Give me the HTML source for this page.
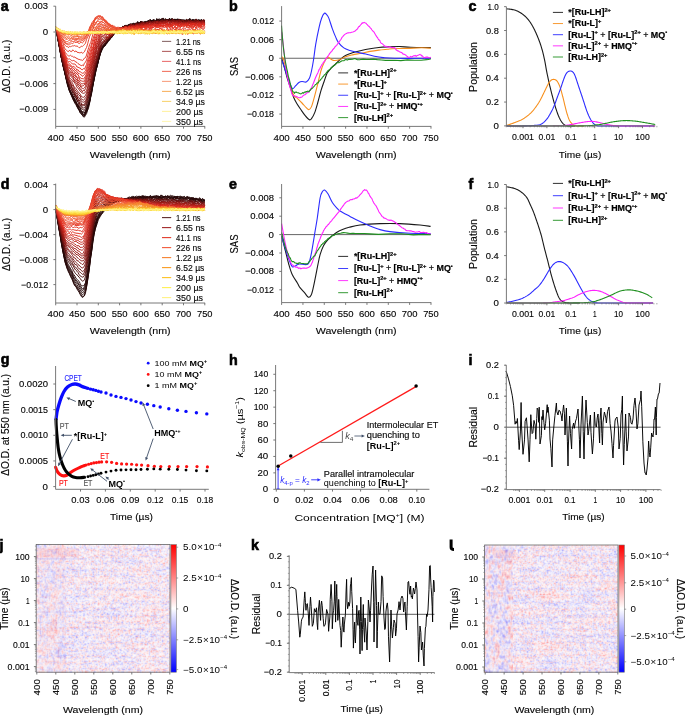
<!DOCTYPE html><html><head><meta charset="utf-8"><style>html,body{margin:0;padding:0;background:#fff;}svg{display:block;will-change:transform;}text{font-family:"Liberation Sans",sans-serif;}</style></head><body><svg width="685" height="715" viewBox="0 0 685 715" font-family="Liberation Sans, sans-serif">
<rect width="685" height="715" fill="#fff"/>
<text x="0.8" y="11" font-size="14.3" font-weight="bold" fill="#000" stroke="#000" stroke-width="0.6">a</text>
<path d="M55.7 27.54 L56.76 32.44 L57.83 39.16 L58.89 44.05 L59.96 50.84 L61.02 56.7 L62.09 60.73 L63.15 66.23 L64.21 70.78 L65.28 75.05 L66.34 79.68 L67.41 84.66 L68.47 87.86 L69.54 91.55 L70.6 93.78 L71.66 96.21 L72.73 98.9 L73.79 101.12 L74.86 103.29 L75.92 104.69 L76.98 106.77 L78.05 108.89 L79.11 110.58 L80.18 113.04 L81.24 114.05 L82.31 115.35 L83.37 116.12 L84.43 117.11 L85.5 115.15 L86.56 113.66 L87.63 109.99 L88.69 107.31 L89.76 102.48 L90.82 96.14 L91.88 92.6 L92.95 85.46 L94.01 79.93 L95.08 75.01 L96.14 70.06 L97.21 65.83 L98.27 61.45 L99.33 57.74 L100.4 53.93 L101.46 50.94 L102.53 49.06 L103.59 46.96 L104.66 45.91 L105.72 43.54 L106.78 43.78 L107.85 42.07 L108.91 40.69 L109.98 39.91 L111.04 36.42 L112.11 37.23 L113.17 34.81 L114.23 33.73 L115.3 31.48 L116.36 32.96 L117.43 29.36 L118.49 30.09 L119.56 28.93 L120.62 28.85 L121.68 27.3 L122.75 28.47 L123.81 27.26 L124.88 26.53 L125.94 24.9 L127 28.22 L128.07 24.52 L129.13 24.72 L130.2 25.67 L131.26 24.73 L132.33 25.13 L133.39 23.06 L134.45 24.04 L135.52 24.16 L136.58 23.93 L137.65 23.66 L138.71 23.41 L139.78 23.8 L140.84 21.05 L141.9 24.26 L142.97 25.51 L144.03 22.32 L145.1 22.15 L146.16 21.52 L147.23 21.83 L148.29 21.61 L149.35 21.03 L150.42 20.33 L151.48 21.4 L152.55 21.2 L153.61 19.09 L154.68 20.2 L155.74 21.41 L156.8 18.49 L157.87 19.75 L158.93 20.86 L160 21.3 L161.06 19.97 L162.12 20.88 L163.19 21.01 L164.25 21.15 L165.32 20.41 L166.38 18.97 L167.45 20.25 L168.51 21.08 L169.57 19.22 L170.64 19.72 L171.7 19.03 L172.77 18.72 L173.83 19.92 L174.9 19.94 L175.96 19.92 L177.02 20.95 L178.09 19.5 L179.15 19 L180.22 20.13 L181.28 20.57 L182.35 20.65 L183.41 21.15 L184.47 21.21 L185.54 20.89 L186.6 21.29 L187.67 20.96 L188.73 21.96 L189.8 20.31 L190.86 20.58 L191.92 21.63 L192.99 22.63 L194.05 20.67 L195.12 19.72 L196.18 21.31 L197.25 21.11 L198.31 21.2 L199.37 20.16 L200.44 21.52 L201.5 19.9 L202.57 21.03 L203.63 19.99 L204.69 20.77" fill="none" stroke="#260808" stroke-width="0.95" stroke-linejoin="round"/>
<path d="M55.7 27.71 L56.76 33.78 L57.83 38.93 L58.89 44.58 L59.96 50.23 L61.02 56.28 L62.09 61.9 L63.15 65.92 L64.21 70.05 L65.28 75.29 L66.34 80.26 L67.41 84.59 L68.47 87.46 L69.54 90.46 L70.6 93.73 L71.66 95.43 L72.73 98.08 L73.79 100.34 L74.86 101.4 L75.92 103.72 L76.98 106.61 L78.05 108.23 L79.11 109.89 L80.18 112.21 L81.24 113.58 L82.31 114.63 L83.37 116.93 L84.43 115.98 L85.5 114.04 L86.56 111.83 L87.63 109.89 L88.69 105.47 L89.76 101.66 L90.82 95.9 L91.88 90.65 L92.95 85.27 L94.01 80.03 L95.08 74.71 L96.14 69.44 L97.21 66.17 L98.27 61.36 L99.33 57.02 L100.4 53.46 L101.46 49.11 L102.53 48.26 L103.59 45.61 L104.66 46.36 L105.72 45.09 L106.78 42.18 L107.85 41.06 L108.91 40.27 L109.98 38.79 L111.04 38.33 L112.11 36.28 L113.17 35.17 L114.23 33.57 L115.3 31.87 L116.36 31.21 L117.43 29.98 L118.49 30.08 L119.56 29.2 L120.62 28.2 L121.68 28.12 L122.75 26.43 L123.81 27.98 L124.88 25.24 L125.94 27.36 L127 25.27 L128.07 26.53 L129.13 24.16 L130.2 25.18 L131.26 24.69 L132.33 24.13 L133.39 25.06 L134.45 25.16 L135.52 25.76 L136.58 22.73 L137.65 24.14 L138.71 23.82 L139.78 23.11 L140.84 21.16 L141.9 24.15 L142.97 22.24 L144.03 22.6 L145.1 21.61 L146.16 23.43 L147.23 22.04 L148.29 20.81 L149.35 20.02 L150.42 19.83 L151.48 21.8 L152.55 20.88 L153.61 20.91 L154.68 21.89 L155.74 21.86 L156.8 19.88 L157.87 20.25 L158.93 20.52 L160 19.29 L161.06 21.14 L162.12 19.76 L163.19 20.14 L164.25 20.13 L165.32 19.6 L166.38 19.82 L167.45 19.69 L168.51 19.65 L169.57 18.18 L170.64 20.09 L171.7 18.93 L172.77 19.28 L173.83 20.12 L174.9 19.17 L175.96 20.66 L177.02 19.02 L178.09 20.81 L179.15 20.64 L180.22 20.04 L181.28 19.68 L182.35 19.68 L183.41 19.75 L184.47 20.73 L185.54 21.4 L186.6 20.13 L187.67 20.36 L188.73 21.45 L189.8 19.81 L190.86 20.48 L191.92 21.49 L192.99 20.29 L194.05 21.82 L195.12 21.45 L196.18 20.36 L197.25 22.06 L198.31 20.7 L199.37 21.91 L200.44 20.13 L201.5 21.4 L202.57 20.64 L203.63 22.1 L204.69 21.12" fill="none" stroke="#260808" stroke-width="0.95" stroke-linejoin="round"/>
<path d="M55.7 27.1 L56.76 32.72 L57.83 39.42 L58.89 43.83 L59.96 49.95 L61.02 56.43 L62.09 60.62 L63.15 66.47 L64.21 70.38 L65.28 74.4 L66.34 79.09 L67.41 83.43 L68.47 88.12 L69.54 91.3 L70.6 92.67 L71.66 95.95 L72.73 97.47 L73.79 100.17 L74.86 101.03 L75.92 103.25 L76.98 105.46 L78.05 107.76 L79.11 109.61 L80.18 111.51 L81.24 112.79 L82.31 114.3 L83.37 115.2 L84.43 115.79 L85.5 112.87 L86.56 111.36 L87.63 107.88 L88.69 104.36 L89.76 101.09 L90.82 96.5 L91.88 89.77 L92.95 85.07 L94.01 79.09 L95.08 74.07 L96.14 69.36 L97.21 65.9 L98.27 61.28 L99.33 57.17 L100.4 53.01 L101.46 51.26 L102.53 47.62 L103.59 46.32 L104.66 46.02 L105.72 44.15 L106.78 42.53 L107.85 40.95 L108.91 40.02 L109.98 37.97 L111.04 37.28 L112.11 36.43 L113.17 34.97 L114.23 33.06 L115.3 32.65 L116.36 30.54 L117.43 29.43 L118.49 28.99 L119.56 27.97 L120.62 28.47 L121.68 27.91 L122.75 28.06 L123.81 27.78 L124.88 28.24 L125.94 27.03 L127 27.14 L128.07 27.14 L129.13 25.49 L130.2 24.95 L131.26 25.37 L132.33 23.64 L133.39 23.75 L134.45 23.42 L135.52 24.59 L136.58 25.11 L137.65 23.11 L138.71 23.09 L139.78 22.51 L140.84 22.56 L141.9 21.63 L142.97 22.76 L144.03 21.74 L145.1 22.89 L146.16 23.92 L147.23 22.14 L148.29 20.29 L149.35 22.86 L150.42 20.39 L151.48 21.7 L152.55 21.33 L153.61 20.83 L154.68 20.58 L155.74 21.51 L156.8 20.48 L157.87 20.14 L158.93 19.74 L160 21.04 L161.06 19 L162.12 18.63 L163.19 18.12 L164.25 21.29 L165.32 19.93 L166.38 21.62 L167.45 19.65 L168.51 19.46 L169.57 20.89 L170.64 21.24 L171.7 19.7 L172.77 19.32 L173.83 20.55 L174.9 20.14 L175.96 22.15 L177.02 20.67 L178.09 20.04 L179.15 20.14 L180.22 19 L181.28 21.42 L182.35 22.44 L183.41 20.17 L184.47 21.1 L185.54 20.37 L186.6 20.02 L187.67 20.14 L188.73 19.43 L189.8 19.51 L190.86 22.12 L191.92 20.75 L192.99 18.99 L194.05 21.07 L195.12 19.89 L196.18 20.78 L197.25 21.11 L198.31 19.4 L199.37 19.88 L200.44 21 L201.5 20.03 L202.57 21.96 L203.63 21.47 L204.69 20.09" fill="none" stroke="#260808" stroke-width="0.95" stroke-linejoin="round"/>
<path d="M55.7 27.56 L56.76 33.42 L57.83 38.1 L58.89 43.98 L59.96 49.56 L61.02 55.53 L62.09 61.26 L63.15 65.92 L64.21 70.13 L65.28 74.78 L66.34 78.67 L67.41 82.89 L68.47 86.44 L69.54 89.73 L70.6 92.51 L71.66 94.23 L72.73 97.05 L73.79 98.82 L74.86 101.86 L75.92 103.28 L76.98 104.39 L78.05 107.66 L79.11 109.75 L80.18 110.77 L81.24 111.45 L82.31 112.99 L83.37 114.91 L84.43 115.09 L85.5 113.17 L86.56 111.25 L87.63 107.84 L88.69 104.46 L89.76 100.67 L90.82 95.22 L91.88 89.87 L92.95 84.66 L94.01 79.1 L95.08 72.88 L96.14 67.9 L97.21 64.92 L98.27 60.97 L99.33 56.24 L100.4 52.73 L101.46 50.1 L102.53 47 L103.59 46.75 L104.66 45.27 L105.72 43.91 L106.78 42.84 L107.85 41.26 L108.91 39.6 L109.98 37.84 L111.04 36.88 L112.11 35.84 L113.17 35.23 L114.23 33.46 L115.3 32.81 L116.36 31.36 L117.43 29.49 L118.49 29.35 L119.56 29.06 L120.62 29.01 L121.68 27.96 L122.75 27.5 L123.81 28.1 L124.88 27.38 L125.94 25.84 L127 27.7 L128.07 26.34 L129.13 26.67 L130.2 24.06 L131.26 24.61 L132.33 24.43 L133.39 24.28 L134.45 24.13 L135.52 23.88 L136.58 25.25 L137.65 23.43 L138.71 22.91 L139.78 24.43 L140.84 22.28 L141.9 22.21 L142.97 23.89 L144.03 22.79 L145.1 22.46 L146.16 22.46 L147.23 21.49 L148.29 22.75 L149.35 21.68 L150.42 21.14 L151.48 20.57 L152.55 21.02 L153.61 21.15 L154.68 20.25 L155.74 22.46 L156.8 19.86 L157.87 20.86 L158.93 21.6 L160 20.84 L161.06 21.98 L162.12 22.1 L163.19 20.55 L164.25 20.87 L165.32 19.52 L166.38 20.86 L167.45 21.16 L168.51 20.83 L169.57 18.5 L170.64 19.92 L171.7 20.46 L172.77 20.78 L173.83 20.89 L174.9 20.12 L175.96 19.68 L177.02 19.14 L178.09 19.24 L179.15 20.1 L180.22 20.99 L181.28 21.24 L182.35 22.55 L183.41 21.49 L184.47 20.28 L185.54 20.96 L186.6 20.37 L187.67 21.86 L188.73 19.94 L189.8 20.47 L190.86 20.7 L191.92 20.4 L192.99 22.68 L194.05 21.24 L195.12 21.54 L196.18 19.22 L197.25 20.95 L198.31 21.24 L199.37 20.09 L200.44 21.74 L201.5 19.63 L202.57 21.48 L203.63 20.94 L204.69 21.7" fill="none" stroke="#260808" stroke-width="0.95" stroke-linejoin="round"/>
<path d="M55.7 27.16 L56.76 33.91 L57.83 37.85 L58.89 44.41 L59.96 50.01 L61.02 56.4 L62.09 60.76 L63.15 65.31 L64.21 69.47 L65.28 74.19 L66.34 78.76 L67.41 82.82 L68.47 86.93 L69.54 90.09 L70.6 92.56 L71.66 93.84 L72.73 96.53 L73.79 97.85 L74.86 100.4 L75.92 102.99 L76.98 104.05 L78.05 105.49 L79.11 108.43 L80.18 110.51 L81.24 112.07 L82.31 112.59 L83.37 114.32 L84.43 114.33 L85.5 112.04 L86.56 110.03 L87.63 107.07 L88.69 103.85 L89.76 99.52 L90.82 94.15 L91.88 88.99 L92.95 83.27 L94.01 78.17 L95.08 72.6 L96.14 68.1 L97.21 64.22 L98.27 59.98 L99.33 55.55 L100.4 52.13 L101.46 49.31 L102.53 47.91 L103.59 45.77 L104.66 44.7 L105.72 43.53 L106.78 42.64 L107.85 40.7 L108.91 38.46 L109.98 38.27 L111.04 37.1 L112.11 35.59 L113.17 34.86 L114.23 33.36 L115.3 32.67 L116.36 31.83 L117.43 30.14 L118.49 29.35 L119.56 29 L120.62 29.07 L121.68 27.75 L122.75 28.56 L123.81 26.67 L124.88 27.28 L125.94 26.64 L127 25.64 L128.07 25.53 L129.13 26.83 L130.2 25.66 L131.26 24.87 L132.33 25.87 L133.39 26.75 L134.45 24.5 L135.52 24.23 L136.58 23.58 L137.65 23.65 L138.71 23.38 L139.78 23.06 L140.84 21.87 L141.9 22.43 L142.97 22.18 L144.03 22.79 L145.1 21.3 L146.16 22.24 L147.23 21.26 L148.29 23.54 L149.35 21.35 L150.42 21.49 L151.48 21.66 L152.55 20.03 L153.61 20.67 L154.68 21.04 L155.74 21.27 L156.8 19.13 L157.87 20.03 L158.93 20.04 L160 21.19 L161.06 19.36 L162.12 19.94 L163.19 20.57 L164.25 20.36 L165.32 21.61 L166.38 19.6 L167.45 21.05 L168.51 19.35 L169.57 20.42 L170.64 20.55 L171.7 19.69 L172.77 19.82 L173.83 20.98 L174.9 20.11 L175.96 19.59 L177.02 20.41 L178.09 21.45 L179.15 20.6 L180.22 21.31 L181.28 21.05 L182.35 20.58 L183.41 20.71 L184.47 20.88 L185.54 22.14 L186.6 20.44 L187.67 20.92 L188.73 21.11 L189.8 20.64 L190.86 19.13 L191.92 21.9 L192.99 22.18 L194.05 20.15 L195.12 21.49 L196.18 19.71 L197.25 21.68 L198.31 21.27 L199.37 20.15 L200.44 20.1 L201.5 20.52 L202.57 20.53 L203.63 21.05 L204.69 21.34" fill="none" stroke="#260808" stroke-width="0.95" stroke-linejoin="round"/>
<path d="M55.7 27.68 L56.76 32.04 L57.83 37.68 L58.89 43.78 L59.96 49.64 L61.02 55.12 L62.09 59.98 L63.15 65.16 L64.21 69.47 L65.28 73.8 L66.34 77.32 L67.41 82.75 L68.47 85.56 L69.54 89.71 L70.6 90.87 L71.66 94.28 L72.73 96.23 L73.79 98.03 L74.86 99.78 L75.92 101.64 L76.98 103.57 L78.05 105.6 L79.11 107.76 L80.18 107.88 L81.24 110.6 L82.31 111.86 L83.37 112.11 L84.43 112.73 L85.5 111.21 L86.56 108.98 L87.63 105.27 L88.69 103.23 L89.76 98.8 L90.82 93.3 L91.88 89.3 L92.95 83.2 L94.01 76.6 L95.08 72.32 L96.14 67.6 L97.21 63.29 L98.27 60.3 L99.33 55.41 L100.4 52.09 L101.46 49.49 L102.53 47.17 L103.59 45.64 L104.66 44.57 L105.72 43.46 L106.78 41.52 L107.85 40.23 L108.91 39.35 L109.98 38.43 L111.04 37.6 L112.11 36.17 L113.17 35.08 L114.23 33.28 L115.3 31.85 L116.36 30.52 L117.43 30.38 L118.49 29.9 L119.56 28.79 L120.62 28.33 L121.68 27.51 L122.75 26.42 L123.81 27.97 L124.88 25.25 L125.94 28.49 L127 27.89 L128.07 27.36 L129.13 26.66 L130.2 25.71 L131.26 23.5 L132.33 25.6 L133.39 23.82 L134.45 24.82 L135.52 24.14 L136.58 24.9 L137.65 21.86 L138.71 23.6 L139.78 23.87 L140.84 21.2 L141.9 22.78 L142.97 22.38 L144.03 22.66 L145.1 23.06 L146.16 23.38 L147.23 22.14 L148.29 20.44 L149.35 21.29 L150.42 21.65 L151.48 20.46 L152.55 22.02 L153.61 19.94 L154.68 21.02 L155.74 21.62 L156.8 20.26 L157.87 20.32 L158.93 20.99 L160 20.45 L161.06 19.74 L162.12 19.31 L163.19 21.15 L164.25 22.6 L165.32 18.56 L166.38 20.48 L167.45 20.56 L168.51 19.8 L169.57 20.5 L170.64 19.22 L171.7 21.15 L172.77 20.26 L173.83 21.17 L174.9 18.84 L175.96 20.41 L177.02 19.35 L178.09 19.19 L179.15 21.49 L180.22 20.75 L181.28 20.02 L182.35 20.65 L183.41 20.85 L184.47 20.05 L185.54 20.01 L186.6 21.31 L187.67 20.93 L188.73 20.28 L189.8 20.66 L190.86 20.72 L191.92 21.81 L192.99 19.36 L194.05 21.06 L195.12 20.65 L196.18 20.91 L197.25 20.84 L198.31 20.78 L199.37 21.64 L200.44 20.62 L201.5 19.94 L202.57 20.64 L203.63 20.39 L204.69 20.61" fill="none" stroke="#260808" stroke-width="0.95" stroke-linejoin="round"/>
<path d="M55.7 27.55 L56.76 31.65 L57.83 38.21 L58.89 43.36 L59.96 49.01 L61.02 55.09 L62.09 60.78 L63.15 65.27 L64.21 68.22 L65.28 74.01 L66.34 78.17 L67.41 82.05 L68.47 85.57 L69.54 89.19 L70.6 91.59 L71.66 92.88 L72.73 95.3 L73.79 97.04 L74.86 98.83 L75.92 100.79 L76.98 103.56 L78.05 105.67 L79.11 106.12 L80.18 108.59 L81.24 110.44 L82.31 112.24 L83.37 111.86 L84.43 112.83 L85.5 111 L86.56 107.78 L87.63 105.02 L88.69 101.34 L89.76 97.93 L90.82 93.86 L91.88 87.81 L92.95 82.04 L94.01 76.66 L95.08 70.81 L96.14 66.73 L97.21 63.46 L98.27 58.74 L99.33 55.02 L100.4 51.48 L101.46 47.86 L102.53 47.44 L103.59 44.69 L104.66 43.48 L105.72 43.9 L106.78 41.86 L107.85 40.7 L108.91 40.05 L109.98 38.54 L111.04 37.37 L112.11 35.64 L113.17 34.76 L114.23 34.47 L115.3 31.7 L116.36 30.53 L117.43 31.1 L118.49 28.86 L119.56 27.24 L120.62 29.81 L121.68 28.42 L122.75 28.17 L123.81 26.96 L124.88 27.36 L125.94 27.96 L127 25.36 L128.07 26.42 L129.13 25.24 L130.2 23.63 L131.26 25.97 L132.33 25.44 L133.39 24.06 L134.45 24.69 L135.52 23.91 L136.58 24.13 L137.65 21.48 L138.71 23.12 L139.78 23.15 L140.84 23.12 L141.9 22.69 L142.97 24.23 L144.03 22.87 L145.1 21.81 L146.16 23.3 L147.23 22.05 L148.29 22 L149.35 22.2 L150.42 19.46 L151.48 20.85 L152.55 21.05 L153.61 21.89 L154.68 21.04 L155.74 21.28 L156.8 21.02 L157.87 20.68 L158.93 18.65 L160 19.59 L161.06 19.21 L162.12 19.43 L163.19 18.11 L164.25 21.03 L165.32 21.51 L166.38 20.18 L167.45 20.09 L168.51 20.24 L169.57 20.77 L170.64 19.62 L171.7 18.71 L172.77 20 L173.83 20.4 L174.9 19.21 L175.96 20.56 L177.02 20.68 L178.09 20.2 L179.15 22.52 L180.22 19.02 L181.28 20.81 L182.35 20.33 L183.41 20.55 L184.47 20.49 L185.54 22.01 L186.6 19.35 L187.67 20.4 L188.73 20.64 L189.8 18.2 L190.86 22 L191.92 20.28 L192.99 21.01 L194.05 22.22 L195.12 19.27 L196.18 22.29 L197.25 20.84 L198.31 21.05 L199.37 20.83 L200.44 21.82 L201.5 19.85 L202.57 20.83 L203.63 22.17 L204.69 22.14" fill="none" stroke="#2a0808" stroke-width="0.95" stroke-linejoin="round"/>
<path d="M55.7 27.42 L56.76 32.93 L57.83 37.23 L58.89 42.87 L59.96 49.23 L61.02 55.54 L62.09 60.14 L63.15 63.68 L64.21 68.36 L65.28 71.55 L66.34 77.28 L67.41 80.9 L68.47 83.92 L69.54 86.77 L70.6 88.88 L71.66 90.64 L72.73 93.24 L73.79 94.92 L74.86 97.19 L75.92 97.89 L76.98 100.77 L78.05 102.31 L79.11 106.03 L80.18 106.36 L81.24 108.22 L82.31 108.95 L83.37 110.05 L84.43 110.37 L85.5 108.26 L86.56 105.31 L87.63 102.24 L88.69 99.52 L89.76 94.41 L90.82 90.46 L91.88 84.83 L92.95 80.27 L94.01 73.83 L95.08 68.23 L96.14 65.33 L97.21 60.66 L98.27 58.27 L99.33 53.91 L100.4 48.64 L101.46 47.36 L102.53 45.32 L103.59 45.18 L104.66 43.29 L105.72 42.6 L106.78 40.6 L107.85 40.44 L108.91 37.77 L109.98 38.5 L111.04 36.55 L112.11 36.54 L113.17 34.57 L114.23 32.68 L115.3 32.36 L116.36 32.44 L117.43 30.01 L118.49 28.86 L119.56 28.68 L120.62 27.72 L121.68 29.4 L122.75 26.28 L123.81 26.95 L124.88 29.04 L125.94 25.29 L127 27 L128.07 25.86 L129.13 27.73 L130.2 26.31 L131.26 27.09 L132.33 24.55 L133.39 25.23 L134.45 25.59 L135.52 24.88 L136.58 23.36 L137.65 24.77 L138.71 23.39 L139.78 24.68 L140.84 24.88 L141.9 23.66 L142.97 23.29 L144.03 22.7 L145.1 21.86 L146.16 22.85 L147.23 22.63 L148.29 21.5 L149.35 21.63 L150.42 21.89 L151.48 21.5 L152.55 23.46 L153.61 21.93 L154.68 22.74 L155.74 21.57 L156.8 20.41 L157.87 22.56 L158.93 20.25 L160 21.47 L161.06 21.1 L162.12 21.25 L163.19 20.16 L164.25 21.28 L165.32 22.43 L166.38 20.31 L167.45 20.67 L168.51 19.97 L169.57 19.96 L170.64 21.49 L171.7 20.26 L172.77 20.33 L173.83 20.51 L174.9 20.39 L175.96 20.26 L177.02 21.08 L178.09 20.82 L179.15 19.93 L180.22 21.77 L181.28 20.99 L182.35 21.84 L183.41 21.92 L184.47 21.39 L185.54 20.9 L186.6 19.75 L187.67 21.24 L188.73 20.27 L189.8 20.61 L190.86 21.02 L191.92 23.75 L192.99 20.98 L194.05 21.05 L195.12 21.99 L196.18 21 L197.25 19.85 L198.31 22.13 L199.37 21.59 L200.44 20.39 L201.5 22.74 L202.57 22.11 L203.63 20.99 L204.69 20.44" fill="none" stroke="#420b0b" stroke-width="0.95" stroke-linejoin="round"/>
<path d="M55.7 26.92 L56.76 31.75 L57.83 35.95 L58.89 42.45 L59.96 49.13 L61.02 54.11 L62.09 58.55 L63.15 63.03 L64.21 68.39 L65.28 71.54 L66.34 76.61 L67.41 80.26 L68.47 82.48 L69.54 85.78 L70.6 88.19 L71.66 89.95 L72.73 92.17 L73.79 92.66 L74.86 95.14 L75.92 96.98 L76.98 99.69 L78.05 101.5 L79.11 102.75 L80.18 105.59 L81.24 105.44 L82.31 107.92 L83.37 108.01 L84.43 107.86 L85.5 106.73 L86.56 103.75 L87.63 100.62 L88.69 96.46 L89.76 92.99 L90.82 87.5 L91.88 83.27 L92.95 78.37 L94.01 72.45 L95.08 68.3 L96.14 63.79 L97.21 59.74 L98.27 55.79 L99.33 52.41 L100.4 49.85 L101.46 45.81 L102.53 44.74 L103.59 43.84 L104.66 43.13 L105.72 41.42 L106.78 40.64 L107.85 39.47 L108.91 38.87 L109.98 36.91 L111.04 36.68 L112.11 35.18 L113.17 34.18 L114.23 32.73 L115.3 32.65 L116.36 31.6 L117.43 30.66 L118.49 30.3 L119.56 29.7 L120.62 29.69 L121.68 27.62 L122.75 26.66 L123.81 28.51 L124.88 26.68 L125.94 28.01 L127 27.41 L128.07 26.7 L129.13 26.06 L130.2 25.51 L131.26 27.32 L132.33 26.55 L133.39 25.11 L134.45 25.16 L135.52 22.89 L136.58 24.73 L137.65 24.82 L138.71 23.01 L139.78 26.12 L140.84 25.22 L141.9 21.08 L142.97 23.76 L144.03 22.97 L145.1 23.01 L146.16 23.44 L147.23 22.63 L148.29 23.47 L149.35 21.36 L150.42 21.37 L151.48 21.31 L152.55 22.56 L153.61 23.32 L154.68 21.97 L155.74 22.4 L156.8 21.05 L157.87 22.69 L158.93 22.03 L160 21.06 L161.06 20.74 L162.12 20.96 L163.19 22.05 L164.25 21.47 L165.32 19.11 L166.38 19.97 L167.45 21.44 L168.51 19.06 L169.57 20.78 L170.64 20.65 L171.7 21.34 L172.77 19.32 L173.83 20.54 L174.9 20.73 L175.96 21.5 L177.02 21.88 L178.09 20.71 L179.15 20.94 L180.22 19.68 L181.28 21.86 L182.35 21.44 L183.41 20.31 L184.47 20.48 L185.54 21.77 L186.6 19.95 L187.67 20.8 L188.73 20.44 L189.8 20.92 L190.86 20.38 L191.92 21.57 L192.99 21.4 L194.05 20.29 L195.12 20.89 L196.18 20.92 L197.25 20.27 L198.31 21.06 L199.37 20.93 L200.44 23.19 L201.5 21.77 L202.57 20.64 L203.63 22.13 L204.69 21.65" fill="none" stroke="#520d0c" stroke-width="0.95" stroke-linejoin="round"/>
<path d="M55.7 27.43 L56.76 32.04 L57.83 36.4 L58.89 42.04 L59.96 48.12 L61.02 52.96 L62.09 58.52 L63.15 62.99 L64.21 66.58 L65.28 70.7 L66.34 75.5 L67.41 79.84 L68.47 82.54 L69.54 84.54 L70.6 86.37 L71.66 87.78 L72.73 90.66 L73.79 92.52 L74.86 95.32 L75.92 95.39 L76.98 97.41 L78.05 99.68 L79.11 101.73 L80.18 104.25 L81.24 104 L82.31 106.05 L83.37 105.62 L84.43 105.93 L85.5 103.94 L86.56 102.27 L87.63 98.61 L88.69 96.41 L89.76 90.71 L90.82 86.77 L91.88 82.49 L92.95 76.92 L94.01 71.9 L95.08 66.49 L96.14 62.91 L97.21 59.46 L98.27 55.38 L99.33 51.6 L100.4 48.03 L101.46 45.25 L102.53 43.39 L103.59 42.78 L104.66 41.27 L105.72 42.48 L106.78 40.41 L107.85 38.97 L108.91 39.17 L109.98 37.56 L111.04 36.24 L112.11 36.04 L113.17 34.49 L114.23 32.91 L115.3 32.44 L116.36 30.03 L117.43 28.47 L118.49 29.84 L119.56 30.18 L120.62 28.76 L121.68 28.83 L122.75 29.25 L123.81 28.1 L124.88 27.83 L125.94 27.43 L127 26.03 L128.07 25.63 L129.13 25.93 L130.2 26.34 L131.26 25.43 L132.33 25.53 L133.39 25.13 L134.45 25.93 L135.52 27.51 L136.58 23.88 L137.65 24.93 L138.71 24.62 L139.78 23.99 L140.84 23.82 L141.9 23.83 L142.97 22.07 L144.03 23.09 L145.1 22.82 L146.16 23.6 L147.23 22.76 L148.29 22.12 L149.35 22.42 L150.42 21.93 L151.48 22.88 L152.55 21.63 L153.61 22.71 L154.68 22.11 L155.74 22.3 L156.8 21.41 L157.87 20.55 L158.93 21.17 L160 22.1 L161.06 21.17 L162.12 20.33 L163.19 20.51 L164.25 20.63 L165.32 21.96 L166.38 21.42 L167.45 21.49 L168.51 21.28 L169.57 20.64 L170.64 20.78 L171.7 21.1 L172.77 20.31 L173.83 21.41 L174.9 21.11 L175.96 20.79 L177.02 22.11 L178.09 21.75 L179.15 22.29 L180.22 22.06 L181.28 21.34 L182.35 21.37 L183.41 21 L184.47 21.03 L185.54 22.29 L186.6 19.73 L187.67 20.18 L188.73 22.38 L189.8 21.92 L190.86 21.74 L191.92 21.16 L192.99 20.81 L194.05 21.33 L195.12 23.53 L196.18 18.89 L197.25 20.63 L198.31 20.67 L199.37 22.03 L200.44 21.33 L201.5 20.65 L202.57 21.87 L203.63 20.52 L204.69 21.44" fill="none" stroke="#600f0e" stroke-width="0.95" stroke-linejoin="round"/>
<path d="M55.7 26.74 L56.76 31.76 L57.83 35.78 L58.89 42.72 L59.96 46.85 L61.02 52.79 L62.09 57.97 L63.15 61.47 L64.21 66.22 L65.28 69.88 L66.34 74.13 L67.41 77.86 L68.47 80.15 L69.54 82.86 L70.6 84.27 L71.66 87.08 L72.73 89.18 L73.79 90.83 L74.86 92.81 L75.92 95.2 L76.98 96.28 L78.05 98.71 L79.11 99.89 L80.18 101.42 L81.24 102.98 L82.31 104.47 L83.37 104.56 L84.43 104.5 L85.5 102.06 L86.56 100.01 L87.63 96.84 L88.69 94.01 L89.76 89.73 L90.82 85.55 L91.88 80.54 L92.95 74.62 L94.01 69.85 L95.08 65.12 L96.14 61.32 L97.21 56.59 L98.27 53.89 L99.33 49.68 L100.4 47.06 L101.46 44.11 L102.53 43.62 L103.59 42.87 L104.66 40.84 L105.72 40.76 L106.78 39.72 L107.85 38.57 L108.91 37.76 L109.98 37.01 L111.04 36.72 L112.11 35.42 L113.17 34.04 L114.23 32.81 L115.3 31.96 L116.36 31.02 L117.43 31.17 L118.49 29.81 L119.56 28.41 L120.62 29.52 L121.68 28.9 L122.75 27.32 L123.81 26.47 L124.88 27.17 L125.94 27.21 L127 27.74 L128.07 26.76 L129.13 27.07 L130.2 26.03 L131.26 25.31 L132.33 25.3 L133.39 24.35 L134.45 26.1 L135.52 26.09 L136.58 23.62 L137.65 23.67 L138.71 25.18 L139.78 24.02 L140.84 24.85 L141.9 23.75 L142.97 23.28 L144.03 22.54 L145.1 24.01 L146.16 24.1 L147.23 22.36 L148.29 22.98 L149.35 21.34 L150.42 23.37 L151.48 22.81 L152.55 24.47 L153.61 21.06 L154.68 20.79 L155.74 21.48 L156.8 22.01 L157.87 23.41 L158.93 22.78 L160 22 L161.06 19.85 L162.12 20.64 L163.19 21.83 L164.25 20.88 L165.32 20.71 L166.38 20.7 L167.45 21.88 L168.51 21.43 L169.57 20.18 L170.64 20.41 L171.7 21.28 L172.77 18.9 L173.83 20.75 L174.9 21.37 L175.96 20.29 L177.02 20.43 L178.09 21.3 L179.15 19.72 L180.22 20.4 L181.28 21.36 L182.35 20.81 L183.41 20.87 L184.47 21.7 L185.54 20.84 L186.6 21.92 L187.67 21.67 L188.73 20.9 L189.8 22.53 L190.86 21.75 L191.92 22.28 L192.99 20.85 L194.05 21.95 L195.12 19.9 L196.18 20.16 L197.25 22.06 L198.31 21.36 L199.37 21.82 L200.44 21.54 L201.5 20.99 L202.57 20.32 L203.63 19.76 L204.69 20.07" fill="none" stroke="#6d110f" stroke-width="0.95" stroke-linejoin="round"/>
<path d="M55.7 28.19 L56.76 31.83 L57.83 36.31 L58.89 41.65 L59.96 47.02 L61.02 52.13 L62.09 57.38 L63.15 61.63 L64.21 64.13 L65.28 69.13 L66.34 72.6 L67.41 77.67 L68.47 79.45 L69.54 81.47 L70.6 83.54 L71.66 86.41 L72.73 87.49 L73.79 89.87 L74.86 91.74 L75.92 92.89 L76.98 94.36 L78.05 96.43 L79.11 97.98 L80.18 99.07 L81.24 101.13 L82.31 101.75 L83.37 102.2 L84.43 102.08 L85.5 100.39 L86.56 98.74 L87.63 95.32 L88.69 91.83 L89.76 87.07 L90.82 83.72 L91.88 78 L92.95 73.85 L94.01 67.55 L95.08 63.53 L96.14 59.31 L97.21 55.3 L98.27 51.48 L99.33 49.4 L100.4 45.74 L101.46 44.45 L102.53 42.18 L103.59 41.61 L104.66 40.26 L105.72 39.96 L106.78 39.2 L107.85 39.07 L108.91 37.85 L109.98 37.35 L111.04 35.81 L112.11 35.65 L113.17 33.76 L114.23 32.45 L115.3 30.81 L116.36 30 L117.43 29.36 L118.49 29.12 L119.56 27.9 L120.62 28.85 L121.68 28.13 L122.75 29.76 L123.81 28.32 L124.88 26.61 L125.94 28.77 L127 26.75 L128.07 26.8 L129.13 26.82 L130.2 26 L131.26 26.02 L132.33 26.77 L133.39 25.67 L134.45 26.92 L135.52 23.88 L136.58 24.96 L137.65 23.97 L138.71 25.29 L139.78 22.74 L140.84 23.24 L141.9 23.62 L142.97 23.54 L144.03 23.22 L145.1 24 L146.16 23.33 L147.23 23.23 L148.29 22.57 L149.35 21.43 L150.42 21.62 L151.48 22.24 L152.55 21.81 L153.61 22.48 L154.68 22.55 L155.74 23.43 L156.8 23.05 L157.87 22.91 L158.93 21.89 L160 21.91 L161.06 21.33 L162.12 20.64 L163.19 20.96 L164.25 21.58 L165.32 21.8 L166.38 21.6 L167.45 20.79 L168.51 22.06 L169.57 22.53 L170.64 21.41 L171.7 20.32 L172.77 20.17 L173.83 20.7 L174.9 22.87 L175.96 21.41 L177.02 20.73 L178.09 20.47 L179.15 19.89 L180.22 22.32 L181.28 21.25 L182.35 22.93 L183.41 21.81 L184.47 21.97 L185.54 20.94 L186.6 21.5 L187.67 23.13 L188.73 21.74 L189.8 21.32 L190.86 20.38 L191.92 22.24 L192.99 22.35 L194.05 22.12 L195.12 20.75 L196.18 21.87 L197.25 21.57 L198.31 21.28 L199.37 22.38 L200.44 20.77 L201.5 23.11 L202.57 20.2 L203.63 22.36 L204.69 22.59" fill="none" stroke="#781211" stroke-width="0.95" stroke-linejoin="round"/>
<path d="M55.7 27.93 L56.76 31.98 L57.83 36.31 L58.89 41.43 L59.96 47.12 L61.02 51.87 L62.09 56.22 L63.15 60.79 L64.21 64.32 L65.28 68.88 L66.34 72.46 L67.41 76.28 L68.47 79.32 L69.54 80.76 L70.6 82.67 L71.66 84.63 L72.73 85.98 L73.79 87.31 L74.86 89.83 L75.92 91.1 L76.98 92.19 L78.05 94.16 L79.11 95.3 L80.18 95.89 L81.24 99.1 L82.31 99.4 L83.37 100.34 L84.43 99.18 L85.5 97.88 L86.56 96.41 L87.63 92.07 L88.69 89.05 L89.76 85.07 L90.82 80.36 L91.88 75.6 L92.95 71.21 L94.01 65.93 L95.08 60.53 L96.14 57.93 L97.21 54.26 L98.27 50.26 L99.33 47.82 L100.4 44.51 L101.46 42.01 L102.53 41.39 L103.59 40.39 L104.66 40.16 L105.72 39.22 L106.78 38.43 L107.85 37.91 L108.91 37.06 L109.98 36.17 L111.04 35.08 L112.11 35.13 L113.17 33.65 L114.23 32.08 L115.3 32.19 L116.36 31.48 L117.43 30.49 L118.49 30.46 L119.56 28.84 L120.62 28.9 L121.68 28.69 L122.75 27.62 L123.81 26.97 L124.88 28.93 L125.94 27.87 L127 27.4 L128.07 28.12 L129.13 26.09 L130.2 24.63 L131.26 25.54 L132.33 24.93 L133.39 27.47 L134.45 25.96 L135.52 26.5 L136.58 24.49 L137.65 25.06 L138.71 24.9 L139.78 24.13 L140.84 23.7 L141.9 22.76 L142.97 22.8 L144.03 23.01 L145.1 25.04 L146.16 22.41 L147.23 23.24 L148.29 24.48 L149.35 22.89 L150.42 23.1 L151.48 22.85 L152.55 21.83 L153.61 23.7 L154.68 21.89 L155.74 21.33 L156.8 23.25 L157.87 21.01 L158.93 22.71 L160 22.71 L161.06 21.2 L162.12 21.95 L163.19 23.43 L164.25 22.32 L165.32 21.12 L166.38 22.13 L167.45 22.03 L168.51 21.58 L169.57 21.57 L170.64 22.13 L171.7 22.32 L172.77 21.14 L173.83 20.47 L174.9 23.72 L175.96 21.23 L177.02 20.78 L178.09 22.45 L179.15 20.52 L180.22 23.09 L181.28 21.02 L182.35 20.48 L183.41 20.57 L184.47 24.18 L185.54 21.85 L186.6 22.75 L187.67 21.55 L188.73 20.68 L189.8 21.53 L190.86 20.47 L191.92 23.3 L192.99 22.58 L194.05 22.31 L195.12 21.29 L196.18 20.82 L197.25 22.59 L198.31 22.69 L199.37 21.15 L200.44 23.07 L201.5 21.48 L202.57 22.7 L203.63 22.11 L204.69 20.28" fill="none" stroke="#831412" stroke-width="0.95" stroke-linejoin="round"/>
<path d="M55.7 27.71 L56.76 31.14 L57.83 35.87 L58.89 40.17 L59.96 45.03 L61.02 50.61 L62.09 56.08 L63.15 59.22 L64.21 62.41 L65.28 67.63 L66.34 71.19 L67.41 74.96 L68.47 77.28 L69.54 79.4 L70.6 81.23 L71.66 81.87 L72.73 83.71 L73.79 86.33 L74.86 87.28 L75.92 88.68 L76.98 90.46 L78.05 91.38 L79.11 93.04 L80.18 94.1 L81.24 96.26 L82.31 97.01 L83.37 97.34 L84.43 97.01 L85.5 95.26 L86.56 92.99 L87.63 89.59 L88.69 85.11 L89.76 82.28 L90.82 78.31 L91.88 72.76 L92.95 68.58 L94.01 62.81 L95.08 58.33 L96.14 54.32 L97.21 51.79 L98.27 49.58 L99.33 44.76 L100.4 42.36 L101.46 40.07 L102.53 39.57 L103.59 39.25 L104.66 38.66 L105.72 39.17 L106.78 37.28 L107.85 37.56 L108.91 36.92 L109.98 35.69 L111.04 35.54 L112.11 33.86 L113.17 33.8 L114.23 31.51 L115.3 31.32 L116.36 30.61 L117.43 30.2 L118.49 29.81 L119.56 29.79 L120.62 30.61 L121.68 29.11 L122.75 29.04 L123.81 28.55 L124.88 27.78 L125.94 29.2 L127 28.4 L128.07 27.67 L129.13 27.25 L130.2 25.86 L131.26 24.15 L132.33 26.35 L133.39 25.47 L134.45 25.83 L135.52 25.39 L136.58 23.92 L137.65 25.06 L138.71 24.53 L139.78 24.78 L140.84 25.16 L141.9 23.52 L142.97 24.42 L144.03 22.84 L145.1 24.91 L146.16 23.41 L147.23 22.2 L148.29 24.04 L149.35 23.07 L150.42 21.97 L151.48 22.75 L152.55 23.69 L153.61 23.19 L154.68 22.54 L155.74 23.23 L156.8 23 L157.87 22.46 L158.93 23.58 L160 21.01 L161.06 22.89 L162.12 22.32 L163.19 22.13 L164.25 20.92 L165.32 22.4 L166.38 20.28 L167.45 20.4 L168.51 21.33 L169.57 23.1 L170.64 23.04 L171.7 22.12 L172.77 21.65 L173.83 21.35 L174.9 20.87 L175.96 21.56 L177.02 21.94 L178.09 21.71 L179.15 23.84 L180.22 21.15 L181.28 23.48 L182.35 23.87 L183.41 22.83 L184.47 22.59 L185.54 23.28 L186.6 22.4 L187.67 22.14 L188.73 21.66 L189.8 21.86 L190.86 22.62 L191.92 22.08 L192.99 21.07 L194.05 22.38 L195.12 22.29 L196.18 23.99 L197.25 21.93 L198.31 20.44 L199.37 21.58 L200.44 22.43 L201.5 21.2 L202.57 21.23 L203.63 21.17 L204.69 23.36" fill="none" stroke="#8e1613" stroke-width="0.95" stroke-linejoin="round"/>
<path d="M55.7 28.18 L56.76 30.54 L57.83 34.72 L58.89 39.59 L59.96 45.77 L61.02 49.56 L62.09 53.3 L63.15 57.55 L64.21 60.52 L65.28 65.38 L66.34 69.36 L67.41 71.68 L68.47 74.42 L69.54 77.87 L70.6 78.99 L71.66 79.51 L72.73 81.36 L73.79 81.6 L74.86 83.14 L75.92 84.76 L76.98 87.08 L78.05 88.52 L79.11 89.4 L80.18 91.27 L81.24 91.94 L82.31 93.12 L83.37 93.28 L84.43 93.26 L85.5 91.99 L86.56 90.61 L87.63 86.74 L88.69 83.25 L89.76 78.16 L90.82 74.95 L91.88 70.1 L92.95 64.91 L94.01 60.1 L95.08 55.73 L96.14 52.5 L97.21 48.77 L98.27 46.88 L99.33 43.06 L100.4 41.82 L101.46 39.39 L102.53 37.98 L103.59 37.47 L104.66 37.69 L105.72 37.57 L106.78 37.57 L107.85 37.67 L108.91 36.97 L109.98 34.5 L111.04 35.6 L112.11 34.76 L113.17 34.08 L114.23 32.69 L115.3 32 L116.36 31.66 L117.43 31.61 L118.49 30.03 L119.56 30.67 L120.62 28.78 L121.68 27.47 L122.75 29.32 L123.81 28.09 L124.88 28.46 L125.94 28.12 L127 28.68 L128.07 27.24 L129.13 27.11 L130.2 25.79 L131.26 24.62 L132.33 27.43 L133.39 25.34 L134.45 26.84 L135.52 26.39 L136.58 26.75 L137.65 25.12 L138.71 24.28 L139.78 25.25 L140.84 24.79 L141.9 25.51 L142.97 24.92 L144.03 25.62 L145.1 24.4 L146.16 25.95 L147.23 22.07 L148.29 22.83 L149.35 24.29 L150.42 24.08 L151.48 23.92 L152.55 23.35 L153.61 23.14 L154.68 21.62 L155.74 23.58 L156.8 24.77 L157.87 22.81 L158.93 22.61 L160 23.63 L161.06 22.14 L162.12 22.94 L163.19 23.37 L164.25 22.68 L165.32 23.67 L166.38 22.86 L167.45 20.99 L168.51 21.4 L169.57 21.89 L170.64 22.29 L171.7 22.13 L172.77 23.39 L173.83 22.22 L174.9 23.01 L175.96 22.95 L177.02 21.09 L178.09 23.14 L179.15 22.49 L180.22 22.5 L181.28 21.74 L182.35 22.84 L183.41 22.21 L184.47 22.3 L185.54 22.79 L186.6 23.13 L187.67 23.51 L188.73 21.67 L189.8 23.34 L190.86 21.57 L191.92 21.12 L192.99 23.04 L194.05 23.38 L195.12 23.42 L196.18 23 L197.25 21.42 L198.31 23.26 L199.37 23.52 L200.44 24.06 L201.5 22.58 L202.57 22.31 L203.63 21.42 L204.69 22.52" fill="none" stroke="#971914" stroke-width="0.95" stroke-linejoin="round"/>
<path d="M55.7 27.63 L56.76 30.75 L57.83 33.15 L58.89 38.53 L59.96 43.95 L61.02 49.44 L62.09 53.59 L63.15 57.32 L64.21 60.9 L65.28 64.27 L66.34 68.57 L67.41 70.28 L68.47 73.94 L69.54 74.71 L70.6 76.04 L71.66 77.27 L72.73 78.42 L73.79 80.31 L74.86 81.71 L75.92 82.45 L76.98 83.95 L78.05 86.04 L79.11 86.94 L80.18 89.24 L81.24 89.55 L82.31 91.76 L83.37 90.36 L84.43 90.9 L85.5 88.36 L86.56 86.09 L87.63 83.54 L88.69 79.24 L89.76 74.87 L90.82 71.95 L91.88 66.2 L92.95 62.45 L94.01 58.52 L95.08 54.12 L96.14 50.38 L97.21 47.16 L98.27 45.09 L99.33 42.11 L100.4 39.29 L101.46 37.59 L102.53 35.86 L103.59 36.18 L104.66 36.04 L105.72 36.77 L106.78 36.58 L107.85 36.32 L108.91 35.38 L109.98 34.5 L111.04 33.36 L112.11 33.09 L113.17 33.39 L114.23 32.38 L115.3 30.59 L116.36 30.91 L117.43 29.94 L118.49 31.04 L119.56 30.61 L120.62 29.48 L121.68 29 L122.75 28.07 L123.81 28.42 L124.88 29.54 L125.94 25.75 L127 27.28 L128.07 28.84 L129.13 25.75 L130.2 26.28 L131.26 26.97 L132.33 26.61 L133.39 26.02 L134.45 28.24 L135.52 25.23 L136.58 25.67 L137.65 25.13 L138.71 26.03 L139.78 25.89 L140.84 23.82 L141.9 27.9 L142.97 23.81 L144.03 23.7 L145.1 25.95 L146.16 24.63 L147.23 24.89 L148.29 24.65 L149.35 25.13 L150.42 25.08 L151.48 23.74 L152.55 23.95 L153.61 23.13 L154.68 22.88 L155.74 23.93 L156.8 21.58 L157.87 21.91 L158.93 24.59 L160 23.33 L161.06 23.44 L162.12 22.69 L163.19 23.82 L164.25 21.52 L165.32 23.16 L166.38 20.96 L167.45 23.42 L168.51 21.05 L169.57 22.35 L170.64 21.89 L171.7 22.39 L172.77 22.36 L173.83 23.53 L174.9 22.84 L175.96 23.33 L177.02 22.92 L178.09 23.1 L179.15 22.16 L180.22 22.61 L181.28 23.13 L182.35 24.39 L183.41 22.09 L184.47 23.53 L185.54 23.22 L186.6 22.51 L187.67 22.91 L188.73 22.79 L189.8 22.75 L190.86 24.44 L191.92 22.21 L192.99 22.98 L194.05 22.14 L195.12 22.73 L196.18 23.16 L197.25 21.58 L198.31 22.72 L199.37 21.99 L200.44 22.36 L201.5 22.23 L202.57 22.06 L203.63 22.45 L204.69 23.8" fill="none" stroke="#a11b16" stroke-width="0.95" stroke-linejoin="round"/>
<path d="M55.7 27.73 L56.76 29.85 L57.83 34.4 L58.89 39.1 L59.96 43.86 L61.02 48.13 L62.09 53.18 L63.15 56.48 L64.21 60.18 L65.28 63.87 L66.34 66.72 L67.41 70.29 L68.47 72.02 L69.54 73.34 L70.6 74.56 L71.66 75.79 L72.73 76.92 L73.79 78.94 L74.86 81.08 L75.92 80.71 L76.98 81.66 L78.05 84.05 L79.11 85.13 L80.18 85.87 L81.24 87.82 L82.31 88.29 L83.37 88.73 L84.43 87.75 L85.5 86.24 L86.56 82.89 L87.63 81.06 L88.69 77.38 L89.76 73.81 L90.82 68.82 L91.88 64.76 L92.95 60.37 L94.01 55.47 L95.08 52.3 L96.14 49.23 L97.21 44.49 L98.27 42.82 L99.33 40.72 L100.4 37.48 L101.46 36.25 L102.53 36.07 L103.59 35.28 L104.66 34.93 L105.72 35.03 L106.78 35.37 L107.85 34.24 L108.91 35.19 L109.98 34.41 L111.04 33.58 L112.11 33.79 L113.17 32.36 L114.23 31.96 L115.3 31.07 L116.36 30.67 L117.43 28.67 L118.49 30.98 L119.56 29.75 L120.62 29.54 L121.68 28.82 L122.75 28.05 L123.81 29.28 L124.88 27.32 L125.94 27 L127 27.63 L128.07 28.7 L129.13 26.81 L130.2 26.8 L131.26 27.79 L132.33 27.4 L133.39 27.09 L134.45 27.67 L135.52 25.98 L136.58 25.17 L137.65 25.64 L138.71 26.34 L139.78 25.63 L140.84 25.45 L141.9 23.7 L142.97 25.48 L144.03 24.55 L145.1 25.1 L146.16 23.72 L147.23 25.26 L148.29 24.02 L149.35 24.64 L150.42 23.73 L151.48 25.33 L152.55 24.1 L153.61 23 L154.68 23.28 L155.74 24.66 L156.8 21.52 L157.87 23.26 L158.93 23.8 L160 23.83 L161.06 24.25 L162.12 22.09 L163.19 22.21 L164.25 21.99 L165.32 24.03 L166.38 24.72 L167.45 24.93 L168.51 24.32 L169.57 23.53 L170.64 24.05 L171.7 24.45 L172.77 22.6 L173.83 23.63 L174.9 22.78 L175.96 22.04 L177.02 23.79 L178.09 23.57 L179.15 22.1 L180.22 24.48 L181.28 23.63 L182.35 24.21 L183.41 23.42 L184.47 23.76 L185.54 23.06 L186.6 23.62 L187.67 22.2 L188.73 23.86 L189.8 23.25 L190.86 22.59 L191.92 23.9 L192.99 23.68 L194.05 23.23 L195.12 23.47 L196.18 22.46 L197.25 23.76 L198.31 24.44 L199.37 22.63 L200.44 23.92 L201.5 23.79 L202.57 23.51 L203.63 22.36 L204.69 22.67" fill="none" stroke="#aa1d17" stroke-width="0.95" stroke-linejoin="round"/>
<path d="M55.7 27.58 L56.76 30.3 L57.83 34.3 L58.89 37.68 L59.96 42.88 L61.02 48.48 L62.09 51.62 L63.15 56.39 L64.21 59.54 L65.28 62.96 L66.34 65.26 L67.41 67.83 L68.47 70.73 L69.54 72.37 L70.6 72.59 L71.66 74.68 L72.73 74.76 L73.79 77.26 L74.86 77.47 L75.92 79.62 L76.98 79.61 L78.05 81.72 L79.11 83.36 L80.18 84.09 L81.24 86.4 L82.31 85.93 L83.37 85.81 L84.43 84.39 L85.5 84.38 L86.56 80.65 L87.63 77.45 L88.69 74.13 L89.76 70.76 L90.82 66.4 L91.88 62.75 L92.95 57.83 L94.01 54.19 L95.08 49.99 L96.14 46.48 L97.21 44.15 L98.27 41.71 L99.33 38.64 L100.4 36.4 L101.46 34.63 L102.53 34.14 L103.59 33.49 L104.66 34.5 L105.72 33.85 L106.78 35.08 L107.85 34.09 L108.91 33.8 L109.98 32.87 L111.04 33.73 L112.11 32 L113.17 32.51 L114.23 32.17 L115.3 32.28 L116.36 30.08 L117.43 30.78 L118.49 29.11 L119.56 29.3 L120.62 28.46 L121.68 28.83 L122.75 29.26 L123.81 28.85 L124.88 28.27 L125.94 27.69 L127 28.52 L128.07 26.87 L129.13 29.23 L130.2 28.44 L131.26 26.57 L132.33 26.72 L133.39 25.08 L134.45 25.75 L135.52 27.36 L136.58 27.27 L137.65 26.15 L138.71 26.06 L139.78 25.21 L140.84 26.12 L141.9 26.14 L142.97 26.02 L144.03 25.28 L145.1 25.86 L146.16 25.12 L147.23 24.25 L148.29 24.92 L149.35 25.6 L150.42 24.11 L151.48 23.8 L152.55 25.13 L153.61 24.63 L154.68 25.59 L155.74 25.04 L156.8 25.05 L157.87 25.2 L158.93 24.52 L160 22.25 L161.06 22.85 L162.12 24.15 L163.19 23.31 L164.25 23.53 L165.32 23.46 L166.38 25.23 L167.45 23.63 L168.51 24.45 L169.57 23.84 L170.64 23.51 L171.7 26.55 L172.77 25.63 L173.83 23.06 L174.9 22.26 L175.96 22.67 L177.02 24.44 L178.09 23.84 L179.15 22.98 L180.22 23.73 L181.28 25.49 L182.35 22.91 L183.41 24.14 L184.47 23.58 L185.54 25.08 L186.6 24.52 L187.67 22.46 L188.73 23.89 L189.8 23.06 L190.86 22.04 L191.92 23.41 L192.99 23.39 L194.05 23.64 L195.12 22.68 L196.18 23.1 L197.25 23.03 L198.31 22.06 L199.37 23.02 L200.44 22.4 L201.5 24.25 L202.57 23.78 L203.63 23.01 L204.69 24.33" fill="none" stroke="#b31f18" stroke-width="0.95" stroke-linejoin="round"/>
<path d="M55.7 28.45 L56.76 30.35 L57.83 34.09 L58.89 37.98 L59.96 42.08 L61.02 47.68 L62.09 51.95 L63.15 55.08 L64.21 58.56 L65.28 61.91 L66.34 64.39 L67.41 67.32 L68.47 69.19 L69.54 70.76 L70.6 71.18 L71.66 72.77 L72.73 72.92 L73.79 74.92 L74.86 76.09 L75.92 76.86 L76.98 77.33 L78.05 80.59 L79.11 80.61 L80.18 82.55 L81.24 83.74 L82.31 83.85 L83.37 83.29 L84.43 83.99 L85.5 81.56 L86.56 77.81 L87.63 74.91 L88.69 72.13 L89.76 67.72 L90.82 64 L91.88 60.26 L92.95 56.12 L94.01 50.77 L95.08 48.02 L96.14 44.64 L97.21 42.1 L98.27 40.11 L99.33 37.12 L100.4 34.14 L101.46 34.19 L102.53 33.19 L103.59 32.62 L104.66 33.27 L105.72 33.68 L106.78 33.48 L107.85 33.6 L108.91 33.63 L109.98 33.77 L111.04 33.25 L112.11 33.54 L113.17 32.12 L114.23 31.88 L115.3 31.61 L116.36 32.17 L117.43 30.74 L118.49 31.44 L119.56 28.95 L120.62 30.23 L121.68 28.2 L122.75 29.52 L123.81 27.99 L124.88 27.9 L125.94 27.44 L127 28.29 L128.07 29.51 L129.13 27.31 L130.2 28.07 L131.26 28.71 L132.33 28.17 L133.39 26.82 L134.45 26.34 L135.52 26.43 L136.58 25.95 L137.65 25.48 L138.71 26.54 L139.78 26.12 L140.84 26.18 L141.9 26.07 L142.97 25.79 L144.03 25.38 L145.1 25.87 L146.16 25.21 L147.23 24.41 L148.29 25.36 L149.35 24.52 L150.42 25.68 L151.48 25.54 L152.55 23.23 L153.61 24.77 L154.68 23.51 L155.74 26.23 L156.8 26.51 L157.87 24.42 L158.93 24.55 L160 26.27 L161.06 23.59 L162.12 23.6 L163.19 24.67 L164.25 23.46 L165.32 23.39 L166.38 23.83 L167.45 24.36 L168.51 23.27 L169.57 24.2 L170.64 24.25 L171.7 24.98 L172.77 23.69 L173.83 22.7 L174.9 24.22 L175.96 24.25 L177.02 24.96 L178.09 24.05 L179.15 23.15 L180.22 24.03 L181.28 23.38 L182.35 22.95 L183.41 24.67 L184.47 24.41 L185.54 23.34 L186.6 24.11 L187.67 24.76 L188.73 23.83 L189.8 23.45 L190.86 22.84 L191.92 24.52 L192.99 23.46 L194.05 23.33 L195.12 26.18 L196.18 23.1 L197.25 23.82 L198.31 25.18 L199.37 22.23 L200.44 23.45 L201.5 23.62 L202.57 21.84 L203.63 23.01 L204.69 24.82" fill="none" stroke="#bd2219" stroke-width="0.95" stroke-linejoin="round"/>
<path d="M55.7 27.74 L56.76 29.31 L57.83 32.95 L58.89 37.02 L59.96 42.45 L61.02 46.25 L62.09 51.01 L63.15 54.23 L64.21 57.05 L65.28 60.72 L66.34 63.59 L67.41 66.46 L68.47 67.87 L69.54 68.05 L70.6 69.78 L71.66 70.45 L72.73 72.77 L73.79 73.36 L74.86 73.62 L75.92 76.05 L76.98 76.56 L78.05 77.7 L79.11 78.03 L80.18 80.57 L81.24 80.83 L82.31 81.22 L83.37 81.21 L84.43 81.46 L85.5 78.17 L86.56 75.85 L87.63 72.32 L88.69 69.06 L89.76 65.17 L90.82 61.68 L91.88 57.68 L92.95 54.01 L94.01 49 L95.08 46.21 L96.14 41.99 L97.21 39.69 L98.27 37.87 L99.33 35.31 L100.4 34.48 L101.46 32.85 L102.53 32.27 L103.59 32.87 L104.66 32.82 L105.72 32.89 L106.78 33.35 L107.85 33.5 L108.91 33.61 L109.98 33.84 L111.04 32.29 L112.11 32.5 L113.17 31.28 L114.23 32.14 L115.3 31.37 L116.36 30.09 L117.43 28.98 L118.49 28.95 L119.56 28.71 L120.62 30.42 L121.68 28.53 L122.75 27.19 L123.81 30.52 L124.88 28.17 L125.94 26.36 L127 29.06 L128.07 27.72 L129.13 26.1 L130.2 27.17 L131.26 27.36 L132.33 26.63 L133.39 27.39 L134.45 26.44 L135.52 27.05 L136.58 26.04 L137.65 27.38 L138.71 26.6 L139.78 26.21 L140.84 28.14 L141.9 25.26 L142.97 26.24 L144.03 26.35 L145.1 26.94 L146.16 25.7 L147.23 26.32 L148.29 24.85 L149.35 23.92 L150.42 25.63 L151.48 25.76 L152.55 25.18 L153.61 25.22 L154.68 24.49 L155.74 26.61 L156.8 24.33 L157.87 24.77 L158.93 25.18 L160 25.99 L161.06 23.79 L162.12 23.55 L163.19 24.15 L164.25 23.74 L165.32 23.56 L166.38 24.1 L167.45 23.52 L168.51 25.1 L169.57 23.49 L170.64 26.32 L171.7 23.16 L172.77 22.76 L173.83 23.13 L174.9 24.88 L175.96 24.4 L177.02 23.68 L178.09 24.94 L179.15 23.87 L180.22 24.28 L181.28 22.92 L182.35 24.64 L183.41 24.7 L184.47 23.71 L185.54 23.28 L186.6 24.46 L187.67 25.37 L188.73 25.27 L189.8 25.51 L190.86 24.02 L191.92 24.98 L192.99 24.07 L194.05 25.3 L195.12 24.3 L196.18 23.58 L197.25 25.01 L198.31 23.09 L199.37 24.07 L200.44 24.83 L201.5 24.46 L202.57 24.26 L203.63 24.97 L204.69 24.78" fill="none" stroke="#c6241a" stroke-width="0.95" stroke-linejoin="round"/>
<path d="M55.7 27.65 L56.76 31.1 L57.83 32.07 L58.89 37 L59.96 41.27 L61.02 45 L62.09 49.53 L63.15 53.26 L64.21 56.44 L65.28 59.25 L66.34 61.91 L67.41 65.44 L68.47 65.55 L69.54 67.66 L70.6 68.87 L71.66 68.44 L72.73 70.32 L73.79 70.61 L74.86 72.66 L75.92 72.6 L76.98 74.3 L78.05 74.54 L79.11 77.04 L80.18 77.52 L81.24 78.51 L82.31 78.48 L83.37 79.1 L84.43 78.03 L85.5 76.05 L86.56 73.65 L87.63 70.13 L88.69 66.41 L89.76 63.58 L90.82 58.31 L91.88 55.53 L92.95 51.32 L94.01 45.97 L95.08 43.71 L96.14 40.54 L97.21 37.59 L98.27 36.03 L99.33 33.75 L100.4 32.25 L101.46 30.99 L102.53 31.22 L103.59 30.39 L104.66 31.41 L105.72 31.49 L106.78 32.11 L107.85 32.6 L108.91 31.7 L109.98 32.61 L111.04 31.58 L112.11 32.25 L113.17 31.95 L114.23 31.21 L115.3 29.68 L116.36 29.7 L117.43 29.98 L118.49 29.33 L119.56 28.41 L120.62 29.59 L121.68 30.63 L122.75 29.72 L123.81 28.71 L124.88 29.14 L125.94 28.58 L127 26.93 L128.07 28.28 L129.13 28.43 L130.2 27.74 L131.26 26.59 L132.33 26.04 L133.39 26.79 L134.45 27.49 L135.52 27.5 L136.58 27.96 L137.65 27.36 L138.71 25.9 L139.78 26.05 L140.84 26.16 L141.9 27.2 L142.97 26.26 L144.03 26.69 L145.1 24.69 L146.16 25.89 L147.23 25.91 L148.29 25.74 L149.35 25.65 L150.42 25.49 L151.48 25.95 L152.55 25.18 L153.61 25.29 L154.68 24.51 L155.74 24.76 L156.8 24.58 L157.87 25.54 L158.93 25.05 L160 26.94 L161.06 25.71 L162.12 25.26 L163.19 26.89 L164.25 23.73 L165.32 23.86 L166.38 24.52 L167.45 22.6 L168.51 25.96 L169.57 24.53 L170.64 24.48 L171.7 25 L172.77 23.27 L173.83 23.61 L174.9 24.15 L175.96 25.38 L177.02 24.37 L178.09 24.54 L179.15 24.17 L180.22 25.85 L181.28 25.51 L182.35 23.67 L183.41 24.55 L184.47 24.67 L185.54 24.62 L186.6 26.91 L187.67 23.3 L188.73 25.8 L189.8 25.56 L190.86 24.02 L191.92 23.28 L192.99 23.41 L194.05 24.87 L195.12 25.14 L196.18 23.88 L197.25 24.24 L198.31 26 L199.37 23.33 L200.44 26.17 L201.5 24.2 L202.57 24.29 L203.63 23.98 L204.69 24.55" fill="none" stroke="#cf261c" stroke-width="0.95" stroke-linejoin="round"/>
<path d="M55.7 27.39 L56.76 29.86 L57.83 33.59 L58.89 37.38 L59.96 40.65 L61.02 46.47 L62.09 48.7 L63.15 52.6 L64.21 56.21 L65.28 58.79 L66.34 61.06 L67.41 64.92 L68.47 64.34 L69.54 65.03 L70.6 66.6 L71.66 67.28 L72.73 67.88 L73.79 68.29 L74.86 70.17 L75.92 70.82 L76.98 71.38 L78.05 73.37 L79.11 73.42 L80.18 74.49 L81.24 74.8 L82.31 76.33 L83.37 75.67 L84.43 74.66 L85.5 73.01 L86.56 70.97 L87.63 66.6 L88.69 63.59 L89.76 59.69 L90.82 55.94 L91.88 51.82 L92.95 48.21 L94.01 44.72 L95.08 40.54 L96.14 38.26 L97.21 35.78 L98.27 33.59 L99.33 32.47 L100.4 30.41 L101.46 29.22 L102.53 29.96 L103.59 29.81 L104.66 30.29 L105.72 30.4 L106.78 31.35 L107.85 31.41 L108.91 31.23 L109.98 32.21 L111.04 31.93 L112.11 31.56 L113.17 30.82 L114.23 30.25 L115.3 30.59 L116.36 30.39 L117.43 30.35 L118.49 29.52 L119.56 27.91 L120.62 29.25 L121.68 29.41 L122.75 27.45 L123.81 28.79 L124.88 28.71 L125.94 29.15 L127 27.36 L128.07 28.33 L129.13 29.61 L130.2 29.75 L131.26 27.51 L132.33 28.13 L133.39 27.15 L134.45 27 L135.52 26 L136.58 25.96 L137.65 28 L138.71 27.19 L139.78 27.49 L140.84 25.95 L141.9 27.86 L142.97 25.95 L144.03 27.89 L145.1 25.44 L146.16 25.25 L147.23 27.58 L148.29 26.07 L149.35 26.53 L150.42 27.38 L151.48 25.08 L152.55 26.49 L153.61 24.85 L154.68 25.29 L155.74 24.06 L156.8 25.98 L157.87 24.82 L158.93 25.33 L160 25.77 L161.06 24.48 L162.12 25.29 L163.19 25.64 L164.25 25.03 L165.32 26.28 L166.38 24.18 L167.45 23.63 L168.51 26.36 L169.57 24.95 L170.64 25.36 L171.7 25.65 L172.77 24.31 L173.83 23.54 L174.9 24.75 L175.96 25.28 L177.02 23.55 L178.09 25.34 L179.15 25.65 L180.22 25.57 L181.28 24.27 L182.35 25 L183.41 24.91 L184.47 25.57 L185.54 24.71 L186.6 25.03 L187.67 23.45 L188.73 24.98 L189.8 25.8 L190.86 23.45 L191.92 24.65 L192.99 24.89 L194.05 24.45 L195.12 24.81 L196.18 26.71 L197.25 24.89 L198.31 23.79 L199.37 24.09 L200.44 25.59 L201.5 25.24 L202.57 24.58 L203.63 23.23 L204.69 24.74" fill="none" stroke="#d9281d" stroke-width="0.95" stroke-linejoin="round"/>
<path d="M55.7 27.75 L56.76 30.25 L57.83 33.13 L58.89 36.98 L59.96 40.88 L61.02 45.33 L62.09 48.5 L63.15 52 L64.21 53.72 L65.28 56.9 L66.34 60.14 L67.41 62.18 L68.47 62.82 L69.54 63.85 L70.6 64.78 L71.66 66.52 L72.73 66.78 L73.79 66.23 L74.86 67.46 L75.92 68.61 L76.98 70.06 L78.05 69.75 L79.11 71.61 L80.18 71.74 L81.24 72.54 L82.31 73.21 L83.37 73.35 L84.43 71.74 L85.5 70.76 L86.56 67.72 L87.63 64.22 L88.69 59.87 L89.76 56.92 L90.82 52.9 L91.88 48.96 L92.95 46.72 L94.01 42.17 L95.08 38.61 L96.14 36.16 L97.21 33.1 L98.27 31.79 L99.33 29.54 L100.4 28.15 L101.46 27.84 L102.53 27.47 L103.59 27.47 L104.66 28.46 L105.72 29.55 L106.78 31 L107.85 30.84 L108.91 30.77 L109.98 30.68 L111.04 30.84 L112.11 30.89 L113.17 31.28 L114.23 30.27 L115.3 29.86 L116.36 30.11 L117.43 29.71 L118.49 28.77 L119.56 29.6 L120.62 28.74 L121.68 28.1 L122.75 29.41 L123.81 28.76 L124.88 29.27 L125.94 29.41 L127 29.98 L128.07 27.97 L129.13 25.99 L130.2 28.32 L131.26 26.59 L132.33 26.93 L133.39 28.06 L134.45 26.83 L135.52 27.87 L136.58 29.2 L137.65 26.53 L138.71 27.4 L139.78 27.24 L140.84 26.34 L141.9 26.01 L142.97 26.95 L144.03 26.46 L145.1 26.34 L146.16 27.27 L147.23 25.83 L148.29 26.91 L149.35 26.01 L150.42 25.49 L151.48 25.4 L152.55 27.86 L153.61 26.76 L154.68 26.35 L155.74 26.72 L156.8 26.13 L157.87 26.04 L158.93 25.85 L160 23.91 L161.06 25.62 L162.12 25.73 L163.19 26.36 L164.25 25.83 L165.32 25.77 L166.38 25.02 L167.45 26.6 L168.51 25.71 L169.57 26.43 L170.64 26.97 L171.7 24.88 L172.77 25.65 L173.83 25.19 L174.9 24.06 L175.96 24.23 L177.02 25.56 L178.09 25.21 L179.15 25.94 L180.22 25.71 L181.28 26.85 L182.35 24.85 L183.41 25.41 L184.47 24.59 L185.54 23.89 L186.6 26.16 L187.67 25.26 L188.73 25.57 L189.8 24.29 L190.86 25.54 L191.92 23.86 L192.99 23.29 L194.05 23.52 L195.12 23.56 L196.18 24.95 L197.25 25.24 L198.31 26.48 L199.37 25.14 L200.44 26.73 L201.5 26.21 L202.57 24.36 L203.63 24.6 L204.69 26.42" fill="none" stroke="#de2b1e" stroke-width="0.95" stroke-linejoin="round"/>
<path d="M55.7 26.79 L56.76 30.46 L57.83 33.3 L58.89 35.59 L59.96 39.47 L61.02 44.19 L62.09 47.06 L63.15 51.17 L64.21 52.72 L65.28 56.19 L66.34 58.07 L67.41 60.69 L68.47 61.61 L69.54 61.56 L70.6 62.04 L71.66 63.05 L72.73 64.19 L73.79 63.89 L74.86 64.03 L75.92 65.1 L76.98 67.03 L78.05 67.15 L79.11 67.91 L80.18 67.96 L81.24 69.43 L82.31 69.83 L83.37 68.6 L84.43 69.16 L85.5 66.99 L86.56 64.46 L87.63 60.11 L88.69 57.37 L89.76 52.92 L90.82 50.01 L91.88 45.28 L92.95 42.09 L94.01 39.08 L95.08 35.28 L96.14 32.95 L97.21 30.99 L98.27 29.63 L99.33 26.67 L100.4 26.58 L101.46 26.05 L102.53 25.88 L103.59 26.66 L104.66 28.13 L105.72 27.71 L106.78 29.74 L107.85 28.96 L108.91 30.73 L109.98 30.72 L111.04 29.6 L112.11 31.03 L113.17 30.22 L114.23 30.01 L115.3 29.29 L116.36 28.25 L117.43 28.78 L118.49 28.84 L119.56 28.15 L120.62 28.13 L121.68 30.24 L122.75 28.23 L123.81 29.42 L124.88 26.36 L125.94 27.45 L127 29.01 L128.07 26.72 L129.13 29.03 L130.2 27.67 L131.26 29.13 L132.33 28.29 L133.39 27.71 L134.45 28.96 L135.52 27.21 L136.58 26.72 L137.65 26.15 L138.71 26.51 L139.78 27 L140.84 26.55 L141.9 27.87 L142.97 27.56 L144.03 25.88 L145.1 27.97 L146.16 27.43 L147.23 26.14 L148.29 26.95 L149.35 27.85 L150.42 27.29 L151.48 27.32 L152.55 27.73 L153.61 27.13 L154.68 25.96 L155.74 27.04 L156.8 26.35 L157.87 27.07 L158.93 26.62 L160 25.83 L161.06 26.05 L162.12 26.52 L163.19 26.5 L164.25 25.27 L165.32 26.49 L166.38 27.38 L167.45 25.52 L168.51 25.53 L169.57 26.2 L170.64 26.57 L171.7 24.94 L172.77 24.98 L173.83 25.73 L174.9 26.08 L175.96 25.46 L177.02 24.57 L178.09 26.62 L179.15 25.35 L180.22 27.84 L181.28 26.54 L182.35 25.53 L183.41 25.92 L184.47 27.05 L185.54 25.31 L186.6 25.38 L187.67 25.29 L188.73 26.24 L189.8 26.06 L190.86 26.06 L191.92 25.62 L192.99 25.76 L194.05 25.93 L195.12 25.21 L196.18 24.85 L197.25 25.72 L198.31 24.76 L199.37 27.32 L200.44 23.71 L201.5 26.68 L202.57 26.32 L203.63 25.6 L204.69 25.15" fill="none" stroke="#df2e20" stroke-width="0.95" stroke-linejoin="round"/>
<path d="M55.7 27.92 L56.76 30.7 L57.83 32.72 L58.89 36.53 L59.96 39.15 L61.02 43.36 L62.09 47.47 L63.15 49.38 L64.21 51.46 L65.28 54.75 L66.34 56.38 L67.41 59.03 L68.47 59.1 L69.54 58.86 L70.6 59.65 L71.66 60.49 L72.73 60.8 L73.79 60.41 L74.86 61.15 L75.92 61.96 L76.98 62.46 L78.05 63.65 L79.11 64.34 L80.18 65.03 L81.24 65.67 L82.31 65.11 L83.37 65.81 L84.43 63.22 L85.5 62.05 L86.56 59.95 L87.63 55.85 L88.69 52.04 L89.76 49.1 L90.82 46.4 L91.88 42.31 L92.95 38.88 L94.01 35.8 L95.08 33.33 L96.14 30.74 L97.21 28.24 L98.27 26.74 L99.33 24.91 L100.4 25.22 L101.46 23.67 L102.53 24.64 L103.59 24.81 L104.66 25.91 L105.72 26.17 L106.78 27.4 L107.85 28.43 L108.91 28.67 L109.98 29.88 L111.04 29.44 L112.11 29.36 L113.17 29.55 L114.23 29.95 L115.3 29.46 L116.36 29.24 L117.43 29 L118.49 29.95 L119.56 28.36 L120.62 28.96 L121.68 29.85 L122.75 28.92 L123.81 27.74 L124.88 27.35 L125.94 28.85 L127 29.2 L128.07 28.77 L129.13 27.83 L130.2 27.2 L131.26 28.15 L132.33 28.44 L133.39 26.93 L134.45 27.72 L135.52 28.69 L136.58 28.16 L137.65 27.1 L138.71 28.09 L139.78 27.72 L140.84 28.27 L141.9 27.16 L142.97 26.35 L144.03 26.51 L145.1 27.85 L146.16 28.43 L147.23 26.22 L148.29 26.81 L149.35 28.69 L150.42 26.15 L151.48 27.72 L152.55 27.81 L153.61 27.26 L154.68 28.4 L155.74 28.16 L156.8 25.98 L157.87 27.4 L158.93 26.73 L160 25.98 L161.06 26.77 L162.12 27.13 L163.19 26.49 L164.25 25.51 L165.32 26.46 L166.38 27.19 L167.45 25.19 L168.51 25.61 L169.57 27.83 L170.64 26.51 L171.7 24.8 L172.77 28.02 L173.83 27.99 L174.9 26.19 L175.96 27.23 L177.02 28.12 L178.09 25.53 L179.15 26.92 L180.22 26.43 L181.28 25.74 L182.35 26.54 L183.41 27.51 L184.47 24.81 L185.54 25.88 L186.6 26.66 L187.67 26.98 L188.73 27.82 L189.8 26.03 L190.86 27.71 L191.92 25.05 L192.99 28.22 L194.05 25.83 L195.12 27.47 L196.18 27.43 L197.25 25.96 L198.31 26.48 L199.37 25.97 L200.44 27.56 L201.5 26.78 L202.57 26.98 L203.63 26.5 L204.69 25.99" fill="none" stroke="#e03121" stroke-width="0.95" stroke-linejoin="round"/>
<path d="M55.7 28.22 L56.76 30.41 L57.83 32.32 L58.89 36.29 L59.96 39.09 L61.02 41.31 L62.09 45.01 L63.15 46.8 L64.21 49.78 L65.28 52.38 L66.34 53.99 L67.41 55.05 L68.47 55.89 L69.54 55.88 L70.6 55.29 L71.66 56.29 L72.73 56.37 L73.79 57.3 L74.86 56.91 L75.92 58.19 L76.98 58.29 L78.05 59.27 L79.11 59.29 L80.18 59.85 L81.24 59.91 L82.31 60.5 L83.37 59.76 L84.43 58.08 L85.5 57.64 L86.56 55.06 L87.63 51.01 L88.69 47.73 L89.76 44.24 L90.82 42.27 L91.88 37.95 L92.95 34.15 L94.01 31.28 L95.08 28.89 L96.14 26.91 L97.21 25.46 L98.27 23.88 L99.33 22.66 L100.4 23.13 L101.46 21.15 L102.53 22.79 L103.59 22.47 L104.66 23.82 L105.72 25.65 L106.78 26.3 L107.85 26.71 L108.91 26.94 L109.98 28.48 L111.04 28.25 L112.11 28.44 L113.17 29.08 L114.23 28.9 L115.3 29.35 L116.36 29.43 L117.43 29.9 L118.49 29.74 L119.56 28.31 L120.62 28.46 L121.68 28.39 L122.75 29.28 L123.81 28.49 L124.88 28.02 L125.94 29.83 L127 29.62 L128.07 29.63 L129.13 28.58 L130.2 28.51 L131.26 27.02 L132.33 27.7 L133.39 30.83 L134.45 28.29 L135.52 28.81 L136.58 27.63 L137.65 29.33 L138.71 29.64 L139.78 29.15 L140.84 27.79 L141.9 28.59 L142.97 27.69 L144.03 26.63 L145.1 29.21 L146.16 28.61 L147.23 27.98 L148.29 27.5 L149.35 28.85 L150.42 28.16 L151.48 29.02 L152.55 26.88 L153.61 27.42 L154.68 26.51 L155.74 26.84 L156.8 27.69 L157.87 27.37 L158.93 27.44 L160 28.03 L161.06 28.24 L162.12 28.3 L163.19 27.71 L164.25 27.7 L165.32 26.84 L166.38 27.77 L167.45 27.63 L168.51 26.42 L169.57 28.28 L170.64 28.75 L171.7 25.78 L172.77 28.82 L173.83 28.35 L174.9 26.43 L175.96 28.01 L177.02 28.33 L178.09 27.76 L179.15 28.04 L180.22 28.67 L181.28 29.45 L182.35 28.56 L183.41 28.85 L184.47 28.23 L185.54 28.48 L186.6 27.07 L187.67 27.16 L188.73 28.27 L189.8 26.2 L190.86 25.99 L191.92 29.18 L192.99 28.51 L194.05 26.01 L195.12 27.44 L196.18 27.69 L197.25 27.96 L198.31 27.72 L199.37 26.8 L200.44 27.19 L201.5 27.81 L202.57 28.21 L203.63 28.15 L204.69 26.85" fill="none" stroke="#e23524" stroke-width="0.95" stroke-linejoin="round"/>
<path d="M55.7 28.62 L56.76 30.18 L57.83 32.24 L58.89 34.79 L59.96 38.28 L61.02 38.85 L62.09 42.2 L63.15 43.83 L64.21 47.17 L65.28 49.3 L66.34 50.13 L67.41 51.14 L68.47 51.57 L69.54 50.15 L70.6 51.52 L71.66 51.62 L72.73 49.85 L73.79 50.73 L74.86 51.85 L75.92 50.85 L76.98 52.19 L78.05 52.44 L79.11 52.73 L80.18 52.91 L81.24 52.03 L82.31 53.28 L83.37 52.74 L84.43 51.79 L85.5 49.38 L86.56 47.43 L87.63 43.86 L88.69 39.64 L89.76 36.05 L90.82 34.27 L91.88 31.27 L92.95 28.89 L94.01 26.12 L95.08 23.35 L96.14 23.05 L97.21 21.08 L98.27 20.05 L99.33 19.42 L100.4 19.11 L101.46 18.66 L102.53 19.5 L103.59 18.96 L104.66 21.02 L105.72 23.24 L106.78 24.03 L107.85 25.14 L108.91 25.48 L109.98 26.3 L111.04 26.67 L112.11 27.47 L113.17 27.16 L114.23 28.18 L115.3 28.25 L116.36 28.05 L117.43 28.38 L118.49 28.57 L119.56 28.12 L120.62 28.1 L121.68 28.37 L122.75 28.24 L123.81 29.11 L124.88 29.15 L125.94 27.89 L127 27.77 L128.07 29.14 L129.13 27.74 L130.2 29.23 L131.26 27.66 L132.33 28.29 L133.39 28.93 L134.45 28.51 L135.52 29.52 L136.58 29.36 L137.65 29.42 L138.71 28.27 L139.78 28.43 L140.84 29.23 L141.9 28.98 L142.97 29.96 L144.03 29.27 L145.1 30.07 L146.16 28.08 L147.23 28.56 L148.29 29.84 L149.35 29.79 L150.42 27.94 L151.48 29.3 L152.55 30.4 L153.61 29.99 L154.68 29.93 L155.74 29.61 L156.8 30.55 L157.87 28.99 L158.93 30.02 L160 27.89 L161.06 28.77 L162.12 30.79 L163.19 30.23 L164.25 29.45 L165.32 30.88 L166.38 30.5 L167.45 28.08 L168.51 30.05 L169.57 29.99 L170.64 29.21 L171.7 29.07 L172.77 29.31 L173.83 28.65 L174.9 29.98 L175.96 28.35 L177.02 28.32 L178.09 29.67 L179.15 29.45 L180.22 29.49 L181.28 29.73 L182.35 30.37 L183.41 29.22 L184.47 30.13 L185.54 29.97 L186.6 30.13 L187.67 29.12 L188.73 30.19 L189.8 28.49 L190.86 30.8 L191.92 30.24 L192.99 29.42 L194.05 29.51 L195.12 30.22 L196.18 27.25 L197.25 29.6 L198.31 30.55 L199.37 29.22 L200.44 27.79 L201.5 28.12 L202.57 29.44 L203.63 29.44 L204.69 27.66" fill="none" stroke="#e43a27" stroke-width="0.95" stroke-linejoin="round"/>
<path d="M55.7 28.43 L56.76 30.15 L57.83 32.95 L58.89 34.71 L59.96 36.41 L61.02 39.85 L62.09 40.48 L63.15 42.4 L64.21 43.99 L65.28 45.37 L66.34 46.54 L67.41 46.48 L68.47 47.74 L69.54 46.2 L70.6 46.68 L71.66 46.24 L72.73 45.81 L73.79 45.93 L74.86 45.47 L75.92 46.4 L76.98 45.93 L78.05 46.64 L79.11 47.75 L80.18 47.55 L81.24 46.12 L82.31 46.58 L83.37 45.45 L84.43 44.65 L85.5 43.14 L86.56 39.22 L87.63 37.17 L88.69 35.12 L89.76 31.47 L90.82 28.84 L91.88 27.64 L92.95 24.86 L94.01 21.34 L95.08 19.44 L96.14 18.02 L97.21 18.15 L98.27 16.64 L99.33 16.4 L100.4 16.74 L101.46 17.18 L102.53 17.48 L103.59 19.66 L104.66 21.47 L105.72 21.45 L106.78 21.51 L107.85 23.97 L108.91 24.63 L109.98 25.01 L111.04 26.53 L112.11 26.41 L113.17 27.26 L114.23 27.62 L115.3 28.24 L116.36 27.71 L117.43 27.54 L118.49 27.13 L119.56 28.82 L120.62 29.55 L121.68 28.61 L122.75 28.01 L123.81 29.8 L124.88 28.54 L125.94 26.97 L127 28.16 L128.07 30.32 L129.13 29.48 L130.2 30.45 L131.26 30.31 L132.33 27.18 L133.39 29.46 L134.45 29.88 L135.52 29.08 L136.58 30.29 L137.65 27.83 L138.71 28.86 L139.78 29.45 L140.84 28.76 L141.9 28.85 L142.97 29.21 L144.03 31.43 L145.1 30.34 L146.16 28.32 L147.23 30.63 L148.29 30.61 L149.35 31.01 L150.42 29.73 L151.48 30.6 L152.55 30.87 L153.61 29.45 L154.68 31.26 L155.74 29.73 L156.8 30.1 L157.87 30.18 L158.93 29.74 L160 30.55 L161.06 30.6 L162.12 29.13 L163.19 30.72 L164.25 30.14 L165.32 30.82 L166.38 31.26 L167.45 30.15 L168.51 31.61 L169.57 29.9 L170.64 29.68 L171.7 30 L172.77 30.75 L173.83 31.76 L174.9 31.11 L175.96 28.32 L177.02 31.53 L178.09 29.96 L179.15 30.43 L180.22 30.43 L181.28 31.58 L182.35 31.85 L183.41 30.8 L184.47 30.49 L185.54 30.7 L186.6 30.02 L187.67 31.22 L188.73 31.73 L189.8 30.31 L190.86 30.66 L191.92 32.48 L192.99 29.61 L194.05 30.05 L195.12 29.58 L196.18 30.63 L197.25 30.27 L198.31 31.56 L199.37 31.82 L200.44 29.43 L201.5 31.36 L202.57 32.48 L203.63 31.42 L204.69 30.9" fill="none" stroke="#e6402a" stroke-width="0.95" stroke-linejoin="round"/>
<path d="M55.7 28.71 L56.76 30.89 L57.83 31.88 L58.89 34.02 L59.96 35.18 L61.02 37.85 L62.09 38.39 L63.15 40.49 L64.21 41.99 L65.28 43.46 L66.34 44.04 L67.41 44.55 L68.47 45.05 L69.54 43.88 L70.6 43.99 L71.66 43.13 L72.73 43.61 L73.79 42.63 L74.86 41.64 L75.92 42.98 L76.98 41.82 L78.05 42.98 L79.11 43.53 L80.18 43 L81.24 41.9 L82.31 43.12 L83.37 42.14 L84.43 39.9 L85.5 39.18 L86.56 36.85 L87.63 35.57 L88.69 31.22 L89.76 29.56 L90.82 26.55 L91.88 23.71 L92.95 22.96 L94.01 20.64 L95.08 17.67 L96.14 17.07 L97.21 16.39 L98.27 15.64 L99.33 15.68 L100.4 15.53 L101.46 17.21 L102.53 16.61 L103.59 18.35 L104.66 19.85 L105.72 20.79 L106.78 22.97 L107.85 22.74 L108.91 24.33 L109.98 23.81 L111.04 25.84 L112.11 25.3 L113.17 26.17 L114.23 25.82 L115.3 27.25 L116.36 27.48 L117.43 29.31 L118.49 28.86 L119.56 28.58 L120.62 29.37 L121.68 28.77 L122.75 29.32 L123.81 29.2 L124.88 28.35 L125.94 29.04 L127 28.91 L128.07 29 L129.13 28.27 L130.2 29.99 L131.26 29.94 L132.33 30.1 L133.39 30.06 L134.45 29.56 L135.52 29.79 L136.58 29.46 L137.65 31.6 L138.71 30.92 L139.78 30.51 L140.84 29.53 L141.9 30.16 L142.97 29.36 L144.03 29.74 L145.1 30.6 L146.16 31.57 L147.23 31.53 L148.29 30.62 L149.35 32.5 L150.42 30.44 L151.48 29.81 L152.55 30.5 L153.61 29.71 L154.68 30.24 L155.74 31.32 L156.8 29.71 L157.87 31.81 L158.93 30.23 L160 33.52 L161.06 31.53 L162.12 32.45 L163.19 31.27 L164.25 32.11 L165.32 31.47 L166.38 30.74 L167.45 31.77 L168.51 31.15 L169.57 31.03 L170.64 31.88 L171.7 33.35 L172.77 33.33 L173.83 32.72 L174.9 31.25 L175.96 29.78 L177.02 31.49 L178.09 32.15 L179.15 30.81 L180.22 31.07 L181.28 32.44 L182.35 31.09 L183.41 31.69 L184.47 32.18 L185.54 31.59 L186.6 30.79 L187.67 31.06 L188.73 30.76 L189.8 32.1 L190.86 31.94 L191.92 30.62 L192.99 30.48 L194.05 30.07 L195.12 30.65 L196.18 32 L197.25 31.95 L198.31 29.88 L199.37 31.45 L200.44 30.12 L201.5 31.35 L202.57 32.84 L203.63 31.83 L204.69 31.13" fill="none" stroke="#e9462d" stroke-width="0.95" stroke-linejoin="round"/>
<path d="M55.7 27.62 L56.76 30.27 L57.83 31.31 L58.89 33.05 L59.96 35.59 L61.02 36.83 L62.09 38.13 L63.15 40.56 L64.21 40.41 L65.28 41.96 L66.34 43.53 L67.41 43.54 L68.47 43.04 L69.54 42.82 L70.6 42 L71.66 41.2 L72.73 41.53 L73.79 41.46 L74.86 40.41 L75.92 40.98 L76.98 40.83 L78.05 42.09 L79.11 40.95 L80.18 41.53 L81.24 40.71 L82.31 40.79 L83.37 39.3 L84.43 39.02 L85.5 36.73 L86.56 35.57 L87.63 33.1 L88.69 30.63 L89.76 26.77 L90.82 25.32 L91.88 22.76 L92.95 21.23 L94.01 19.79 L95.08 19.34 L96.14 17.3 L97.21 16.6 L98.27 16.32 L99.33 17.2 L100.4 15.94 L101.46 18.01 L102.53 17.65 L103.59 20.11 L104.66 20.09 L105.72 20.02 L106.78 21.5 L107.85 22.96 L108.91 23.49 L109.98 25.24 L111.04 25.65 L112.11 24.99 L113.17 26.7 L114.23 27.12 L115.3 27.8 L116.36 27.63 L117.43 27.08 L118.49 28.49 L119.56 27.87 L120.62 28.38 L121.68 28.05 L122.75 28.94 L123.81 28.54 L124.88 29.82 L125.94 27.18 L127 28.62 L128.07 30.34 L129.13 27.44 L130.2 30.02 L131.26 29.32 L132.33 29.45 L133.39 30.18 L134.45 28.78 L135.52 29.55 L136.58 29.81 L137.65 30.34 L138.71 31.4 L139.78 30.15 L140.84 28.67 L141.9 29.98 L142.97 30.63 L144.03 31 L145.1 31.39 L146.16 30.63 L147.23 31.28 L148.29 30.97 L149.35 31.1 L150.42 30.19 L151.48 30.98 L152.55 31.78 L153.61 30.58 L154.68 30.7 L155.74 28.73 L156.8 32.38 L157.87 31.04 L158.93 32.72 L160 30.27 L161.06 30.68 L162.12 30 L163.19 31.11 L164.25 30.11 L165.32 32.81 L166.38 31.26 L167.45 31.64 L168.51 30.22 L169.57 31.54 L170.64 30.35 L171.7 32.84 L172.77 33.39 L173.83 30.31 L174.9 31.97 L175.96 31.14 L177.02 30.48 L178.09 30.63 L179.15 30.96 L180.22 31.5 L181.28 32.14 L182.35 30.4 L183.41 31.53 L184.47 32.68 L185.54 30.87 L186.6 31.05 L187.67 33.77 L188.73 33.54 L189.8 32.09 L190.86 30.64 L191.92 32.67 L192.99 33.19 L194.05 30.49 L195.12 33.52 L196.18 31.02 L197.25 32.64 L198.31 31.24 L199.37 31.51 L200.44 31.82 L201.5 31.05 L202.57 32.32 L203.63 32.03 L204.69 32.88" fill="none" stroke="#eb4c30" stroke-width="0.95" stroke-linejoin="round"/>
<path d="M55.7 28.33 L56.76 30.6 L57.83 31.34 L58.89 32.87 L59.96 34.97 L61.02 36.42 L62.09 37.3 L63.15 38.69 L64.21 40.63 L65.28 41.11 L66.34 41.56 L67.41 41.88 L68.47 40.65 L69.54 40.43 L70.6 40.82 L71.66 40.18 L72.73 39.5 L73.79 39.33 L74.86 39.35 L75.92 39.66 L76.98 39.38 L78.05 39.98 L79.11 39.83 L80.18 39.96 L81.24 39.6 L82.31 39.13 L83.37 38.8 L84.43 38.48 L85.5 36.33 L86.56 35.7 L87.63 32.77 L88.69 30.48 L89.76 28.13 L90.82 26.15 L91.88 24.37 L92.95 23.42 L94.01 22.55 L95.08 20.05 L96.14 18.71 L97.21 18.78 L98.27 19.08 L99.33 17.54 L100.4 18.33 L101.46 19.17 L102.53 20.64 L103.59 19.93 L104.66 20.15 L105.72 22.39 L106.78 23.48 L107.85 23.98 L108.91 24.53 L109.98 25.76 L111.04 26.69 L112.11 27.13 L113.17 26.94 L114.23 27.97 L115.3 28.59 L116.36 26.98 L117.43 28.84 L118.49 31.62 L119.56 28.4 L120.62 28.56 L121.68 29.43 L122.75 29.99 L123.81 28.44 L124.88 29.89 L125.94 28.45 L127 29.18 L128.07 29.52 L129.13 28.06 L130.2 29.04 L131.26 31.32 L132.33 28.9 L133.39 29.1 L134.45 29.08 L135.52 27.62 L136.58 29.18 L137.65 28.97 L138.71 30.16 L139.78 30.69 L140.84 30.6 L141.9 30.54 L142.97 29.77 L144.03 30.31 L145.1 29.83 L146.16 30.32 L147.23 31.71 L148.29 32.72 L149.35 31.12 L150.42 30.16 L151.48 31.5 L152.55 32 L153.61 31.69 L154.68 30.68 L155.74 31.1 L156.8 32.27 L157.87 31.56 L158.93 32.14 L160 31.96 L161.06 31.07 L162.12 31.7 L163.19 31.29 L164.25 33.05 L165.32 30.85 L166.38 33.26 L167.45 34.1 L168.51 32.14 L169.57 31.2 L170.64 31.84 L171.7 30.9 L172.77 30.81 L173.83 30.83 L174.9 32.16 L175.96 31.83 L177.02 32.87 L178.09 32 L179.15 31.72 L180.22 31.31 L181.28 33.49 L182.35 34.71 L183.41 32.54 L184.47 32.41 L185.54 31.26 L186.6 31.84 L187.67 31.94 L188.73 31.09 L189.8 32.65 L190.86 31.76 L191.92 30.95 L192.99 30.27 L194.05 30.66 L195.12 32.42 L196.18 30.99 L197.25 32.49 L198.31 32.05 L199.37 32.93 L200.44 32.87 L201.5 33.43 L202.57 32.42 L203.63 33.48 L204.69 32.6" fill="none" stroke="#ed5233" stroke-width="0.95" stroke-linejoin="round"/>
<path d="M55.7 28.32 L56.76 29.26 L57.83 32.18 L58.89 32.57 L59.96 33.68 L61.02 34.86 L62.09 36.34 L63.15 37.21 L64.21 37.94 L65.28 38.91 L66.34 39.45 L67.41 39.28 L68.47 38.55 L69.54 39.34 L70.6 39.15 L71.66 38.5 L72.73 38.97 L73.79 38.61 L74.86 38.97 L75.92 38.34 L76.98 38.49 L78.05 38.42 L79.11 38.69 L80.18 38.96 L81.24 38.27 L82.31 38.41 L83.37 38.04 L84.43 36.78 L85.5 36.12 L86.56 35.82 L87.63 33.12 L88.69 32 L89.76 29.19 L90.82 26.45 L91.88 25.78 L92.95 26.18 L94.01 22.53 L95.08 22.79 L96.14 22.32 L97.21 21.36 L98.27 21.33 L99.33 21.79 L100.4 21.34 L101.46 21.37 L102.53 21.74 L103.59 22.39 L104.66 23.64 L105.72 24.11 L106.78 25.44 L107.85 25.16 L108.91 25.17 L109.98 27 L111.04 27.01 L112.11 26.49 L113.17 28.96 L114.23 28.99 L115.3 27.31 L116.36 27.56 L117.43 27.95 L118.49 29.62 L119.56 29.52 L120.62 29.9 L121.68 28.93 L122.75 29.88 L123.81 30.35 L124.88 30.78 L125.94 29.14 L127 29.97 L128.07 29.52 L129.13 31.59 L130.2 29.83 L131.26 29.89 L132.33 29.28 L133.39 29.55 L134.45 30.27 L135.52 29.32 L136.58 30.24 L137.65 29.75 L138.71 28.83 L139.78 29.49 L140.84 30.93 L141.9 30.46 L142.97 30.05 L144.03 29.25 L145.1 30.63 L146.16 30.83 L147.23 31.63 L148.29 32.41 L149.35 30.81 L150.42 31.56 L151.48 32.45 L152.55 30.74 L153.61 31.69 L154.68 30.25 L155.74 31.7 L156.8 32.09 L157.87 30.41 L158.93 31.93 L160 30.84 L161.06 31.01 L162.12 33.12 L163.19 33.02 L164.25 32.65 L165.32 31.2 L166.38 32.41 L167.45 29.97 L168.51 30.87 L169.57 30.96 L170.64 31.51 L171.7 31.01 L172.77 31.24 L173.83 31.84 L174.9 32.13 L175.96 32.79 L177.02 31.91 L178.09 32.84 L179.15 33.57 L180.22 32.12 L181.28 32.26 L182.35 32.58 L183.41 31.23 L184.47 31.11 L185.54 30.54 L186.6 32.5 L187.67 31.35 L188.73 31.73 L189.8 30.93 L190.86 31.81 L191.92 32.34 L192.99 32.67 L194.05 31.95 L195.12 31.16 L196.18 31.65 L197.25 32.77 L198.31 32.89 L199.37 30.66 L200.44 32.03 L201.5 30.74 L202.57 32.59 L203.63 32.73 L204.69 33.68" fill="none" stroke="#ef5736" stroke-width="0.95" stroke-linejoin="round"/>
<path d="M55.7 27.24 L56.76 29.93 L57.83 30.87 L58.89 31.62 L59.96 33.13 L61.02 34.39 L62.09 36.01 L63.15 35.48 L64.21 37.02 L65.28 37.01 L66.34 38.6 L67.41 37.67 L68.47 38.03 L69.54 38.07 L70.6 38.61 L71.66 37.04 L72.73 38.65 L73.79 36.6 L74.86 37.36 L75.92 36.65 L76.98 36.78 L78.05 36.38 L79.11 38.29 L80.18 37.18 L81.24 37.32 L82.31 37.3 L83.37 36.46 L84.43 36.16 L85.5 34.33 L86.56 34.49 L87.63 32.78 L88.69 30.57 L89.76 30.18 L90.82 28.23 L91.88 27.12 L92.95 26.84 L94.01 25.88 L95.08 25.07 L96.14 23.88 L97.21 23.79 L98.27 24.75 L99.33 23.06 L100.4 24.77 L101.46 24.45 L102.53 25.37 L103.59 25.34 L104.66 25.44 L105.72 25.87 L106.78 26.49 L107.85 27.74 L108.91 27.33 L109.98 27.55 L111.04 29.4 L112.11 28.43 L113.17 29.12 L114.23 29.52 L115.3 29.63 L116.36 29.69 L117.43 29.89 L118.49 29.23 L119.56 29.72 L120.62 29.91 L121.68 30.16 L122.75 29.91 L123.81 29.01 L124.88 28.84 L125.94 29.36 L127 30.85 L128.07 28.79 L129.13 30.46 L130.2 31.3 L131.26 30.46 L132.33 29.8 L133.39 30.17 L134.45 30.2 L135.52 31.04 L136.58 29.57 L137.65 30.39 L138.71 30.41 L139.78 29.77 L140.84 29.45 L141.9 30.96 L142.97 30.59 L144.03 30.35 L145.1 30.88 L146.16 30.91 L147.23 30.59 L148.29 31.38 L149.35 30.95 L150.42 32.86 L151.48 31.51 L152.55 30.2 L153.61 31.74 L154.68 32.31 L155.74 33.01 L156.8 30.6 L157.87 31.62 L158.93 30.5 L160 30.53 L161.06 31.62 L162.12 30.84 L163.19 31.87 L164.25 31.79 L165.32 32.49 L166.38 32.35 L167.45 31.14 L168.51 31.2 L169.57 32.31 L170.64 30.78 L171.7 31.53 L172.77 32.86 L173.83 32.44 L174.9 32.58 L175.96 31.75 L177.02 32.05 L178.09 32.56 L179.15 31.98 L180.22 31.42 L181.28 31.43 L182.35 31.78 L183.41 32.38 L184.47 32.76 L185.54 32.58 L186.6 31.81 L187.67 32.03 L188.73 30.65 L189.8 31.51 L190.86 32.12 L191.92 32.74 L192.99 33.96 L194.05 33.68 L195.12 32.46 L196.18 31.34 L197.25 30.62 L198.31 31.52 L199.37 31.61 L200.44 31.93 L201.5 31.95 L202.57 31.95 L203.63 32.79 L204.69 32.9" fill="none" stroke="#f05f36" stroke-width="0.95" stroke-linejoin="round"/>
<path d="M55.7 26.96 L56.76 28.95 L57.83 29.18 L58.89 30.8 L59.96 31.12 L61.02 32.9 L62.09 34.55 L63.15 33.89 L64.21 35.8 L65.28 35.58 L66.34 36.58 L67.41 36.93 L68.47 36.25 L69.54 36.98 L70.6 36.05 L71.66 35.88 L72.73 36.45 L73.79 36.42 L74.86 36.14 L75.92 36.13 L76.98 35.92 L78.05 36.68 L79.11 36.2 L80.18 36.85 L81.24 36.45 L82.31 36.13 L83.37 35.52 L84.43 34.57 L85.5 34.62 L86.56 33.51 L87.63 32.26 L88.69 31.88 L89.76 31.17 L90.82 29.97 L91.88 29.04 L92.95 29.03 L94.01 28.1 L95.08 27.31 L96.14 27.29 L97.21 26.91 L98.27 26.65 L99.33 26.32 L100.4 26.26 L101.46 27.12 L102.53 27.46 L103.59 28 L104.66 27.11 L105.72 27.54 L106.78 29.19 L107.85 28.87 L108.91 29.26 L109.98 29.89 L111.04 28.91 L112.11 29.67 L113.17 29.33 L114.23 28.6 L115.3 29.91 L116.36 30.89 L117.43 31.38 L118.49 28.7 L119.56 29.66 L120.62 30.79 L121.68 30.63 L122.75 30.5 L123.81 29.03 L124.88 29.12 L125.94 31.11 L127 29.3 L128.07 30.11 L129.13 30.75 L130.2 29.91 L131.26 29.37 L132.33 30.04 L133.39 30.51 L134.45 29.63 L135.52 32.23 L136.58 30.4 L137.65 30.59 L138.71 29.33 L139.78 31.36 L140.84 31.7 L141.9 30.26 L142.97 31.18 L144.03 30.53 L145.1 31.08 L146.16 32.25 L147.23 30.61 L148.29 30.4 L149.35 31.58 L150.42 31.76 L151.48 32.45 L152.55 29.95 L153.61 30.96 L154.68 31.19 L155.74 31.89 L156.8 31.92 L157.87 30.74 L158.93 29.6 L160 32.45 L161.06 31.29 L162.12 30.87 L163.19 31.47 L164.25 31.48 L165.32 31.24 L166.38 29.73 L167.45 31.23 L168.51 32.05 L169.57 32.63 L170.64 32.64 L171.7 33.38 L172.77 31.28 L173.83 31.25 L174.9 31.48 L175.96 30.45 L177.02 30.64 L178.09 31.62 L179.15 32.82 L180.22 30.52 L181.28 31.07 L182.35 31.65 L183.41 33.69 L184.47 30.79 L185.54 32.42 L186.6 33.51 L187.67 31.86 L188.73 30.88 L189.8 30.69 L190.86 32.25 L191.92 31.06 L192.99 31.85 L194.05 31.99 L195.12 32.76 L196.18 30.62 L197.25 33.49 L198.31 30.91 L199.37 32.11 L200.44 32.59 L201.5 32.79 L202.57 31.95 L203.63 32.7 L204.69 33.14" fill="none" stroke="#f16635" stroke-width="0.95" stroke-linejoin="round"/>
<path d="M55.7 27.61 L56.76 28.63 L57.83 29.56 L58.89 31.05 L59.96 32.34 L61.02 33.17 L62.09 33.27 L63.15 33.62 L64.21 34.36 L65.28 34.65 L66.34 34.77 L67.41 34.74 L68.47 34.72 L69.54 34.4 L70.6 34.97 L71.66 35.49 L72.73 34.71 L73.79 34.94 L74.86 35.09 L75.92 34.45 L76.98 35.59 L78.05 35.03 L79.11 34.93 L80.18 34.29 L81.24 35.1 L82.31 34.33 L83.37 33.69 L84.43 33.95 L85.5 33.34 L86.56 33.32 L87.63 32.79 L88.69 31.68 L89.76 31.88 L90.82 32.02 L91.88 30.19 L92.95 30.78 L94.01 29.87 L95.08 29.46 L96.14 28.64 L97.21 28.2 L98.27 29.28 L99.33 28.51 L100.4 29.17 L101.46 28.55 L102.53 28.87 L103.59 28.78 L104.66 29.92 L105.72 29.45 L106.78 29.49 L107.85 29.79 L108.91 29.46 L109.98 30.08 L111.04 30.95 L112.11 31.24 L113.17 31.02 L114.23 30.07 L115.3 30.37 L116.36 31.57 L117.43 31.02 L118.49 30.69 L119.56 31.16 L120.62 31.87 L121.68 31.03 L122.75 29.44 L123.81 30.55 L124.88 30.27 L125.94 31.21 L127 29.75 L128.07 31.2 L129.13 30.28 L130.2 29.39 L131.26 30.97 L132.33 30.71 L133.39 30.3 L134.45 31.02 L135.52 32.47 L136.58 30.81 L137.65 31.84 L138.71 29.29 L139.78 30.89 L140.84 29.98 L141.9 30.04 L142.97 31.67 L144.03 30.14 L145.1 30.23 L146.16 29.94 L147.23 31.21 L148.29 31.74 L149.35 31.7 L150.42 31.76 L151.48 31.72 L152.55 32.19 L153.61 30.46 L154.68 31.68 L155.74 31.18 L156.8 31.44 L157.87 31.7 L158.93 31.94 L160 31.52 L161.06 32.63 L162.12 32.14 L163.19 30.92 L164.25 31.06 L165.32 32.55 L166.38 32.51 L167.45 31.19 L168.51 32.53 L169.57 32.18 L170.64 31.98 L171.7 32.63 L172.77 31.89 L173.83 31.39 L174.9 32.35 L175.96 31.7 L177.02 31.69 L178.09 31.39 L179.15 33.08 L180.22 30.46 L181.28 32.65 L182.35 32.02 L183.41 32.92 L184.47 31.82 L185.54 30.48 L186.6 31.45 L187.67 34.57 L188.73 32.06 L189.8 32.36 L190.86 32.39 L191.92 31.49 L192.99 31.95 L194.05 31.66 L195.12 31.51 L196.18 31.69 L197.25 31.59 L198.31 31.59 L199.37 32.26 L200.44 32.46 L201.5 31.94 L202.57 32.12 L203.63 31.63 L204.69 32.46" fill="none" stroke="#f26d34" stroke-width="0.95" stroke-linejoin="round"/>
<path d="M55.7 26.96 L56.76 28.64 L57.83 31.02 L58.89 30.19 L59.96 30.65 L61.02 32.96 L62.09 33.41 L63.15 32.15 L64.21 32.92 L65.28 34.06 L66.34 33.5 L67.41 34.21 L68.47 34.76 L69.54 34.73 L70.6 33.41 L71.66 34.37 L72.73 34.24 L73.79 33.94 L74.86 33.73 L75.92 33.65 L76.98 34.98 L78.05 33.66 L79.11 33.42 L80.18 33.82 L81.24 33.86 L82.31 34.16 L83.37 34.39 L84.43 34.15 L85.5 33.21 L86.56 33.68 L87.63 32.75 L88.69 32.8 L89.76 31.04 L90.82 31.33 L91.88 31.41 L92.95 31.24 L94.01 30.8 L95.08 30.78 L96.14 30.83 L97.21 30.88 L98.27 30.76 L99.33 31.23 L100.4 30.24 L101.46 30.8 L102.53 30.7 L103.59 31.05 L104.66 30.49 L105.72 30.43 L106.78 31.8 L107.85 31.62 L108.91 31.41 L109.98 32.17 L111.04 30.25 L112.11 31.23 L113.17 32.06 L114.23 30.58 L115.3 30.28 L116.36 31.59 L117.43 32.09 L118.49 30.43 L119.56 31.3 L120.62 30.11 L121.68 30.17 L122.75 30.52 L123.81 28.69 L124.88 30.09 L125.94 31.44 L127 30.51 L128.07 32.03 L129.13 29.98 L130.2 31.45 L131.26 30.11 L132.33 28.26 L133.39 30.83 L134.45 30.34 L135.52 30.5 L136.58 31.93 L137.65 30.29 L138.71 31.17 L139.78 29.31 L140.84 31.53 L141.9 30.92 L142.97 30.99 L144.03 30.84 L145.1 31.79 L146.16 30.52 L147.23 30.49 L148.29 30.42 L149.35 31.43 L150.42 33.05 L151.48 30.88 L152.55 31.56 L153.61 32.22 L154.68 32 L155.74 30.56 L156.8 32.88 L157.87 31.89 L158.93 31.93 L160 32.04 L161.06 30.54 L162.12 32.73 L163.19 32.12 L164.25 31.65 L165.32 33.29 L166.38 31.15 L167.45 31.76 L168.51 30.93 L169.57 32.22 L170.64 33.07 L171.7 31.35 L172.77 32.54 L173.83 31.87 L174.9 32.44 L175.96 30.59 L177.02 31.46 L178.09 31.73 L179.15 30.15 L180.22 32.29 L181.28 31.25 L182.35 31.85 L183.41 32.14 L184.47 31.22 L185.54 32.1 L186.6 31.2 L187.67 31.74 L188.73 31.47 L189.8 31.46 L190.86 33.02 L191.92 31.92 L192.99 30.77 L194.05 29.09 L195.12 31.67 L196.18 31.63 L197.25 31.97 L198.31 31.96 L199.37 31.62 L200.44 32.33 L201.5 30.79 L202.57 31.86 L203.63 32.21 L204.69 31.62" fill="none" stroke="#f37533" stroke-width="0.95" stroke-linejoin="round"/>
<path d="M55.7 27.52 L56.76 28.23 L57.83 28.76 L58.89 29.87 L59.96 30.84 L61.02 30.98 L62.09 33.56 L63.15 32.26 L64.21 33.16 L65.28 33.34 L66.34 33.34 L67.41 32.74 L68.47 33.44 L69.54 32.39 L70.6 32.54 L71.66 33.89 L72.73 34.2 L73.79 33.09 L74.86 33.79 L75.92 32.64 L76.98 33.2 L78.05 33.59 L79.11 32.07 L80.18 32.63 L81.24 34.24 L82.31 33.79 L83.37 32.81 L84.43 34.04 L85.5 32.86 L86.56 32.81 L87.63 33.61 L88.69 31.96 L89.76 32.61 L90.82 32.8 L91.88 31.72 L92.95 31.48 L94.01 32 L95.08 32.06 L96.14 32.01 L97.21 31.59 L98.27 31.83 L99.33 31.65 L100.4 31.88 L101.46 31.4 L102.53 30.29 L103.59 31.08 L104.66 30.85 L105.72 30.56 L106.78 31.58 L107.85 31.96 L108.91 31.83 L109.98 31.1 L111.04 31.54 L112.11 30.74 L113.17 30.91 L114.23 30.82 L115.3 31.62 L116.36 31.22 L117.43 30.53 L118.49 31.38 L119.56 32.13 L120.62 32.15 L121.68 31.24 L122.75 32.28 L123.81 32.02 L124.88 30.91 L125.94 31.16 L127 31.44 L128.07 32.63 L129.13 31.74 L130.2 32.02 L131.26 30.76 L132.33 31.55 L133.39 32.37 L134.45 31.47 L135.52 29.86 L136.58 30.4 L137.65 31.96 L138.71 30.16 L139.78 28.13 L140.84 31.62 L141.9 29.93 L142.97 29.77 L144.03 30.61 L145.1 32.85 L146.16 31.75 L147.23 31.15 L148.29 31.04 L149.35 31.71 L150.42 30.52 L151.48 31.67 L152.55 32.1 L153.61 31.25 L154.68 33.18 L155.74 29.09 L156.8 31.07 L157.87 31 L158.93 31.36 L160 30.3 L161.06 30.89 L162.12 31.01 L163.19 31.87 L164.25 33.69 L165.32 32.6 L166.38 31.59 L167.45 32.34 L168.51 33.56 L169.57 31.28 L170.64 31.08 L171.7 32.5 L172.77 32.09 L173.83 31.98 L174.9 33.07 L175.96 30.9 L177.02 31.32 L178.09 31.75 L179.15 32.07 L180.22 32 L181.28 31.34 L182.35 30.67 L183.41 31.58 L184.47 31.05 L185.54 30.99 L186.6 32.36 L187.67 32.06 L188.73 32.23 L189.8 32.97 L190.86 32.1 L191.92 32.89 L192.99 31.8 L194.05 30.82 L195.12 31.44 L196.18 32.74 L197.25 30.88 L198.31 32.04 L199.37 30.09 L200.44 33.56 L201.5 31.6 L202.57 32.68 L203.63 32.08 L204.69 32.63" fill="none" stroke="#f47c32" stroke-width="0.95" stroke-linejoin="round"/>
<path d="M55.7 27.05 L56.76 28.77 L57.83 29.34 L58.89 30.26 L59.96 28.89 L61.02 30.65 L62.09 31.81 L63.15 32.93 L64.21 32.71 L65.28 32.94 L66.34 33.19 L67.41 33.85 L68.47 33.01 L69.54 32.56 L70.6 32.89 L71.66 32.58 L72.73 32.86 L73.79 32.67 L74.86 33.14 L75.92 32.91 L76.98 32.86 L78.05 32.82 L79.11 33.24 L80.18 33.81 L81.24 32.48 L82.31 33.02 L83.37 32.74 L84.43 33.68 L85.5 32.66 L86.56 32.82 L87.63 32.47 L88.69 32.39 L89.76 32.54 L90.82 33.16 L91.88 32.11 L92.95 32.66 L94.01 31.82 L95.08 32.28 L96.14 32.72 L97.21 32.43 L98.27 33.06 L99.33 31.4 L100.4 32.49 L101.46 32.53 L102.53 32.57 L103.59 32.77 L104.66 31.18 L105.72 31.69 L106.78 31.38 L107.85 31.36 L108.91 31.32 L109.98 31.11 L111.04 32.1 L112.11 30.58 L113.17 31.48 L114.23 31.23 L115.3 31.38 L116.36 31.64 L117.43 31.39 L118.49 31.04 L119.56 32.63 L120.62 30.15 L121.68 31.62 L122.75 31.9 L123.81 31.06 L124.88 31.82 L125.94 30.21 L127 31.03 L128.07 31.77 L129.13 32.51 L130.2 31.46 L131.26 31.07 L132.33 29.85 L133.39 31.31 L134.45 30.35 L135.52 30.51 L136.58 29.04 L137.65 30.34 L138.71 30.88 L139.78 31.86 L140.84 31.78 L141.9 30.97 L142.97 30.16 L144.03 32.26 L145.1 31.04 L146.16 31.75 L147.23 31.13 L148.29 31.59 L149.35 32.12 L150.42 31.16 L151.48 32.2 L152.55 31.08 L153.61 32.04 L154.68 32.97 L155.74 33.45 L156.8 32.13 L157.87 30.19 L158.93 31.76 L160 31.72 L161.06 32.41 L162.12 32.16 L163.19 30.31 L164.25 31.06 L165.32 32.39 L166.38 33.64 L167.45 31.18 L168.51 31.15 L169.57 32.48 L170.64 32.16 L171.7 31.24 L172.77 31.25 L173.83 32.76 L174.9 31.45 L175.96 32.72 L177.02 31.57 L178.09 33.22 L179.15 31.93 L180.22 31.94 L181.28 30.98 L182.35 31.15 L183.41 33.23 L184.47 31.55 L185.54 33.89 L186.6 33.6 L187.67 31.83 L188.73 31.75 L189.8 32.72 L190.86 31.84 L191.92 32.91 L192.99 32.39 L194.05 32.13 L195.12 32.01 L196.18 32.74 L197.25 32.93 L198.31 31.54 L199.37 31.83 L200.44 34.34 L201.5 31.13 L202.57 32.93 L203.63 32.27 L204.69 30.95" fill="none" stroke="#f58331" stroke-width="0.95" stroke-linejoin="round"/>
<path d="M55.7 27.59 L56.76 28.67 L57.83 28.9 L58.89 30.3 L59.96 32.06 L61.02 31.43 L62.09 31.51 L63.15 31.45 L64.21 31.2 L65.28 33.08 L66.34 33.46 L67.41 32.56 L68.47 33.1 L69.54 33.05 L70.6 32.11 L71.66 33.6 L72.73 32.79 L73.79 33.31 L74.86 34.05 L75.92 33.41 L76.98 32.48 L78.05 33.9 L79.11 32.36 L80.18 32.83 L81.24 33.23 L82.31 32.81 L83.37 33.23 L84.43 33 L85.5 33.12 L86.56 32.36 L87.63 33.18 L88.69 32.47 L89.76 33.28 L90.82 32.55 L91.88 32.33 L92.95 32.19 L94.01 32.49 L95.08 32.29 L96.14 33.43 L97.21 32.44 L98.27 32.21 L99.33 31.12 L100.4 32.53 L101.46 31.69 L102.53 31.95 L103.59 32.56 L104.66 33.13 L105.72 31.92 L106.78 31.39 L107.85 31.62 L108.91 32.02 L109.98 31.22 L111.04 32.51 L112.11 31.96 L113.17 32.01 L114.23 30.5 L115.3 30.75 L116.36 32.01 L117.43 32.73 L118.49 32.46 L119.56 30.36 L120.62 31.08 L121.68 32.19 L122.75 31.22 L123.81 31.8 L124.88 32.21 L125.94 31.12 L127 31.68 L128.07 31.51 L129.13 30.44 L130.2 31.12 L131.26 31.04 L132.33 31.64 L133.39 31.91 L134.45 30.39 L135.52 30.27 L136.58 30.5 L137.65 32.16 L138.71 31.74 L139.78 31.75 L140.84 30 L141.9 32.1 L142.97 30.95 L144.03 32.35 L145.1 31.25 L146.16 30.44 L147.23 32.34 L148.29 30.68 L149.35 31.14 L150.42 31.09 L151.48 32.02 L152.55 31.76 L153.61 31.08 L154.68 30.76 L155.74 33.2 L156.8 31.19 L157.87 30.65 L158.93 31.87 L160 32.32 L161.06 32.48 L162.12 32.43 L163.19 32.29 L164.25 31.07 L165.32 32.53 L166.38 31.74 L167.45 30.89 L168.51 31.68 L169.57 32.01 L170.64 30.42 L171.7 31.92 L172.77 32.57 L173.83 31.9 L174.9 31.9 L175.96 31.12 L177.02 32.1 L178.09 33.14 L179.15 32.79 L180.22 31.96 L181.28 32.4 L182.35 31.76 L183.41 32.93 L184.47 31.07 L185.54 29.93 L186.6 31.75 L187.67 31.04 L188.73 31.86 L189.8 32.25 L190.86 30.93 L191.92 32.04 L192.99 30.78 L194.05 30.17 L195.12 31.48 L196.18 30.45 L197.25 32.82 L198.31 32.15 L199.37 32.44 L200.44 32.8 L201.5 32.8 L202.57 31.71 L203.63 32.91 L204.69 31.83" fill="none" stroke="#f5882f" stroke-width="0.95" stroke-linejoin="round"/>
<path d="M55.7 27.69 L56.76 28.06 L57.83 29.23 L58.89 29.59 L59.96 30.69 L61.02 30.97 L62.09 31.35 L63.15 31.03 L64.21 32.47 L65.28 32.6 L66.34 32.57 L67.41 32.75 L68.47 32.88 L69.54 32.9 L70.6 33.49 L71.66 33.05 L72.73 32.96 L73.79 33.61 L74.86 33.96 L75.92 34.07 L76.98 32.74 L78.05 32.87 L79.11 32.63 L80.18 33.33 L81.24 32.88 L82.31 32.38 L83.37 33.02 L84.43 32.22 L85.5 32.91 L86.56 32.57 L87.63 32.41 L88.69 32.54 L89.76 33.11 L90.82 32.73 L91.88 31.55 L92.95 32.63 L94.01 31.22 L95.08 32.24 L96.14 32.34 L97.21 31.62 L98.27 32.31 L99.33 33.11 L100.4 32.51 L101.46 32.46 L102.53 31.12 L103.59 32.28 L104.66 31.03 L105.72 33.11 L106.78 31.95 L107.85 31.04 L108.91 32.13 L109.98 31.52 L111.04 31.4 L112.11 31.34 L113.17 32.08 L114.23 31.61 L115.3 31.16 L116.36 31.46 L117.43 31.41 L118.49 31.74 L119.56 31.69 L120.62 32.24 L121.68 31.19 L122.75 31.36 L123.81 32.37 L124.88 32.73 L125.94 31.14 L127 31.1 L128.07 30.72 L129.13 31.27 L130.2 30.73 L131.26 30.8 L132.33 33.43 L133.39 30.02 L134.45 31.93 L135.52 30.57 L136.58 31.2 L137.65 31.99 L138.71 30.81 L139.78 32.71 L140.84 31.17 L141.9 30.33 L142.97 31.46 L144.03 30.18 L145.1 31.05 L146.16 30.39 L147.23 32.1 L148.29 31.24 L149.35 34.02 L150.42 31.05 L151.48 32.05 L152.55 32.47 L153.61 32.38 L154.68 32.66 L155.74 31.89 L156.8 31.03 L157.87 31.73 L158.93 30.06 L160 31.51 L161.06 31.77 L162.12 32.13 L163.19 32.97 L164.25 33.22 L165.32 32.71 L166.38 32.77 L167.45 32.7 L168.51 31.78 L169.57 32.07 L170.64 31.58 L171.7 32.11 L172.77 31.36 L173.83 32.67 L174.9 31.57 L175.96 32.9 L177.02 29.45 L178.09 31.85 L179.15 31.13 L180.22 31.63 L181.28 32.73 L182.35 30.95 L183.41 31.67 L184.47 32.85 L185.54 30.72 L186.6 32.37 L187.67 31.32 L188.73 33.19 L189.8 32.07 L190.86 31.76 L191.92 31.75 L192.99 31.91 L194.05 32.62 L195.12 30.54 L196.18 32.61 L197.25 32.34 L198.31 32.08 L199.37 32.02 L200.44 31.84 L201.5 32.96 L202.57 32.56 L203.63 32.13 L204.69 32.81" fill="none" stroke="#f68d2d" stroke-width="0.95" stroke-linejoin="round"/>
<path d="M55.7 26.39 L56.76 28.97 L57.83 29.53 L58.89 30.61 L59.96 30.1 L61.02 31.4 L62.09 30.46 L63.15 31.86 L64.21 31.74 L65.28 32.13 L66.34 33.27 L67.41 31.96 L68.47 33.32 L69.54 33.23 L70.6 31.82 L71.66 33.01 L72.73 33.31 L73.79 33.43 L74.86 32.88 L75.92 31.96 L76.98 33.34 L78.05 34.1 L79.11 34.08 L80.18 32.3 L81.24 32.6 L82.31 32.77 L83.37 32.11 L84.43 33.23 L85.5 32.68 L86.56 32.41 L87.63 32.66 L88.69 32.03 L89.76 32.95 L90.82 33.31 L91.88 32.76 L92.95 32.46 L94.01 33.1 L95.08 31.45 L96.14 32.5 L97.21 33.09 L98.27 32.8 L99.33 32.58 L100.4 31.93 L101.46 32.19 L102.53 32.23 L103.59 32.08 L104.66 32.4 L105.72 31.74 L106.78 32.52 L107.85 31.75 L108.91 31.89 L109.98 32.6 L111.04 31.42 L112.11 32.33 L113.17 32.15 L114.23 31.37 L115.3 31.97 L116.36 32.27 L117.43 32.38 L118.49 33.93 L119.56 31.95 L120.62 33.07 L121.68 31.69 L122.75 31.87 L123.81 32.54 L124.88 32.05 L125.94 31.38 L127 30.96 L128.07 30.46 L129.13 31.36 L130.2 31.04 L131.26 31.22 L132.33 29.39 L133.39 30.14 L134.45 31.56 L135.52 30.58 L136.58 30.94 L137.65 31.55 L138.71 31.79 L139.78 31.57 L140.84 30.75 L141.9 32.52 L142.97 30.77 L144.03 31.5 L145.1 31.07 L146.16 31.1 L147.23 31.67 L148.29 32.34 L149.35 31.3 L150.42 32.66 L151.48 33.5 L152.55 33.5 L153.61 31.21 L154.68 30.63 L155.74 31 L156.8 32.4 L157.87 31.71 L158.93 30.43 L160 32.13 L161.06 31.85 L162.12 31.52 L163.19 32.19 L164.25 31.94 L165.32 32.45 L166.38 32.92 L167.45 31.63 L168.51 32.09 L169.57 30.84 L170.64 31.2 L171.7 32.01 L172.77 33.52 L173.83 33.29 L174.9 30.91 L175.96 30.57 L177.02 30.93 L178.09 32.57 L179.15 31.35 L180.22 31.82 L181.28 31.87 L182.35 31 L183.41 31.45 L184.47 30.1 L185.54 31.68 L186.6 32.08 L187.67 31.63 L188.73 32.83 L189.8 32.94 L190.86 32.11 L191.92 32.65 L192.99 31.21 L194.05 32.64 L195.12 32.39 L196.18 31.9 L197.25 31.2 L198.31 31.55 L199.37 30.9 L200.44 33.35 L201.5 32.46 L202.57 32.78 L203.63 32.95 L204.69 31.9" fill="none" stroke="#f6932b" stroke-width="0.95" stroke-linejoin="round"/>
<path d="M55.7 26.7 L56.76 27.65 L57.83 28.75 L58.89 29.38 L59.96 31.01 L61.02 31.57 L62.09 31.54 L63.15 32.71 L64.21 32.37 L65.28 33.06 L66.34 32.56 L67.41 32.38 L68.47 32.61 L69.54 33.83 L70.6 33.22 L71.66 33.04 L72.73 32.36 L73.79 33.11 L74.86 32.78 L75.92 33.21 L76.98 32.26 L78.05 33.4 L79.11 32.59 L80.18 33.68 L81.24 33.09 L82.31 33.56 L83.37 33.48 L84.43 32.36 L85.5 33.37 L86.56 33.89 L87.63 33.27 L88.69 33.37 L89.76 32.52 L90.82 32.06 L91.88 32.3 L92.95 33.65 L94.01 33.19 L95.08 32.2 L96.14 32.34 L97.21 32.41 L98.27 33.32 L99.33 32.56 L100.4 32.68 L101.46 31.72 L102.53 32.58 L103.59 31.7 L104.66 33.01 L105.72 32.49 L106.78 32.67 L107.85 32.26 L108.91 32.31 L109.98 32.06 L111.04 33.23 L112.11 32.59 L113.17 32.47 L114.23 32 L115.3 32.71 L116.36 30.88 L117.43 30.66 L118.49 31.74 L119.56 32.51 L120.62 32.27 L121.68 32.02 L122.75 31.86 L123.81 31.04 L124.88 33.37 L125.94 31.8 L127 30.51 L128.07 32.37 L129.13 32.17 L130.2 31.16 L131.26 30.95 L132.33 31.23 L133.39 32.64 L134.45 31.07 L135.52 32.92 L136.58 31.2 L137.65 31.76 L138.71 32.71 L139.78 33.11 L140.84 31.78 L141.9 31.44 L142.97 30.69 L144.03 31.28 L145.1 31.39 L146.16 32.81 L147.23 31.52 L148.29 33.21 L149.35 30.77 L150.42 32.12 L151.48 30.37 L152.55 32.01 L153.61 32.52 L154.68 32.22 L155.74 30.61 L156.8 33.02 L157.87 32.46 L158.93 31.65 L160 32.36 L161.06 30.87 L162.12 29.61 L163.19 32.41 L164.25 30.88 L165.32 32.07 L166.38 31.55 L167.45 31.42 L168.51 33.31 L169.57 32.09 L170.64 31.63 L171.7 31.92 L172.77 32.69 L173.83 31.96 L174.9 32.66 L175.96 31.55 L177.02 32.05 L178.09 32.33 L179.15 31.5 L180.22 33.1 L181.28 33.09 L182.35 31.28 L183.41 31.27 L184.47 31.25 L185.54 32.4 L186.6 32.27 L187.67 33.37 L188.73 32.54 L189.8 30.29 L190.86 31.72 L191.92 32.93 L192.99 31.91 L194.05 31.61 L195.12 31.31 L196.18 32.89 L197.25 32.92 L198.31 32.14 L199.37 31.49 L200.44 32 L201.5 30.37 L202.57 31.32 L203.63 31.21 L204.69 32.38" fill="none" stroke="#f79829" stroke-width="0.95" stroke-linejoin="round"/>
<path d="M55.7 27.68 L56.76 28.85 L57.83 27.89 L58.89 30.28 L59.96 29.82 L61.02 30.22 L62.09 31.88 L63.15 32.18 L64.21 32.11 L65.28 32.53 L66.34 32.19 L67.41 33.69 L68.47 32.45 L69.54 32.65 L70.6 31.67 L71.66 33.07 L72.73 33.93 L73.79 33.88 L74.86 32.56 L75.92 32.77 L76.98 32.94 L78.05 33.16 L79.11 33.17 L80.18 32.76 L81.24 34.3 L82.31 33.81 L83.37 33.95 L84.43 32.91 L85.5 32.44 L86.56 32.68 L87.63 31.56 L88.69 33.1 L89.76 32.78 L90.82 32.44 L91.88 32.85 L92.95 31.48 L94.01 32.35 L95.08 32.33 L96.14 32.78 L97.21 32 L98.27 32.35 L99.33 33.05 L100.4 32.24 L101.46 32.93 L102.53 32.11 L103.59 32.72 L104.66 32.66 L105.72 32.53 L106.78 32.48 L107.85 32.01 L108.91 31.85 L109.98 32.49 L111.04 31.4 L112.11 32.35 L113.17 31.2 L114.23 31.36 L115.3 31.63 L116.36 32.96 L117.43 32.18 L118.49 30.32 L119.56 32.41 L120.62 30.14 L121.68 31.72 L122.75 32.2 L123.81 33.28 L124.88 29.9 L125.94 31.75 L127 32.54 L128.07 33.56 L129.13 31.06 L130.2 31.45 L131.26 31.89 L132.33 32.15 L133.39 32.75 L134.45 32.47 L135.52 32.64 L136.58 33.19 L137.65 31.92 L138.71 31.97 L139.78 32.35 L140.84 33.96 L141.9 33.14 L142.97 31.59 L144.03 32.04 L145.1 32.52 L146.16 32.04 L147.23 31.29 L148.29 32.01 L149.35 31.25 L150.42 32.47 L151.48 31.67 L152.55 32.16 L153.61 33.14 L154.68 32.2 L155.74 32.62 L156.8 31.64 L157.87 31.84 L158.93 32.35 L160 31.09 L161.06 33.55 L162.12 31.47 L163.19 33.12 L164.25 32.84 L165.32 31.5 L166.38 32 L167.45 31.35 L168.51 32.31 L169.57 32.07 L170.64 30.75 L171.7 32.03 L172.77 30.72 L173.83 32.34 L174.9 31.67 L175.96 31.83 L177.02 30.97 L178.09 31.61 L179.15 32.04 L180.22 33 L181.28 30.1 L182.35 31.41 L183.41 31.95 L184.47 32.57 L185.54 30.79 L186.6 33.54 L187.67 32.38 L188.73 30.99 L189.8 31.24 L190.86 32.01 L191.92 31.43 L192.99 30.1 L194.05 32.11 L195.12 32.69 L196.18 32.06 L197.25 32.48 L198.31 31.22 L199.37 31.69 L200.44 31.15 L201.5 33.79 L202.57 32.26 L203.63 31.37 L204.69 32.84" fill="none" stroke="#f79d26" stroke-width="0.95" stroke-linejoin="round"/>
<path d="M55.7 26.94 L56.76 28.55 L57.83 29.84 L58.89 30.02 L59.96 30.22 L61.02 31.31 L62.09 31.6 L63.15 31.73 L64.21 31.87 L65.28 32.37 L66.34 32.48 L67.41 33.47 L68.47 32.96 L69.54 33.22 L70.6 31.76 L71.66 33.18 L72.73 32.44 L73.79 33.5 L74.86 33.64 L75.92 32.93 L76.98 33.14 L78.05 32.91 L79.11 32.97 L80.18 32.67 L81.24 32.75 L82.31 33.89 L83.37 33.28 L84.43 32.57 L85.5 33.51 L86.56 33.49 L87.63 33.02 L88.69 32.79 L89.76 32.48 L90.82 32.96 L91.88 32.56 L92.95 33 L94.01 32.97 L95.08 32.2 L96.14 32.71 L97.21 32.55 L98.27 32.93 L99.33 32.41 L100.4 31.9 L101.46 33.73 L102.53 32.68 L103.59 32.28 L104.66 32.2 L105.72 31.39 L106.78 31.73 L107.85 31.11 L108.91 31.68 L109.98 31.7 L111.04 31.11 L112.11 32.76 L113.17 31.18 L114.23 32.56 L115.3 31.93 L116.36 31.19 L117.43 31.99 L118.49 33.95 L119.56 31.46 L120.62 33.67 L121.68 32.19 L122.75 33.15 L123.81 31.62 L124.88 32.35 L125.94 32.27 L127 33.15 L128.07 32.71 L129.13 32.47 L130.2 31.72 L131.26 31.54 L132.33 31.22 L133.39 31.07 L134.45 32.26 L135.52 31.93 L136.58 31.01 L137.65 32.06 L138.71 33.67 L139.78 31.31 L140.84 31.33 L141.9 31.3 L142.97 31.77 L144.03 32.54 L145.1 31.87 L146.16 30.96 L147.23 30.9 L148.29 31.69 L149.35 30.61 L150.42 31.69 L151.48 31.63 L152.55 31.48 L153.61 30.56 L154.68 31.53 L155.74 31.72 L156.8 32.75 L157.87 32.64 L158.93 31.52 L160 32.53 L161.06 30.76 L162.12 31.66 L163.19 32.92 L164.25 31.47 L165.32 31.31 L166.38 30.18 L167.45 31.93 L168.51 32.69 L169.57 32.34 L170.64 31.72 L171.7 31.6 L172.77 32.13 L173.83 32.54 L174.9 31.72 L175.96 33.22 L177.02 31.92 L178.09 32.1 L179.15 30.92 L180.22 32.36 L181.28 32.6 L182.35 31.22 L183.41 32.16 L184.47 34.02 L185.54 32.93 L186.6 32.07 L187.67 32 L188.73 32.04 L189.8 31.66 L190.86 30.45 L191.92 31.07 L192.99 32.38 L194.05 32.46 L195.12 32.67 L196.18 31.5 L197.25 31.55 L198.31 31.6 L199.37 30.1 L200.44 31.82 L201.5 33.05 L202.57 31.74 L203.63 31.5 L204.69 33.01" fill="none" stroke="#f8a326" stroke-width="0.95" stroke-linejoin="round"/>
<path d="M55.7 27.88 L56.76 28.17 L57.83 29.74 L58.89 30.12 L59.96 30.63 L61.02 31.37 L62.09 31.83 L63.15 32.06 L64.21 32.54 L65.28 32.49 L66.34 33.15 L67.41 32.89 L68.47 33.08 L69.54 33.38 L70.6 32.44 L71.66 32.61 L72.73 33.78 L73.79 32.66 L74.86 33.19 L75.92 33.21 L76.98 33.23 L78.05 33.19 L79.11 32.57 L80.18 33.49 L81.24 33.55 L82.31 33.34 L83.37 32.67 L84.43 32.93 L85.5 33.13 L86.56 32.69 L87.63 32.57 L88.69 32.99 L89.76 33.27 L90.82 32.88 L91.88 32.69 L92.95 32.99 L94.01 32.44 L95.08 32.76 L96.14 32.69 L97.21 32.06 L98.27 32.65 L99.33 32.33 L100.4 32.44 L101.46 32.61 L102.53 32.43 L103.59 32.29 L104.66 31.86 L105.72 32.15 L106.78 32.31 L107.85 32.26 L108.91 32.67 L109.98 32.03 L111.04 30.79 L112.11 32.35 L113.17 32.8 L114.23 32.56 L115.3 31.47 L116.36 31.81 L117.43 30.68 L118.49 33.09 L119.56 32.39 L120.62 33.47 L121.68 30.96 L122.75 32.45 L123.81 31.43 L124.88 30.87 L125.94 31.93 L127 30.22 L128.07 31.58 L129.13 30.37 L130.2 32.73 L131.26 33.05 L132.33 31.8 L133.39 31.08 L134.45 34.58 L135.52 32.39 L136.58 32.48 L137.65 33.38 L138.71 31.12 L139.78 32.08 L140.84 32.79 L141.9 32.82 L142.97 32.72 L144.03 31.72 L145.1 32.26 L146.16 31.75 L147.23 31.43 L148.29 32.27 L149.35 31.59 L150.42 32.7 L151.48 32.16 L152.55 31.83 L153.61 32.64 L154.68 32.03 L155.74 33.06 L156.8 30.98 L157.87 31.78 L158.93 32.17 L160 32.46 L161.06 33.83 L162.12 31.12 L163.19 33.33 L164.25 31.9 L165.32 33.06 L166.38 31.52 L167.45 31.89 L168.51 31.81 L169.57 32.88 L170.64 33.38 L171.7 31.86 L172.77 32.62 L173.83 31.69 L174.9 32.51 L175.96 30.17 L177.02 33.44 L178.09 31.68 L179.15 32.39 L180.22 32.79 L181.28 32.9 L182.35 31.48 L183.41 33.21 L184.47 32.19 L185.54 31.83 L186.6 31.16 L187.67 32.08 L188.73 32.75 L189.8 33.4 L190.86 31.45 L191.92 32.7 L192.99 32.99 L194.05 31 L195.12 31.32 L196.18 32.07 L197.25 32.48 L198.31 31.26 L199.37 30.41 L200.44 33.54 L201.5 31.67 L202.57 30.37 L203.63 31.34 L204.69 32.56" fill="none" stroke="#f9aa27" stroke-width="0.95" stroke-linejoin="round"/>
<path d="M55.7 27.2 L56.76 28.5 L57.83 29.85 L58.89 29.86 L59.96 29.07 L61.02 30.72 L62.09 31.51 L63.15 31.36 L64.21 33.16 L65.28 31.98 L66.34 31.58 L67.41 32.5 L68.47 32.7 L69.54 32.95 L70.6 33.35 L71.66 33.42 L72.73 32.73 L73.79 33.69 L74.86 33.23 L75.92 33.23 L76.98 32.65 L78.05 33.92 L79.11 32.98 L80.18 33.09 L81.24 33.09 L82.31 33.07 L83.37 33.88 L84.43 33.33 L85.5 33.82 L86.56 32.8 L87.63 32.92 L88.69 32.44 L89.76 33.25 L90.82 33.43 L91.88 32.19 L92.95 32.61 L94.01 31.46 L95.08 32.87 L96.14 33.06 L97.21 32.64 L98.27 33.22 L99.33 32.61 L100.4 32.24 L101.46 32.15 L102.53 31.9 L103.59 33.43 L104.66 31.87 L105.72 32.68 L106.78 31.72 L107.85 31.72 L108.91 32.93 L109.98 32.8 L111.04 33.06 L112.11 32.72 L113.17 32.93 L114.23 32.28 L115.3 32.41 L116.36 33.19 L117.43 32.96 L118.49 32.4 L119.56 32.9 L120.62 30.92 L121.68 31.86 L122.75 31.34 L123.81 33.68 L124.88 32.82 L125.94 32.62 L127 31.92 L128.07 31.47 L129.13 31.94 L130.2 32.21 L131.26 32.68 L132.33 31.75 L133.39 34.32 L134.45 30.4 L135.52 30.75 L136.58 31.46 L137.65 32.07 L138.71 32.32 L139.78 31.81 L140.84 31.37 L141.9 31.64 L142.97 31.28 L144.03 31.19 L145.1 34.33 L146.16 32.9 L147.23 32.41 L148.29 32.66 L149.35 32.46 L150.42 32.74 L151.48 32.3 L152.55 32.97 L153.61 32.03 L154.68 33.1 L155.74 32.44 L156.8 32.75 L157.87 32.61 L158.93 32.59 L160 31.38 L161.06 32.34 L162.12 32.11 L163.19 32.86 L164.25 33.03 L165.32 31.65 L166.38 30.26 L167.45 32.88 L168.51 33.51 L169.57 34 L170.64 31.14 L171.7 32.1 L172.77 31.01 L173.83 32.78 L174.9 32.23 L175.96 34.15 L177.02 31.76 L178.09 30.67 L179.15 31.9 L180.22 31.47 L181.28 31.18 L182.35 32.38 L183.41 33.05 L184.47 31.33 L185.54 33.42 L186.6 31.44 L187.67 31.97 L188.73 32.2 L189.8 33.4 L190.86 32.33 L191.92 32.08 L192.99 31.74 L194.05 31.38 L195.12 33.44 L196.18 32.2 L197.25 32.06 L198.31 30.82 L199.37 32.57 L200.44 32.7 L201.5 31.68 L202.57 32.54 L203.63 31.96 L204.69 32.68" fill="none" stroke="#f9b029" stroke-width="0.95" stroke-linejoin="round"/>
<path d="M55.7 26.92 L56.76 28.82 L57.83 29.71 L58.89 29.17 L59.96 31.3 L61.02 30.54 L62.09 31.8 L63.15 31.98 L64.21 32.42 L65.28 32.22 L66.34 32.72 L67.41 32.86 L68.47 33.54 L69.54 33.38 L70.6 33.3 L71.66 33.61 L72.73 32.19 L73.79 33.04 L74.86 33.26 L75.92 34.24 L76.98 33.62 L78.05 33.09 L79.11 33.05 L80.18 33.32 L81.24 33.47 L82.31 33.29 L83.37 33.58 L84.43 32.03 L85.5 32.69 L86.56 33.51 L87.63 32.52 L88.69 32.72 L89.76 32.13 L90.82 33.51 L91.88 32.53 L92.95 32.71 L94.01 32.99 L95.08 32.76 L96.14 33.2 L97.21 32.21 L98.27 32.7 L99.33 31.71 L100.4 32.15 L101.46 32.61 L102.53 33.26 L103.59 32.48 L104.66 32.05 L105.72 31.8 L106.78 33.19 L107.85 32.69 L108.91 33.17 L109.98 32.73 L111.04 32.24 L112.11 32.43 L113.17 32.11 L114.23 32.72 L115.3 32.66 L116.36 32.44 L117.43 32.86 L118.49 32.5 L119.56 33.58 L120.62 31.26 L121.68 31.8 L122.75 31.25 L123.81 32.08 L124.88 31.98 L125.94 31.22 L127 31.5 L128.07 30.92 L129.13 32.09 L130.2 32.02 L131.26 31.78 L132.33 32.45 L133.39 29.97 L134.45 32.57 L135.52 30.46 L136.58 32.33 L137.65 32.27 L138.71 31.25 L139.78 32.53 L140.84 30.28 L141.9 31.64 L142.97 32.32 L144.03 32.29 L145.1 32.79 L146.16 31.53 L147.23 31.8 L148.29 30.87 L149.35 31.28 L150.42 33.05 L151.48 31.24 L152.55 29.83 L153.61 32.43 L154.68 32.4 L155.74 30.88 L156.8 33.72 L157.87 30.88 L158.93 34.22 L160 32.36 L161.06 32.13 L162.12 30.98 L163.19 32.76 L164.25 29.43 L165.32 32.17 L166.38 32.27 L167.45 32.42 L168.51 31.79 L169.57 32.3 L170.64 32.85 L171.7 31.61 L172.77 31.68 L173.83 31.42 L174.9 32.16 L175.96 32.56 L177.02 32.33 L178.09 32.58 L179.15 30.84 L180.22 30.53 L181.28 32.07 L182.35 31.98 L183.41 32.83 L184.47 32.77 L185.54 34.1 L186.6 32.92 L187.67 32.34 L188.73 31 L189.8 31.84 L190.86 32.61 L191.92 32.62 L192.99 32.54 L194.05 31.82 L195.12 32.14 L196.18 31.57 L197.25 30.74 L198.31 30.99 L199.37 31.39 L200.44 32.75 L201.5 31.02 L202.57 32.9 L203.63 33.09 L204.69 31.58" fill="none" stroke="#fab72a" stroke-width="0.95" stroke-linejoin="round"/>
<path d="M55.7 27.09 L56.76 27.84 L57.83 29.1 L58.89 29.56 L59.96 30.51 L61.02 30.82 L62.09 31.66 L63.15 32.08 L64.21 32.2 L65.28 32.67 L66.34 33.3 L67.41 34.11 L68.47 33.22 L69.54 33.18 L70.6 32.39 L71.66 33.11 L72.73 31.99 L73.79 32.73 L74.86 33.28 L75.92 32.96 L76.98 33.38 L78.05 32.75 L79.11 33.11 L80.18 33.37 L81.24 32.9 L82.31 33.35 L83.37 32.86 L84.43 33.61 L85.5 32.46 L86.56 33 L87.63 32.38 L88.69 32.66 L89.76 33.48 L90.82 32.62 L91.88 32.68 L92.95 32.56 L94.01 32.52 L95.08 32.91 L96.14 33.51 L97.21 32.83 L98.27 32.58 L99.33 33.7 L100.4 33.09 L101.46 33.11 L102.53 32.24 L103.59 32.95 L104.66 32.55 L105.72 32.15 L106.78 32.36 L107.85 33.34 L108.91 31.68 L109.98 31.26 L111.04 31.49 L112.11 32.69 L113.17 32.34 L114.23 30.94 L115.3 32.78 L116.36 31.7 L117.43 31.59 L118.49 31.34 L119.56 31.76 L120.62 32.81 L121.68 32.25 L122.75 32.15 L123.81 32.19 L124.88 31.11 L125.94 31.84 L127 32.36 L128.07 31.2 L129.13 32.74 L130.2 32.87 L131.26 31.69 L132.33 31.93 L133.39 30.6 L134.45 31.83 L135.52 30.5 L136.58 32.62 L137.65 33.43 L138.71 31.57 L139.78 32.33 L140.84 32.2 L141.9 30.76 L142.97 31.35 L144.03 33.27 L145.1 32.18 L146.16 32.56 L147.23 31.58 L148.29 31.84 L149.35 31.05 L150.42 33.1 L151.48 31.82 L152.55 33.44 L153.61 31.82 L154.68 30.48 L155.74 31.13 L156.8 31.76 L157.87 31.23 L158.93 32.08 L160 31.94 L161.06 32.03 L162.12 32.05 L163.19 32.53 L164.25 32.07 L165.32 32.77 L166.38 32.94 L167.45 31.61 L168.51 32.51 L169.57 32.38 L170.64 30.77 L171.7 31.66 L172.77 33.64 L173.83 30.62 L174.9 32.91 L175.96 31.06 L177.02 32.01 L178.09 33.01 L179.15 33.73 L180.22 32.77 L181.28 31.92 L182.35 31.56 L183.41 31.8 L184.47 31.32 L185.54 31.49 L186.6 31.02 L187.67 30.8 L188.73 31.35 L189.8 31.13 L190.86 32.29 L191.92 31.38 L192.99 31.73 L194.05 31.22 L195.12 31.83 L196.18 33.1 L197.25 32.66 L198.31 32.01 L199.37 32.73 L200.44 30.55 L201.5 30.95 L202.57 31.49 L203.63 31.76 L204.69 33.08" fill="none" stroke="#fbbe2b" stroke-width="0.95" stroke-linejoin="round"/>
<path d="M55.7 27.19 L56.76 27.96 L57.83 29.55 L58.89 30.73 L59.96 30.42 L61.02 30.77 L62.09 31.53 L63.15 32.11 L64.21 31.72 L65.28 32.98 L66.34 32.4 L67.41 31.74 L68.47 33.37 L69.54 32.4 L70.6 33.34 L71.66 33.06 L72.73 33.32 L73.79 32.94 L74.86 33.47 L75.92 34.41 L76.98 32.89 L78.05 33.08 L79.11 33.83 L80.18 32.95 L81.24 33.86 L82.31 32.8 L83.37 32.89 L84.43 33.15 L85.5 32.79 L86.56 32.56 L87.63 33.55 L88.69 33.66 L89.76 34.01 L90.82 32.9 L91.88 31.78 L92.95 32.91 L94.01 33.85 L95.08 31.68 L96.14 33.51 L97.21 33.07 L98.27 32.56 L99.33 32.65 L100.4 31.59 L101.46 32.48 L102.53 32.87 L103.59 33.06 L104.66 32.79 L105.72 31.83 L106.78 32.58 L107.85 31.94 L108.91 32.68 L109.98 31.94 L111.04 31.97 L112.11 32.67 L113.17 31.59 L114.23 31.43 L115.3 32.39 L116.36 33.92 L117.43 32.1 L118.49 32.11 L119.56 30.58 L120.62 30.61 L121.68 32.5 L122.75 32.82 L123.81 31.76 L124.88 32.26 L125.94 31.76 L127 32.55 L128.07 30.4 L129.13 31.75 L130.2 31.96 L131.26 32.11 L132.33 32.92 L133.39 33.95 L134.45 31.24 L135.52 32.81 L136.58 31.2 L137.65 33.35 L138.71 33.88 L139.78 32.29 L140.84 31.78 L141.9 31.52 L142.97 33.33 L144.03 30.88 L145.1 31.45 L146.16 31.59 L147.23 34.42 L148.29 31.95 L149.35 34.44 L150.42 32.28 L151.48 31.37 L152.55 31.58 L153.61 31.7 L154.68 31.66 L155.74 31.5 L156.8 32.61 L157.87 33 L158.93 31.75 L160 29.7 L161.06 31.67 L162.12 33.57 L163.19 33.39 L164.25 31.27 L165.32 31.19 L166.38 31.77 L167.45 33.44 L168.51 33.38 L169.57 31.21 L170.64 30.98 L171.7 32.8 L172.77 32.06 L173.83 32.63 L174.9 33.11 L175.96 32.81 L177.02 31.68 L178.09 30.77 L179.15 31.02 L180.22 31.08 L181.28 32.18 L182.35 31.97 L183.41 32.7 L184.47 30.73 L185.54 32.85 L186.6 31.39 L187.67 32.36 L188.73 31.98 L189.8 32.99 L190.86 31.91 L191.92 32.1 L192.99 32.7 L194.05 30.48 L195.12 31.81 L196.18 32.09 L197.25 32.23 L198.31 31.48 L199.37 30.61 L200.44 32.38 L201.5 31.39 L202.57 33.53 L203.63 33.09 L204.69 32.15" fill="none" stroke="#fbc42c" stroke-width="0.95" stroke-linejoin="round"/>
<path d="M55.7 27.17 L56.76 29.51 L57.83 28.45 L58.89 30.48 L59.96 31.18 L61.02 31.52 L62.09 32.31 L63.15 30.93 L64.21 31.99 L65.28 32.25 L66.34 32.16 L67.41 32.81 L68.47 32.8 L69.54 32.65 L70.6 32.51 L71.66 33.14 L72.73 33.6 L73.79 33.99 L74.86 32.67 L75.92 33.72 L76.98 33.65 L78.05 33.48 L79.11 33.38 L80.18 32.72 L81.24 33.26 L82.31 32.83 L83.37 32.01 L84.43 33.88 L85.5 32.77 L86.56 33.37 L87.63 32.96 L88.69 33.29 L89.76 32.57 L90.82 33.34 L91.88 32.62 L92.95 32.45 L94.01 32.73 L95.08 32.91 L96.14 33.23 L97.21 32.59 L98.27 31.69 L99.33 32.41 L100.4 31.42 L101.46 31.79 L102.53 32.48 L103.59 33.33 L104.66 31.82 L105.72 32.42 L106.78 32.42 L107.85 33.21 L108.91 32.51 L109.98 32.17 L111.04 33.08 L112.11 32.29 L113.17 31.04 L114.23 32.08 L115.3 32.58 L116.36 31.83 L117.43 32.93 L118.49 31.82 L119.56 30.9 L120.62 31.52 L121.68 33.41 L122.75 31.33 L123.81 34.18 L124.88 31.69 L125.94 34.09 L127 32.68 L128.07 31.71 L129.13 32.44 L130.2 31.33 L131.26 32.73 L132.33 31.35 L133.39 31.07 L134.45 31.48 L135.52 32.69 L136.58 32.45 L137.65 32.16 L138.71 29.54 L139.78 31.62 L140.84 33.53 L141.9 32.13 L142.97 32.36 L144.03 32.42 L145.1 30.71 L146.16 31.93 L147.23 32.56 L148.29 33.21 L149.35 32.87 L150.42 31.84 L151.48 32.41 L152.55 31.9 L153.61 33.16 L154.68 31.79 L155.74 32.12 L156.8 32.32 L157.87 34.12 L158.93 31.79 L160 32.63 L161.06 34.06 L162.12 31.12 L163.19 32.92 L164.25 32.49 L165.32 32.84 L166.38 31.44 L167.45 31.34 L168.51 31.67 L169.57 30.74 L170.64 33.15 L171.7 31.53 L172.77 30.89 L173.83 31.6 L174.9 32.39 L175.96 32.59 L177.02 31.1 L178.09 32.29 L179.15 30.8 L180.22 31.94 L181.28 32.89 L182.35 30.46 L183.41 34.27 L184.47 31.69 L185.54 30.82 L186.6 31.05 L187.67 31.18 L188.73 31.27 L189.8 31.8 L190.86 32.06 L191.92 33.31 L192.99 32.47 L194.05 31.76 L195.12 31.66 L196.18 33.1 L197.25 31.67 L198.31 30.41 L199.37 32.21 L200.44 33.33 L201.5 33.32 L202.57 31.43 L203.63 31.62 L204.69 31.6" fill="none" stroke="#fccb33" stroke-width="0.95" stroke-linejoin="round"/>
<path d="M55.7 27.4 L56.76 28.84 L57.83 29.32 L58.89 29.97 L59.96 30.36 L61.02 30.28 L62.09 30.84 L63.15 31.65 L64.21 32.56 L65.28 32.08 L66.34 33.37 L67.41 31.78 L68.47 32.25 L69.54 33.01 L70.6 32.7 L71.66 33.54 L72.73 32.4 L73.79 34.21 L74.86 33.36 L75.92 32.44 L76.98 33.27 L78.05 32.26 L79.11 33.04 L80.18 32.05 L81.24 32.76 L82.31 33.14 L83.37 33.09 L84.43 33.13 L85.5 32.75 L86.56 32.9 L87.63 33.89 L88.69 32.76 L89.76 31.87 L90.82 32.24 L91.88 33.09 L92.95 32.6 L94.01 33.2 L95.08 33.43 L96.14 33.17 L97.21 32.45 L98.27 31.85 L99.33 33.38 L100.4 31.98 L101.46 31.88 L102.53 31.33 L103.59 32.64 L104.66 31.41 L105.72 31.3 L106.78 32.85 L107.85 33.19 L108.91 33.46 L109.98 31.04 L111.04 32.13 L112.11 32.5 L113.17 32.26 L114.23 32.13 L115.3 32.22 L116.36 33.19 L117.43 32.31 L118.49 30.97 L119.56 31.54 L120.62 32.41 L121.68 32.73 L122.75 31.78 L123.81 31.77 L124.88 32.52 L125.94 30.78 L127 32.21 L128.07 31.35 L129.13 32.03 L130.2 32.43 L131.26 31.52 L132.33 32.03 L133.39 32.38 L134.45 30.63 L135.52 31.12 L136.58 31.42 L137.65 33.66 L138.71 32.47 L139.78 32.5 L140.84 32.1 L141.9 30.46 L142.97 31.8 L144.03 31.48 L145.1 31.42 L146.16 33.61 L147.23 32.01 L148.29 31.45 L149.35 31.43 L150.42 32.16 L151.48 33.06 L152.55 33.79 L153.61 31.6 L154.68 31.79 L155.74 32.6 L156.8 32.24 L157.87 31.05 L158.93 32.11 L160 30.87 L161.06 32.66 L162.12 32.14 L163.19 31.43 L164.25 32.99 L165.32 32.22 L166.38 31.44 L167.45 32.32 L168.51 32.34 L169.57 31.35 L170.64 32.01 L171.7 33.39 L172.77 32.52 L173.83 32.36 L174.9 32.84 L175.96 32.84 L177.02 31.79 L178.09 32.81 L179.15 32.68 L180.22 30.55 L181.28 30.12 L182.35 31.95 L183.41 31.86 L184.47 33.54 L185.54 32.71 L186.6 31.82 L187.67 32.49 L188.73 30.97 L189.8 30.86 L190.86 30.46 L191.92 31.46 L192.99 32.63 L194.05 31.42 L195.12 33.63 L196.18 30.5 L197.25 33.52 L198.31 30.42 L199.37 32.01 L200.44 30.88 L201.5 33.74 L202.57 32.24 L203.63 32.56 L204.69 32.84" fill="none" stroke="#fcd13b" stroke-width="0.95" stroke-linejoin="round"/>
<path d="M55.7 27.73 L56.76 28.38 L57.83 29.01 L58.89 29.75 L59.96 31.32 L61.02 30.79 L62.09 31.02 L63.15 32.6 L64.21 30.74 L65.28 32.54 L66.34 32.84 L67.41 32.81 L68.47 31.63 L69.54 33.38 L70.6 33.08 L71.66 33.18 L72.73 32.97 L73.79 32.3 L74.86 32.84 L75.92 32.74 L76.98 31.89 L78.05 33.43 L79.11 32.88 L80.18 32.27 L81.24 33.28 L82.31 32.64 L83.37 33.74 L84.43 33.2 L85.5 33.75 L86.56 33.25 L87.63 32.32 L88.69 32.99 L89.76 31.78 L90.82 33.15 L91.88 32.41 L92.95 32.73 L94.01 32.77 L95.08 31.54 L96.14 32.4 L97.21 32.17 L98.27 31.87 L99.33 32.9 L100.4 32.07 L101.46 32.32 L102.53 31.61 L103.59 31.94 L104.66 32.19 L105.72 31.96 L106.78 33 L107.85 32.58 L108.91 32.33 L109.98 31.89 L111.04 32.13 L112.11 30.83 L113.17 32.55 L114.23 32.59 L115.3 31.49 L116.36 33.55 L117.43 31.41 L118.49 33.59 L119.56 31.26 L120.62 30.56 L121.68 31.74 L122.75 33.79 L123.81 30.45 L124.88 31.9 L125.94 31.58 L127 32.81 L128.07 32.59 L129.13 31.81 L130.2 31.57 L131.26 33.21 L132.33 31.12 L133.39 33.21 L134.45 32.54 L135.52 31.58 L136.58 30.94 L137.65 31.95 L138.71 32.02 L139.78 31.62 L140.84 31.9 L141.9 30.62 L142.97 33.45 L144.03 32.75 L145.1 32.22 L146.16 33.15 L147.23 31.06 L148.29 32.78 L149.35 32.65 L150.42 32.68 L151.48 32.87 L152.55 31.53 L153.61 32.22 L154.68 32.03 L155.74 32.35 L156.8 30.66 L157.87 32.84 L158.93 31.57 L160 32.29 L161.06 32.23 L162.12 32.77 L163.19 33.31 L164.25 31.66 L165.32 33.89 L166.38 30.71 L167.45 31.35 L168.51 31.62 L169.57 30.86 L170.64 30.54 L171.7 33.03 L172.77 32.8 L173.83 32.8 L174.9 31.93 L175.96 31.18 L177.02 32 L178.09 32.69 L179.15 31.38 L180.22 32.39 L181.28 32.59 L182.35 31.93 L183.41 31.63 L184.47 31.45 L185.54 34.63 L186.6 31.77 L187.67 31.46 L188.73 31.69 L189.8 31.27 L190.86 33.87 L191.92 32.51 L192.99 31.78 L194.05 31.4 L195.12 31.68 L196.18 32.3 L197.25 30.17 L198.31 33.11 L199.37 31.89 L200.44 32.58 L201.5 33.49 L202.57 32.45 L203.63 32.7 L204.69 32.06" fill="none" stroke="#fdd843" stroke-width="0.95" stroke-linejoin="round"/>
<path d="M55.7 27.94 L56.76 29.09 L57.83 29.52 L58.89 30.32 L59.96 30.19 L61.02 30.85 L62.09 31.56 L63.15 32.31 L64.21 31.58 L65.28 32.25 L66.34 32.31 L67.41 32.66 L68.47 32.57 L69.54 32.47 L70.6 33.03 L71.66 33.95 L72.73 33.02 L73.79 32.46 L74.86 32.54 L75.92 32.59 L76.98 32.99 L78.05 32.6 L79.11 33.29 L80.18 33.07 L81.24 32.08 L82.31 32.47 L83.37 33.26 L84.43 32.55 L85.5 32.46 L86.56 33.05 L87.63 32.6 L88.69 32.94 L89.76 32.43 L90.82 32.7 L91.88 31.52 L92.95 33.72 L94.01 32.93 L95.08 31.97 L96.14 33.11 L97.21 33.23 L98.27 32.58 L99.33 31.6 L100.4 32.45 L101.46 32.28 L102.53 32.78 L103.59 33.3 L104.66 32.75 L105.72 32.06 L106.78 33.53 L107.85 32.57 L108.91 32.78 L109.98 32.85 L111.04 32.11 L112.11 32.21 L113.17 32.96 L114.23 33.24 L115.3 32.3 L116.36 32.52 L117.43 34.16 L118.49 33.04 L119.56 32.62 L120.62 31.66 L121.68 30.7 L122.75 32.44 L123.81 32.56 L124.88 31.33 L125.94 31.64 L127 31.87 L128.07 31.28 L129.13 33.3 L130.2 33.01 L131.26 34.22 L132.33 33.17 L133.39 30.23 L134.45 32.05 L135.52 32.17 L136.58 33.45 L137.65 31.86 L138.71 32.73 L139.78 32.15 L140.84 31.1 L141.9 32.23 L142.97 32.68 L144.03 31.16 L145.1 32.31 L146.16 31.29 L147.23 32.1 L148.29 32.18 L149.35 31.69 L150.42 31.61 L151.48 32.4 L152.55 31.15 L153.61 30.61 L154.68 30.92 L155.74 31.72 L156.8 31.85 L157.87 32.17 L158.93 32.84 L160 32.05 L161.06 30.92 L162.12 31.42 L163.19 32 L164.25 34.35 L165.32 31.87 L166.38 33.26 L167.45 31.33 L168.51 32.26 L169.57 32.29 L170.64 33.28 L171.7 32.99 L172.77 31.06 L173.83 32.6 L174.9 33.25 L175.96 32.26 L177.02 31.01 L178.09 33.29 L179.15 30.29 L180.22 33.62 L181.28 33.57 L182.35 30.83 L183.41 33.39 L184.47 33.53 L185.54 32.55 L186.6 33.2 L187.67 32.08 L188.73 33.02 L189.8 32.54 L190.86 34.01 L191.92 31.51 L192.99 30.99 L194.05 33.01 L195.12 32.84 L196.18 31.77 L197.25 32.82 L198.31 31.36 L199.37 31.76 L200.44 30.72 L201.5 32.65 L202.57 30.94 L203.63 32.35 L204.69 31.28" fill="none" stroke="#fdde4b" stroke-width="0.95" stroke-linejoin="round"/>
<path d="M55.7 27.68 L56.76 29.33 L57.83 29.72 L58.89 30.24 L59.96 30.33 L61.02 30.61 L62.09 30.83 L63.15 31.76 L64.21 31.4 L65.28 31.43 L66.34 32.9 L67.41 31.78 L68.47 32.22 L69.54 32.92 L70.6 32.58 L71.66 32.53 L72.73 32.36 L73.79 32.5 L74.86 33.81 L75.92 33.62 L76.98 32.25 L78.05 32.79 L79.11 32.53 L80.18 32.41 L81.24 33.12 L82.31 33.01 L83.37 32.26 L84.43 32.35 L85.5 32.69 L86.56 32.09 L87.63 32.24 L88.69 32.56 L89.76 32.65 L90.82 33.83 L91.88 32.52 L92.95 32.81 L94.01 32.44 L95.08 32.86 L96.14 31.61 L97.21 32.91 L98.27 32.01 L99.33 32.41 L100.4 31.21 L101.46 33.08 L102.53 32.53 L103.59 32.34 L104.66 31.55 L105.72 31.52 L106.78 32.11 L107.85 32.56 L108.91 32.11 L109.98 31.76 L111.04 31.44 L112.11 32.5 L113.17 33.05 L114.23 32.36 L115.3 33.35 L116.36 32.12 L117.43 31.98 L118.49 32.81 L119.56 32.13 L120.62 32.87 L121.68 32.64 L122.75 29.25 L123.81 32.51 L124.88 32.08 L125.94 32.8 L127 32.31 L128.07 31.46 L129.13 31.52 L130.2 31.14 L131.26 32.4 L132.33 32.88 L133.39 32.8 L134.45 31.98 L135.52 33.2 L136.58 30.5 L137.65 32.14 L138.71 31.9 L139.78 32.89 L140.84 32.71 L141.9 31.08 L142.97 31.58 L144.03 31.83 L145.1 32.67 L146.16 32.68 L147.23 30.97 L148.29 33.48 L149.35 33.16 L150.42 32.14 L151.48 31.13 L152.55 30.7 L153.61 29.49 L154.68 33.11 L155.74 30.93 L156.8 32.4 L157.87 32.15 L158.93 31.53 L160 32.4 L161.06 30.03 L162.12 31.74 L163.19 32.08 L164.25 31.77 L165.32 31.15 L166.38 31.11 L167.45 32.3 L168.51 32.98 L169.57 32.71 L170.64 31.89 L171.7 31.74 L172.77 32.25 L173.83 30.65 L174.9 31.15 L175.96 31.07 L177.02 33.05 L178.09 30.16 L179.15 32.09 L180.22 32.29 L181.28 31.65 L182.35 32.27 L183.41 32.21 L184.47 32.36 L185.54 31.95 L186.6 31.97 L187.67 32.25 L188.73 31.32 L189.8 33.84 L190.86 31.33 L191.92 31.34 L192.99 31.46 L194.05 31.74 L195.12 31.25 L196.18 31.58 L197.25 31.45 L198.31 31.21 L199.37 31.76 L200.44 33.09 L201.5 30.47 L202.57 32.2 L203.63 31.4 L204.69 32.42" fill="none" stroke="#fee453" stroke-width="0.95" stroke-linejoin="round"/>
<path d="M55.7 27.69 L56.76 29.59 L57.83 28.35 L58.89 30.05 L59.96 31.55 L61.02 30 L62.09 32.3 L63.15 31.64 L64.21 31.16 L65.28 31.75 L66.34 32.5 L67.41 33.43 L68.47 32.43 L69.54 32.86 L70.6 33.14 L71.66 32.3 L72.73 32.19 L73.79 32.19 L74.86 32.17 L75.92 32.56 L76.98 32.59 L78.05 32.74 L79.11 32.55 L80.18 32.35 L81.24 32.84 L82.31 32.38 L83.37 31.32 L84.43 32.51 L85.5 32.76 L86.56 32.24 L87.63 32.31 L88.69 32.25 L89.76 32.73 L90.82 31.93 L91.88 31.81 L92.95 32.02 L94.01 31.85 L95.08 31.77 L96.14 32.24 L97.21 31.63 L98.27 32.41 L99.33 32.59 L100.4 31.72 L101.46 32.74 L102.53 32.43 L103.59 31.72 L104.66 33.65 L105.72 31.52 L106.78 32.11 L107.85 32.27 L108.91 31.77 L109.98 32.64 L111.04 31.97 L112.11 32.35 L113.17 32.64 L114.23 30.88 L115.3 31.57 L116.36 32.92 L117.43 32.68 L118.49 32.06 L119.56 32.73 L120.62 31.28 L121.68 32.95 L122.75 31.65 L123.81 32.87 L124.88 33.74 L125.94 32.56 L127 33.46 L128.07 31.28 L129.13 31.22 L130.2 32.3 L131.26 31.67 L132.33 32.44 L133.39 30.33 L134.45 31.08 L135.52 32.02 L136.58 31.1 L137.65 31.44 L138.71 31.5 L139.78 31.27 L140.84 31.11 L141.9 31.29 L142.97 32.19 L144.03 31.31 L145.1 31.87 L146.16 31.38 L147.23 31.94 L148.29 33.72 L149.35 31.94 L150.42 31.61 L151.48 32.7 L152.55 32.31 L153.61 31.03 L154.68 31.01 L155.74 32.63 L156.8 32.6 L157.87 31.13 L158.93 32.56 L160 32.86 L161.06 32.72 L162.12 31.52 L163.19 34.1 L164.25 31.54 L165.32 31.09 L166.38 32.6 L167.45 33.56 L168.51 31.93 L169.57 32.29 L170.64 31.09 L171.7 30.79 L172.77 32.73 L173.83 30.3 L174.9 33.08 L175.96 32.17 L177.02 32.17 L178.09 31.85 L179.15 33.1 L180.22 31.47 L181.28 31.76 L182.35 31.44 L183.41 33.08 L184.47 32.48 L185.54 32.38 L186.6 32.35 L187.67 31.79 L188.73 32.93 L189.8 31.54 L190.86 32.09 L191.92 30.5 L192.99 31.53 L194.05 31.43 L195.12 32.32 L196.18 33.12 L197.25 31.51 L198.31 32.98 L199.37 32.85 L200.44 29.45 L201.5 32.21 L202.57 31.65 L203.63 32 L204.69 32.79" fill="none" stroke="#feeb5b" stroke-width="0.95" stroke-linejoin="round"/>
<path d="M55.7 27.8 L56.76 28.39 L57.83 28.87 L58.89 30.92 L59.96 29.39 L61.02 29.76 L62.09 31.32 L63.15 32.28 L64.21 31.08 L65.28 32.01 L66.34 32.02 L67.41 32.33 L68.47 33.09 L69.54 31.98 L70.6 31.6 L71.66 32.28 L72.73 32.73 L73.79 33.02 L74.86 31.65 L75.92 32.12 L76.98 32.55 L78.05 32.89 L79.11 32.42 L80.18 31.86 L81.24 33.26 L82.31 32.51 L83.37 31.8 L84.43 32.78 L85.5 32.1 L86.56 32.34 L87.63 32.62 L88.69 32.2 L89.76 31.56 L90.82 32.91 L91.88 32.34 L92.95 32.26 L94.01 31.82 L95.08 33.37 L96.14 32.3 L97.21 31.64 L98.27 32.83 L99.33 32.95 L100.4 32.4 L101.46 33.19 L102.53 32.84 L103.59 31.91 L104.66 33.08 L105.72 32.05 L106.78 32.77 L107.85 32.61 L108.91 31.86 L109.98 31.22 L111.04 32.61 L112.11 31.48 L113.17 31.03 L114.23 31.66 L115.3 31.67 L116.36 31.85 L117.43 31.97 L118.49 33.54 L119.56 31.53 L120.62 31.88 L121.68 31.53 L122.75 31.6 L123.81 33.47 L124.88 30.48 L125.94 32.53 L127 32.08 L128.07 31.37 L129.13 32.52 L130.2 30.66 L131.26 31.33 L132.33 32.53 L133.39 30.46 L134.45 32.09 L135.52 32.66 L136.58 30.75 L137.65 33.25 L138.71 30.71 L139.78 32.72 L140.84 33.05 L141.9 32.76 L142.97 32.4 L144.03 33.32 L145.1 33.27 L146.16 31.6 L147.23 30.71 L148.29 32.42 L149.35 33 L150.42 32.62 L151.48 31.42 L152.55 32.52 L153.61 30.11 L154.68 31.7 L155.74 31.67 L156.8 32.66 L157.87 33.47 L158.93 31.33 L160 31.76 L161.06 30.48 L162.12 33.41 L163.19 32.49 L164.25 32.89 L165.32 33.61 L166.38 31.75 L167.45 30.98 L168.51 32.2 L169.57 32.66 L170.64 33.47 L171.7 31.6 L172.77 32.86 L173.83 29.9 L174.9 31.36 L175.96 33.21 L177.02 31.47 L178.09 32.31 L179.15 32.32 L180.22 31.07 L181.28 31.78 L182.35 31.03 L183.41 32.53 L184.47 31.65 L185.54 32.7 L186.6 33.47 L187.67 32.56 L188.73 32.27 L189.8 31.2 L190.86 31.47 L191.92 32.32 L192.99 31.5 L194.05 31.27 L195.12 32.58 L196.18 30.83 L197.25 33.05 L198.31 31.31 L199.37 31.58 L200.44 30.63 L201.5 31.42 L202.57 32.38 L203.63 34.09 L204.69 32.05" fill="none" stroke="#ffef72" stroke-width="0.95" stroke-linejoin="round"/>
<path d="M55.7 27.57 L56.76 28.64 L57.83 29.62 L58.89 29.52 L59.96 30.57 L61.02 30.83 L62.09 31.2 L63.15 31.3 L64.21 31.95 L65.28 31.48 L66.34 32.51 L67.41 31.65 L68.47 31.24 L69.54 32.1 L70.6 32.32 L71.66 32.33 L72.73 33.51 L73.79 32.16 L74.86 31.21 L75.92 32.63 L76.98 31.95 L78.05 31.41 L79.11 33.1 L80.18 32.53 L81.24 32.78 L82.31 33.07 L83.37 32.61 L84.43 32.23 L85.5 32.21 L86.56 32.46 L87.63 32.56 L88.69 31.33 L89.76 32.5 L90.82 31.72 L91.88 31.3 L92.95 32.53 L94.01 32.82 L95.08 32.77 L96.14 32.48 L97.21 31.51 L98.27 31.98 L99.33 32.4 L100.4 32.6 L101.46 31.71 L102.53 31.72 L103.59 30.99 L104.66 32.01 L105.72 32.21 L106.78 32.66 L107.85 31.88 L108.91 31.11 L109.98 31.95 L111.04 32.36 L112.11 31.84 L113.17 32.14 L114.23 31.76 L115.3 33.2 L116.36 33.52 L117.43 32.3 L118.49 31.93 L119.56 31.11 L120.62 33.27 L121.68 33.24 L122.75 31.56 L123.81 31.64 L124.88 30.5 L125.94 31.47 L127 32.04 L128.07 32.64 L129.13 31.57 L130.2 31.72 L131.26 31.73 L132.33 32.08 L133.39 31.91 L134.45 32.52 L135.52 32.26 L136.58 33.98 L137.65 32.21 L138.71 31.87 L139.78 32.57 L140.84 30.88 L141.9 31.54 L142.97 31.05 L144.03 31.95 L145.1 31.11 L146.16 31.29 L147.23 33.02 L148.29 31.8 L149.35 32.17 L150.42 32.8 L151.48 32.49 L152.55 31.4 L153.61 31.57 L154.68 31.68 L155.74 31.97 L156.8 31.12 L157.87 30.32 L158.93 31.77 L160 31.2 L161.06 34.18 L162.12 31.91 L163.19 32.15 L164.25 32.46 L165.32 33.65 L166.38 30.85 L167.45 32.94 L168.51 31 L169.57 32.6 L170.64 32.5 L171.7 31.27 L172.77 32.65 L173.83 33.01 L174.9 32.1 L175.96 32.33 L177.02 32.88 L178.09 30.78 L179.15 32.47 L180.22 32.79 L181.28 32.58 L182.35 32.03 L183.41 32.48 L184.47 33.43 L185.54 32.05 L186.6 31.28 L187.67 33.26 L188.73 31.25 L189.8 30.01 L190.86 31.71 L191.92 30.46 L192.99 32.19 L194.05 32.6 L195.12 32.65 L196.18 31.93 L197.25 32.14 L198.31 31.08 L199.37 31.23 L200.44 32.02 L201.5 31.38 L202.57 30.74 L203.63 31.26 L204.69 31.35" fill="none" stroke="#fff48c" stroke-width="0.95" stroke-linejoin="round"/>
<line x1="55.7" y1="6.2" x2="55.7" y2="126.4" stroke="#6a6a6a" stroke-width="0.9"/>
<line x1="53.4" y1="6.2" x2="55.7" y2="6.2" stroke="#6a6a6a" stroke-width="0.9"/>
<text x="48.1" y="9.2" font-size="9" text-anchor="end" textLength="23.67" lengthAdjust="spacingAndGlyphs" stroke="#222" stroke-width="0.14">0.003</text>
<line x1="53.4" y1="32" x2="55.7" y2="32" stroke="#6a6a6a" stroke-width="0.9"/>
<text x="48.1" y="35" font-size="9" text-anchor="end" textLength="5.4" lengthAdjust="spacingAndGlyphs" stroke="#222" stroke-width="0.14">0</text>
<line x1="53.4" y1="57.8" x2="55.7" y2="57.8" stroke="#6a6a6a" stroke-width="0.9"/>
<text x="48.1" y="60.8" font-size="9" text-anchor="end" textLength="28.89" lengthAdjust="spacingAndGlyphs" stroke="#222" stroke-width="0.14">−0.003</text>
<line x1="53.4" y1="83.6" x2="55.7" y2="83.6" stroke="#6a6a6a" stroke-width="0.9"/>
<text x="48.1" y="86.6" font-size="9" text-anchor="end" textLength="28.89" lengthAdjust="spacingAndGlyphs" stroke="#222" stroke-width="0.14">−0.006</text>
<line x1="53.4" y1="109.4" x2="55.7" y2="109.4" stroke="#6a6a6a" stroke-width="0.9"/>
<text x="48.1" y="112.4" font-size="9" text-anchor="end" textLength="28.89" lengthAdjust="spacingAndGlyphs" stroke="#222" stroke-width="0.14">−0.009</text>
<line x1="55.7" y1="126.4" x2="205.1" y2="126.4" stroke="#6a6a6a" stroke-width="0.9"/>
<line x1="55.7" y1="126.4" x2="55.7" y2="128.7" stroke="#6a6a6a" stroke-width="0.9"/>
<text x="55.7" y="140.8" font-size="9" text-anchor="middle" textLength="16.2" lengthAdjust="spacingAndGlyphs" stroke="#222" stroke-width="0.14">400</text>
<line x1="77" y1="126.4" x2="77" y2="128.7" stroke="#6a6a6a" stroke-width="0.9"/>
<text x="77" y="140.8" font-size="9" text-anchor="middle" textLength="16.02" lengthAdjust="spacingAndGlyphs" stroke="#222" stroke-width="0.14">450</text>
<line x1="98.3" y1="126.4" x2="98.3" y2="128.7" stroke="#6a6a6a" stroke-width="0.9"/>
<text x="98.3" y="140.8" font-size="9" text-anchor="middle" textLength="16.02" lengthAdjust="spacingAndGlyphs" stroke="#222" stroke-width="0.14">500</text>
<line x1="119.6" y1="126.4" x2="119.6" y2="128.7" stroke="#6a6a6a" stroke-width="0.9"/>
<text x="119.6" y="140.8" font-size="9" text-anchor="middle" textLength="15.84" lengthAdjust="spacingAndGlyphs" stroke="#222" stroke-width="0.14">550</text>
<line x1="140.9" y1="126.4" x2="140.9" y2="128.7" stroke="#6a6a6a" stroke-width="0.9"/>
<text x="140.9" y="140.8" font-size="9" text-anchor="middle" textLength="16.02" lengthAdjust="spacingAndGlyphs" stroke="#222" stroke-width="0.14">600</text>
<line x1="162.2" y1="126.4" x2="162.2" y2="128.7" stroke="#6a6a6a" stroke-width="0.9"/>
<text x="162.2" y="140.8" font-size="9" text-anchor="middle" textLength="15.84" lengthAdjust="spacingAndGlyphs" stroke="#222" stroke-width="0.14">650</text>
<line x1="183.5" y1="126.4" x2="183.5" y2="128.7" stroke="#6a6a6a" stroke-width="0.9"/>
<text x="183.5" y="140.8" font-size="9" text-anchor="middle" textLength="15.75" lengthAdjust="spacingAndGlyphs" stroke="#222" stroke-width="0.14">700</text>
<line x1="204.8" y1="126.4" x2="204.8" y2="128.7" stroke="#6a6a6a" stroke-width="0.9"/>
<text x="204.8" y="140.8" font-size="9" text-anchor="middle" textLength="15.57" lengthAdjust="spacingAndGlyphs" stroke="#222" stroke-width="0.14">750</text>
<text x="130.2" y="157.7" font-size="9.9" text-anchor="middle" textLength="81" lengthAdjust="spacingAndGlyphs" stroke="#222" stroke-width="0.14">Wavelength (nm)</text>
<text x="0" y="0" font-size="10.69" transform="translate(9.6 66.3) rotate(-90)" text-anchor="middle" textLength="53" lengthAdjust="spacingAndGlyphs" stroke="#222" stroke-width="0.14">ΔO.D. (a.u.)</text>
<line x1="162" y1="41.4" x2="171.2" y2="41.4" stroke="#8c6c6c" stroke-width="1.1"/>
<text x="176" y="44.5" font-size="8.8" textLength="24.6" lengthAdjust="spacingAndGlyphs" stroke="#222" stroke-width="0.14">1.21 ns</text>
<line x1="162" y1="51.4" x2="171.2" y2="51.4" stroke="#b46262" stroke-width="1.1"/>
<text x="176" y="54.5" font-size="8.8" textLength="28.6" lengthAdjust="spacingAndGlyphs" stroke="#222" stroke-width="0.14">6.55 ns</text>
<line x1="162" y1="61.4" x2="171.2" y2="61.4" stroke="#ea7272" stroke-width="1.1"/>
<text x="176" y="64.5" font-size="8.8" textLength="25" lengthAdjust="spacingAndGlyphs" stroke="#222" stroke-width="0.14">41.1 ns</text>
<line x1="162" y1="71.4" x2="171.2" y2="71.4" stroke="#f27562" stroke-width="1.1"/>
<text x="176" y="74.5" font-size="8.8" textLength="25.4" lengthAdjust="spacingAndGlyphs" stroke="#222" stroke-width="0.14">226 ns</text>
<line x1="162" y1="81.4" x2="171.2" y2="81.4" stroke="#f8a282" stroke-width="1.1"/>
<text x="176" y="84.5" font-size="8.8" textLength="26.4" lengthAdjust="spacingAndGlyphs" stroke="#222" stroke-width="0.14">1.22 µs</text>
<line x1="162" y1="91.4" x2="171.2" y2="91.4" stroke="#f8b464" stroke-width="1.1"/>
<text x="176" y="94.5" font-size="8.8" textLength="28.4" lengthAdjust="spacingAndGlyphs" stroke="#222" stroke-width="0.14">6.52 µs</text>
<line x1="162" y1="101.4" x2="171.2" y2="101.4" stroke="#f8d474" stroke-width="1.1"/>
<text x="176" y="104.5" font-size="8.8" textLength="29" lengthAdjust="spacingAndGlyphs" stroke="#222" stroke-width="0.14">34.9 µs</text>
<line x1="162" y1="111.4" x2="171.2" y2="111.4" stroke="#fff2a4" stroke-width="1.1"/>
<text x="176" y="114.5" font-size="8.8" textLength="27" lengthAdjust="spacingAndGlyphs" stroke="#222" stroke-width="0.14">200 µs</text>
<line x1="162" y1="121.4" x2="171.2" y2="121.4" stroke="#fff6b6" stroke-width="1.1"/>
<text x="176" y="124.5" font-size="8.8" textLength="27" lengthAdjust="spacingAndGlyphs" stroke="#222" stroke-width="0.14">350 µs</text>
<text x="0.8" y="189" font-size="14.3" font-weight="bold" fill="#000" stroke="#000" stroke-width="0.6">d</text>
<path d="M55.7 209.56 L56.76 215.97 L57.83 221.62 L58.89 229.01 L59.96 234.54 L61.02 241.84 L62.09 246.85 L63.15 252.83 L64.21 257.69 L65.28 262.97 L66.34 266.31 L67.41 269.43 L68.47 272.01 L69.54 273.92 L70.6 276.63 L71.66 278.6 L72.73 280.98 L73.79 283.86 L74.86 285.93 L75.92 286.61 L76.98 288.97 L78.05 290.79 L79.11 292.22 L80.18 294.45 L81.24 296.29 L82.31 297.51 L83.37 296.6 L84.43 295.86 L85.5 292.8 L86.56 287.26 L87.63 280.05 L88.69 273.43 L89.76 265.75 L90.82 256.65 L91.88 250.23 L92.95 241.94 L94.01 234.93 L95.08 229.33 L96.14 226.41 L97.21 223.53 L98.27 219.69 L99.33 218.03 L100.4 216.2 L101.46 214.27 L102.53 212.86 L103.59 211.58 L104.66 210.77 L105.72 209.09 L106.78 207.94 L107.85 207.39 L108.91 206.53 L109.98 205.15 L111.04 204.44 L112.11 204.31 L113.17 203.46 L114.23 202.31 L115.3 202.21 L116.36 201.91 L117.43 201.14 L118.49 200.91 L119.56 200.55 L120.62 201.46 L121.68 198.9 L122.75 199.65 L123.81 200.12 L124.88 198.66 L125.94 198.78 L127 198.68 L128.07 197.77 L129.13 196.78 L130.2 197.63 L131.26 196.81 L132.33 196.29 L133.39 198.14 L134.45 197.71 L135.52 196.8 L136.58 198.26 L137.65 197.27 L138.71 196.22 L139.78 196.3 L140.84 196.52 L141.9 198 L142.97 195.29 L144.03 196.35 L145.1 196.17 L146.16 196.29 L147.23 197.62 L148.29 197.41 L149.35 197.23 L150.42 195.24 L151.48 196.92 L152.55 196.53 L153.61 196.51 L154.68 195.97 L155.74 196 L156.8 196.13 L157.87 197.07 L158.93 198.24 L160 196.17 L161.06 196.1 L162.12 195.5 L163.19 196.34 L164.25 196.66 L165.32 196.04 L166.38 197.28 L167.45 196.98 L168.51 196.98 L169.57 196.2 L170.64 195.11 L171.7 195.98 L172.77 195.79 L173.83 196.4 L174.9 196.43 L175.96 196.94 L177.02 196.9 L178.09 198.32 L179.15 197.63 L180.22 197.76 L181.28 196.52 L182.35 196.72 L183.41 196.51 L184.47 196.35 L185.54 197.61 L186.6 196.86 L187.67 196.4 L188.73 197.73 L189.8 197.15 L190.86 198.05 L191.92 199.06 L192.99 198.09 L194.05 198.8 L195.12 198.34 L196.18 198.84 L197.25 198.49 L198.31 200.19 L199.37 197.72 L200.44 198.35 L201.5 199.61 L202.57 200.16 L203.63 199.78 L204.69 199.48" fill="none" stroke="#260808" stroke-width="0.95" stroke-linejoin="round"/>
<path d="M55.7 208.94 L56.76 215.32 L57.83 222.48 L58.89 228.38 L59.96 233.73 L61.02 240.59 L62.09 247.45 L63.15 252.78 L64.21 258.24 L65.28 262.62 L66.34 265.43 L67.41 268.77 L68.47 270.64 L69.54 273.18 L70.6 275.97 L71.66 277.9 L72.73 279.52 L73.79 283.27 L74.86 285.25 L75.92 286 L76.98 287.98 L78.05 289.56 L79.11 290.69 L80.18 293.86 L81.24 294.88 L82.31 296.66 L83.37 296.75 L84.43 295.01 L85.5 291.25 L86.56 286.41 L87.63 280.4 L88.69 272.71 L89.76 263.94 L90.82 256.25 L91.88 249.21 L92.95 240.03 L94.01 234.5 L95.08 229.86 L96.14 225.37 L97.21 221.56 L98.27 218.66 L99.33 216.83 L100.4 215.64 L101.46 214.12 L102.53 213.01 L103.59 211.27 L104.66 210.43 L105.72 209.12 L106.78 208.67 L107.85 207.31 L108.91 206.44 L109.98 205.66 L111.04 204.87 L112.11 204.13 L113.17 203.59 L114.23 202.34 L115.3 202.01 L116.36 202.43 L117.43 200.85 L118.49 200.61 L119.56 199.54 L120.62 200.31 L121.68 200.08 L122.75 200.17 L123.81 199.46 L124.88 198.94 L125.94 198.85 L127 198.85 L128.07 198.08 L129.13 198.15 L130.2 197.85 L131.26 198.43 L132.33 197.55 L133.39 198.19 L134.45 197.99 L135.52 197.25 L136.58 195.92 L137.65 196.55 L138.71 197.11 L139.78 197.16 L140.84 196.35 L141.9 196.04 L142.97 196.09 L144.03 196.94 L145.1 196.65 L146.16 196.94 L147.23 196.87 L148.29 197.2 L149.35 196.78 L150.42 197.96 L151.48 197.33 L152.55 196.26 L153.61 197.11 L154.68 196.15 L155.74 197.31 L156.8 196.71 L157.87 196.21 L158.93 197.12 L160 196.91 L161.06 194.87 L162.12 196.89 L163.19 196.91 L164.25 196.83 L165.32 196.46 L166.38 196.51 L167.45 195.89 L168.51 196.04 L169.57 196.83 L170.64 196.84 L171.7 197.55 L172.77 197.65 L173.83 197.21 L174.9 196.33 L175.96 196.78 L177.02 196.41 L178.09 196.39 L179.15 197.17 L180.22 195.81 L181.28 197.57 L182.35 197.72 L183.41 197.69 L184.47 196.78 L185.54 197.69 L186.6 198.18 L187.67 197.53 L188.73 197.18 L189.8 198.09 L190.86 198.28 L191.92 197.54 L192.99 197.72 L194.05 197.85 L195.12 199.07 L196.18 198.53 L197.25 198.63 L198.31 200.17 L199.37 198.42 L200.44 199.3 L201.5 199.77 L202.57 198.3 L203.63 199.84 L204.69 200.51" fill="none" stroke="#260808" stroke-width="0.95" stroke-linejoin="round"/>
<path d="M55.7 209.1 L56.76 215.14 L57.83 221.23 L58.89 227.69 L59.96 234.19 L61.02 240.47 L62.09 246.62 L63.15 252.2 L64.21 256.97 L65.28 261.62 L66.34 264.99 L67.41 268.09 L68.47 270.42 L69.54 272.29 L70.6 274.45 L71.66 276.08 L72.73 279.53 L73.79 281.64 L74.86 283.56 L75.92 285.64 L76.98 286.37 L78.05 288.1 L79.11 290.62 L80.18 291.49 L81.24 293.17 L82.31 295.01 L83.37 294 L84.43 293.05 L85.5 290.55 L86.56 284.61 L87.63 278.37 L88.69 271.42 L89.76 264.06 L90.82 255.36 L91.88 247.98 L92.95 239.7 L94.01 233.25 L95.08 228.7 L96.14 224.68 L97.21 220.46 L98.27 217.9 L99.33 216.25 L100.4 214.98 L101.46 213.7 L102.53 212.08 L103.59 210.13 L104.66 209.6 L105.72 208.95 L106.78 208.31 L107.85 206.75 L108.91 206.18 L109.98 204.96 L111.04 203.94 L112.11 203.16 L113.17 202.94 L114.23 202.57 L115.3 201.86 L116.36 200.36 L117.43 200.87 L118.49 201.64 L119.56 199.44 L120.62 200 L121.68 197.71 L122.75 200.03 L123.81 199.61 L124.88 199.46 L125.94 198.76 L127 199.1 L128.07 199.43 L129.13 199.5 L130.2 198.17 L131.26 198.25 L132.33 198.15 L133.39 196.32 L134.45 197.06 L135.52 196.78 L136.58 197.71 L137.65 197.13 L138.71 197.39 L139.78 197.33 L140.84 196.67 L141.9 196.71 L142.97 196.85 L144.03 196.9 L145.1 197.87 L146.16 197.39 L147.23 196.64 L148.29 197.09 L149.35 197.32 L150.42 196.57 L151.48 197.36 L152.55 197.18 L153.61 196.18 L154.68 196.95 L155.74 195.81 L156.8 196.37 L157.87 196.19 L158.93 195.98 L160 198.07 L161.06 196.75 L162.12 197.52 L163.19 197 L164.25 196.78 L165.32 195.94 L166.38 196.78 L167.45 195.73 L168.51 197.13 L169.57 196.87 L170.64 196.81 L171.7 196.31 L172.77 196.98 L173.83 197.39 L174.9 197.26 L175.96 198 L177.02 196.38 L178.09 196.77 L179.15 197.05 L180.22 197.23 L181.28 197.87 L182.35 197.83 L183.41 197.15 L184.47 198.25 L185.54 198.35 L186.6 196.95 L187.67 197.06 L188.73 197.96 L189.8 197.92 L190.86 198.24 L191.92 197.56 L192.99 198.86 L194.05 198.64 L195.12 198.5 L196.18 198.03 L197.25 199.24 L198.31 199.09 L199.37 199.71 L200.44 199.99 L201.5 200.17 L202.57 199.89 L203.63 199.57 L204.69 200.69" fill="none" stroke="#260808" stroke-width="0.95" stroke-linejoin="round"/>
<path d="M55.7 209.26 L56.76 215.33 L57.83 221.1 L58.89 226.96 L59.96 233.74 L61.02 239.33 L62.09 245.8 L63.15 250.52 L64.21 256.19 L65.28 260.6 L66.34 263.95 L67.41 266.38 L68.47 268.97 L69.54 270.57 L70.6 272.61 L71.66 274.76 L72.73 277.26 L73.79 279.48 L74.86 281.86 L75.92 283.12 L76.98 284.6 L78.05 286.83 L79.11 287.51 L80.18 289.79 L81.24 291.52 L82.31 292.54 L83.37 292.26 L84.43 290.62 L85.5 287.59 L86.56 282.83 L87.63 275.83 L88.69 268.75 L89.76 261.54 L90.82 253.78 L91.88 245.86 L92.95 238.37 L94.01 231.84 L95.08 227.25 L96.14 222.93 L97.21 219.28 L98.27 217.43 L99.33 216.27 L100.4 213.39 L101.46 212.81 L102.53 211.78 L103.59 211.06 L104.66 209.09 L105.72 207.96 L106.78 207.06 L107.85 206.61 L108.91 205 L109.98 204.74 L111.04 204.23 L112.11 203.37 L113.17 202.77 L114.23 202.31 L115.3 201.71 L116.36 202.81 L117.43 200.08 L118.49 201.08 L119.56 200.02 L120.62 200.67 L121.68 199.85 L122.75 199.88 L123.81 200.59 L124.88 199.1 L125.94 198.69 L127 199.54 L128.07 199.93 L129.13 198.82 L130.2 198.77 L131.26 198.02 L132.33 197.97 L133.39 196.85 L134.45 197.36 L135.52 197.85 L136.58 197.52 L137.65 199.36 L138.71 198.07 L139.78 198.02 L140.84 197.47 L141.9 197.16 L142.97 197.18 L144.03 196.7 L145.1 197.68 L146.16 197.03 L147.23 197.27 L148.29 197.16 L149.35 196.94 L150.42 197.3 L151.48 196.98 L152.55 197.12 L153.61 196.44 L154.68 197.14 L155.74 196.88 L156.8 195.44 L157.87 196.67 L158.93 196.74 L160 196.39 L161.06 197.69 L162.12 196.63 L163.19 196.61 L164.25 196.82 L165.32 196.5 L166.38 196.64 L167.45 196.41 L168.51 197.58 L169.57 196.94 L170.64 197.59 L171.7 196.51 L172.77 197.24 L173.83 198.18 L174.9 197.36 L175.96 198.11 L177.02 196.94 L178.09 197.83 L179.15 199.06 L180.22 198.01 L181.28 197.22 L182.35 197.73 L183.41 198.42 L184.47 197.71 L185.54 197.85 L186.6 197.39 L187.67 197.84 L188.73 198.27 L189.8 199.09 L190.86 198.53 L191.92 198.62 L192.99 198.91 L194.05 198.76 L195.12 199.88 L196.18 198.91 L197.25 199.4 L198.31 199.34 L199.37 199.78 L200.44 200.07 L201.5 199.9 L202.57 199.76 L203.63 200.62 L204.69 200.34" fill="none" stroke="#260808" stroke-width="0.95" stroke-linejoin="round"/>
<path d="M55.7 209.28 L56.76 214.87 L57.83 220.96 L58.89 227.33 L59.96 232.34 L61.02 239.17 L62.09 244.64 L63.15 250.41 L64.21 255.51 L65.28 258.89 L66.34 263.07 L67.41 265.92 L68.47 267.39 L69.54 269.88 L70.6 271.33 L71.66 272.62 L72.73 275.94 L73.79 278.03 L74.86 279.68 L75.92 281.29 L76.98 282.85 L78.05 283.67 L79.11 285.82 L80.18 287.44 L81.24 289.23 L82.31 290.83 L83.37 290.13 L84.43 288.66 L85.5 285.49 L86.56 280.33 L87.63 273.63 L88.69 267.85 L89.76 259.96 L90.82 252.44 L91.88 245.09 L92.95 237.09 L94.01 230.93 L95.08 226.11 L96.14 222.93 L97.21 219.5 L98.27 216.73 L99.33 215 L100.4 213.5 L101.46 211.93 L102.53 210.73 L103.59 209.99 L104.66 208.11 L105.72 208.16 L106.78 206.79 L107.85 205.89 L108.91 204.88 L109.98 204.66 L111.04 204.15 L112.11 203.04 L113.17 202.6 L114.23 203.07 L115.3 202.72 L116.36 201.69 L117.43 201.23 L118.49 200.84 L119.56 200.13 L120.62 200.75 L121.68 198.32 L122.75 199.22 L123.81 198.83 L124.88 199.22 L125.94 200.43 L127 198.77 L128.07 199.05 L129.13 198.25 L130.2 198.43 L131.26 197.81 L132.33 198.65 L133.39 198.23 L134.45 197.93 L135.52 198.32 L136.58 198.08 L137.65 197.37 L138.71 196.51 L139.78 197.79 L140.84 197.11 L141.9 198.28 L142.97 197.83 L144.03 197.32 L145.1 197.14 L146.16 198.1 L147.23 197.08 L148.29 197.34 L149.35 196.61 L150.42 196.83 L151.48 197.06 L152.55 197.63 L153.61 197.22 L154.68 197.9 L155.74 197.88 L156.8 198.51 L157.87 198.18 L158.93 198.16 L160 197.44 L161.06 197.32 L162.12 198.22 L163.19 197.47 L164.25 197.17 L165.32 196.87 L166.38 197.52 L167.45 197.35 L168.51 197.74 L169.57 196.97 L170.64 198.54 L171.7 197.47 L172.77 199.09 L173.83 196.65 L174.9 197.19 L175.96 199.12 L177.02 198.21 L178.09 198.82 L179.15 199.11 L180.22 198.36 L181.28 198.73 L182.35 197.63 L183.41 198.68 L184.47 199.12 L185.54 198.58 L186.6 198.38 L187.67 198.22 L188.73 198.51 L189.8 199.83 L190.86 199.52 L191.92 199.23 L192.99 199.74 L194.05 198.87 L195.12 199.65 L196.18 199.61 L197.25 199.93 L198.31 199.82 L199.37 200.92 L200.44 198.87 L201.5 200.69 L202.57 200.96 L203.63 201.78 L204.69 200.85" fill="none" stroke="#260808" stroke-width="0.95" stroke-linejoin="round"/>
<path d="M55.7 209.47 L56.76 214.78 L57.83 220.29 L58.89 226.28 L59.96 232.48 L61.02 237.8 L62.09 244.05 L63.15 249.15 L64.21 253.95 L65.28 258.34 L66.34 261.34 L67.41 264.48 L68.47 266.77 L69.54 267.59 L70.6 270.19 L71.66 272.02 L72.73 274.18 L73.79 276.78 L74.86 278.71 L75.92 279.8 L76.98 281.46 L78.05 282.29 L79.11 284.17 L80.18 285.83 L81.24 287.1 L82.31 288.99 L83.37 288.84 L84.43 286.42 L85.5 283.27 L86.56 278.61 L87.63 272.62 L88.69 264.93 L89.76 257.92 L90.82 250.36 L91.88 244.01 L92.95 235.96 L94.01 230 L95.08 225.36 L96.14 220.98 L97.21 217.82 L98.27 215.88 L99.33 214 L100.4 211.9 L101.46 210.85 L102.53 209.94 L103.59 208.75 L104.66 208.1 L105.72 207.85 L106.78 206.76 L107.85 205.59 L108.91 204.64 L109.98 204.57 L111.04 203.79 L112.11 203.18 L113.17 203.04 L114.23 201.61 L115.3 201.42 L116.36 200.42 L117.43 202.23 L118.49 201.08 L119.56 199.2 L120.62 200.96 L121.68 201.03 L122.75 199.62 L123.81 198.65 L124.88 199 L125.94 199.76 L127 198.62 L128.07 198.51 L129.13 198.43 L130.2 198.21 L131.26 197.81 L132.33 197.51 L133.39 197.3 L134.45 197.41 L135.52 198.1 L136.58 199.1 L137.65 197.58 L138.71 198.8 L139.78 196.44 L140.84 198.53 L141.9 198.92 L142.97 198.9 L144.03 197.5 L145.1 197.54 L146.16 197.31 L147.23 197.52 L148.29 198.17 L149.35 197.18 L150.42 198.1 L151.48 198.6 L152.55 197.11 L153.61 197.34 L154.68 198.24 L155.74 197.83 L156.8 197.05 L157.87 197.11 L158.93 198.35 L160 197.02 L161.06 199.3 L162.12 197.66 L163.19 197.49 L164.25 197.82 L165.32 197.69 L166.38 198.78 L167.45 197.89 L168.51 197.53 L169.57 198.44 L170.64 197.82 L171.7 198.05 L172.77 199.38 L173.83 198.41 L174.9 197.73 L175.96 199.11 L177.02 198.2 L178.09 198.08 L179.15 199.14 L180.22 198.58 L181.28 197.96 L182.35 198.15 L183.41 199.28 L184.47 198.13 L185.54 198.64 L186.6 198.86 L187.67 198.1 L188.73 198.67 L189.8 198.99 L190.86 198.73 L191.92 199.01 L192.99 198.74 L194.05 199.69 L195.12 200.83 L196.18 198.89 L197.25 199.49 L198.31 199.8 L199.37 200.24 L200.44 200.48 L201.5 200.53 L202.57 201.35 L203.63 200.46 L204.69 200.99" fill="none" stroke="#260808" stroke-width="0.95" stroke-linejoin="round"/>
<path d="M55.7 209.28 L56.76 214.64 L57.83 220.57 L58.89 226.11 L59.96 231.58 L61.02 236.6 L62.09 243.57 L63.15 248.05 L64.21 252.67 L65.28 256.87 L66.34 259.72 L67.41 262.89 L68.47 264.85 L69.54 266.57 L70.6 268.88 L71.66 269.85 L72.73 273.04 L73.79 274.59 L74.86 275.97 L75.92 278.12 L76.98 279.22 L78.05 280.57 L79.11 281.31 L80.18 283.52 L81.24 285.85 L82.31 285.8 L83.37 285.65 L84.43 285.14 L85.5 282.47 L86.56 275.46 L87.63 270.2 L88.69 264.17 L89.76 255.85 L90.82 248.48 L91.88 242.61 L92.95 233.92 L94.01 227.93 L95.08 223.61 L96.14 220.19 L97.21 216.76 L98.27 214.9 L99.33 212.81 L100.4 211.55 L101.46 210.38 L102.53 208.89 L103.59 207.85 L104.66 207.16 L105.72 206.63 L106.78 205.42 L107.85 205.7 L108.91 204.44 L109.98 203.7 L111.04 202.73 L112.11 203.54 L113.17 202.42 L114.23 201.93 L115.3 201.35 L116.36 199.67 L117.43 200.61 L118.49 200.53 L119.56 199.97 L120.62 199.42 L121.68 199.97 L122.75 198.68 L123.81 200.36 L124.88 198.62 L125.94 198.76 L127 198.38 L128.07 197.86 L129.13 198.82 L130.2 198.28 L131.26 198.27 L132.33 198.72 L133.39 198.75 L134.45 198.7 L135.52 197.65 L136.58 199.55 L137.65 198.9 L138.71 198.03 L139.78 197.24 L140.84 198.09 L141.9 197.23 L142.97 198.04 L144.03 198.32 L145.1 198.95 L146.16 197.86 L147.23 196.9 L148.29 197.91 L149.35 198.62 L150.42 197.61 L151.48 198.83 L152.55 198.69 L153.61 197.29 L154.68 197.74 L155.74 197.4 L156.8 197.86 L157.87 198.09 L158.93 197.92 L160 198.25 L161.06 197.4 L162.12 198.87 L163.19 199.26 L164.25 198.63 L165.32 197.56 L166.38 198.48 L167.45 199.6 L168.51 196.43 L169.57 198.81 L170.64 198.39 L171.7 197.95 L172.77 198.13 L173.83 198.51 L174.9 199.42 L175.96 198.19 L177.02 199.19 L178.09 198.75 L179.15 198.24 L180.22 199.03 L181.28 199.98 L182.35 199.32 L183.41 198.65 L184.47 198.67 L185.54 200.01 L186.6 199.26 L187.67 199.19 L188.73 198.8 L189.8 199.31 L190.86 199.56 L191.92 199.94 L192.99 199.56 L194.05 199.47 L195.12 200.15 L196.18 200.35 L197.25 199.22 L198.31 200.46 L199.37 201.07 L200.44 200.31 L201.5 201.66 L202.57 201.73 L203.63 200.66 L204.69 201.31" fill="none" stroke="#2a0808" stroke-width="0.95" stroke-linejoin="round"/>
<path d="M55.7 208.53 L56.76 214.07 L57.83 220.08 L58.89 224.97 L59.96 230.68 L61.02 235.95 L62.09 241.21 L63.15 246.08 L64.21 251 L65.28 254.28 L66.34 257.44 L67.41 259.52 L68.47 261.94 L69.54 263.14 L70.6 264.93 L71.66 266.73 L72.73 268.79 L73.79 270.82 L74.86 272.72 L75.92 273.71 L76.98 274.92 L78.05 275.82 L79.11 277.39 L80.18 278.35 L81.24 280.1 L82.31 281.09 L83.37 280.92 L84.43 279.85 L85.5 276.3 L86.56 271.09 L87.63 266 L88.69 258.57 L89.76 252.01 L90.82 245.23 L91.88 238.53 L92.95 231.3 L94.01 225.61 L95.08 220.92 L96.14 217.45 L97.21 214.59 L98.27 212.93 L99.33 210.57 L100.4 209.89 L101.46 208.41 L102.53 207.38 L103.59 206.94 L104.66 205.38 L105.72 205.69 L106.78 204.96 L107.85 204.51 L108.91 203.64 L109.98 203.64 L111.04 202.44 L112.11 202.41 L113.17 202.1 L114.23 201.25 L115.3 200.85 L116.36 201.15 L117.43 201.25 L118.49 201.62 L119.56 200.8 L120.62 199.72 L121.68 199.5 L122.75 200.56 L123.81 199.66 L124.88 198.88 L125.94 199.83 L127 199.54 L128.07 199.62 L129.13 198.69 L130.2 200.01 L131.26 198.85 L132.33 198.42 L133.39 198.7 L134.45 198.04 L135.52 198.23 L136.58 198.9 L137.65 199.19 L138.71 199.22 L139.78 198.27 L140.84 198.65 L141.9 198.5 L142.97 199.14 L144.03 197.88 L145.1 198.06 L146.16 198.14 L147.23 199.3 L148.29 197.04 L149.35 198.13 L150.42 199.33 L151.48 198.09 L152.55 198.77 L153.61 199.19 L154.68 199.2 L155.74 198.45 L156.8 198.58 L157.87 198.66 L158.93 198.94 L160 199.46 L161.06 198.69 L162.12 199.03 L163.19 199.01 L164.25 198.53 L165.32 197.89 L166.38 199.34 L167.45 198.39 L168.51 199.46 L169.57 198.53 L170.64 198.69 L171.7 199.1 L172.77 199.03 L173.83 199.69 L174.9 199.47 L175.96 198.74 L177.02 198.92 L178.09 198.07 L179.15 200.13 L180.22 199.87 L181.28 199.6 L182.35 199.7 L183.41 200.12 L184.47 200.15 L185.54 200.04 L186.6 199.28 L187.67 200.21 L188.73 200.69 L189.8 200.12 L190.86 202 L191.92 201.02 L192.99 200.97 L194.05 200.49 L195.12 202.17 L196.18 201.01 L197.25 201.65 L198.31 200.52 L199.37 200.77 L200.44 201.67 L201.5 201.26 L202.57 202.41 L203.63 201.72 L204.69 201.79" fill="none" stroke="#400b0a" stroke-width="0.95" stroke-linejoin="round"/>
<path d="M55.7 208.37 L56.76 214.23 L57.83 220.08 L58.89 224.14 L59.96 229.99 L61.02 235.04 L62.09 240.01 L63.15 243.81 L64.21 248.71 L65.28 251.98 L66.34 255.29 L67.41 257.98 L68.47 259.01 L69.54 260.54 L70.6 262.47 L71.66 264.43 L72.73 264.81 L73.79 266.98 L74.86 269.01 L75.92 270.22 L76.98 271.21 L78.05 272.51 L79.11 274.53 L80.18 275.95 L81.24 276.5 L82.31 277.13 L83.37 276.99 L84.43 275.41 L85.5 272.89 L86.56 267.81 L87.63 261.87 L88.69 255.92 L89.76 249.1 L90.82 242.48 L91.88 236.46 L92.95 228.95 L94.01 223.86 L95.08 219.67 L96.14 215.46 L97.21 213.93 L98.27 211.37 L99.33 209.51 L100.4 208.54 L101.46 207.83 L102.53 207.16 L103.59 206 L104.66 205.5 L105.72 205.25 L106.78 205.03 L107.85 204.58 L108.91 203.46 L109.98 202.95 L111.04 202.19 L112.11 202.25 L113.17 201.49 L114.23 201.92 L115.3 201.8 L116.36 200.33 L117.43 200.92 L118.49 200.96 L119.56 200.36 L120.62 200.87 L121.68 200.23 L122.75 200.78 L123.81 199.76 L124.88 200.07 L125.94 199.61 L127 199.44 L128.07 199.05 L129.13 200.26 L130.2 199.05 L131.26 199.24 L132.33 199.73 L133.39 199.16 L134.45 198.68 L135.52 198.69 L136.58 197.77 L137.65 199.17 L138.71 198.89 L139.78 197.82 L140.84 199.36 L141.9 199.51 L142.97 199.3 L144.03 199.39 L145.1 199.07 L146.16 198.99 L147.23 199.55 L148.29 199.81 L149.35 199.18 L150.42 199.91 L151.48 199.69 L152.55 199.01 L153.61 199.3 L154.68 199.87 L155.74 200.15 L156.8 199.92 L157.87 200.24 L158.93 199.04 L160 198.94 L161.06 199.22 L162.12 199.24 L163.19 199.74 L164.25 199.37 L165.32 199.46 L166.38 199.49 L167.45 199.85 L168.51 200.23 L169.57 199.44 L170.64 199.42 L171.7 200.37 L172.77 199.88 L173.83 199.8 L174.9 199.54 L175.96 200.92 L177.02 200.8 L178.09 200.84 L179.15 200.82 L180.22 200.8 L181.28 199.7 L182.35 200.99 L183.41 199.08 L184.47 200.28 L185.54 200.1 L186.6 200.62 L187.67 200.15 L188.73 200.53 L189.8 200.35 L190.86 200.57 L191.92 200.63 L192.99 200.86 L194.05 200.52 L195.12 201.26 L196.18 201.69 L197.25 200.52 L198.31 201.89 L199.37 201.49 L200.44 200.59 L201.5 202.38 L202.57 202.31 L203.63 202.69 L204.69 202.94" fill="none" stroke="#4e0d0c" stroke-width="0.95" stroke-linejoin="round"/>
<path d="M55.7 208.46 L56.76 213.92 L57.83 218.84 L58.89 224.47 L59.96 228.64 L61.02 234.13 L62.09 239.42 L63.15 243.34 L64.21 247.78 L65.28 250.19 L66.34 254.16 L67.41 255.49 L68.47 257.56 L69.54 258.92 L70.6 260.52 L71.66 261.09 L72.73 263.78 L73.79 265.41 L74.86 266.42 L75.92 267.79 L76.98 268.51 L78.05 270.14 L79.11 271.65 L80.18 272.26 L81.24 273.27 L82.31 274.26 L83.37 274.48 L84.43 272.04 L85.5 269.37 L86.56 265.16 L87.63 259.29 L88.69 253.31 L89.76 246.9 L90.82 240.28 L91.88 233.65 L92.95 227.27 L94.01 221.6 L95.08 218.4 L96.14 214.63 L97.21 211.57 L98.27 210.11 L99.33 208.33 L100.4 207.47 L101.46 206.49 L102.53 205.71 L103.59 204.75 L104.66 204.65 L105.72 204.44 L106.78 204.42 L107.85 203.32 L108.91 203.33 L109.98 202.03 L111.04 202.35 L112.11 202.03 L113.17 201.59 L114.23 201.6 L115.3 200.79 L116.36 200.53 L117.43 200.93 L118.49 200.67 L119.56 199.09 L120.62 199.38 L121.68 199.66 L122.75 199.76 L123.81 198.97 L124.88 199.99 L125.94 199.8 L127 199.61 L128.07 200.08 L129.13 199.89 L130.2 198.2 L131.26 199.17 L132.33 199.77 L133.39 199.37 L134.45 199.51 L135.52 199.49 L136.58 199.27 L137.65 200.14 L138.71 200.35 L139.78 199.42 L140.84 199.46 L141.9 200.05 L142.97 199.43 L144.03 199.74 L145.1 199.31 L146.16 199.58 L147.23 198.83 L148.29 198.69 L149.35 199.16 L150.42 199.58 L151.48 199.12 L152.55 199.22 L153.61 199.42 L154.68 199.26 L155.74 199.99 L156.8 199.33 L157.87 199.51 L158.93 199.61 L160 199.98 L161.06 200.14 L162.12 199.58 L163.19 200.25 L164.25 200.62 L165.32 199 L166.38 199.32 L167.45 200.52 L168.51 199.27 L169.57 201.35 L170.64 199.81 L171.7 199.8 L172.77 200.1 L173.83 200.42 L174.9 199.88 L175.96 200.09 L177.02 201.14 L178.09 200.96 L179.15 199.99 L180.22 200.2 L181.28 201.4 L182.35 201.67 L183.41 200.6 L184.47 201.42 L185.54 201.44 L186.6 201.39 L187.67 201.02 L188.73 202.44 L189.8 200.85 L190.86 201.61 L191.92 200.93 L192.99 202.23 L194.05 202.15 L195.12 201.43 L196.18 201.23 L197.25 201.95 L198.31 202.23 L199.37 201.35 L200.44 201.63 L201.5 202.23 L202.57 202.69 L203.63 201.93 L204.69 202.35" fill="none" stroke="#5b0e0d" stroke-width="0.95" stroke-linejoin="round"/>
<path d="M55.7 208.76 L56.76 213.09 L57.83 218.1 L58.89 223.22 L59.96 227.92 L61.02 232.67 L62.09 237.78 L63.15 242.24 L64.21 245.35 L65.28 249.79 L66.34 252.43 L67.41 254.31 L68.47 255.11 L69.54 256.25 L70.6 258.17 L71.66 258.84 L72.73 260.44 L73.79 262.22 L74.86 264.41 L75.92 264.58 L76.98 265.26 L78.05 267.45 L79.11 268.83 L80.18 269.07 L81.24 270.53 L82.31 271.42 L83.37 271.11 L84.43 269.95 L85.5 266.84 L86.56 261.92 L87.63 256.37 L88.69 250.22 L89.76 244.04 L90.82 238.3 L91.88 231.78 L92.95 224.71 L94.01 220.14 L95.08 215.45 L96.14 212.91 L97.21 210.03 L98.27 207.63 L99.33 206.9 L100.4 206.24 L101.46 205.54 L102.53 205.14 L103.59 204.22 L104.66 204.74 L105.72 203.67 L106.78 203.22 L107.85 203.14 L108.91 202.65 L109.98 201.55 L111.04 201.22 L112.11 200.69 L113.17 200.8 L114.23 200.84 L115.3 200.8 L116.36 199.77 L117.43 199.93 L118.49 200.08 L119.56 198.99 L120.62 200.07 L121.68 199.81 L122.75 199.21 L123.81 199.55 L124.88 199.71 L125.94 199.04 L127 197.91 L128.07 199.71 L129.13 199.04 L130.2 199.16 L131.26 199.3 L132.33 198.39 L133.39 199.45 L134.45 198.39 L135.52 200.03 L136.58 199.39 L137.65 199.98 L138.71 199.31 L139.78 199.15 L140.84 199.26 L141.9 199.5 L142.97 199.84 L144.03 200.46 L145.1 199.25 L146.16 199.79 L147.23 199.16 L148.29 200.91 L149.35 200.1 L150.42 201.02 L151.48 199.38 L152.55 200.52 L153.61 200.75 L154.68 199.64 L155.74 200.26 L156.8 200.1 L157.87 200.35 L158.93 199.65 L160 200.18 L161.06 200.22 L162.12 200.41 L163.19 199.85 L164.25 199.78 L165.32 200.7 L166.38 200 L167.45 201.46 L168.51 201.07 L169.57 200.95 L170.64 201.11 L171.7 200.39 L172.77 201.59 L173.83 201.73 L174.9 200.73 L175.96 201.43 L177.02 200.93 L178.09 200.97 L179.15 201.49 L180.22 201.39 L181.28 200.7 L182.35 201.28 L183.41 201.31 L184.47 201.02 L185.54 201.93 L186.6 202.29 L187.67 201.85 L188.73 200.73 L189.8 201.42 L190.86 200.52 L191.92 201.34 L192.99 201.46 L194.05 202.39 L195.12 203.16 L196.18 203.54 L197.25 202.27 L198.31 203.14 L199.37 203.29 L200.44 202.36 L201.5 202.64 L202.57 203.73 L203.63 202.92 L204.69 202.32" fill="none" stroke="#67100f" stroke-width="0.95" stroke-linejoin="round"/>
<path d="M55.7 208.24 L56.76 213.64 L57.83 217.75 L58.89 223.43 L59.96 227.42 L61.02 232.15 L62.09 236 L63.15 240.91 L64.21 244.62 L65.28 247.69 L66.34 249.85 L67.41 252.44 L68.47 253.21 L69.54 254.65 L70.6 255.89 L71.66 257.43 L72.73 258.41 L73.79 260.07 L74.86 261.13 L75.92 262.24 L76.98 263.32 L78.05 264.58 L79.11 265.31 L80.18 266.21 L81.24 267.55 L82.31 268.02 L83.37 267.54 L84.43 265.95 L85.5 263.38 L86.56 259.18 L87.63 253.07 L88.69 247.77 L89.76 241.78 L90.82 235.65 L91.88 229.18 L92.95 222.79 L94.01 217.91 L95.08 213.78 L96.14 210.43 L97.21 208.69 L98.27 206.75 L99.33 205.92 L100.4 205.29 L101.46 204.55 L102.53 203.47 L103.59 203.1 L104.66 203.97 L105.72 202.94 L106.78 202.64 L107.85 202.75 L108.91 201.85 L109.98 201.79 L111.04 200.76 L112.11 201.43 L113.17 200.54 L114.23 201.12 L115.3 200.87 L116.36 199.47 L117.43 200.64 L118.49 200.33 L119.56 200.93 L120.62 199.82 L121.68 199.03 L122.75 200.03 L123.81 200.01 L124.88 199.79 L125.94 200.18 L127 200.44 L128.07 199.6 L129.13 199.79 L130.2 200.64 L131.26 201.04 L132.33 199.31 L133.39 200.39 L134.45 199.38 L135.52 199.15 L136.58 199.77 L137.65 200.14 L138.71 201.36 L139.78 198.96 L140.84 199.39 L141.9 200.44 L142.97 200.68 L144.03 199.8 L145.1 201.36 L146.16 199.78 L147.23 199.7 L148.29 201.06 L149.35 201.03 L150.42 199.36 L151.48 200.79 L152.55 200.45 L153.61 200.81 L154.68 201.89 L155.74 200.09 L156.8 199.76 L157.87 201.15 L158.93 201.37 L160 199.94 L161.06 201.81 L162.12 201.12 L163.19 201.78 L164.25 201.95 L165.32 201.4 L166.38 202.68 L167.45 201.83 L168.51 201.1 L169.57 201.61 L170.64 201.88 L171.7 199.75 L172.77 200.82 L173.83 201.65 L174.9 200.73 L175.96 201.06 L177.02 201.4 L178.09 201.11 L179.15 201.84 L180.22 202.03 L181.28 200.66 L182.35 201.76 L183.41 200.96 L184.47 203.16 L185.54 202.57 L186.6 202.64 L187.67 202.07 L188.73 202.26 L189.8 201.7 L190.86 202.05 L191.92 202.43 L192.99 202.18 L194.05 202.14 L195.12 202.49 L196.18 204.22 L197.25 203.12 L198.31 202.56 L199.37 203.27 L200.44 202.3 L201.5 203.57 L202.57 203.34 L203.63 203.99 L204.69 203.65" fill="none" stroke="#721110" stroke-width="0.95" stroke-linejoin="round"/>
<path d="M55.7 208.11 L56.76 212.6 L57.83 217.3 L58.89 221.78 L59.96 226.36 L61.02 231.31 L62.09 234.85 L63.15 239.13 L64.21 242.4 L65.28 245.67 L66.34 247.74 L67.41 249.97 L68.47 250.67 L69.54 252.04 L70.6 252.54 L71.66 254.29 L72.73 255.74 L73.79 257.8 L74.86 257.86 L75.92 259.12 L76.98 260.83 L78.05 260.75 L79.11 261.72 L80.18 263.1 L81.24 263.51 L82.31 264.57 L83.37 264.18 L84.43 262.16 L85.5 259.96 L86.56 255.01 L87.63 250.41 L88.69 244.4 L89.76 238.34 L90.82 233.08 L91.88 227.19 L92.95 220.18 L94.01 215.47 L95.08 211.33 L96.14 208.76 L97.21 206.56 L98.27 204.63 L99.33 204.14 L100.4 203.94 L101.46 202.9 L102.53 202.6 L103.59 202.59 L104.66 202.25 L105.72 201.88 L106.78 201.66 L107.85 201.53 L108.91 201.33 L109.98 201.01 L111.04 201.01 L112.11 201.04 L113.17 200.61 L114.23 200.14 L115.3 200.57 L116.36 200.17 L117.43 199.65 L118.49 200.57 L119.56 199.69 L120.62 199.79 L121.68 199.25 L122.75 200.42 L123.81 200.16 L124.88 198.92 L125.94 198.58 L127 199.44 L128.07 198.94 L129.13 200.15 L130.2 199.18 L131.26 199.62 L132.33 199.43 L133.39 200.62 L134.45 199.84 L135.52 199.57 L136.58 199.37 L137.65 199.84 L138.71 199.92 L139.78 199.65 L140.84 199.27 L141.9 201.22 L142.97 201.56 L144.03 200.48 L145.1 199.59 L146.16 199.54 L147.23 200.27 L148.29 201.35 L149.35 200.49 L150.42 201.3 L151.48 200.47 L152.55 201.15 L153.61 200.09 L154.68 201.75 L155.74 200.34 L156.8 201.72 L157.87 200.91 L158.93 201.19 L160 202.22 L161.06 202.62 L162.12 201.6 L163.19 201.72 L164.25 201.92 L165.32 201.16 L166.38 201.45 L167.45 201.31 L168.51 202.34 L169.57 201.84 L170.64 201.89 L171.7 201.22 L172.77 201.11 L173.83 202.22 L174.9 201.98 L175.96 203.5 L177.02 200.84 L178.09 201.91 L179.15 201.88 L180.22 202.05 L181.28 202.41 L182.35 203.45 L183.41 203 L184.47 203 L185.54 202.71 L186.6 203.31 L187.67 202.58 L188.73 202.38 L189.8 202.73 L190.86 202.81 L191.92 201.53 L192.99 203.51 L194.05 203.5 L195.12 202.67 L196.18 203.47 L197.25 202.28 L198.31 203.83 L199.37 203.53 L200.44 202.57 L201.5 204.71 L202.57 203.2 L203.63 203.77 L204.69 203.88" fill="none" stroke="#7c1311" stroke-width="0.95" stroke-linejoin="round"/>
<path d="M55.7 207.93 L56.76 213.09 L57.83 216.97 L58.89 221.62 L59.96 225.17 L61.02 230.32 L62.09 233.94 L63.15 237.75 L64.21 241.41 L65.28 243.64 L66.34 246.45 L67.41 247.65 L68.47 249.82 L69.54 250.32 L70.6 251.29 L71.66 251.78 L72.73 253.82 L73.79 254.42 L74.86 255.17 L75.92 256.37 L76.98 257.19 L78.05 258.21 L79.11 259.29 L80.18 259.98 L81.24 260.81 L82.31 260.81 L83.37 260.85 L84.43 259.31 L85.5 256.01 L86.56 252.44 L87.63 247.83 L88.69 241.74 L89.76 236.35 L90.82 230.26 L91.88 224.7 L92.95 219.13 L94.01 213.74 L95.08 210.01 L96.14 206.45 L97.21 205.53 L98.27 203.98 L99.33 202.23 L100.4 201.51 L101.46 201.71 L102.53 200.75 L103.59 201.2 L104.66 201.53 L105.72 201.25 L106.78 200.79 L107.85 200.38 L108.91 200.8 L109.98 201.02 L111.04 200.34 L112.11 200.54 L113.17 200.57 L114.23 200.03 L115.3 200 L116.36 200.72 L117.43 200.33 L118.49 199 L119.56 199.95 L120.62 198.71 L121.68 201.3 L122.75 200.51 L123.81 199.89 L124.88 200.48 L125.94 199.77 L127 199.83 L128.07 200.71 L129.13 198.79 L130.2 198.86 L131.26 201.01 L132.33 200.22 L133.39 200.9 L134.45 200.42 L135.52 200.52 L136.58 200.47 L137.65 199.71 L138.71 199.74 L139.78 200.75 L140.84 200.38 L141.9 200.31 L142.97 201.76 L144.03 200.83 L145.1 201.59 L146.16 200.34 L147.23 200.36 L148.29 201.02 L149.35 200.4 L150.42 201.55 L151.48 201.93 L152.55 200.7 L153.61 201.59 L154.68 201.46 L155.74 202.54 L156.8 201.35 L157.87 201.9 L158.93 201.99 L160 202.62 L161.06 202.46 L162.12 202.29 L163.19 201.97 L164.25 201.33 L165.32 203.21 L166.38 203.04 L167.45 202.8 L168.51 202.71 L169.57 202.81 L170.64 203.06 L171.7 202.8 L172.77 202.16 L173.83 202.73 L174.9 203.09 L175.96 202.21 L177.02 202.54 L178.09 203.29 L179.15 202 L180.22 203.2 L181.28 203.46 L182.35 202.7 L183.41 203.49 L184.47 203.66 L185.54 202.26 L186.6 203.45 L187.67 203.82 L188.73 203.17 L189.8 203.44 L190.86 204.61 L191.92 203.75 L192.99 203.24 L194.05 203.88 L195.12 203.39 L196.18 204.46 L197.25 203.3 L198.31 204.12 L199.37 204.44 L200.44 204.85 L201.5 203.61 L202.57 204.31 L203.63 204.63 L204.69 204.24" fill="none" stroke="#861512" stroke-width="0.95" stroke-linejoin="round"/>
<path d="M55.7 208.47 L56.76 212.82 L57.83 216.75 L58.89 221.12 L59.96 224.66 L61.02 228.2 L62.09 233.55 L63.15 236.41 L64.21 239.89 L65.28 242.37 L66.34 245.52 L67.41 245.46 L68.47 246.96 L69.54 247.36 L70.6 248.57 L71.66 250.25 L72.73 251.13 L73.79 251.66 L74.86 252.76 L75.92 254.27 L76.98 254.67 L78.05 255.03 L79.11 255.88 L80.18 257.42 L81.24 257.97 L82.31 258.32 L83.37 258.12 L84.43 256.22 L85.5 253.03 L86.56 249.2 L87.63 244.37 L88.69 238.61 L89.76 233.22 L90.82 228 L91.88 222.69 L92.95 216.93 L94.01 211.94 L95.08 208.21 L96.14 205.37 L97.21 203.93 L98.27 202.39 L99.33 201.63 L100.4 200.65 L101.46 200.51 L102.53 199.57 L103.59 199.65 L104.66 200.25 L105.72 200.43 L106.78 199.98 L107.85 200.58 L108.91 199.77 L109.98 200.49 L111.04 200.1 L112.11 199.84 L113.17 199.92 L114.23 200.47 L115.3 200.1 L116.36 199.66 L117.43 200.67 L118.49 198.58 L119.56 200.1 L120.62 199.6 L121.68 198.01 L122.75 199.93 L123.81 199.66 L124.88 199.49 L125.94 199.96 L127 200.52 L128.07 200.87 L129.13 199.83 L130.2 200.16 L131.26 199.27 L132.33 200.05 L133.39 199.84 L134.45 200.98 L135.52 200.62 L136.58 200.25 L137.65 200.83 L138.71 200.29 L139.78 201.05 L140.84 201.07 L141.9 200.75 L142.97 201.8 L144.03 199.58 L145.1 202.05 L146.16 200.48 L147.23 200.52 L148.29 201.72 L149.35 201.4 L150.42 201.15 L151.48 201.61 L152.55 201.52 L153.61 202.2 L154.68 201.76 L155.74 202.48 L156.8 202.92 L157.87 202.42 L158.93 201.89 L160 202.21 L161.06 202.21 L162.12 202.72 L163.19 202.44 L164.25 203.05 L165.32 202.68 L166.38 202.58 L167.45 203.18 L168.51 201.8 L169.57 203.96 L170.64 202.41 L171.7 203.05 L172.77 202.27 L173.83 203.26 L174.9 202.48 L175.96 203.52 L177.02 203.58 L178.09 203.29 L179.15 203.19 L180.22 203.87 L181.28 202.6 L182.35 204.04 L183.41 203.59 L184.47 203.44 L185.54 203.64 L186.6 202.98 L187.67 204.25 L188.73 203.14 L189.8 203.09 L190.86 203.83 L191.92 202.7 L192.99 204.93 L194.05 204.39 L195.12 204.97 L196.18 206.05 L197.25 205.66 L198.31 204.13 L199.37 205.06 L200.44 205.96 L201.5 204.53 L202.57 205.46 L203.63 205.02 L204.69 205.14" fill="none" stroke="#901713" stroke-width="0.95" stroke-linejoin="round"/>
<path d="M55.7 207.84 L56.76 213.41 L57.83 216.49 L58.89 219.25 L59.96 224.39 L61.02 228.19 L62.09 232.05 L63.15 235.06 L64.21 238.41 L65.28 241.1 L66.34 243.83 L67.41 244.77 L68.47 245.49 L69.54 246.43 L70.6 247.01 L71.66 247.59 L72.73 248.57 L73.79 250.07 L74.86 250.78 L75.92 251.88 L76.98 252.6 L78.05 252.91 L79.11 254.41 L80.18 254.36 L81.24 255.96 L82.31 255.92 L83.37 255.65 L84.43 253.72 L85.5 250.48 L86.56 247.16 L87.63 241.24 L88.69 237.2 L89.76 231.05 L90.82 226.13 L91.88 220.59 L92.95 214.55 L94.01 209.17 L95.08 206.1 L96.14 204.05 L97.21 201.83 L98.27 200.18 L99.33 200.21 L100.4 199.29 L101.46 198.66 L102.53 199.23 L103.59 199.17 L104.66 199 L105.72 199.77 L106.78 199.64 L107.85 199.7 L108.91 199.44 L109.98 199.91 L111.04 200.11 L112.11 199.14 L113.17 199.91 L114.23 199.91 L115.3 199.19 L116.36 199.85 L117.43 199.6 L118.49 200.18 L119.56 199.68 L120.62 199.32 L121.68 198.96 L122.75 199.21 L123.81 200.53 L124.88 200.02 L125.94 199.44 L127 200.44 L128.07 200.53 L129.13 200.23 L130.2 199.43 L131.26 200.92 L132.33 199.79 L133.39 199.94 L134.45 200.9 L135.52 201.37 L136.58 200.88 L137.65 201.03 L138.71 201.31 L139.78 200.99 L140.84 199.72 L141.9 200.66 L142.97 200.6 L144.03 201.5 L145.1 200.84 L146.16 202.12 L147.23 201.65 L148.29 201.19 L149.35 200.6 L150.42 201.77 L151.48 202.12 L152.55 202.34 L153.61 202.98 L154.68 202.1 L155.74 201.53 L156.8 202.21 L157.87 202.75 L158.93 202.93 L160 203.43 L161.06 202.03 L162.12 202.93 L163.19 202.24 L164.25 203.57 L165.32 202.59 L166.38 202.59 L167.45 203.23 L168.51 203.52 L169.57 201.59 L170.64 202.26 L171.7 202.51 L172.77 203.77 L173.83 202.51 L174.9 203.08 L175.96 202.41 L177.02 203.63 L178.09 203.76 L179.15 204.32 L180.22 204.68 L181.28 204.83 L182.35 204.08 L183.41 203.89 L184.47 203 L185.54 202.78 L186.6 204.42 L187.67 205.53 L188.73 203.99 L189.8 203.98 L190.86 204.54 L191.92 204.93 L192.99 204.82 L194.05 204.33 L195.12 204.4 L196.18 205.64 L197.25 204.72 L198.31 205.35 L199.37 205.4 L200.44 204.81 L201.5 205.48 L202.57 204.9 L203.63 206.68 L204.69 204.85" fill="none" stroke="#991915" stroke-width="0.95" stroke-linejoin="round"/>
<path d="M55.7 208.25 L56.76 212.52 L57.83 216.57 L58.89 220.66 L59.96 224.23 L61.02 226.89 L62.09 230.97 L63.15 234.37 L64.21 237.64 L65.28 240.29 L66.34 242.49 L67.41 243.18 L68.47 243.74 L69.54 245.16 L70.6 245.21 L71.66 246.28 L72.73 246.95 L73.79 248.41 L74.86 248.54 L75.92 248.9 L76.98 250.41 L78.05 250.96 L79.11 251.2 L80.18 252.58 L81.24 253.49 L82.31 254.24 L83.37 252.92 L84.43 250.27 L85.5 248.24 L86.56 243.94 L87.63 240.15 L88.69 234.35 L89.76 229.12 L90.82 224.16 L91.88 218.67 L92.95 213.23 L94.01 208.19 L95.08 204 L96.14 202.59 L97.21 199.81 L98.27 199.6 L99.33 197.99 L100.4 198.16 L101.46 197.7 L102.53 197.99 L103.59 197.94 L104.66 197.57 L105.72 199.61 L106.78 199.14 L107.85 198.8 L108.91 198.41 L109.98 199.46 L111.04 199.02 L112.11 198.82 L113.17 199.45 L114.23 199.23 L115.3 199.13 L116.36 198.62 L117.43 198.99 L118.49 199.04 L119.56 199.75 L120.62 199.72 L121.68 198.1 L122.75 200.38 L123.81 199.92 L124.88 200.19 L125.94 199.78 L127 200.46 L128.07 199.52 L129.13 200.54 L130.2 200.54 L131.26 201.24 L132.33 200.69 L133.39 201.5 L134.45 200.81 L135.52 200.44 L136.58 201.93 L137.65 199.82 L138.71 200.61 L139.78 201.11 L140.84 201.6 L141.9 200.85 L142.97 201.34 L144.03 202 L145.1 201.75 L146.16 201.9 L147.23 202.63 L148.29 201.36 L149.35 203.19 L150.42 202.18 L151.48 203.14 L152.55 202.7 L153.61 202.91 L154.68 202.75 L155.74 201.97 L156.8 203.33 L157.87 202.76 L158.93 202.93 L160 203.08 L161.06 204.02 L162.12 203.35 L163.19 204.43 L164.25 202.73 L165.32 202.56 L166.38 203.42 L167.45 203.24 L168.51 203.63 L169.57 204.81 L170.64 203.91 L171.7 203.17 L172.77 203.85 L173.83 204.37 L174.9 205.73 L175.96 203.28 L177.02 202.97 L178.09 202.96 L179.15 202.5 L180.22 205.54 L181.28 204.2 L182.35 203.85 L183.41 204.68 L184.47 204.23 L185.54 203.71 L186.6 204.85 L187.67 204.14 L188.73 205.19 L189.8 206.2 L190.86 204.67 L191.92 204.42 L192.99 204.47 L194.05 204.32 L195.12 205.55 L196.18 204.54 L197.25 207.01 L198.31 204.96 L199.37 206 L200.44 205.21 L201.5 206.07 L202.57 205.27 L203.63 204.91 L204.69 204.83" fill="none" stroke="#a21b16" stroke-width="0.95" stroke-linejoin="round"/>
<path d="M55.7 208.47 L56.76 211.59 L57.83 215.77 L58.89 219 L59.96 223.13 L61.02 227.09 L62.09 230.04 L63.15 233.48 L64.21 236.42 L65.28 239.38 L66.34 240.39 L67.41 241.1 L68.47 242.71 L69.54 242.94 L70.6 244.02 L71.66 243.85 L72.73 244.42 L73.79 245.74 L74.86 246.15 L75.92 246.78 L76.98 247.73 L78.05 247.96 L79.11 249.53 L80.18 249.64 L81.24 250.12 L82.31 250.14 L83.37 249.29 L84.43 247.81 L85.5 245.33 L86.56 241.16 L87.63 236.58 L88.69 231.9 L89.76 227.14 L90.82 221.53 L91.88 216.83 L92.95 210.81 L94.01 205.95 L95.08 202.68 L96.14 200.1 L97.21 198.59 L98.27 197.56 L99.33 196.55 L100.4 196.99 L101.46 197.3 L102.53 197.06 L103.59 196.8 L104.66 197.97 L105.72 198.31 L106.78 198.05 L107.85 197.41 L108.91 198.58 L109.98 198.1 L111.04 198.05 L112.11 199 L113.17 199.21 L114.23 199.07 L115.3 199.27 L116.36 199.05 L117.43 199.87 L118.49 199.32 L119.56 199.32 L120.62 198.02 L121.68 200.3 L122.75 199.49 L123.81 200.17 L124.88 199.8 L125.94 200.14 L127 200.49 L128.07 200.21 L129.13 200.66 L130.2 200.18 L131.26 199.8 L132.33 200.24 L133.39 200.63 L134.45 200.41 L135.52 201.09 L136.58 200.79 L137.65 199.54 L138.71 201.11 L139.78 200.24 L140.84 201.17 L141.9 202.03 L142.97 201.74 L144.03 202.7 L145.1 201.84 L146.16 201.57 L147.23 202.17 L148.29 202.04 L149.35 202.67 L150.42 203.12 L151.48 204.11 L152.55 202.78 L153.61 202.59 L154.68 202.75 L155.74 203.54 L156.8 203.11 L157.87 203.23 L158.93 203.24 L160 204.12 L161.06 204.49 L162.12 205.07 L163.19 204.15 L164.25 204.19 L165.32 204.5 L166.38 203.93 L167.45 204.9 L168.51 203.98 L169.57 203.19 L170.64 204.33 L171.7 205.37 L172.77 204.34 L173.83 204.74 L174.9 204.39 L175.96 204.67 L177.02 204.91 L178.09 204.39 L179.15 203.98 L180.22 204.8 L181.28 204.67 L182.35 205.76 L183.41 203.57 L184.47 205.44 L185.54 204.93 L186.6 205.88 L187.67 204.73 L188.73 205.68 L189.8 205.1 L190.86 205.57 L191.92 205.42 L192.99 205.49 L194.05 205.87 L195.12 205.48 L196.18 205.93 L197.25 205.7 L198.31 205.8 L199.37 206.28 L200.44 205.55 L201.5 205.37 L202.57 205.73 L203.63 206.86 L204.69 205.62" fill="none" stroke="#aa1d17" stroke-width="0.95" stroke-linejoin="round"/>
<path d="M55.7 207.93 L56.76 212.57 L57.83 215.17 L58.89 219.91 L59.96 222.33 L61.02 225.59 L62.09 228.58 L63.15 231.4 L64.21 234.56 L65.28 236.78 L66.34 238.32 L67.41 239.26 L68.47 240.41 L69.54 240.67 L70.6 241.9 L71.66 242.19 L72.73 242.1 L73.79 243.24 L74.86 244.44 L75.92 244.63 L76.98 245.75 L78.05 245.69 L79.11 245.86 L80.18 247.47 L81.24 247.37 L82.31 247.37 L83.37 246.92 L84.43 244.72 L85.5 242.3 L86.56 238.41 L87.63 233.7 L88.69 229.65 L89.76 224.23 L90.82 219.96 L91.88 214.57 L92.95 208.32 L94.01 204.28 L95.08 201.11 L96.14 198.58 L97.21 197.53 L98.27 196.46 L99.33 195.83 L100.4 195.42 L101.46 196.02 L102.53 195.85 L103.59 196.95 L104.66 197.24 L105.72 197.29 L106.78 197.82 L107.85 197.68 L108.91 197.64 L109.98 198.85 L111.04 198.12 L112.11 198.42 L113.17 198.8 L114.23 198.68 L115.3 199.08 L116.36 198.62 L117.43 198.85 L118.49 197.92 L119.56 200.33 L120.62 199.91 L121.68 199.13 L122.75 198.91 L123.81 200.43 L124.88 200.47 L125.94 200.22 L127 199.81 L128.07 200.72 L129.13 199.72 L130.2 199.5 L131.26 200.72 L132.33 200.02 L133.39 201.81 L134.45 201.65 L135.52 200.81 L136.58 200.78 L137.65 202.3 L138.71 201.91 L139.78 201.49 L140.84 201.94 L141.9 202.55 L142.97 202.23 L144.03 201.86 L145.1 202.83 L146.16 203.46 L147.23 202.01 L148.29 203.25 L149.35 204.36 L150.42 203.07 L151.48 202.8 L152.55 202.82 L153.61 203.01 L154.68 203.73 L155.74 203.62 L156.8 203.65 L157.87 202.99 L158.93 203.9 L160 205.13 L161.06 203.6 L162.12 204.19 L163.19 204.44 L164.25 204.54 L165.32 203.96 L166.38 204.48 L167.45 204.36 L168.51 204.58 L169.57 204.04 L170.64 205.4 L171.7 204.48 L172.77 204.46 L173.83 204.83 L174.9 203.96 L175.96 203.9 L177.02 205.14 L178.09 204.26 L179.15 205.51 L180.22 203.86 L181.28 204.42 L182.35 205.54 L183.41 204.76 L184.47 204.98 L185.54 205.59 L186.6 206.18 L187.67 205.57 L188.73 204.88 L189.8 204.95 L190.86 205.34 L191.92 205.34 L192.99 206.22 L194.05 206.08 L195.12 205.67 L196.18 205.95 L197.25 206.48 L198.31 206.71 L199.37 205.25 L200.44 206.09 L201.5 205.84 L202.57 206.79 L203.63 207.01 L204.69 205.71" fill="none" stroke="#b31f18" stroke-width="0.95" stroke-linejoin="round"/>
<path d="M55.7 208.02 L56.76 211.35 L57.83 215.43 L58.89 218.65 L59.96 221.62 L61.02 225.06 L62.09 227.5 L63.15 230.26 L64.21 233.65 L65.28 235.27 L66.34 237.39 L67.41 237.94 L68.47 238.58 L69.54 239.17 L70.6 239.38 L71.66 239.1 L72.73 240.01 L73.79 240.93 L74.86 241.76 L75.92 241.22 L76.98 242.11 L78.05 242.95 L79.11 243.33 L80.18 244.11 L81.24 244.33 L82.31 244.26 L83.37 243.91 L84.43 241.84 L85.5 239.31 L86.56 235.51 L87.63 231.03 L88.69 226.26 L89.76 222.63 L90.82 216.91 L91.88 212.61 L92.95 206.62 L94.01 201.9 L95.08 198.68 L96.14 197.07 L97.21 196.03 L98.27 194.12 L99.33 194.67 L100.4 193.87 L101.46 194.86 L102.53 194.84 L103.59 195.75 L104.66 195.94 L105.72 196.26 L106.78 196.53 L107.85 197.76 L108.91 197.52 L109.98 197.89 L111.04 197.4 L112.11 197.97 L113.17 197.94 L114.23 198.42 L115.3 197.9 L116.36 198.46 L117.43 198.27 L118.49 198.39 L119.56 198.77 L120.62 199.56 L121.68 199.39 L122.75 198.48 L123.81 198.69 L124.88 199.9 L125.94 199.48 L127 200.99 L128.07 199.47 L129.13 200.36 L130.2 201.84 L131.26 201.2 L132.33 200.98 L133.39 201.2 L134.45 201.15 L135.52 201.81 L136.58 202.56 L137.65 200.62 L138.71 202.39 L139.78 202.64 L140.84 203.03 L141.9 202.5 L142.97 201.68 L144.03 201.86 L145.1 201.53 L146.16 203.33 L147.23 203.13 L148.29 202.39 L149.35 203.5 L150.42 203.28 L151.48 202.53 L152.55 204.45 L153.61 204.59 L154.68 203.69 L155.74 204.58 L156.8 204.45 L157.87 203.61 L158.93 204.22 L160 203.65 L161.06 205.05 L162.12 204.64 L163.19 204.5 L164.25 204.55 L165.32 206.1 L166.38 205.55 L167.45 204.61 L168.51 206.18 L169.57 206.09 L170.64 205.57 L171.7 205.46 L172.77 204.69 L173.83 204.87 L174.9 205.59 L175.96 205.95 L177.02 205.99 L178.09 204.71 L179.15 205.26 L180.22 205.19 L181.28 206.87 L182.35 206.84 L183.41 205.06 L184.47 204.44 L185.54 205.49 L186.6 206.33 L187.67 206.93 L188.73 206.72 L189.8 205.7 L190.86 205.81 L191.92 206.44 L192.99 205.66 L194.05 205.17 L195.12 205.84 L196.18 206.52 L197.25 206.96 L198.31 206.52 L199.37 206.8 L200.44 205.29 L201.5 206.68 L202.57 205.45 L203.63 206.87 L204.69 206.43" fill="none" stroke="#bc2219" stroke-width="0.95" stroke-linejoin="round"/>
<path d="M55.7 207.86 L56.76 211.54 L57.83 214.72 L58.89 217.94 L59.96 221.14 L61.02 224.07 L62.09 226.53 L63.15 228.9 L64.21 232.15 L65.28 233.7 L66.34 235.85 L67.41 236.64 L68.47 236.89 L69.54 237.34 L70.6 237.24 L71.66 238 L72.73 238.38 L73.79 238.83 L74.86 239.63 L75.92 240.12 L76.98 240.13 L78.05 240.36 L79.11 241.25 L80.18 241.96 L81.24 242.22 L82.31 242.11 L83.37 241.41 L84.43 239.19 L85.5 235.7 L86.56 233.09 L87.63 228.92 L88.69 224.28 L89.76 220.14 L90.82 214.84 L91.88 210.92 L92.95 205.52 L94.01 201.06 L95.08 197.57 L96.14 195.94 L97.21 194.66 L98.27 193.76 L99.33 193.12 L100.4 193.17 L101.46 192.85 L102.53 194.16 L103.59 193.95 L104.66 194.4 L105.72 195.59 L106.78 196.93 L107.85 196.53 L108.91 196.53 L109.98 196.88 L111.04 197.36 L112.11 198.08 L113.17 197.78 L114.23 198.01 L115.3 198.26 L116.36 199.51 L117.43 198.08 L118.49 198.51 L119.56 198.42 L120.62 199.29 L121.68 198.12 L122.75 198.72 L123.81 199.27 L124.88 200.33 L125.94 200.22 L127 201.03 L128.07 200.01 L129.13 200.74 L130.2 200.75 L131.26 202.16 L132.33 200.75 L133.39 201.85 L134.45 202.66 L135.52 200.38 L136.58 200.5 L137.65 201.85 L138.71 203.3 L139.78 202.21 L140.84 201.81 L141.9 203.03 L142.97 202.11 L144.03 202.23 L145.1 202.67 L146.16 202.79 L147.23 204.06 L148.29 203.86 L149.35 204.44 L150.42 204.79 L151.48 203.53 L152.55 204.35 L153.61 203.79 L154.68 204.61 L155.74 205.18 L156.8 203.84 L157.87 204.06 L158.93 205 L160 204.64 L161.06 206.16 L162.12 205.45 L163.19 204.38 L164.25 205.11 L165.32 205.33 L166.38 204.43 L167.45 204.49 L168.51 206.04 L169.57 205.75 L170.64 205.36 L171.7 206.25 L172.77 205.27 L173.83 205.25 L174.9 205.69 L175.96 206.7 L177.02 205.95 L178.09 205.9 L179.15 205.7 L180.22 206.01 L181.28 206.25 L182.35 205.01 L183.41 205.26 L184.47 206.55 L185.54 206.99 L186.6 205.57 L187.67 206.71 L188.73 207.06 L189.8 206.21 L190.86 207.19 L191.92 206.92 L192.99 206.6 L194.05 206.47 L195.12 206.85 L196.18 205.87 L197.25 206.14 L198.31 205.46 L199.37 206.36 L200.44 206.52 L201.5 206.16 L202.57 206.91 L203.63 206.2 L204.69 207.26" fill="none" stroke="#c6241a" stroke-width="0.95" stroke-linejoin="round"/>
<path d="M55.7 208.16 L56.76 212.25 L57.83 214.73 L58.89 217.36 L59.96 220.26 L61.02 223.31 L62.09 225.93 L63.15 227.63 L64.21 230.87 L65.28 232.89 L66.34 234.49 L67.41 234.96 L68.47 235.92 L69.54 235.47 L70.6 235.12 L71.66 235.62 L72.73 236.05 L73.79 237.15 L74.86 237.8 L75.92 237.66 L76.98 237.85 L78.05 238.64 L79.11 239.04 L80.18 239.68 L81.24 239.87 L82.31 238.87 L83.37 238.6 L84.43 236.15 L85.5 233.9 L86.56 230.45 L87.63 226.27 L88.69 221.61 L89.76 217.7 L90.82 212.89 L91.88 208.31 L92.95 204 L94.01 198.94 L95.08 195.95 L96.14 193.66 L97.21 193.47 L98.27 192.46 L99.33 192.21 L100.4 192.41 L101.46 191.96 L102.53 193.36 L103.59 193.72 L104.66 194.06 L105.72 194.54 L106.78 195.56 L107.85 195.62 L108.91 196.54 L109.98 196.36 L111.04 197.16 L112.11 196.98 L113.17 198.34 L114.23 197.59 L115.3 198.29 L116.36 198.42 L117.43 198.41 L118.49 198.3 L119.56 198.81 L120.62 199.65 L121.68 199.5 L122.75 199.02 L123.81 198.97 L124.88 199.69 L125.94 199.77 L127 200.53 L128.07 199.87 L129.13 200.61 L130.2 201.56 L131.26 199.61 L132.33 201.41 L133.39 201.23 L134.45 200.52 L135.52 201.95 L136.58 202.78 L137.65 201.57 L138.71 201.68 L139.78 202.71 L140.84 202.85 L141.9 202.13 L142.97 203.21 L144.03 203.13 L145.1 203.49 L146.16 202.11 L147.23 204.64 L148.29 203.26 L149.35 204.12 L150.42 203.28 L151.48 205.89 L152.55 204.31 L153.61 204.5 L154.68 205.75 L155.74 206.53 L156.8 203.88 L157.87 204.94 L158.93 205.64 L160 205.95 L161.06 204.96 L162.12 204.92 L163.19 205.98 L164.25 205.62 L165.32 204.85 L166.38 206.33 L167.45 205.35 L168.51 205.09 L169.57 207.1 L170.64 206.8 L171.7 204.7 L172.77 206.21 L173.83 205.5 L174.9 205.95 L175.96 205.63 L177.02 205.42 L178.09 205.3 L179.15 205.79 L180.22 207.09 L181.28 207.07 L182.35 205.33 L183.41 206.99 L184.47 206.7 L185.54 207.51 L186.6 207.4 L187.67 206.93 L188.73 206.34 L189.8 206.71 L190.86 207.06 L191.92 207.44 L192.99 208.03 L194.05 206.54 L195.12 207.7 L196.18 206.31 L197.25 206.61 L198.31 208.16 L199.37 207 L200.44 206.27 L201.5 207.98 L202.57 207.04 L203.63 206.91 L204.69 207.07" fill="none" stroke="#cf261c" stroke-width="0.95" stroke-linejoin="round"/>
<path d="M55.7 207.89 L56.76 210.4 L57.83 214.02 L58.89 217.37 L59.96 220.12 L61.02 222.79 L62.09 225.39 L63.15 227.5 L64.21 230.19 L65.28 230.81 L66.34 232.82 L67.41 233.74 L68.47 233.25 L69.54 233.38 L70.6 234.51 L71.66 233.87 L72.73 234.74 L73.79 235.02 L74.86 234.87 L75.92 235.5 L76.98 235.52 L78.05 236.25 L79.11 236.06 L80.18 236.52 L81.24 237.55 L82.31 236.86 L83.37 236.89 L84.43 234.29 L85.5 231.03 L86.56 227.21 L87.63 224.11 L88.69 219.73 L89.76 215.54 L90.82 211.72 L91.88 206.27 L92.95 201.52 L94.01 197.56 L95.08 194.93 L96.14 193.18 L97.21 191.95 L98.27 191.47 L99.33 191.65 L100.4 191.4 L101.46 191.56 L102.53 192.25 L103.59 192.46 L104.66 194.5 L105.72 194.76 L106.78 194.97 L107.85 195.21 L108.91 196.1 L109.98 196.33 L111.04 196.74 L112.11 197.05 L113.17 197.53 L114.23 197.68 L115.3 197.59 L116.36 198.2 L117.43 198.25 L118.49 199.11 L119.56 199.12 L120.62 198.87 L121.68 198.64 L122.75 199.4 L123.81 198.42 L124.88 199.94 L125.94 199.69 L127 200.29 L128.07 199.38 L129.13 200.57 L130.2 201.42 L131.26 201.3 L132.33 202.58 L133.39 200.81 L134.45 199.99 L135.52 201.9 L136.58 201.42 L137.65 201.49 L138.71 202.41 L139.78 202.86 L140.84 201.88 L141.9 203.56 L142.97 202.72 L144.03 202.95 L145.1 204.06 L146.16 204.89 L147.23 203.41 L148.29 204.12 L149.35 203.88 L150.42 205.2 L151.48 204.97 L152.55 204.49 L153.61 204.87 L154.68 205.05 L155.74 205.58 L156.8 205.29 L157.87 205.39 L158.93 205.12 L160 205.47 L161.06 205.51 L162.12 205.96 L163.19 204.26 L164.25 206.79 L165.32 205.69 L166.38 207.67 L167.45 206.6 L168.51 205.6 L169.57 207.58 L170.64 205.66 L171.7 207.16 L172.77 206.08 L173.83 206.93 L174.9 207.03 L175.96 207 L177.02 206.26 L178.09 206.97 L179.15 206.34 L180.22 206.85 L181.28 207.45 L182.35 206.07 L183.41 207.37 L184.47 207.21 L185.54 206.17 L186.6 206.18 L187.67 206.93 L188.73 206.44 L189.8 206.81 L190.86 207.83 L191.92 207.61 L192.99 207.22 L194.05 206.52 L195.12 207.66 L196.18 207.66 L197.25 207.93 L198.31 207.56 L199.37 208.04 L200.44 207.23 L201.5 206.99 L202.57 207.47 L203.63 208.84 L204.69 208.53" fill="none" stroke="#d9291d" stroke-width="0.95" stroke-linejoin="round"/>
<path d="M55.7 207.88 L56.76 210.31 L57.83 213.9 L58.89 216.14 L59.96 219.09 L61.02 221.15 L62.09 224.42 L63.15 226.58 L64.21 228.43 L65.28 229.97 L66.34 231.2 L67.41 231.03 L68.47 231.75 L69.54 232.3 L70.6 231.62 L71.66 232.6 L72.73 231.78 L73.79 232.35 L74.86 232.95 L75.92 233.03 L76.98 233.33 L78.05 233.18 L79.11 233.72 L80.18 233.49 L81.24 234.28 L82.31 233.24 L83.37 232.23 L84.43 230.7 L85.5 227.75 L86.56 224.81 L87.63 220.87 L88.69 216.9 L89.76 213.97 L90.82 208.89 L91.88 205.38 L92.95 200.47 L94.01 196.34 L95.08 193.15 L96.14 192.03 L97.21 190.9 L98.27 190.35 L99.33 190.47 L100.4 190.12 L101.46 191.36 L102.53 191.5 L103.59 192.45 L104.66 193.26 L105.72 194.37 L106.78 195.1 L107.85 195.06 L108.91 195.55 L109.98 196.5 L111.04 197.16 L112.11 197.23 L113.17 197.38 L114.23 198.04 L115.3 198.24 L116.36 199.72 L117.43 198.09 L118.49 198.97 L119.56 198.1 L120.62 198.55 L121.68 199.03 L122.75 199.18 L123.81 199.17 L124.88 199.63 L125.94 199.72 L127 199.49 L128.07 200.84 L129.13 201.47 L130.2 200.84 L131.26 201.37 L132.33 200.1 L133.39 201.6 L134.45 202.4 L135.52 201.93 L136.58 202.14 L137.65 201.35 L138.71 202.32 L139.78 202.08 L140.84 202.83 L141.9 203.78 L142.97 203.47 L144.03 204.05 L145.1 202.41 L146.16 203.04 L147.23 204.55 L148.29 205.96 L149.35 205.02 L150.42 204.99 L151.48 205.48 L152.55 205 L153.61 205.12 L154.68 205.06 L155.74 205.33 L156.8 206.18 L157.87 206.24 L158.93 205.58 L160 205.9 L161.06 207.5 L162.12 206 L163.19 205.5 L164.25 207.2 L165.32 206.6 L166.38 205.42 L167.45 206.8 L168.51 205.89 L169.57 207.21 L170.64 206.92 L171.7 207.35 L172.77 207.06 L173.83 206.86 L174.9 207.48 L175.96 207.02 L177.02 207.55 L178.09 206.54 L179.15 207.22 L180.22 206.65 L181.28 207.95 L182.35 207.4 L183.41 206.69 L184.47 207.91 L185.54 206.69 L186.6 207.62 L187.67 207.19 L188.73 207.41 L189.8 207.62 L190.86 207.28 L191.92 207.25 L192.99 208.08 L194.05 207.02 L195.12 208.1 L196.18 207.75 L197.25 207.31 L198.31 208.67 L199.37 207.68 L200.44 207.52 L201.5 207.32 L202.57 207.44 L203.63 208.61 L204.69 208.73" fill="none" stroke="#de2b1e" stroke-width="0.95" stroke-linejoin="round"/>
<path d="M55.7 207.69 L56.76 209.79 L57.83 212.88 L58.89 216.03 L59.96 218.04 L61.02 220.39 L62.09 222.76 L63.15 224.85 L64.21 227.05 L65.28 228.69 L66.34 229.19 L67.41 229.82 L68.47 229.82 L69.54 229.34 L70.6 229.28 L71.66 230.08 L72.73 229.64 L73.79 229.72 L74.86 230.2 L75.92 230.23 L76.98 230.59 L78.05 229.73 L79.11 230.85 L80.18 230.56 L81.24 231.4 L82.31 231.56 L83.37 229.52 L84.43 227.59 L85.5 225.35 L86.56 222.06 L87.63 218.09 L88.69 214.42 L89.76 211.26 L90.82 206.82 L91.88 202.7 L92.95 198.87 L94.01 195.93 L95.08 191.7 L96.14 190.55 L97.21 190.01 L98.27 189.84 L99.33 189.39 L100.4 189.39 L101.46 189.99 L102.53 191.09 L103.59 192.3 L104.66 193.57 L105.72 194.19 L106.78 194.92 L107.85 195.47 L108.91 195.12 L109.98 196.44 L111.04 197.4 L112.11 196.73 L113.17 197.27 L114.23 197.71 L115.3 197.65 L116.36 198.09 L117.43 197.65 L118.49 199.13 L119.56 198.62 L120.62 199.53 L121.68 199.29 L122.75 199.06 L123.81 199.46 L124.88 199.7 L125.94 199.59 L127 199.38 L128.07 201.83 L129.13 201.16 L130.2 200.44 L131.26 201.4 L132.33 200.98 L133.39 200.6 L134.45 201.44 L135.52 201.72 L136.58 202.23 L137.65 202.88 L138.71 202.93 L139.78 202.14 L140.84 202.24 L141.9 202.77 L142.97 203.74 L144.03 204.75 L145.1 204.12 L146.16 204.74 L147.23 204.18 L148.29 205.48 L149.35 205.9 L150.42 204.49 L151.48 205.63 L152.55 205.59 L153.61 205.87 L154.68 206.15 L155.74 206.55 L156.8 206.46 L157.87 206.97 L158.93 206.19 L160 206.91 L161.06 207.56 L162.12 207.06 L163.19 206.5 L164.25 206.89 L165.32 207.22 L166.38 207.92 L167.45 207.62 L168.51 207.27 L169.57 207.34 L170.64 206.51 L171.7 206.91 L172.77 207.21 L173.83 208.33 L174.9 206.56 L175.96 207.67 L177.02 209.03 L178.09 206.98 L179.15 207.71 L180.22 207.47 L181.28 207.93 L182.35 207.76 L183.41 208.6 L184.47 208.25 L185.54 207.64 L186.6 207.19 L187.67 208.97 L188.73 207.85 L189.8 207.78 L190.86 209.17 L191.92 208.22 L192.99 208.38 L194.05 208.97 L195.12 208.58 L196.18 207.98 L197.25 207.63 L198.31 208.71 L199.37 208.31 L200.44 207.82 L201.5 208.03 L202.57 209.23 L203.63 207.78 L204.69 207.14" fill="none" stroke="#df2e20" stroke-width="0.95" stroke-linejoin="round"/>
<path d="M55.7 207.7 L56.76 209.4 L57.83 213.39 L58.89 215.6 L59.96 217.33 L61.02 218.82 L62.09 221.27 L63.15 222.99 L64.21 225.19 L65.28 226.51 L66.34 227.49 L67.41 227.35 L68.47 227.77 L69.54 227.68 L70.6 227.2 L71.66 226.39 L72.73 227.65 L73.79 227.43 L74.86 226.92 L75.92 227.44 L76.98 226.88 L78.05 228.12 L79.11 228.2 L80.18 227.35 L81.24 227.73 L82.31 227.44 L83.37 226.72 L84.43 224.79 L85.5 222.35 L86.56 218.67 L87.63 215.39 L88.69 211.85 L89.76 208.77 L90.82 206.08 L91.88 201.41 L92.95 197.25 L94.01 193.5 L95.08 191.6 L96.14 190.32 L97.21 188.36 L98.27 188.53 L99.33 188.81 L100.4 189.78 L101.46 189.82 L102.53 189.74 L103.59 191.28 L104.66 191.18 L105.72 194.32 L106.78 194.57 L107.85 195.42 L108.91 195.62 L109.98 195.61 L111.04 196.62 L112.11 197.37 L113.17 196.55 L114.23 197.53 L115.3 197.97 L116.36 197.53 L117.43 199.24 L118.49 198.54 L119.56 198.44 L120.62 198.01 L121.68 198.95 L122.75 198.58 L123.81 199.29 L124.88 199.6 L125.94 202.14 L127 199.76 L128.07 200.14 L129.13 200.87 L130.2 201.23 L131.26 201.43 L132.33 202.14 L133.39 202.24 L134.45 204.13 L135.52 203.16 L136.58 202.64 L137.65 202.21 L138.71 203.68 L139.78 202.4 L140.84 203.68 L141.9 204.01 L142.97 204.01 L144.03 203.49 L145.1 205.2 L146.16 204.16 L147.23 204.27 L148.29 205.32 L149.35 204.78 L150.42 205.52 L151.48 205.65 L152.55 207.04 L153.61 206.06 L154.68 206.73 L155.74 207.78 L156.8 205.87 L157.87 207.42 L158.93 207 L160 206.02 L161.06 207.22 L162.12 207.58 L163.19 205.97 L164.25 207.28 L165.32 206.88 L166.38 206.42 L167.45 206.98 L168.51 207.87 L169.57 207.96 L170.64 207.82 L171.7 206.76 L172.77 207.33 L173.83 208.3 L174.9 208.35 L175.96 207.98 L177.02 207.89 L178.09 208.12 L179.15 208.72 L180.22 207.17 L181.28 207.92 L182.35 208.49 L183.41 208.02 L184.47 208.95 L185.54 208.67 L186.6 209.14 L187.67 208.59 L188.73 208.98 L189.8 208.65 L190.86 210.1 L191.92 208.57 L192.99 208.41 L194.05 207.95 L195.12 209.26 L196.18 208.45 L197.25 209.11 L198.31 207.91 L199.37 208.33 L200.44 208.81 L201.5 210.34 L202.57 208.13 L203.63 207.76 L204.69 208.72" fill="none" stroke="#e13222" stroke-width="0.95" stroke-linejoin="round"/>
<path d="M55.7 207.81 L56.76 209.62 L57.83 212.32 L58.89 214.77 L59.96 216.05 L61.02 218.27 L62.09 219.88 L63.15 221.96 L64.21 223.09 L65.28 225.05 L66.34 226 L67.41 226.53 L68.47 225.82 L69.54 226.18 L70.6 225.67 L71.66 225.69 L72.73 225.04 L73.79 224.25 L74.86 225.44 L75.92 225.48 L76.98 225.53 L78.05 225.65 L79.11 225.42 L80.18 224.67 L81.24 225.36 L82.31 224.82 L83.37 224.72 L84.43 222.49 L85.5 219.67 L86.56 216.76 L87.63 213.81 L88.69 210.78 L89.76 207.6 L90.82 204.28 L91.88 199.82 L92.95 196.32 L94.01 193.64 L95.08 190.89 L96.14 189.77 L97.21 189.02 L98.27 189.68 L99.33 189.11 L100.4 189.12 L101.46 190.21 L102.53 191.09 L103.59 191.8 L104.66 192.71 L105.72 193.95 L106.78 194.64 L107.85 194.95 L108.91 195.78 L109.98 196.99 L111.04 197.05 L112.11 197.13 L113.17 197.57 L114.23 198.07 L115.3 198.2 L116.36 199 L117.43 198.27 L118.49 199.16 L119.56 198.29 L120.62 200.25 L121.68 199.78 L122.75 199.47 L123.81 200.28 L124.88 200.54 L125.94 201.09 L127 201.12 L128.07 201.27 L129.13 201.63 L130.2 201.8 L131.26 202.31 L132.33 202.98 L133.39 202.76 L134.45 202.24 L135.52 202.23 L136.58 203.12 L137.65 204.03 L138.71 203.19 L139.78 203.63 L140.84 204.21 L141.9 203.64 L142.97 203.71 L144.03 205 L145.1 204.92 L146.16 204.67 L147.23 205.76 L148.29 205.27 L149.35 204.81 L150.42 205.79 L151.48 205.64 L152.55 206.74 L153.61 207.75 L154.68 206.32 L155.74 205.35 L156.8 207.48 L157.87 207.18 L158.93 207.69 L160 207.76 L161.06 207.05 L162.12 207.21 L163.19 208.68 L164.25 207.55 L165.32 208.09 L166.38 207.54 L167.45 205.93 L168.51 208.4 L169.57 207.31 L170.64 208.97 L171.7 207.71 L172.77 207.07 L173.83 208.23 L174.9 207.51 L175.96 208.9 L177.02 209.01 L178.09 207.72 L179.15 208.28 L180.22 207.54 L181.28 208.37 L182.35 209.46 L183.41 208.68 L184.47 209.68 L185.54 208.58 L186.6 210.11 L187.67 208.7 L188.73 210.18 L189.8 208.88 L190.86 209.09 L191.92 208.43 L192.99 207.56 L194.05 207.81 L195.12 208.22 L196.18 208.96 L197.25 209.24 L198.31 208.17 L199.37 209.58 L200.44 208.82 L201.5 208.39 L202.57 209.33 L203.63 209.77 L204.69 210.05" fill="none" stroke="#e33825" stroke-width="0.95" stroke-linejoin="round"/>
<path d="M55.7 207.74 L56.76 210.05 L57.83 211.33 L58.89 213.41 L59.96 216.26 L61.02 218.23 L62.09 219.59 L63.15 221.63 L64.21 222.76 L65.28 224.14 L66.34 225.04 L67.41 225.19 L68.47 224.83 L69.54 224.51 L70.6 224.31 L71.66 224.89 L72.73 224.28 L73.79 224.64 L74.86 223.59 L75.92 225.17 L76.98 224.3 L78.05 224.56 L79.11 224.16 L80.18 224.11 L81.24 223.83 L82.31 224.87 L83.37 223.82 L84.43 221.95 L85.5 219.08 L86.56 215.8 L87.63 212.56 L88.69 210 L89.76 207.11 L90.82 204.12 L91.88 200.89 L92.95 195.98 L94.01 194.08 L95.08 191.31 L96.14 190.5 L97.21 189.58 L98.27 190.52 L99.33 190.55 L100.4 190.39 L101.46 191.31 L102.53 191.2 L103.59 191.9 L104.66 193.15 L105.72 194.15 L106.78 194.46 L107.85 195.66 L108.91 196.08 L109.98 196.91 L111.04 197.03 L112.11 197.65 L113.17 198.05 L114.23 198.53 L115.3 198.4 L116.36 199.26 L117.43 198.26 L118.49 199.17 L119.56 200.05 L120.62 200.02 L121.68 199.56 L122.75 200.82 L123.81 200.91 L124.88 200.47 L125.94 200.41 L127 201.12 L128.07 201.69 L129.13 201.43 L130.2 202.49 L131.26 201.44 L132.33 201.82 L133.39 201.26 L134.45 203.02 L135.52 203.91 L136.58 204.59 L137.65 201.95 L138.71 203.29 L139.78 202.95 L140.84 204.22 L141.9 203.54 L142.97 204.52 L144.03 202.81 L145.1 205.32 L146.16 204.29 L147.23 206.64 L148.29 205.83 L149.35 206.53 L150.42 205.14 L151.48 205.48 L152.55 205.2 L153.61 205.86 L154.68 206.31 L155.74 208.12 L156.8 207.11 L157.87 207.72 L158.93 207.92 L160 207.87 L161.06 206.93 L162.12 208.2 L163.19 208.53 L164.25 207.22 L165.32 207.66 L166.38 208.75 L167.45 208.58 L168.51 207.33 L169.57 208.34 L170.64 208.27 L171.7 208.26 L172.77 207.93 L173.83 208.65 L174.9 208.43 L175.96 208.4 L177.02 209.37 L178.09 207.96 L179.15 207.9 L180.22 208.65 L181.28 208.88 L182.35 208.83 L183.41 209.5 L184.47 207.7 L185.54 209.68 L186.6 209.69 L187.67 209.64 L188.73 208.51 L189.8 207.98 L190.86 209.26 L191.92 209.94 L192.99 209.4 L194.05 208.84 L195.12 209.26 L196.18 208.74 L197.25 209.51 L198.31 209.82 L199.37 209.83 L200.44 209.79 L201.5 209.25 L202.57 208.23 L203.63 208.81 L204.69 209.92" fill="none" stroke="#e53d28" stroke-width="0.95" stroke-linejoin="round"/>
<path d="M55.7 207.05 L56.76 209.21 L57.83 211.78 L58.89 213.41 L59.96 215.76 L61.02 217.73 L62.09 218.8 L63.15 219.64 L64.21 222.66 L65.28 223.56 L66.34 224.13 L67.41 224.11 L68.47 223.3 L69.54 223.47 L70.6 223.49 L71.66 223.34 L72.73 223.56 L73.79 223.44 L74.86 222.93 L75.92 223.25 L76.98 223.61 L78.05 223.6 L79.11 223.73 L80.18 223.33 L81.24 224.24 L82.31 223.21 L83.37 222.98 L84.43 220.92 L85.5 218.5 L86.56 215.94 L87.63 212.58 L88.69 209.86 L89.76 207.87 L90.82 204.7 L91.88 201.39 L92.95 198.32 L94.01 195.64 L95.08 192.93 L96.14 192.09 L97.21 191.42 L98.27 191.05 L99.33 190.43 L100.4 191.83 L101.46 192.32 L102.53 192.35 L103.59 193.83 L104.66 194.23 L105.72 195.48 L106.78 196.23 L107.85 196.72 L108.91 196.4 L109.98 197.38 L111.04 198.13 L112.11 198.27 L113.17 198.78 L114.23 198.48 L115.3 199.68 L116.36 200.4 L117.43 199.56 L118.49 201 L119.56 199.75 L120.62 199.76 L121.68 199.43 L122.75 199.32 L123.81 199.67 L124.88 200.11 L125.94 199.86 L127 201.24 L128.07 201.82 L129.13 201.58 L130.2 201.6 L131.26 202.36 L132.33 201.49 L133.39 202.35 L134.45 200.69 L135.52 203.65 L136.58 202.99 L137.65 202.98 L138.71 203.79 L139.78 203.2 L140.84 203.92 L141.9 204.32 L142.97 205.11 L144.03 203.67 L145.1 204.47 L146.16 205.31 L147.23 205.29 L148.29 205.41 L149.35 205.7 L150.42 205.84 L151.48 206.5 L152.55 206.76 L153.61 205.84 L154.68 207.03 L155.74 206.38 L156.8 206.16 L157.87 207.82 L158.93 206.82 L160 207.52 L161.06 208.14 L162.12 207.79 L163.19 207.71 L164.25 207.83 L165.32 207.57 L166.38 208.58 L167.45 207.91 L168.51 207.85 L169.57 207.49 L170.64 206.62 L171.7 208.12 L172.77 207.93 L173.83 208.76 L174.9 207.42 L175.96 208.56 L177.02 209.1 L178.09 208.66 L179.15 209.04 L180.22 209.85 L181.28 208.61 L182.35 209.47 L183.41 208.54 L184.47 209.18 L185.54 208.44 L186.6 210.61 L187.67 208.58 L188.73 208.86 L189.8 209.39 L190.86 209.83 L191.92 208.92 L192.99 208.91 L194.05 207.33 L195.12 209.85 L196.18 208.86 L197.25 209.18 L198.31 209.09 L199.37 209.76 L200.44 209.45 L201.5 208.71 L202.57 209.27 L203.63 209.74 L204.69 209.06" fill="none" stroke="#e8432b" stroke-width="0.95" stroke-linejoin="round"/>
<path d="M55.7 206.92 L56.76 208.79 L57.83 211.1 L58.89 213.22 L59.96 215.4 L61.02 215.81 L62.09 218.27 L63.15 219.09 L64.21 221.06 L65.28 222.45 L66.34 222.67 L67.41 222.99 L68.47 222.89 L69.54 222.93 L70.6 222.49 L71.66 222.58 L72.73 222.03 L73.79 222.54 L74.86 222.09 L75.92 222.22 L76.98 222 L78.05 221.64 L79.11 222.32 L80.18 222.44 L81.24 221.54 L82.31 221.91 L83.37 221.66 L84.43 219.74 L85.5 217.61 L86.56 215.22 L87.63 213.02 L88.69 209.64 L89.76 208.52 L90.82 206.2 L91.88 203.46 L92.95 199.18 L94.01 196.69 L95.08 194.8 L96.14 194.26 L97.21 192.63 L98.27 193.09 L99.33 194.02 L100.4 194.2 L101.46 193.47 L102.53 194.29 L103.59 196 L104.66 196.5 L105.72 196.86 L106.78 197.31 L107.85 198.07 L108.91 198.48 L109.98 198.47 L111.04 198.75 L112.11 198.87 L113.17 199.33 L114.23 199.75 L115.3 200.07 L116.36 199.61 L117.43 199.06 L118.49 200.24 L119.56 199.58 L120.62 200.13 L121.68 199.68 L122.75 201.15 L123.81 201.23 L124.88 201.76 L125.94 200.67 L127 201.62 L128.07 201.51 L129.13 202.13 L130.2 202.12 L131.26 202.07 L132.33 202.4 L133.39 203 L134.45 201.68 L135.52 202.38 L136.58 203.35 L137.65 203.15 L138.71 204.39 L139.78 202.97 L140.84 203.69 L141.9 204.27 L142.97 205.4 L144.03 204.4 L145.1 204.83 L146.16 204.36 L147.23 206.07 L148.29 205.54 L149.35 205.73 L150.42 205.8 L151.48 206.07 L152.55 207.13 L153.61 206.83 L154.68 205.81 L155.74 206.24 L156.8 207.39 L157.87 207.05 L158.93 207.77 L160 207.7 L161.06 207.44 L162.12 207.19 L163.19 207.62 L164.25 208.02 L165.32 207.78 L166.38 207.52 L167.45 208.4 L168.51 208.81 L169.57 208.4 L170.64 207.99 L171.7 206.81 L172.77 208.13 L173.83 208.56 L174.9 208.59 L175.96 209.3 L177.02 209.5 L178.09 208.24 L179.15 207.29 L180.22 208.45 L181.28 208.23 L182.35 210.34 L183.41 208.27 L184.47 209.93 L185.54 208.81 L186.6 209.05 L187.67 209.48 L188.73 209.67 L189.8 208.84 L190.86 209.23 L191.92 208.68 L192.99 208.09 L194.05 207.46 L195.12 208.74 L196.18 209.25 L197.25 208.53 L198.31 209.13 L199.37 209.08 L200.44 209.84 L201.5 209.8 L202.57 209.05 L203.63 208.43 L204.69 209.03" fill="none" stroke="#ea492f" stroke-width="0.95" stroke-linejoin="round"/>
<path d="M55.7 206.8 L56.76 207.97 L57.83 210.94 L58.89 212.74 L59.96 213.9 L61.02 216.11 L62.09 217.49 L63.15 218.79 L64.21 219.54 L65.28 220.77 L66.34 220.75 L67.41 221.83 L68.47 221.27 L69.54 221.78 L70.6 220.94 L71.66 219.81 L72.73 220.91 L73.79 221.6 L74.86 220.88 L75.92 220.56 L76.98 219.97 L78.05 221.89 L79.11 221.09 L80.18 221.22 L81.24 221.06 L82.31 220.28 L83.37 219.83 L84.43 218.75 L85.5 217.98 L86.56 215.51 L87.63 213.33 L88.69 211.54 L89.76 208.42 L90.82 205.74 L91.88 203.98 L92.95 201.1 L94.01 199.13 L95.08 197.68 L96.14 196.07 L97.21 195.95 L98.27 195.23 L99.33 195.58 L100.4 195.67 L101.46 196.09 L102.53 196.48 L103.59 197.6 L104.66 197.76 L105.72 197.79 L106.78 198.63 L107.85 199.56 L108.91 199.67 L109.98 200.21 L111.04 199.92 L112.11 200.43 L113.17 201.24 L114.23 201.18 L115.3 200.76 L116.36 200.68 L117.43 201.15 L118.49 200.62 L119.56 201.8 L120.62 200.46 L121.68 202.1 L122.75 200.78 L123.81 202.49 L124.88 202.98 L125.94 203.41 L127 203.03 L128.07 202.84 L129.13 201.88 L130.2 202.45 L131.26 202.3 L132.33 203.54 L133.39 201.92 L134.45 202.42 L135.52 203.44 L136.58 203.42 L137.65 202.7 L138.71 203.9 L139.78 203.71 L140.84 202.67 L141.9 203.9 L142.97 204.64 L144.03 203.77 L145.1 206.18 L146.16 204.54 L147.23 204.68 L148.29 204.35 L149.35 205.75 L150.42 205.25 L151.48 205.64 L152.55 206.22 L153.61 206.77 L154.68 206.33 L155.74 207.17 L156.8 207.35 L157.87 207.52 L158.93 206.62 L160 208.26 L161.06 207.7 L162.12 207.38 L163.19 207.24 L164.25 207.5 L165.32 209.68 L166.38 207.72 L167.45 207.68 L168.51 206.38 L169.57 209.55 L170.64 209.46 L171.7 207.3 L172.77 209.43 L173.83 209.14 L174.9 208.34 L175.96 208.52 L177.02 208.26 L178.09 209.29 L179.15 207.92 L180.22 208.14 L181.28 208.44 L182.35 208.89 L183.41 208.97 L184.47 209.98 L185.54 209.83 L186.6 209.07 L187.67 209.41 L188.73 209.31 L189.8 209.57 L190.86 208.36 L191.92 208.96 L192.99 207.99 L194.05 208.34 L195.12 209.55 L196.18 208.86 L197.25 208.7 L198.31 209.73 L199.37 209.52 L200.44 209.27 L201.5 209.11 L202.57 209.67 L203.63 208.83 L204.69 207.84" fill="none" stroke="#ec4e32" stroke-width="0.95" stroke-linejoin="round"/>
<path d="M55.7 205.74 L56.76 208.24 L57.83 211.15 L58.89 211.86 L59.96 212.83 L61.02 214.86 L62.09 216.36 L63.15 217.71 L64.21 218.61 L65.28 219.55 L66.34 220 L67.41 219.96 L68.47 219.64 L69.54 220.03 L70.6 219.36 L71.66 219.86 L72.73 219.47 L73.79 218.51 L74.86 219.23 L75.92 220.17 L76.98 219.13 L78.05 219.61 L79.11 219.95 L80.18 219.7 L81.24 219.49 L82.31 219.29 L83.37 219.08 L84.43 218.37 L85.5 217.03 L86.56 214.74 L87.63 212.76 L88.69 211.66 L89.76 209.92 L90.82 207.87 L91.88 206.16 L92.95 203.2 L94.01 201.28 L95.08 200.14 L96.14 199.77 L97.21 198.93 L98.27 199.07 L99.33 198.4 L100.4 199.2 L101.46 199.56 L102.53 198.77 L103.59 199.75 L104.66 200.36 L105.72 200.23 L106.78 201 L107.85 201.21 L108.91 200.7 L109.98 201.05 L111.04 201.48 L112.11 201.67 L113.17 201.6 L114.23 202.05 L115.3 202.16 L116.36 202.38 L117.43 201.71 L118.49 202.35 L119.56 201.22 L120.62 201.51 L121.68 201.38 L122.75 201.62 L123.81 201.56 L124.88 202.9 L125.94 202.35 L127 202.92 L128.07 201.55 L129.13 202.62 L130.2 202.02 L131.26 202.27 L132.33 203.04 L133.39 203.79 L134.45 202.52 L135.52 204.06 L136.58 202.93 L137.65 202.61 L138.71 203.33 L139.78 203.88 L140.84 203.37 L141.9 204.46 L142.97 203.64 L144.03 203.97 L145.1 203.93 L146.16 204.65 L147.23 204.26 L148.29 205.39 L149.35 204.95 L150.42 204.86 L151.48 206.23 L152.55 206.31 L153.61 206.18 L154.68 207.23 L155.74 207.49 L156.8 207.2 L157.87 207.24 L158.93 208.14 L160 208.04 L161.06 208.28 L162.12 207.88 L163.19 207.95 L164.25 207.15 L165.32 207.75 L166.38 206.68 L167.45 207.83 L168.51 208.66 L169.57 208.49 L170.64 208.1 L171.7 207.99 L172.77 208.29 L173.83 208.84 L174.9 208.65 L175.96 208 L177.02 210.16 L178.09 209.56 L179.15 209.27 L180.22 208.3 L181.28 207.05 L182.35 210.11 L183.41 208.56 L184.47 208.41 L185.54 208.89 L186.6 209.13 L187.67 209.4 L188.73 208.5 L189.8 209.03 L190.86 209.49 L191.92 210.27 L192.99 208.79 L194.05 208.35 L195.12 208.41 L196.18 209.92 L197.25 209.64 L198.31 209.73 L199.37 209.12 L200.44 208.71 L201.5 209.71 L202.57 209.45 L203.63 209.4 L204.69 209.72" fill="none" stroke="#ee5435" stroke-width="0.95" stroke-linejoin="round"/>
<path d="M55.7 206.37 L56.76 208.15 L57.83 209.94 L58.89 211.89 L59.96 212.26 L61.02 214.08 L62.09 214.79 L63.15 216.06 L64.21 217.13 L65.28 217.46 L66.34 218.25 L67.41 218.28 L68.47 218.7 L69.54 217.95 L70.6 218.31 L71.66 218.65 L72.73 217.74 L73.79 218.5 L74.86 218.31 L75.92 219.03 L76.98 218.75 L78.05 217.89 L79.11 218.72 L80.18 218.37 L81.24 218.63 L82.31 218.71 L83.37 217.26 L84.43 216.77 L85.5 215.86 L86.56 214.65 L87.63 212.82 L88.69 211.83 L89.76 209.88 L90.82 208.9 L91.88 207.65 L92.95 205.24 L94.01 203.92 L95.08 202.52 L96.14 202.35 L97.21 201.91 L98.27 201.03 L99.33 201.22 L100.4 200.82 L101.46 201.79 L102.53 201.29 L103.59 201.5 L104.66 202.29 L105.72 202.47 L106.78 202.06 L107.85 203.54 L108.91 203.07 L109.98 203.34 L111.04 203.08 L112.11 202.76 L113.17 203.31 L114.23 203.62 L115.3 202.9 L116.36 203.16 L117.43 201.36 L118.49 202.69 L119.56 202.81 L120.62 203.06 L121.68 202.55 L122.75 202.46 L123.81 202.62 L124.88 203.61 L125.94 202.52 L127 203 L128.07 203.36 L129.13 202.71 L130.2 202.52 L131.26 204.03 L132.33 203.29 L133.39 203.9 L134.45 203.23 L135.52 202.46 L136.58 202.26 L137.65 202.32 L138.71 203.62 L139.78 203.59 L140.84 203.06 L141.9 203.76 L142.97 204.01 L144.03 204.29 L145.1 204.36 L146.16 203.69 L147.23 206.12 L148.29 205.21 L149.35 205.28 L150.42 205.04 L151.48 206.27 L152.55 205.79 L153.61 206.67 L154.68 207.15 L155.74 207.73 L156.8 206.36 L157.87 206.33 L158.93 206.81 L160 207.96 L161.06 207.38 L162.12 207.83 L163.19 207.4 L164.25 206.91 L165.32 206.92 L166.38 207.9 L167.45 207.33 L168.51 207.57 L169.57 207.09 L170.64 208.3 L171.7 208.95 L172.77 207.57 L173.83 208.23 L174.9 208.77 L175.96 208.34 L177.02 208.66 L178.09 209.36 L179.15 208.39 L180.22 209.46 L181.28 208.83 L182.35 207.68 L183.41 208.43 L184.47 208.79 L185.54 209.22 L186.6 208.81 L187.67 209.41 L188.73 209.49 L189.8 207.82 L190.86 209.6 L191.92 208.73 L192.99 209.04 L194.05 209.64 L195.12 210.02 L196.18 209.11 L197.25 208.64 L198.31 207.76 L199.37 209.37 L200.44 209.89 L201.5 208.54 L202.57 208.39 L203.63 209.48 L204.69 210.6" fill="none" stroke="#f05b36" stroke-width="0.95" stroke-linejoin="round"/>
<path d="M55.7 205.52 L56.76 208.09 L57.83 209.42 L58.89 210.46 L59.96 211.9 L61.02 212.86 L62.09 213.9 L63.15 215.04 L64.21 214.69 L65.28 216.39 L66.34 217.1 L67.41 217.28 L68.47 217.25 L69.54 217.37 L70.6 217 L71.66 216.45 L72.73 217.31 L73.79 216.56 L74.86 216.89 L75.92 216.77 L76.98 217.29 L78.05 217.09 L79.11 217.1 L80.18 217.53 L81.24 217.21 L82.31 217.54 L83.37 216.89 L84.43 216.56 L85.5 215.14 L86.56 214.74 L87.63 213.5 L88.69 212.32 L89.76 210.93 L90.82 209.81 L91.88 207.93 L92.95 207.02 L94.01 206.07 L95.08 204.79 L96.14 204.5 L97.21 203.45 L98.27 204.15 L99.33 203.65 L100.4 203.19 L101.46 203.1 L102.53 203.46 L103.59 203.04 L104.66 203.6 L105.72 204.26 L106.78 203.86 L107.85 204.23 L108.91 203.97 L109.98 204.27 L111.04 203.88 L112.11 203.65 L113.17 203.94 L114.23 203.62 L115.3 204.37 L116.36 203.99 L117.43 203.63 L118.49 203.9 L119.56 203.24 L120.62 204.59 L121.68 203.02 L122.75 203.08 L123.81 202.62 L124.88 204.02 L125.94 203.25 L127 202.16 L128.07 202.85 L129.13 203.13 L130.2 203.75 L131.26 203.01 L132.33 203.95 L133.39 203.04 L134.45 203.72 L135.52 201.45 L136.58 202.42 L137.65 203.09 L138.71 202.83 L139.78 202.96 L140.84 202.67 L141.9 202.64 L142.97 205.16 L144.03 204.06 L145.1 203.96 L146.16 203.18 L147.23 203.56 L148.29 205.38 L149.35 205.26 L150.42 205.85 L151.48 205.15 L152.55 206.66 L153.61 206.94 L154.68 206.52 L155.74 207.5 L156.8 206.48 L157.87 207.92 L158.93 207.44 L160 207.47 L161.06 207.58 L162.12 206.98 L163.19 206.62 L164.25 208.46 L165.32 207.88 L166.38 208.55 L167.45 207.64 L168.51 207.71 L169.57 207.3 L170.64 207.68 L171.7 208.59 L172.77 206.36 L173.83 207.61 L174.9 207.94 L175.96 208.69 L177.02 208.28 L178.09 208.3 L179.15 209.89 L180.22 209.59 L181.28 208.83 L182.35 208.33 L183.41 208.43 L184.47 209.04 L185.54 210.35 L186.6 208.58 L187.67 210.11 L188.73 208.63 L189.8 207.81 L190.86 208.76 L191.92 208.92 L192.99 210.12 L194.05 209.46 L195.12 209.75 L196.18 209.88 L197.25 209.37 L198.31 209.87 L199.37 208.78 L200.44 209.15 L201.5 210.19 L202.57 209.8 L203.63 210 L204.69 208.92" fill="none" stroke="#f16235" stroke-width="0.95" stroke-linejoin="round"/>
<path d="M55.7 205.43 L56.76 207.71 L57.83 209.12 L58.89 210 L59.96 210.92 L61.02 212.03 L62.09 212.72 L63.15 214.02 L64.21 215.18 L65.28 215.07 L66.34 215.52 L67.41 215.37 L68.47 215.84 L69.54 215.45 L70.6 216.61 L71.66 216 L72.73 215.99 L73.79 216.39 L74.86 215.58 L75.92 216.12 L76.98 216.29 L78.05 216 L79.11 215.8 L80.18 216.1 L81.24 216.31 L82.31 216.18 L83.37 215.49 L84.43 215.05 L85.5 214.65 L86.56 213.91 L87.63 213.86 L88.69 212.38 L89.76 211.8 L90.82 210.11 L91.88 209.75 L92.95 208.54 L94.01 207.72 L95.08 207.75 L96.14 207.1 L97.21 206.85 L98.27 206.18 L99.33 205.87 L100.4 205.48 L101.46 205.3 L102.53 205.68 L103.59 205.68 L104.66 205.67 L105.72 206.38 L106.78 206.12 L107.85 205.89 L108.91 205.96 L109.98 205.21 L111.04 204.69 L112.11 204.98 L113.17 204.96 L114.23 205.47 L115.3 204.31 L116.36 204.76 L117.43 203.29 L118.49 203.81 L119.56 202.53 L120.62 204.08 L121.68 203.81 L122.75 203.97 L123.81 204.43 L124.88 205.12 L125.94 204.1 L127 203 L128.07 204.33 L129.13 204.15 L130.2 203.54 L131.26 203.87 L132.33 203.18 L133.39 202.66 L134.45 203.4 L135.52 204.02 L136.58 202.86 L137.65 203.31 L138.71 202.98 L139.78 202.87 L140.84 202.92 L141.9 203.87 L142.97 204.26 L144.03 204.44 L145.1 204.73 L146.16 204.64 L147.23 203.96 L148.29 204.25 L149.35 205.83 L150.42 205.36 L151.48 206.02 L152.55 206.16 L153.61 206.4 L154.68 207.19 L155.74 207.06 L156.8 206.56 L157.87 206.14 L158.93 206.94 L160 207.85 L161.06 208.33 L162.12 208.65 L163.19 207.27 L164.25 208.17 L165.32 207.14 L166.38 207.41 L167.45 208.18 L168.51 208.35 L169.57 207.77 L170.64 206.46 L171.7 207.55 L172.77 207.6 L173.83 209.23 L174.9 207.08 L175.96 208.45 L177.02 207.72 L178.09 207.78 L179.15 208.92 L180.22 208.82 L181.28 208.95 L182.35 209.13 L183.41 208.87 L184.47 209.35 L185.54 208.98 L186.6 209.26 L187.67 208.45 L188.73 208.47 L189.8 209.93 L190.86 209.81 L191.92 208.62 L192.99 208.63 L194.05 208.53 L195.12 210.15 L196.18 208.67 L197.25 210.04 L198.31 208.98 L199.37 209.98 L200.44 210.16 L201.5 209.21 L202.57 209.2 L203.63 209.75 L204.69 209.58" fill="none" stroke="#f26934" stroke-width="0.95" stroke-linejoin="round"/>
<path d="M55.7 204.9 L56.76 207.08 L57.83 208.29 L58.89 209.42 L59.96 211.83 L61.02 211.73 L62.09 212.58 L63.15 213.88 L64.21 214.05 L65.28 214.82 L66.34 215.28 L67.41 215.23 L68.47 215.15 L69.54 215.51 L70.6 214.97 L71.66 214.91 L72.73 215.45 L73.79 215.77 L74.86 215.91 L75.92 215.9 L76.98 215.9 L78.05 215.33 L79.11 215.37 L80.18 215.41 L81.24 215.1 L82.31 215.65 L83.37 214.49 L84.43 214.83 L85.5 214.49 L86.56 214.01 L87.63 213.48 L88.69 212.37 L89.76 211.84 L90.82 211.54 L91.88 210.19 L92.95 210.3 L94.01 209.46 L95.08 208.34 L96.14 208.31 L97.21 208.14 L98.27 207.38 L99.33 207.08 L100.4 206.67 L101.46 206.82 L102.53 207.07 L103.59 206.66 L104.66 206.5 L105.72 207.81 L106.78 205.48 L107.85 206.38 L108.91 206.26 L109.98 205.72 L111.04 205.88 L112.11 206.17 L113.17 205.38 L114.23 204.61 L115.3 205.3 L116.36 205.84 L117.43 203.42 L118.49 205.5 L119.56 205.04 L120.62 204.63 L121.68 203.42 L122.75 204.5 L123.81 206.11 L124.88 203.62 L125.94 204.77 L127 203.17 L128.07 203.54 L129.13 202.96 L130.2 202.92 L131.26 202.68 L132.33 204.16 L133.39 203 L134.45 203.01 L135.52 204.06 L136.58 203.96 L137.65 202.78 L138.71 203.19 L139.78 202.98 L140.84 203.09 L141.9 202.64 L142.97 203.73 L144.03 204.96 L145.1 204.91 L146.16 204.24 L147.23 204.2 L148.29 205.31 L149.35 205.71 L150.42 205.54 L151.48 206.43 L152.55 206.76 L153.61 206.75 L154.68 207.83 L155.74 205.65 L156.8 206.75 L157.87 207.55 L158.93 207.99 L160 207.54 L161.06 207.29 L162.12 207.03 L163.19 208.19 L164.25 207.11 L165.32 207.14 L166.38 208.27 L167.45 208.35 L168.51 207.73 L169.57 207.32 L170.64 207.83 L171.7 207.98 L172.77 209.1 L173.83 207.19 L174.9 207.78 L175.96 207.67 L177.02 209.51 L178.09 208.75 L179.15 209.41 L180.22 208.97 L181.28 208.37 L182.35 209.19 L183.41 208.94 L184.47 208.74 L185.54 208.19 L186.6 208.98 L187.67 209.32 L188.73 208.94 L189.8 208.76 L190.86 208.86 L191.92 209.83 L192.99 209.44 L194.05 208.4 L195.12 209.34 L196.18 210.07 L197.25 210.21 L198.31 209.92 L199.37 210.17 L200.44 209.62 L201.5 210.49 L202.57 208.82 L203.63 208.68 L204.69 209.76" fill="none" stroke="#f27034" stroke-width="0.95" stroke-linejoin="round"/>
<path d="M55.7 206.1 L56.76 207.5 L57.83 208.09 L58.89 209.35 L59.96 210.92 L61.02 211.18 L62.09 212.35 L63.15 213.63 L64.21 214.35 L65.28 214.46 L66.34 214.89 L67.41 214.3 L68.47 214.81 L69.54 215.37 L70.6 215.02 L71.66 215.16 L72.73 215.61 L73.79 215.59 L74.86 215.27 L75.92 215.41 L76.98 215.79 L78.05 215.34 L79.11 215.5 L80.18 216.16 L81.24 215.02 L82.31 214.97 L83.37 215.07 L84.43 214.88 L85.5 214.59 L86.56 213.97 L87.63 213.8 L88.69 213.24 L89.76 212.06 L90.82 211.45 L91.88 211.13 L92.95 210.11 L94.01 210.35 L95.08 209.36 L96.14 209.02 L97.21 208.54 L98.27 207.61 L99.33 207.79 L100.4 207.54 L101.46 206.87 L102.53 207.74 L103.59 207.27 L104.66 207.35 L105.72 207.12 L106.78 206.88 L107.85 206.22 L108.91 206.66 L109.98 206.27 L111.04 206.37 L112.11 206.27 L113.17 205.62 L114.23 205.72 L115.3 205.29 L116.36 204.76 L117.43 204.53 L118.49 205.96 L119.56 204.45 L120.62 204.92 L121.68 205.05 L122.75 203.9 L123.81 205.73 L124.88 204.49 L125.94 204.08 L127 204.9 L128.07 202.81 L129.13 202.45 L130.2 202.87 L131.26 204.01 L132.33 203.83 L133.39 204.75 L134.45 202.59 L135.52 203.74 L136.58 203.82 L137.65 203.35 L138.71 203.07 L139.78 203.1 L140.84 203.31 L141.9 203.51 L142.97 203.41 L144.03 204.11 L145.1 204.35 L146.16 203.4 L147.23 204.46 L148.29 204.61 L149.35 206.69 L150.42 205.4 L151.48 205.5 L152.55 206.1 L153.61 205.95 L154.68 206.55 L155.74 206.55 L156.8 207.83 L157.87 206.69 L158.93 207.81 L160 208.3 L161.06 206.8 L162.12 208.18 L163.19 206.6 L164.25 207.75 L165.32 207.67 L166.38 206.87 L167.45 207.51 L168.51 208.63 L169.57 206.28 L170.64 207.27 L171.7 207.86 L172.77 208.21 L173.83 208.86 L174.9 208.69 L175.96 209.11 L177.02 208.62 L178.09 208.53 L179.15 209.65 L180.22 209.41 L181.28 209.51 L182.35 209.21 L183.41 208.73 L184.47 208.84 L185.54 208.68 L186.6 209.56 L187.67 209.44 L188.73 209.4 L189.8 209.17 L190.86 208.96 L191.92 208.72 L192.99 209.25 L194.05 209.57 L195.12 209.09 L196.18 210.82 L197.25 208.66 L198.31 209.35 L199.37 209.29 L200.44 210.08 L201.5 208.92 L202.57 209.49 L203.63 209.27 L204.69 209.72" fill="none" stroke="#f37733" stroke-width="0.95" stroke-linejoin="round"/>
<path d="M55.7 205.84 L56.76 206.13 L57.83 208.89 L58.89 209.99 L59.96 210.97 L61.02 211.5 L62.09 212.44 L63.15 213.49 L64.21 213.94 L65.28 213.9 L66.34 214.81 L67.41 214.55 L68.47 215.33 L69.54 214.63 L70.6 215.08 L71.66 214.15 L72.73 215.07 L73.79 214.76 L74.86 214.87 L75.92 214.68 L76.98 214.86 L78.05 214.86 L79.11 214.79 L80.18 215.4 L81.24 214.66 L82.31 215.05 L83.37 214.69 L84.43 213.87 L85.5 214.42 L86.56 214.44 L87.63 213.18 L88.69 212.89 L89.76 212.41 L90.82 212.42 L91.88 211.48 L92.95 210.61 L94.01 210.56 L95.08 209.3 L96.14 210.33 L97.21 209.61 L98.27 208.61 L99.33 208.23 L100.4 208.2 L101.46 208.09 L102.53 208.78 L103.59 208.17 L104.66 207.92 L105.72 207.27 L106.78 207.02 L107.85 207.21 L108.91 207.01 L109.98 207.09 L111.04 205.9 L112.11 207.04 L113.17 206.67 L114.23 205.64 L115.3 205.45 L116.36 205.45 L117.43 204.36 L118.49 204.17 L119.56 205.05 L120.62 203.74 L121.68 204.95 L122.75 204.29 L123.81 203.4 L124.88 204.9 L125.94 205.25 L127 204.1 L128.07 204.51 L129.13 204.16 L130.2 205.45 L131.26 203.31 L132.33 204.01 L133.39 204.57 L134.45 203.76 L135.52 203.64 L136.58 203.05 L137.65 204.35 L138.71 203.28 L139.78 203.08 L140.84 203.35 L141.9 203.96 L142.97 204.02 L144.03 203.12 L145.1 204.98 L146.16 204.9 L147.23 204.47 L148.29 204.39 L149.35 205.18 L150.42 205.04 L151.48 204.9 L152.55 206.87 L153.61 206.45 L154.68 206.38 L155.74 206.68 L156.8 206.88 L157.87 206.79 L158.93 206.81 L160 206.92 L161.06 208.08 L162.12 207.63 L163.19 208.12 L164.25 207.15 L165.32 206.96 L166.38 207.39 L167.45 207.74 L168.51 207.87 L169.57 208.57 L170.64 209.18 L171.7 206.48 L172.77 208.48 L173.83 208.56 L174.9 207.97 L175.96 208.38 L177.02 208.58 L178.09 209.16 L179.15 209.5 L180.22 207.97 L181.28 208.73 L182.35 208.54 L183.41 209.8 L184.47 209.54 L185.54 208.78 L186.6 208.67 L187.67 209.01 L188.73 207.96 L189.8 209.28 L190.86 208.6 L191.92 208.14 L192.99 208.84 L194.05 209.19 L195.12 209.54 L196.18 209 L197.25 208.86 L198.31 210.33 L199.37 209.22 L200.44 210.22 L201.5 210.28 L202.57 210.51 L203.63 209.12 L204.69 210.32" fill="none" stroke="#f47f32" stroke-width="0.95" stroke-linejoin="round"/>
<path d="M55.7 205.46 L56.76 206.98 L57.83 208.76 L58.89 209.39 L59.96 210.64 L61.02 211.78 L62.09 212.83 L63.15 212.94 L64.21 214.14 L65.28 214.57 L66.34 215.37 L67.41 214.45 L68.47 214.47 L69.54 214.19 L70.6 215.52 L71.66 215.35 L72.73 214.52 L73.79 215.54 L74.86 214.91 L75.92 215.48 L76.98 215.09 L78.05 214.86 L79.11 215.71 L80.18 215.18 L81.24 215.51 L82.31 215.91 L83.37 214.78 L84.43 214.73 L85.5 214.52 L86.56 213.79 L87.63 213.7 L88.69 213.09 L89.76 212.5 L90.82 211.8 L91.88 211.8 L92.95 211.11 L94.01 210.55 L95.08 210.2 L96.14 209.87 L97.21 209.76 L98.27 209.03 L99.33 209.1 L100.4 208.4 L101.46 208.53 L102.53 207.77 L103.59 207.38 L104.66 208.1 L105.72 208.22 L106.78 208.22 L107.85 206.94 L108.91 206.48 L109.98 207.25 L111.04 206.38 L112.11 207.31 L113.17 205.89 L114.23 205.52 L115.3 205.57 L116.36 204.87 L117.43 205.48 L118.49 204.57 L119.56 205.08 L120.62 204.61 L121.68 206.09 L122.75 204.99 L123.81 204.95 L124.88 204.34 L125.94 204.43 L127 205.01 L128.07 204.36 L129.13 204.35 L130.2 204.9 L131.26 205.83 L132.33 204.52 L133.39 204.84 L134.45 204.2 L135.52 204.73 L136.58 202.62 L137.65 203.39 L138.71 201.75 L139.78 201.16 L140.84 203.7 L141.9 204.23 L142.97 202.88 L144.03 204.99 L145.1 204.95 L146.16 204.29 L147.23 204.1 L148.29 203.93 L149.35 205.7 L150.42 206.57 L151.48 205.75 L152.55 205.23 L153.61 205.32 L154.68 207.16 L155.74 207.21 L156.8 207.03 L157.87 207.34 L158.93 207.46 L160 207.95 L161.06 207.15 L162.12 206.55 L163.19 207.97 L164.25 207.03 L165.32 207.08 L166.38 207.95 L167.45 208.11 L168.51 207.99 L169.57 208.02 L170.64 208.12 L171.7 208.98 L172.77 207.07 L173.83 209.05 L174.9 208.55 L175.96 208.41 L177.02 209.22 L178.09 209.62 L179.15 208.93 L180.22 209.51 L181.28 209.95 L182.35 208.42 L183.41 209.48 L184.47 209.4 L185.54 208.38 L186.6 208.49 L187.67 209.6 L188.73 207.79 L189.8 208.84 L190.86 209.79 L191.92 209.2 L192.99 209.11 L194.05 210.22 L195.12 209.5 L196.18 208.74 L197.25 208.95 L198.31 209.82 L199.37 208.85 L200.44 209.94 L201.5 209.78 L202.57 209.57 L203.63 209.86 L204.69 209.52" fill="none" stroke="#f58530" stroke-width="0.95" stroke-linejoin="round"/>
<path d="M55.7 206.02 L56.76 207.5 L57.83 208.68 L58.89 208.81 L59.96 211.28 L61.02 211.03 L62.09 212.36 L63.15 213.62 L64.21 213.8 L65.28 214.1 L66.34 214.05 L67.41 214.99 L68.47 214.6 L69.54 214.62 L70.6 215.14 L71.66 215.16 L72.73 215.1 L73.79 215.3 L74.86 214.93 L75.92 215.38 L76.98 215.1 L78.05 215.34 L79.11 214.93 L80.18 215.65 L81.24 215.1 L82.31 215.46 L83.37 215.39 L84.43 215.18 L85.5 214.48 L86.56 214.71 L87.63 213.74 L88.69 213.87 L89.76 211.8 L90.82 211.86 L91.88 212.27 L92.95 210.96 L94.01 210.49 L95.08 210.85 L96.14 210.43 L97.21 210.22 L98.27 209.05 L99.33 209.03 L100.4 208.8 L101.46 207.77 L102.53 208.53 L103.59 208.69 L104.66 207.52 L105.72 207.65 L106.78 207.09 L107.85 207.66 L108.91 207.53 L109.98 206.94 L111.04 207.03 L112.11 206.49 L113.17 206.08 L114.23 206.34 L115.3 206.2 L116.36 206.09 L117.43 206.07 L118.49 206.21 L119.56 205.44 L120.62 205.29 L121.68 205.79 L122.75 204.99 L123.81 205.55 L124.88 204.42 L125.94 205.12 L127 204.62 L128.07 204.38 L129.13 203.92 L130.2 205.1 L131.26 204.81 L132.33 204.31 L133.39 204.83 L134.45 205.23 L135.52 203.73 L136.58 203.47 L137.65 203.42 L138.71 204.5 L139.78 202.91 L140.84 204.06 L141.9 203.71 L142.97 203.65 L144.03 205.02 L145.1 207.1 L146.16 205.16 L147.23 204.93 L148.29 205 L149.35 206.58 L150.42 205.47 L151.48 205.69 L152.55 205.82 L153.61 206.9 L154.68 207.21 L155.74 207.19 L156.8 206.67 L157.87 207.43 L158.93 207.96 L160 207.65 L161.06 206.96 L162.12 207.86 L163.19 208.35 L164.25 208.64 L165.32 207.47 L166.38 208.48 L167.45 207.35 L168.51 208.76 L169.57 208.43 L170.64 207.53 L171.7 209 L172.77 208.62 L173.83 208.75 L174.9 209.13 L175.96 208.07 L177.02 209.88 L178.09 208.35 L179.15 208.01 L180.22 208.7 L181.28 208.53 L182.35 209.07 L183.41 209.26 L184.47 208.7 L185.54 209.22 L186.6 208.68 L187.67 209.83 L188.73 210.63 L189.8 209.55 L190.86 210.15 L191.92 207.97 L192.99 209.31 L194.05 210 L195.12 210.41 L196.18 209.13 L197.25 208.9 L198.31 209.2 L199.37 209.95 L200.44 208.61 L201.5 208.57 L202.57 209.84 L203.63 208.74 L204.69 208.45" fill="none" stroke="#f58a2e" stroke-width="0.95" stroke-linejoin="round"/>
<path d="M55.7 205.07 L56.76 207.25 L57.83 208.68 L58.89 209.05 L59.96 210.35 L61.02 211.25 L62.09 212.46 L63.15 213.47 L64.21 213.81 L65.28 213.61 L66.34 214.66 L67.41 214.82 L68.47 214.74 L69.54 214.54 L70.6 214 L71.66 215.18 L72.73 214.84 L73.79 214.84 L74.86 215.71 L75.92 215.3 L76.98 216.05 L78.05 215.69 L79.11 215.33 L80.18 214.79 L81.24 214.75 L82.31 214.41 L83.37 214.82 L84.43 214.39 L85.5 214.22 L86.56 214.18 L87.63 213.98 L88.69 212.5 L89.76 212.67 L90.82 211.88 L91.88 211.02 L92.95 211.73 L94.01 211.14 L95.08 209.96 L96.14 210.54 L97.21 210.16 L98.27 209.54 L99.33 209.36 L100.4 209.06 L101.46 208.99 L102.53 208.53 L103.59 208.54 L104.66 208.06 L105.72 207.63 L106.78 207.71 L107.85 208 L108.91 207.68 L109.98 207.21 L111.04 207.29 L112.11 207.32 L113.17 206.88 L114.23 206.62 L115.3 206.51 L116.36 205.93 L117.43 205.78 L118.49 205.65 L119.56 205.42 L120.62 206.35 L121.68 204.95 L122.75 205.98 L123.81 206.34 L124.88 205.44 L125.94 205.58 L127 205.83 L128.07 205.43 L129.13 204.45 L130.2 205.71 L131.26 205.84 L132.33 206.23 L133.39 204.56 L134.45 204.72 L135.52 204.51 L136.58 205.14 L137.65 205.37 L138.71 205.15 L139.78 203.02 L140.84 204.66 L141.9 204.23 L142.97 205.38 L144.03 205.8 L145.1 205.08 L146.16 205.5 L147.23 205.31 L148.29 205.58 L149.35 205.13 L150.42 206.2 L151.48 207.1 L152.55 207.44 L153.61 207.07 L154.68 206.87 L155.74 206.77 L156.8 207.8 L157.87 207.81 L158.93 207.02 L160 209.02 L161.06 208.15 L162.12 208.33 L163.19 207.98 L164.25 206.83 L165.32 207.36 L166.38 207.64 L167.45 208.95 L168.51 207.84 L169.57 206.92 L170.64 209.26 L171.7 208.34 L172.77 207.76 L173.83 208.43 L174.9 208.41 L175.96 209.87 L177.02 208.67 L178.09 209.58 L179.15 209 L180.22 207.81 L181.28 207.9 L182.35 209.92 L183.41 210.52 L184.47 209.39 L185.54 207.87 L186.6 209.11 L187.67 209.08 L188.73 208.86 L189.8 210.08 L190.86 208.88 L191.92 209.32 L192.99 208.88 L194.05 208.87 L195.12 210.01 L196.18 210.33 L197.25 208.95 L198.31 210.16 L199.37 210.53 L200.44 209.69 L201.5 209.2 L202.57 208.61 L203.63 209.07 L204.69 209.56" fill="none" stroke="#f68f2c" stroke-width="0.95" stroke-linejoin="round"/>
<path d="M55.7 205.79 L56.76 207.79 L57.83 208.67 L58.89 209.45 L59.96 210.86 L61.02 212.03 L62.09 211.59 L63.15 212.99 L64.21 213.64 L65.28 214.05 L66.34 214.01 L67.41 214.51 L68.47 215.05 L69.54 214.71 L70.6 214.65 L71.66 215.03 L72.73 214.82 L73.79 215.09 L74.86 214.87 L75.92 214.18 L76.98 214.56 L78.05 215.43 L79.11 215.42 L80.18 214.99 L81.24 214.94 L82.31 214.51 L83.37 214.67 L84.43 214.16 L85.5 214.18 L86.56 213.58 L87.63 213.3 L88.69 213.23 L89.76 213.03 L90.82 213.21 L91.88 211.56 L92.95 212.18 L94.01 210.73 L95.08 210.69 L96.14 210.57 L97.21 209.75 L98.27 209.84 L99.33 209.16 L100.4 208.43 L101.46 209.29 L102.53 208.52 L103.59 209.11 L104.66 209.22 L105.72 209.21 L106.78 208.47 L107.85 208.14 L108.91 208.35 L109.98 207.9 L111.04 207.74 L112.11 207.21 L113.17 207.44 L114.23 206.59 L115.3 207.27 L116.36 206.99 L117.43 206.32 L118.49 206.25 L119.56 207.27 L120.62 206.07 L121.68 206.56 L122.75 205.98 L123.81 205.78 L124.88 207.14 L125.94 206.12 L127 206.23 L128.07 205.79 L129.13 206.65 L130.2 205.87 L131.26 205.06 L132.33 207.54 L133.39 206.22 L134.45 205.67 L135.52 205.45 L136.58 205.26 L137.65 204.83 L138.71 205.11 L139.78 205.18 L140.84 204.66 L141.9 204.84 L142.97 206.74 L144.03 205.29 L145.1 206.71 L146.16 204.64 L147.23 206.5 L148.29 206.6 L149.35 206.07 L150.42 204.97 L151.48 207.27 L152.55 207.5 L153.61 207.03 L154.68 207.51 L155.74 207.96 L156.8 207.41 L157.87 207.97 L158.93 207.77 L160 208.85 L161.06 209.3 L162.12 207.85 L163.19 208.11 L164.25 207.19 L165.32 208.08 L166.38 207.17 L167.45 208.94 L168.51 208.97 L169.57 208.21 L170.64 209.15 L171.7 209.21 L172.77 209.61 L173.83 207.99 L174.9 209.28 L175.96 208.22 L177.02 208.71 L178.09 208.26 L179.15 209.68 L180.22 208.6 L181.28 208.25 L182.35 209.2 L183.41 209.52 L184.47 208.73 L185.54 208.61 L186.6 209.24 L187.67 209.16 L188.73 208.45 L189.8 210.45 L190.86 208.86 L191.92 209.44 L192.99 209.1 L194.05 209.41 L195.12 209.3 L196.18 209.95 L197.25 211.12 L198.31 209.5 L199.37 209.49 L200.44 210.01 L201.5 209.48 L202.57 210.1 L203.63 209.69 L204.69 209.53" fill="none" stroke="#f6942a" stroke-width="0.95" stroke-linejoin="round"/>
<path d="M55.7 205.96 L56.76 207.43 L57.83 208.36 L58.89 209.73 L59.96 210.87 L61.02 212.06 L62.09 211.91 L63.15 212.54 L64.21 214.13 L65.28 213.75 L66.34 213.94 L67.41 213.94 L68.47 214.4 L69.54 214.17 L70.6 213.64 L71.66 214.79 L72.73 214.02 L73.79 214.48 L74.86 214.72 L75.92 214.49 L76.98 214.5 L78.05 214.95 L79.11 214.41 L80.18 214.66 L81.24 214.56 L82.31 214.76 L83.37 213.93 L84.43 214.25 L85.5 213.73 L86.56 214.33 L87.63 213.31 L88.69 213.52 L89.76 212.1 L90.82 211.52 L91.88 211.41 L92.95 211.17 L94.01 210.4 L95.08 210.91 L96.14 210.48 L97.21 209.11 L98.27 209.93 L99.33 209.76 L100.4 209.77 L101.46 209.38 L102.53 208.98 L103.59 209.03 L104.66 209.04 L105.72 208.67 L106.78 208.62 L107.85 208.5 L108.91 207.88 L109.98 207.44 L111.04 208.3 L112.11 208 L113.17 207.57 L114.23 207.54 L115.3 207.71 L116.36 207.64 L117.43 206.88 L118.49 207.42 L119.56 205.88 L120.62 207.86 L121.68 206.17 L122.75 206.74 L123.81 207.65 L124.88 206.47 L125.94 206.58 L127 206.77 L128.07 206.22 L129.13 207.14 L130.2 207.3 L131.26 205.91 L132.33 206.67 L133.39 206.21 L134.45 206.21 L135.52 206.25 L136.58 205.8 L137.65 206.12 L138.71 206.22 L139.78 206.73 L140.84 205.79 L141.9 206.49 L142.97 206.17 L144.03 206.22 L145.1 206.84 L146.16 206.8 L147.23 207.57 L148.29 206.76 L149.35 207.87 L150.42 208.27 L151.48 207.29 L152.55 208.07 L153.61 206.9 L154.68 209.43 L155.74 207.62 L156.8 208.37 L157.87 208.33 L158.93 208.69 L160 207.85 L161.06 208.98 L162.12 208.49 L163.19 208.06 L164.25 208.11 L165.32 208.53 L166.38 207.56 L167.45 207.59 L168.51 208.48 L169.57 208.73 L170.64 208.72 L171.7 210.12 L172.77 208.67 L173.83 209.16 L174.9 208.7 L175.96 209.21 L177.02 208.71 L178.09 208.61 L179.15 208.8 L180.22 209.8 L181.28 209.18 L182.35 209.33 L183.41 208.41 L184.47 209.79 L185.54 208.97 L186.6 209.47 L187.67 208.85 L188.73 208.81 L189.8 209.07 L190.86 208.49 L191.92 210.22 L192.99 210.69 L194.05 209.4 L195.12 208.61 L196.18 208.49 L197.25 209.57 L198.31 209.41 L199.37 208.18 L200.44 210.4 L201.5 209.18 L202.57 209.89 L203.63 208.59 L204.69 208.27" fill="none" stroke="#f79928" stroke-width="0.95" stroke-linejoin="round"/>
<path d="M55.7 206.31 L56.76 207.86 L57.83 208.89 L58.89 209.52 L59.96 210.25 L61.02 211.44 L62.09 211.29 L63.15 212.55 L64.21 212.76 L65.28 214.08 L66.34 213.28 L67.41 214.14 L68.47 214.14 L69.54 213.9 L70.6 214.2 L71.66 214.75 L72.73 214.56 L73.79 214.88 L74.86 214.52 L75.92 214.54 L76.98 214.03 L78.05 213.65 L79.11 214.65 L80.18 214.32 L81.24 214.67 L82.31 213.41 L83.37 214.33 L84.43 213.88 L85.5 213.8 L86.56 213.58 L87.63 212.46 L88.69 213.34 L89.76 212.43 L90.82 212.13 L91.88 211.56 L92.95 211.95 L94.01 211.62 L95.08 211.07 L96.14 211.13 L97.21 209.97 L98.27 210.04 L99.33 209.1 L100.4 209.94 L101.46 209.98 L102.53 209.47 L103.59 209.12 L104.66 209.29 L105.72 208.32 L106.78 208.85 L107.85 208.93 L108.91 208.91 L109.98 209.03 L111.04 209.01 L112.11 208.7 L113.17 208.04 L114.23 208.49 L115.3 207.36 L116.36 208.52 L117.43 207.59 L118.49 207.51 L119.56 206.05 L120.62 206.54 L121.68 207.71 L122.75 207.87 L123.81 207.29 L124.88 207.13 L125.94 207.34 L127 208.08 L128.07 208.06 L129.13 207.05 L130.2 207.65 L131.26 206.15 L132.33 208.04 L133.39 206.99 L134.45 208.1 L135.52 207.2 L136.58 206.36 L137.65 206.71 L138.71 207.58 L139.78 206.46 L140.84 208.14 L141.9 207.22 L142.97 207.66 L144.03 207.48 L145.1 207.58 L146.16 207.42 L147.23 207.44 L148.29 207.52 L149.35 207.29 L150.42 207.83 L151.48 207.5 L152.55 208.56 L153.61 208.15 L154.68 207.7 L155.74 206.82 L156.8 207.76 L157.87 207.03 L158.93 209.31 L160 208.23 L161.06 208.52 L162.12 208.95 L163.19 208.15 L164.25 209.12 L165.32 208.31 L166.38 208.49 L167.45 208.62 L168.51 209.4 L169.57 208.08 L170.64 209.89 L171.7 208.42 L172.77 209.7 L173.83 209.1 L174.9 210.19 L175.96 208.06 L177.02 210.29 L178.09 207.67 L179.15 208.84 L180.22 208.66 L181.28 209.36 L182.35 210.12 L183.41 210.3 L184.47 209.27 L185.54 209.66 L186.6 209.13 L187.67 209.8 L188.73 209.52 L189.8 209.93 L190.86 209.12 L191.92 209.85 L192.99 208.88 L194.05 209.04 L195.12 209.65 L196.18 209.18 L197.25 207.89 L198.31 209.73 L199.37 210.01 L200.44 210.49 L201.5 209.91 L202.57 209.95 L203.63 209.91 L204.69 209.46" fill="none" stroke="#f79e26" stroke-width="0.95" stroke-linejoin="round"/>
<path d="M55.7 205.75 L56.76 207.6 L57.83 209.28 L58.89 210.05 L59.96 211.29 L61.02 211.2 L62.09 211.88 L63.15 213.11 L64.21 213.03 L65.28 214.1 L66.34 213.31 L67.41 214.59 L68.47 214.29 L69.54 214.09 L70.6 214.1 L71.66 214.56 L72.73 214.1 L73.79 214.16 L74.86 214.18 L75.92 214.35 L76.98 213.95 L78.05 214.54 L79.11 214.03 L80.18 214.49 L81.24 214.7 L82.31 214.21 L83.37 214.09 L84.43 213.38 L85.5 213.96 L86.56 213.11 L87.63 212.67 L88.69 212.42 L89.76 211.93 L90.82 212.12 L91.88 211.85 L92.95 211.44 L94.01 212.03 L95.08 210.95 L96.14 210.88 L97.21 210.49 L98.27 210.73 L99.33 209.7 L100.4 209.79 L101.46 209.8 L102.53 209.79 L103.59 209.56 L104.66 210.05 L105.72 208.97 L106.78 209.47 L107.85 209.39 L108.91 209.37 L109.98 208.45 L111.04 209.09 L112.11 208.93 L113.17 208.15 L114.23 208.7 L115.3 208.57 L116.36 207.91 L117.43 209.38 L118.49 207.32 L119.56 208.33 L120.62 208.05 L121.68 207.18 L122.75 208.6 L123.81 207.48 L124.88 208.85 L125.94 207.77 L127 208.26 L128.07 207.95 L129.13 208.17 L130.2 207.59 L131.26 208.12 L132.33 207.53 L133.39 207.38 L134.45 208.64 L135.52 208.84 L136.58 209.15 L137.65 207.83 L138.71 207.76 L139.78 207.6 L140.84 207.94 L141.9 207.44 L142.97 209.21 L144.03 208.59 L145.1 207.71 L146.16 208.89 L147.23 207.48 L148.29 207.91 L149.35 208.65 L150.42 209.39 L151.48 208.09 L152.55 208.49 L153.61 209.43 L154.68 209.06 L155.74 207.47 L156.8 209.33 L157.87 208.92 L158.93 209.57 L160 208.95 L161.06 209.62 L162.12 208.54 L163.19 208.2 L164.25 209.38 L165.32 209.19 L166.38 208.59 L167.45 208.52 L168.51 209.56 L169.57 210.03 L170.64 209 L171.7 209.11 L172.77 208.82 L173.83 208.78 L174.9 209.66 L175.96 208.96 L177.02 209.02 L178.09 208.37 L179.15 209.76 L180.22 209.83 L181.28 210.1 L182.35 209.17 L183.41 210.06 L184.47 208.83 L185.54 209.5 L186.6 209.3 L187.67 209.3 L188.73 209.39 L189.8 209.11 L190.86 210.24 L191.92 209.9 L192.99 209.83 L194.05 210.27 L195.12 209.68 L196.18 209.52 L197.25 209.2 L198.31 208.95 L199.37 209.15 L200.44 209.76 L201.5 210.33 L202.57 209.11 L203.63 209.01 L204.69 208.85" fill="none" stroke="#f8a526" stroke-width="0.95" stroke-linejoin="round"/>
<path d="M55.7 206.33 L56.76 207.4 L57.83 208.96 L58.89 210.34 L59.96 210.92 L61.02 211.45 L62.09 211.58 L63.15 212.77 L64.21 212.9 L65.28 213.85 L66.34 213.46 L67.41 214.13 L68.47 213.44 L69.54 213.61 L70.6 214.32 L71.66 213.97 L72.73 215.01 L73.79 213.87 L74.86 214.66 L75.92 213.85 L76.98 214.39 L78.05 214.12 L79.11 214.18 L80.18 214 L81.24 214.24 L82.31 214.12 L83.37 213.79 L84.43 213.75 L85.5 213.45 L86.56 213.78 L87.63 213.31 L88.69 212.74 L89.76 213.29 L90.82 212.5 L91.88 211.7 L92.95 212.02 L94.01 211.11 L95.08 211.82 L96.14 210.46 L97.21 210.98 L98.27 210.63 L99.33 209.95 L100.4 210.47 L101.46 210.24 L102.53 209.87 L103.59 210.02 L104.66 209.27 L105.72 209.06 L106.78 209.88 L107.85 209.06 L108.91 209.15 L109.98 209.17 L111.04 208.68 L112.11 208.99 L113.17 208.15 L114.23 208.7 L115.3 208.96 L116.36 208.5 L117.43 208.3 L118.49 208.62 L119.56 208.34 L120.62 207.36 L121.68 208.13 L122.75 209.24 L123.81 207.99 L124.88 207.42 L125.94 209.57 L127 208.57 L128.07 209.26 L129.13 208.96 L130.2 208.52 L131.26 209.47 L132.33 207.12 L133.39 206.97 L134.45 208.01 L135.52 208.19 L136.58 207.42 L137.65 209.44 L138.71 207.32 L139.78 209.02 L140.84 207.9 L141.9 208.12 L142.97 207.88 L144.03 208.05 L145.1 207.81 L146.16 208.81 L147.23 208.81 L148.29 207.69 L149.35 207.99 L150.42 209.11 L151.48 209.06 L152.55 208.46 L153.61 208.81 L154.68 208.62 L155.74 209.22 L156.8 208.3 L157.87 209.99 L158.93 208.41 L160 208.89 L161.06 209.11 L162.12 209.06 L163.19 208.66 L164.25 209.73 L165.32 208.82 L166.38 209.13 L167.45 209.77 L168.51 208.29 L169.57 209.06 L170.64 209.83 L171.7 209.73 L172.77 208.86 L173.83 209.7 L174.9 208.97 L175.96 209.69 L177.02 209.48 L178.09 209.38 L179.15 209.67 L180.22 208.7 L181.28 209.46 L182.35 210.13 L183.41 209.5 L184.47 209.35 L185.54 209.12 L186.6 209.04 L187.67 209.28 L188.73 208.86 L189.8 209.07 L190.86 209.52 L191.92 209.65 L192.99 209.43 L194.05 210.05 L195.12 208.81 L196.18 209.58 L197.25 209.61 L198.31 209.41 L199.37 209.34 L200.44 210.02 L201.5 209.61 L202.57 209.56 L203.63 209.68 L204.69 209.83" fill="none" stroke="#f9ab28" stroke-width="0.95" stroke-linejoin="round"/>
<path d="M55.7 206.66 L56.76 207.86 L57.83 209.19 L58.89 209.39 L59.96 210.79 L61.02 211.29 L62.09 211.37 L63.15 212.45 L64.21 212.8 L65.28 213.83 L66.34 213.13 L67.41 212.89 L68.47 213.51 L69.54 214.34 L70.6 214.29 L71.66 213.76 L72.73 213.67 L73.79 214.09 L74.86 213.45 L75.92 214.15 L76.98 214.33 L78.05 214.03 L79.11 214.31 L80.18 214.79 L81.24 214.31 L82.31 214.01 L83.37 214.36 L84.43 213.47 L85.5 213.11 L86.56 213.58 L87.63 213.46 L88.69 213.01 L89.76 212.45 L90.82 212.65 L91.88 211.81 L92.95 211.63 L94.01 211.52 L95.08 210.61 L96.14 211.68 L97.21 211.35 L98.27 210.32 L99.33 210.55 L100.4 210 L101.46 210.62 L102.53 209.74 L103.59 210.45 L104.66 210.48 L105.72 209.76 L106.78 209.42 L107.85 209.63 L108.91 208.86 L109.98 209.52 L111.04 209.22 L112.11 209.18 L113.17 209.53 L114.23 208.6 L115.3 209.97 L116.36 207.96 L117.43 208.16 L118.49 208.85 L119.56 209.81 L120.62 209.04 L121.68 209.42 L122.75 209.19 L123.81 209.08 L124.88 208.6 L125.94 209.59 L127 208.55 L128.07 207.97 L129.13 208 L130.2 209.18 L131.26 209.16 L132.33 209.04 L133.39 208.69 L134.45 209.33 L135.52 209.46 L136.58 209.45 L137.65 208.66 L138.71 208.15 L139.78 208 L140.84 208.63 L141.9 208.73 L142.97 210.15 L144.03 209.88 L145.1 208.31 L146.16 208.83 L147.23 209.31 L148.29 210.05 L149.35 209.07 L150.42 210.01 L151.48 208.38 L152.55 209.58 L153.61 209.36 L154.68 208.26 L155.74 208.84 L156.8 208.8 L157.87 209.2 L158.93 209.16 L160 210.17 L161.06 210.19 L162.12 209.45 L163.19 208.96 L164.25 209.71 L165.32 210.16 L166.38 210.12 L167.45 209.82 L168.51 208.71 L169.57 209.22 L170.64 208.85 L171.7 209.57 L172.77 209.02 L173.83 209.64 L174.9 209.22 L175.96 209.08 L177.02 210.57 L178.09 209.37 L179.15 209.46 L180.22 210.61 L181.28 210.51 L182.35 210.39 L183.41 209.19 L184.47 209.9 L185.54 209.42 L186.6 209.42 L187.67 209.67 L188.73 209.18 L189.8 209.97 L190.86 209.63 L191.92 209.74 L192.99 209.66 L194.05 209.5 L195.12 208.99 L196.18 209.21 L197.25 210.35 L198.31 208.62 L199.37 209.93 L200.44 208.88 L201.5 209.78 L202.57 209.46 L203.63 209.14 L204.69 208.62" fill="none" stroke="#f9b229" stroke-width="0.95" stroke-linejoin="round"/>
<path d="M55.7 206.96 L56.76 208.56 L57.83 209.19 L58.89 209.89 L59.96 210.79 L61.02 211.22 L62.09 211.73 L63.15 212.49 L64.21 212.67 L65.28 213.22 L66.34 213.76 L67.41 213.52 L68.47 214.21 L69.54 214.03 L70.6 213.02 L71.66 213.91 L72.73 213.83 L73.79 213.98 L74.86 213.78 L75.92 213.96 L76.98 213.34 L78.05 213.19 L79.11 213.89 L80.18 213.65 L81.24 214.22 L82.31 214.11 L83.37 214.22 L84.43 213.74 L85.5 213.33 L86.56 212.76 L87.63 213.38 L88.69 213.23 L89.76 211.48 L90.82 212.22 L91.88 212.08 L92.95 211.28 L94.01 210.8 L95.08 211.29 L96.14 211.39 L97.21 210.82 L98.27 210.32 L99.33 210.7 L100.4 209.98 L101.46 210.2 L102.53 209.96 L103.59 209.44 L104.66 209.72 L105.72 210 L106.78 209.72 L107.85 209.83 L108.91 209.39 L109.98 209.8 L111.04 208.91 L112.11 209.81 L113.17 208.88 L114.23 209.92 L115.3 209.45 L116.36 208.58 L117.43 209.41 L118.49 208.91 L119.56 209.39 L120.62 209.71 L121.68 210.19 L122.75 208.29 L123.81 209.13 L124.88 209.98 L125.94 208.88 L127 210.01 L128.07 210.17 L129.13 208.65 L130.2 209.13 L131.26 208.54 L132.33 209.7 L133.39 209.92 L134.45 209.17 L135.52 209.46 L136.58 209.15 L137.65 207.53 L138.71 208.48 L139.78 208.89 L140.84 208.47 L141.9 209.33 L142.97 208.57 L144.03 209.7 L145.1 208.42 L146.16 208.22 L147.23 209.51 L148.29 209.34 L149.35 210.14 L150.42 209.96 L151.48 210.09 L152.55 209.93 L153.61 208.32 L154.68 209.32 L155.74 208.79 L156.8 209.03 L157.87 208.62 L158.93 208.56 L160 208.98 L161.06 210.54 L162.12 209.08 L163.19 209.73 L164.25 210.94 L165.32 209.69 L166.38 209.6 L167.45 209.54 L168.51 210.14 L169.57 209.19 L170.64 209.34 L171.7 210.32 L172.77 208.97 L173.83 208.96 L174.9 209.73 L175.96 208.45 L177.02 209.79 L178.09 209.94 L179.15 209.03 L180.22 209.3 L181.28 209.64 L182.35 209.38 L183.41 209.54 L184.47 209.08 L185.54 210.15 L186.6 209.18 L187.67 210.71 L188.73 210.45 L189.8 210.18 L190.86 210.18 L191.92 209.82 L192.99 209.42 L194.05 210.16 L195.12 210.07 L196.18 209.3 L197.25 210.61 L198.31 210.03 L199.37 209.68 L200.44 209.67 L201.5 208.86 L202.57 209.26 L203.63 209.86 L204.69 209.66" fill="none" stroke="#fab82a" stroke-width="0.95" stroke-linejoin="round"/>
<path d="M55.7 206.67 L56.76 207.86 L57.83 209.07 L58.89 209.67 L59.96 210.85 L61.02 211.81 L62.09 211.6 L63.15 212.12 L64.21 213.32 L65.28 213.11 L66.34 213.71 L67.41 213.38 L68.47 213.5 L69.54 213.7 L70.6 213.96 L71.66 214.52 L72.73 213.9 L73.79 214.32 L74.86 213.85 L75.92 214.12 L76.98 213.92 L78.05 214.11 L79.11 214.35 L80.18 214.25 L81.24 214.43 L82.31 213.51 L83.37 213.66 L84.43 214.03 L85.5 213.46 L86.56 213.22 L87.63 212.89 L88.69 212.67 L89.76 212.72 L90.82 212.04 L91.88 211.85 L92.95 211.43 L94.01 211.31 L95.08 211.18 L96.14 211.92 L97.21 210.93 L98.27 211.04 L99.33 211.12 L100.4 209.99 L101.46 210.21 L102.53 209.42 L103.59 210.21 L104.66 209.62 L105.72 209.74 L106.78 209.75 L107.85 209.42 L108.91 209.44 L109.98 209.29 L111.04 209.23 L112.11 209.21 L113.17 208.68 L114.23 209.61 L115.3 209.26 L116.36 210.63 L117.43 209.35 L118.49 208.55 L119.56 209.44 L120.62 208.8 L121.68 208.39 L122.75 209.08 L123.81 209.66 L124.88 209.07 L125.94 209.94 L127 209.42 L128.07 208.86 L129.13 207.69 L130.2 209.63 L131.26 209.67 L132.33 208.66 L133.39 208.45 L134.45 209.03 L135.52 209.44 L136.58 209.96 L137.65 209.59 L138.71 209 L139.78 208.65 L140.84 209.69 L141.9 208.59 L142.97 210.06 L144.03 209.99 L145.1 209.67 L146.16 209.34 L147.23 209.28 L148.29 209.51 L149.35 209.09 L150.42 208.95 L151.48 208.76 L152.55 209.8 L153.61 209.6 L154.68 209.24 L155.74 209.4 L156.8 208.6 L157.87 207.91 L158.93 209.59 L160 208.11 L161.06 210.25 L162.12 209.53 L163.19 209.26 L164.25 209.55 L165.32 209.59 L166.38 210.65 L167.45 209.59 L168.51 209.55 L169.57 209.06 L170.64 209.41 L171.7 208.72 L172.77 209.9 L173.83 209.83 L174.9 209.26 L175.96 210.21 L177.02 209.64 L178.09 209.48 L179.15 210.08 L180.22 209.37 L181.28 208.87 L182.35 208.46 L183.41 209.26 L184.47 209.92 L185.54 209.2 L186.6 208.52 L187.67 210.92 L188.73 209.57 L189.8 208.72 L190.86 209.92 L191.92 209.93 L192.99 208.9 L194.05 210.56 L195.12 210.22 L196.18 209.73 L197.25 208.93 L198.31 210.26 L199.37 208.73 L200.44 209.74 L201.5 208.97 L202.57 208.35 L203.63 209.38 L204.69 208.71" fill="none" stroke="#fbbf2b" stroke-width="0.95" stroke-linejoin="round"/>
<path d="M55.7 205.96 L56.76 207.89 L57.83 208.97 L58.89 210.09 L59.96 210.36 L61.02 210.52 L62.09 212.33 L63.15 212.01 L64.21 212.44 L65.28 213.09 L66.34 212.83 L67.41 213.41 L68.47 213.3 L69.54 214.36 L70.6 213.67 L71.66 213.27 L72.73 213.94 L73.79 213.83 L74.86 214.09 L75.92 214.25 L76.98 213.69 L78.05 213.9 L79.11 213.72 L80.18 213.43 L81.24 213.85 L82.31 214.16 L83.37 213.81 L84.43 213.83 L85.5 213.82 L86.56 213.13 L87.63 212.35 L88.69 212.59 L89.76 212.69 L90.82 212.1 L91.88 212.12 L92.95 211.67 L94.01 211.14 L95.08 211.55 L96.14 211.23 L97.21 211.58 L98.27 210.61 L99.33 210.23 L100.4 209.98 L101.46 210.16 L102.53 210.11 L103.59 209.81 L104.66 210.09 L105.72 209.72 L106.78 210.71 L107.85 210.12 L108.91 210.12 L109.98 208.92 L111.04 209.57 L112.11 209.12 L113.17 209.94 L114.23 209.19 L115.3 209.64 L116.36 209.57 L117.43 210.33 L118.49 209.22 L119.56 209.59 L120.62 210.26 L121.68 208.29 L122.75 209.19 L123.81 210.34 L124.88 210.56 L125.94 209.09 L127 209.61 L128.07 209.09 L129.13 208.76 L130.2 208.8 L131.26 207.84 L132.33 209.15 L133.39 209.12 L134.45 209.18 L135.52 209.46 L136.58 209.54 L137.65 209.74 L138.71 210.03 L139.78 210.16 L140.84 210.3 L141.9 210.07 L142.97 208.57 L144.03 210.72 L145.1 209.49 L146.16 209.11 L147.23 208.79 L148.29 208.63 L149.35 209.64 L150.42 209.89 L151.48 209.49 L152.55 209.61 L153.61 209.14 L154.68 210.13 L155.74 209.07 L156.8 209.43 L157.87 209.38 L158.93 210.12 L160 209.95 L161.06 209.72 L162.12 209.32 L163.19 209.08 L164.25 209.21 L165.32 209.3 L166.38 209.71 L167.45 209.3 L168.51 209.36 L169.57 208.76 L170.64 209.24 L171.7 210.63 L172.77 209.83 L173.83 209.26 L174.9 209.92 L175.96 210.56 L177.02 209.17 L178.09 210.28 L179.15 209.29 L180.22 209.38 L181.28 209.5 L182.35 209.77 L183.41 209.23 L184.47 209.98 L185.54 209.38 L186.6 209.93 L187.67 209.72 L188.73 208.85 L189.8 208.47 L190.86 209.02 L191.92 210.11 L192.99 209.98 L194.05 208.99 L195.12 209.12 L196.18 210.07 L197.25 210.3 L198.31 207.67 L199.37 209.66 L200.44 209.32 L201.5 208.84 L202.57 209.56 L203.63 209.75 L204.69 210.05" fill="none" stroke="#fbc52c" stroke-width="0.95" stroke-linejoin="round"/>
<path d="M55.7 206.58 L56.76 207.94 L57.83 207.87 L58.89 210 L59.96 211.05 L61.02 210.15 L62.09 211.42 L63.15 211.96 L64.21 213.17 L65.28 212.89 L66.34 213.32 L67.41 213.39 L68.47 213.69 L69.54 213.75 L70.6 213.44 L71.66 214.02 L72.73 212.74 L73.79 213.94 L74.86 213.99 L75.92 214.01 L76.98 213.99 L78.05 213.58 L79.11 213.73 L80.18 214.25 L81.24 213.78 L82.31 213.96 L83.37 214.14 L84.43 213.23 L85.5 213.42 L86.56 212.89 L87.63 213.27 L88.69 212.48 L89.76 212.46 L90.82 212.27 L91.88 211.57 L92.95 211.27 L94.01 211.16 L95.08 211.36 L96.14 210.82 L97.21 211.08 L98.27 210.8 L99.33 210.79 L100.4 209.34 L101.46 210.24 L102.53 209.86 L103.59 210.31 L104.66 209.82 L105.72 209.91 L106.78 210.15 L107.85 209.9 L108.91 209.56 L109.98 209.49 L111.04 209.89 L112.11 209.2 L113.17 209.81 L114.23 209.18 L115.3 209.14 L116.36 209.09 L117.43 209.89 L118.49 210 L119.56 209.77 L120.62 208.41 L121.68 209.23 L122.75 209.33 L123.81 209.38 L124.88 209.3 L125.94 210.82 L127 209.97 L128.07 209.37 L129.13 209.58 L130.2 210.53 L131.26 209.65 L132.33 209.31 L133.39 210.6 L134.45 209.08 L135.52 208.64 L136.58 209.73 L137.65 209.51 L138.71 209.3 L139.78 209.73 L140.84 210.08 L141.9 209.38 L142.97 209.54 L144.03 209.19 L145.1 209.63 L146.16 209.45 L147.23 209.07 L148.29 209.54 L149.35 209.12 L150.42 208.8 L151.48 210.77 L152.55 209.66 L153.61 209.32 L154.68 208.15 L155.74 209.56 L156.8 210.02 L157.87 210.08 L158.93 210.96 L160 208.43 L161.06 209.82 L162.12 209.64 L163.19 209.47 L164.25 209.64 L165.32 209.07 L166.38 209.24 L167.45 209.91 L168.51 209.61 L169.57 210.53 L170.64 210.35 L171.7 209.13 L172.77 209.08 L173.83 210.24 L174.9 210.7 L175.96 209.63 L177.02 209.76 L178.09 210.29 L179.15 208.8 L180.22 210.51 L181.28 210.44 L182.35 208.27 L183.41 210.46 L184.47 209.3 L185.54 211.15 L186.6 209.18 L187.67 208.4 L188.73 209.13 L189.8 208.63 L190.86 208.27 L191.92 209.53 L192.99 209.58 L194.05 209.59 L195.12 209.37 L196.18 210.11 L197.25 210.32 L198.31 208.93 L199.37 209.12 L200.44 209.94 L201.5 209.46 L202.57 211.18 L203.63 208.76 L204.69 209.52" fill="none" stroke="#fccc34" stroke-width="0.95" stroke-linejoin="round"/>
<path d="M55.7 206.65 L56.76 208.1 L57.83 209.19 L58.89 209.84 L59.96 210.52 L61.02 211.18 L62.09 212.13 L63.15 212.85 L64.21 212.48 L65.28 212.06 L66.34 213.41 L67.41 212.32 L68.47 213.24 L69.54 212.72 L70.6 213.12 L71.66 212.32 L72.73 213.85 L73.79 213.51 L74.86 212.61 L75.92 213 L76.98 213.72 L78.05 213.85 L79.11 213.83 L80.18 213.76 L81.24 213.24 L82.31 213.28 L83.37 213.82 L84.43 213.49 L85.5 212.54 L86.56 212.81 L87.63 212.84 L88.69 212.04 L89.76 211.54 L90.82 211.79 L91.88 211.54 L92.95 211.45 L94.01 211.54 L95.08 211.36 L96.14 211.74 L97.21 211.19 L98.27 210.71 L99.33 210.29 L100.4 209.5 L101.46 210.17 L102.53 210.44 L103.59 210.74 L104.66 210.1 L105.72 210.11 L106.78 209.58 L107.85 210.34 L108.91 209.68 L109.98 209.53 L111.04 209.7 L112.11 210.19 L113.17 209.38 L114.23 209.92 L115.3 210.28 L116.36 209.65 L117.43 210.02 L118.49 209.18 L119.56 208.76 L120.62 209.54 L121.68 209.93 L122.75 209.44 L123.81 209.36 L124.88 209.25 L125.94 209.6 L127 209.86 L128.07 209.41 L129.13 209.57 L130.2 209.58 L131.26 208.85 L132.33 208.83 L133.39 209.65 L134.45 209.55 L135.52 210.09 L136.58 210.28 L137.65 209.65 L138.71 210.14 L139.78 208.82 L140.84 209.04 L141.9 210.04 L142.97 209.14 L144.03 209.26 L145.1 209.39 L146.16 210.19 L147.23 209.7 L148.29 209.84 L149.35 209.64 L150.42 209.47 L151.48 209.27 L152.55 209.36 L153.61 209.97 L154.68 209.44 L155.74 208.35 L156.8 209 L157.87 209 L158.93 208.51 L160 210.27 L161.06 208.97 L162.12 209.28 L163.19 209.65 L164.25 208.64 L165.32 208.97 L166.38 210.08 L167.45 209.43 L168.51 209.86 L169.57 209.18 L170.64 208.83 L171.7 210.12 L172.77 210.01 L173.83 209.13 L174.9 207.81 L175.96 209.25 L177.02 210.29 L178.09 209.37 L179.15 210.53 L180.22 210.01 L181.28 209.77 L182.35 210.12 L183.41 210.33 L184.47 209.58 L185.54 209.37 L186.6 210.07 L187.67 209.66 L188.73 208.8 L189.8 210.7 L190.86 208.07 L191.92 209.17 L192.99 210.67 L194.05 208.67 L195.12 208.8 L196.18 209.2 L197.25 209.41 L198.31 209.65 L199.37 208.07 L200.44 209 L201.5 210.14 L202.57 208.87 L203.63 209.82 L204.69 209.99" fill="none" stroke="#fcd23c" stroke-width="0.95" stroke-linejoin="round"/>
<path d="M55.7 206.55 L56.76 207.82 L57.83 208.65 L58.89 209.81 L59.96 210.3 L61.02 210.09 L62.09 211.89 L63.15 211.87 L64.21 212.25 L65.28 212.3 L66.34 213.38 L67.41 213.11 L68.47 212.8 L69.54 212.58 L70.6 213.6 L71.66 213.23 L72.73 213.36 L73.79 212.59 L74.86 212.87 L75.92 212.56 L76.98 213.08 L78.05 213.59 L79.11 213.3 L80.18 212.85 L81.24 213.5 L82.31 213.68 L83.37 213.48 L84.43 213.34 L85.5 213.14 L86.56 212.63 L87.63 212.14 L88.69 212.19 L89.76 212.66 L90.82 211.99 L91.88 211.16 L92.95 211.6 L94.01 211.46 L95.08 211.13 L96.14 210.71 L97.21 210.99 L98.27 210.65 L99.33 210.78 L100.4 209.97 L101.46 209.87 L102.53 210.07 L103.59 209.94 L104.66 210.29 L105.72 210.05 L106.78 210.15 L107.85 208.92 L108.91 209.1 L109.98 210.27 L111.04 209.74 L112.11 208.72 L113.17 209.71 L114.23 209.23 L115.3 209.44 L116.36 208.15 L117.43 209.35 L118.49 208.78 L119.56 209.36 L120.62 209.57 L121.68 208.63 L122.75 209.85 L123.81 210.01 L124.88 209.57 L125.94 208.96 L127 207.92 L128.07 209.31 L129.13 208.65 L130.2 209.51 L131.26 209.05 L132.33 210.41 L133.39 209.56 L134.45 209.18 L135.52 209.23 L136.58 209.81 L137.65 209.55 L138.71 209.94 L139.78 209.82 L140.84 208.53 L141.9 208.85 L142.97 209.64 L144.03 208.05 L145.1 209.08 L146.16 210.21 L147.23 208.99 L148.29 209.69 L149.35 209.57 L150.42 210.11 L151.48 209.87 L152.55 209.02 L153.61 209.3 L154.68 209.82 L155.74 209.87 L156.8 210.78 L157.87 209.94 L158.93 210.68 L160 210.35 L161.06 210.08 L162.12 209.77 L163.19 208.3 L164.25 210.11 L165.32 208.53 L166.38 210.15 L167.45 210.44 L168.51 208.83 L169.57 209.81 L170.64 209.59 L171.7 209.1 L172.77 210.29 L173.83 210.43 L174.9 209.48 L175.96 208.97 L177.02 209.81 L178.09 210.26 L179.15 208.73 L180.22 209.21 L181.28 208.71 L182.35 209.09 L183.41 208.86 L184.47 209.45 L185.54 209.95 L186.6 209.68 L187.67 209.82 L188.73 209.29 L189.8 208.19 L190.86 210.83 L191.92 208.39 L192.99 209.87 L194.05 210.6 L195.12 210.4 L196.18 209.1 L197.25 209.58 L198.31 208.7 L199.37 209.24 L200.44 210.28 L201.5 209.09 L202.57 209.97 L203.63 208.99 L204.69 209.71" fill="none" stroke="#fdd844" stroke-width="0.95" stroke-linejoin="round"/>
<path d="M55.7 206.85 L56.76 207.74 L57.83 208.92 L58.89 209.38 L59.96 209.57 L61.02 210.44 L62.09 210.83 L63.15 211.08 L64.21 211.99 L65.28 212.4 L66.34 212.38 L67.41 212.61 L68.47 213.44 L69.54 212.77 L70.6 213.05 L71.66 213.41 L72.73 213.43 L73.79 212.78 L74.86 212.15 L75.92 212.22 L76.98 213.03 L78.05 212.83 L79.11 212.36 L80.18 212.78 L81.24 213.35 L82.31 212.14 L83.37 212.5 L84.43 212.44 L85.5 212.82 L86.56 212.31 L87.63 211.71 L88.69 211.28 L89.76 212.32 L90.82 210.97 L91.88 211.5 L92.95 211.39 L94.01 211.1 L95.08 211.05 L96.14 210.62 L97.21 211.25 L98.27 211.01 L99.33 209.86 L100.4 211.16 L101.46 209.94 L102.53 209.97 L103.59 210 L104.66 210.17 L105.72 209.57 L106.78 209.59 L107.85 209.96 L108.91 209.38 L109.98 209.17 L111.04 209.96 L112.11 209.13 L113.17 209.59 L114.23 209.11 L115.3 210.3 L116.36 208.64 L117.43 209.74 L118.49 208.55 L119.56 208.95 L120.62 210.35 L121.68 209.95 L122.75 208.95 L123.81 210.05 L124.88 210.23 L125.94 209.74 L127 209.85 L128.07 209.34 L129.13 208.19 L130.2 209.24 L131.26 209.29 L132.33 209.51 L133.39 210.3 L134.45 209.85 L135.52 209.96 L136.58 210.52 L137.65 209.99 L138.71 209.43 L139.78 210.92 L140.84 209.99 L141.9 209.28 L142.97 209.02 L144.03 208.96 L145.1 209.31 L146.16 209.26 L147.23 209.64 L148.29 209.37 L149.35 208.96 L150.42 209.76 L151.48 209.89 L152.55 209.72 L153.61 209.85 L154.68 209.26 L155.74 208.39 L156.8 208.33 L157.87 210.5 L158.93 209.15 L160 209.11 L161.06 209.29 L162.12 209.17 L163.19 209.26 L164.25 210.1 L165.32 209.99 L166.38 208.37 L167.45 210.83 L168.51 208.83 L169.57 209.57 L170.64 208.93 L171.7 210.44 L172.77 209.82 L173.83 208.85 L174.9 210.37 L175.96 209.21 L177.02 209.05 L178.09 209.53 L179.15 211.09 L180.22 210.22 L181.28 208.82 L182.35 209.37 L183.41 208.06 L184.47 210.55 L185.54 208.47 L186.6 210.82 L187.67 209.83 L188.73 208.78 L189.8 207.66 L190.86 209.83 L191.92 209.51 L192.99 210.08 L194.05 209.15 L195.12 208.8 L196.18 210.45 L197.25 209.9 L198.31 208.74 L199.37 209.05 L200.44 209.44 L201.5 209.63 L202.57 210.13 L203.63 209.65 L204.69 209.55" fill="none" stroke="#fddf4b" stroke-width="0.95" stroke-linejoin="round"/>
<path d="M55.7 207.15 L56.76 207.22 L57.83 208.86 L58.89 209.52 L59.96 210.26 L61.02 210.43 L62.09 210.78 L63.15 211.3 L64.21 211.61 L65.28 211.56 L66.34 211.52 L67.41 212.4 L68.47 211.92 L69.54 213.03 L70.6 212.05 L71.66 212.11 L72.73 211.95 L73.79 211.99 L74.86 213.14 L75.92 212.29 L76.98 212.99 L78.05 213.25 L79.11 212.55 L80.18 212.73 L81.24 212.42 L82.31 212.17 L83.37 212.34 L84.43 211.71 L85.5 212.52 L86.56 212.26 L87.63 211.81 L88.69 211.08 L89.76 211.23 L90.82 211.87 L91.88 210.73 L92.95 211.05 L94.01 210.26 L95.08 210.36 L96.14 209.97 L97.21 210.3 L98.27 210.61 L99.33 210.84 L100.4 210.47 L101.46 210.17 L102.53 210.46 L103.59 209.92 L104.66 210.07 L105.72 209.22 L106.78 209.65 L107.85 209.62 L108.91 209.61 L109.98 210.07 L111.04 209.79 L112.11 209.2 L113.17 209.66 L114.23 209.22 L115.3 209.92 L116.36 208.56 L117.43 210.78 L118.49 210.02 L119.56 209.57 L120.62 209.96 L121.68 210.37 L122.75 209.89 L123.81 208.88 L124.88 208.86 L125.94 209.25 L127 209.63 L128.07 210.57 L129.13 209.37 L130.2 210.58 L131.26 209.97 L132.33 209.85 L133.39 209.65 L134.45 208.41 L135.52 209.88 L136.58 208.75 L137.65 210.93 L138.71 210.61 L139.78 210.17 L140.84 208.98 L141.9 209.57 L142.97 210.46 L144.03 211.03 L145.1 209.47 L146.16 209.97 L147.23 209.94 L148.29 209.38 L149.35 209.84 L150.42 208.79 L151.48 210.53 L152.55 209.18 L153.61 210.39 L154.68 210.31 L155.74 209.9 L156.8 209.65 L157.87 209.46 L158.93 209.3 L160 208.99 L161.06 209.25 L162.12 208.93 L163.19 208.81 L164.25 209.19 L165.32 210.08 L166.38 209.82 L167.45 211.04 L168.51 208.7 L169.57 209.98 L170.64 209.65 L171.7 208.25 L172.77 209.84 L173.83 210.59 L174.9 209.6 L175.96 209.18 L177.02 209.73 L178.09 209.23 L179.15 209.2 L180.22 209.78 L181.28 210.67 L182.35 209.62 L183.41 209.78 L184.47 209.63 L185.54 209.71 L186.6 209.59 L187.67 209.7 L188.73 210.23 L189.8 209.97 L190.86 210.99 L191.92 210.17 L192.99 209.53 L194.05 209.3 L195.12 208.44 L196.18 209.23 L197.25 210.84 L198.31 209.42 L199.37 210.04 L200.44 209.48 L201.5 208.89 L202.57 209.43 L203.63 210.17 L204.69 209.59" fill="none" stroke="#fee553" stroke-width="0.95" stroke-linejoin="round"/>
<path d="M55.7 207.18 L56.76 208.13 L57.83 208.46 L58.89 209.14 L59.96 210.04 L61.02 209.98 L62.09 210.66 L63.15 211.87 L64.21 211.32 L65.28 211.15 L66.34 211.18 L67.41 211.93 L68.47 211.44 L69.54 211.46 L70.6 212.23 L71.66 212.08 L72.73 212.08 L73.79 211.59 L74.86 211.53 L75.92 211.83 L76.98 212.35 L78.05 212.03 L79.11 212.05 L80.18 211.53 L81.24 212.54 L82.31 211.88 L83.37 211.72 L84.43 211.53 L85.5 211.44 L86.56 210.78 L87.63 210.88 L88.69 210.92 L89.76 211.31 L90.82 210.46 L91.88 211.2 L92.95 210.89 L94.01 210.21 L95.08 209.9 L96.14 210.13 L97.21 210.22 L98.27 209.8 L99.33 209.67 L100.4 209.51 L101.46 210.49 L102.53 209.6 L103.59 209.52 L104.66 209.28 L105.72 209.48 L106.78 209.37 L107.85 210.02 L108.91 208.71 L109.98 209.88 L111.04 209.29 L112.11 209.76 L113.17 208.83 L114.23 209 L115.3 208.85 L116.36 209.05 L117.43 209.57 L118.49 209.69 L119.56 209.71 L120.62 209.78 L121.68 209.7 L122.75 209.2 L123.81 209.61 L124.88 209.84 L125.94 209.82 L127 209.39 L128.07 209.45 L129.13 209 L130.2 210.49 L131.26 208.88 L132.33 209.17 L133.39 209.2 L134.45 209.31 L135.52 207.94 L136.58 209.77 L137.65 209.98 L138.71 209.4 L139.78 209.39 L140.84 208.45 L141.9 209.95 L142.97 209.58 L144.03 210.24 L145.1 209.59 L146.16 209.4 L147.23 210.59 L148.29 208.72 L149.35 209.86 L150.42 209.11 L151.48 209.58 L152.55 209.29 L153.61 209.1 L154.68 210.36 L155.74 209.63 L156.8 210.05 L157.87 209.2 L158.93 209.17 L160 210.43 L161.06 209.58 L162.12 209.48 L163.19 209.16 L164.25 208.86 L165.32 209.28 L166.38 209.61 L167.45 209.72 L168.51 208.64 L169.57 209.19 L170.64 208.26 L171.7 209.52 L172.77 210.1 L173.83 209.67 L174.9 209.47 L175.96 209.37 L177.02 208.62 L178.09 209.79 L179.15 209.1 L180.22 210 L181.28 209.82 L182.35 208.51 L183.41 209.38 L184.47 208.93 L185.54 209.5 L186.6 209.89 L187.67 209.34 L188.73 209.45 L189.8 209.4 L190.86 210.07 L191.92 209.32 L192.99 209.04 L194.05 210.15 L195.12 209.86 L196.18 209.09 L197.25 209.76 L198.31 208.91 L199.37 208.76 L200.44 210.61 L201.5 208.33 L202.57 208.96 L203.63 208.96 L204.69 208.05" fill="none" stroke="#feeb5b" stroke-width="0.95" stroke-linejoin="round"/>
<path d="M55.7 207.03 L56.76 207.61 L57.83 208.66 L58.89 208.78 L59.96 209.05 L61.02 209.97 L62.09 210.38 L63.15 210.12 L64.21 210.38 L65.28 211.1 L66.34 210.24 L67.41 211.04 L68.47 210.9 L69.54 210.95 L70.6 211.15 L71.66 210.95 L72.73 211.03 L73.79 211.4 L74.86 211.21 L75.92 212.08 L76.98 211.57 L78.05 211.17 L79.11 212.37 L80.18 211.97 L81.24 211.46 L82.31 210.89 L83.37 211.47 L84.43 211.83 L85.5 210.98 L86.56 211.21 L87.63 210.38 L88.69 210.17 L89.76 210.28 L90.82 210.2 L91.88 210.26 L92.95 209.65 L94.01 209.74 L95.08 209.33 L96.14 210.46 L97.21 210.02 L98.27 209.69 L99.33 209.95 L100.4 210.03 L101.46 210.01 L102.53 209.37 L103.59 209.38 L104.66 209.7 L105.72 209.18 L106.78 209.28 L107.85 209.52 L108.91 209.6 L109.98 208.98 L111.04 209.27 L112.11 209.4 L113.17 209.35 L114.23 209.93 L115.3 209.75 L116.36 209.22 L117.43 209.83 L118.49 209.57 L119.56 209.55 L120.62 209.42 L121.68 209.38 L122.75 210.4 L123.81 209.07 L124.88 209.49 L125.94 209.56 L127 210.04 L128.07 210.15 L129.13 208.65 L130.2 209.1 L131.26 208.79 L132.33 209.27 L133.39 209.47 L134.45 209.28 L135.52 207.99 L136.58 208.64 L137.65 209.75 L138.71 208.75 L139.78 209.79 L140.84 209.26 L141.9 209.48 L142.97 209.49 L144.03 208.93 L145.1 209.7 L146.16 209.36 L147.23 209.87 L148.29 210.69 L149.35 210.43 L150.42 209.42 L151.48 208.92 L152.55 209.23 L153.61 209.42 L154.68 210.14 L155.74 209.74 L156.8 208.64 L157.87 209.33 L158.93 210.15 L160 209.88 L161.06 209.56 L162.12 209.44 L163.19 210.04 L164.25 209.38 L165.32 209.17 L166.38 210.57 L167.45 208.99 L168.51 209.82 L169.57 209.32 L170.64 209.95 L171.7 209.46 L172.77 211.06 L173.83 210.12 L174.9 209.3 L175.96 208.14 L177.02 209.51 L178.09 209.71 L179.15 208.9 L180.22 209.08 L181.28 210.08 L182.35 209.61 L183.41 208.98 L184.47 209.01 L185.54 208.83 L186.6 209.93 L187.67 209.92 L188.73 209.09 L189.8 209.34 L190.86 209.29 L191.92 210.59 L192.99 209.36 L194.05 208.29 L195.12 209.52 L196.18 209.53 L197.25 209.07 L198.31 209.2 L199.37 209.99 L200.44 209.75 L201.5 209.52 L202.57 209.75 L203.63 209.03 L204.69 208.6" fill="none" stroke="#ffef73" stroke-width="0.95" stroke-linejoin="round"/>
<path d="M55.7 206.23 L56.76 207.61 L57.83 208.65 L58.89 208.87 L59.96 209.33 L61.02 209.46 L62.09 210.16 L63.15 209.85 L64.21 210.3 L65.28 210.74 L66.34 210.81 L67.41 211 L68.47 211.12 L69.54 210.69 L70.6 211.63 L71.66 211.17 L72.73 211.39 L73.79 210.82 L74.86 211.12 L75.92 210.93 L76.98 210.5 L78.05 210.77 L79.11 211.04 L80.18 211.51 L81.24 211.24 L82.31 211.54 L83.37 210.99 L84.43 211.11 L85.5 210.77 L86.56 210.14 L87.63 211.2 L88.69 210.97 L89.76 210.79 L90.82 210.2 L91.88 210.13 L92.95 209.95 L94.01 210.2 L95.08 209.37 L96.14 209.61 L97.21 210.8 L98.27 210.21 L99.33 210.2 L100.4 209.13 L101.46 209.88 L102.53 209.15 L103.59 210.04 L104.66 210.02 L105.72 210.21 L106.78 209.9 L107.85 209.38 L108.91 209.69 L109.98 209.72 L111.04 209.64 L112.11 209.51 L113.17 209.41 L114.23 208.97 L115.3 210.04 L116.36 208.98 L117.43 209.22 L118.49 209.78 L119.56 208.57 L120.62 209.02 L121.68 209.53 L122.75 209.19 L123.81 209.21 L124.88 209.63 L125.94 209.36 L127 210.39 L128.07 210.25 L129.13 208.25 L130.2 208.94 L131.26 208.89 L132.33 210 L133.39 209.69 L134.45 209 L135.52 209.55 L136.58 208.86 L137.65 209.49 L138.71 210.23 L139.78 209.8 L140.84 209.18 L141.9 209.11 L142.97 210.52 L144.03 209.57 L145.1 210.41 L146.16 210.85 L147.23 209.11 L148.29 209.95 L149.35 209.59 L150.42 209.62 L151.48 209.09 L152.55 210.44 L153.61 209.72 L154.68 209.58 L155.74 208.63 L156.8 208.65 L157.87 211.06 L158.93 209.53 L160 209.6 L161.06 210.67 L162.12 209.88 L163.19 208.43 L164.25 209.03 L165.32 211.24 L166.38 210.09 L167.45 209.19 L168.51 210.76 L169.57 210.09 L170.64 210.52 L171.7 208.87 L172.77 208.66 L173.83 208.99 L174.9 209.96 L175.96 208.95 L177.02 208.68 L178.09 210.16 L179.15 209.61 L180.22 209.68 L181.28 209.69 L182.35 210.09 L183.41 210.29 L184.47 209.14 L185.54 209.39 L186.6 208.73 L187.67 209.95 L188.73 208.95 L189.8 209.78 L190.86 209.89 L191.92 209.19 L192.99 208.49 L194.05 209.71 L195.12 209.11 L196.18 209.15 L197.25 209.98 L198.31 209.21 L199.37 208.94 L200.44 210.06 L201.5 210.88 L202.57 209.38 L203.63 208.8 L204.69 210.72" fill="none" stroke="#fff48c" stroke-width="0.95" stroke-linejoin="round"/>
<line x1="55.7" y1="183.6" x2="55.7" y2="303" stroke="#6a6a6a" stroke-width="0.9"/>
<line x1="53.4" y1="184.6" x2="55.7" y2="184.6" stroke="#6a6a6a" stroke-width="0.9"/>
<text x="48.1" y="187.6" font-size="9" text-anchor="end" textLength="23.85" lengthAdjust="spacingAndGlyphs" stroke="#222" stroke-width="0.14">0.004</text>
<line x1="53.4" y1="209.6" x2="55.7" y2="209.6" stroke="#6a6a6a" stroke-width="0.9"/>
<text x="48.1" y="212.6" font-size="9" text-anchor="end" textLength="5.4" lengthAdjust="spacingAndGlyphs" stroke="#222" stroke-width="0.14">0</text>
<line x1="53.4" y1="234.6" x2="55.7" y2="234.6" stroke="#6a6a6a" stroke-width="0.9"/>
<text x="48.1" y="237.6" font-size="9" text-anchor="end" textLength="29.07" lengthAdjust="spacingAndGlyphs" stroke="#222" stroke-width="0.14">−0.004</text>
<line x1="53.4" y1="259.6" x2="55.7" y2="259.6" stroke="#6a6a6a" stroke-width="0.9"/>
<text x="48.1" y="262.6" font-size="9" text-anchor="end" textLength="28.89" lengthAdjust="spacingAndGlyphs" stroke="#222" stroke-width="0.14">−0.008</text>
<line x1="53.4" y1="284.6" x2="55.7" y2="284.6" stroke="#6a6a6a" stroke-width="0.9"/>
<text x="48.1" y="287.6" font-size="9" text-anchor="end" textLength="27.09" lengthAdjust="spacingAndGlyphs" stroke="#222" stroke-width="0.14">−0.012</text>
<line x1="55.7" y1="303" x2="205.1" y2="303" stroke="#6a6a6a" stroke-width="0.9"/>
<line x1="55.7" y1="303" x2="55.7" y2="305.3" stroke="#6a6a6a" stroke-width="0.9"/>
<text x="55.7" y="317.4" font-size="9" text-anchor="middle" textLength="16.2" lengthAdjust="spacingAndGlyphs" stroke="#222" stroke-width="0.14">400</text>
<line x1="77" y1="303" x2="77" y2="305.3" stroke="#6a6a6a" stroke-width="0.9"/>
<text x="77" y="317.4" font-size="9" text-anchor="middle" textLength="16.02" lengthAdjust="spacingAndGlyphs" stroke="#222" stroke-width="0.14">450</text>
<line x1="98.3" y1="303" x2="98.3" y2="305.3" stroke="#6a6a6a" stroke-width="0.9"/>
<text x="98.3" y="317.4" font-size="9" text-anchor="middle" textLength="16.02" lengthAdjust="spacingAndGlyphs" stroke="#222" stroke-width="0.14">500</text>
<line x1="119.6" y1="303" x2="119.6" y2="305.3" stroke="#6a6a6a" stroke-width="0.9"/>
<text x="119.6" y="317.4" font-size="9" text-anchor="middle" textLength="15.84" lengthAdjust="spacingAndGlyphs" stroke="#222" stroke-width="0.14">550</text>
<line x1="140.9" y1="303" x2="140.9" y2="305.3" stroke="#6a6a6a" stroke-width="0.9"/>
<text x="140.9" y="317.4" font-size="9" text-anchor="middle" textLength="16.02" lengthAdjust="spacingAndGlyphs" stroke="#222" stroke-width="0.14">600</text>
<line x1="162.2" y1="303" x2="162.2" y2="305.3" stroke="#6a6a6a" stroke-width="0.9"/>
<text x="162.2" y="317.4" font-size="9" text-anchor="middle" textLength="15.84" lengthAdjust="spacingAndGlyphs" stroke="#222" stroke-width="0.14">650</text>
<line x1="183.5" y1="303" x2="183.5" y2="305.3" stroke="#6a6a6a" stroke-width="0.9"/>
<text x="183.5" y="317.4" font-size="9" text-anchor="middle" textLength="15.75" lengthAdjust="spacingAndGlyphs" stroke="#222" stroke-width="0.14">700</text>
<line x1="204.8" y1="303" x2="204.8" y2="305.3" stroke="#6a6a6a" stroke-width="0.9"/>
<text x="204.8" y="317.4" font-size="9" text-anchor="middle" textLength="15.57" lengthAdjust="spacingAndGlyphs" stroke="#222" stroke-width="0.14">750</text>
<text x="130.2" y="334.3" font-size="9.9" text-anchor="middle" textLength="81" lengthAdjust="spacingAndGlyphs" stroke="#222" stroke-width="0.14">Wavelength (nm)</text>
<text x="0" y="0" font-size="10.69" transform="translate(9.6 244.5) rotate(-90)" text-anchor="middle" textLength="53" lengthAdjust="spacingAndGlyphs" stroke="#222" stroke-width="0.14">ΔO.D. (a.u.)</text>
<line x1="162" y1="217.6" x2="171.2" y2="217.6" stroke="#5c2a2a" stroke-width="1.1"/>
<text x="176" y="220.7" font-size="8.8" textLength="24.6" lengthAdjust="spacingAndGlyphs" stroke="#222" stroke-width="0.14">1.21 ns</text>
<line x1="162" y1="227.6" x2="171.2" y2="227.6" stroke="#a22828" stroke-width="1.1"/>
<text x="176" y="230.7" font-size="8.8" textLength="28.6" lengthAdjust="spacingAndGlyphs" stroke="#222" stroke-width="0.14">6.55 ns</text>
<line x1="162" y1="237.6" x2="171.2" y2="237.6" stroke="#e23a2a" stroke-width="1.1"/>
<text x="176" y="240.7" font-size="8.8" textLength="25" lengthAdjust="spacingAndGlyphs" stroke="#222" stroke-width="0.14">41.1 ns</text>
<line x1="162" y1="247.6" x2="171.2" y2="247.6" stroke="#f25a3a" stroke-width="1.1"/>
<text x="176" y="250.7" font-size="8.8" textLength="25.4" lengthAdjust="spacingAndGlyphs" stroke="#222" stroke-width="0.14">226 ns</text>
<line x1="162" y1="257.6" x2="171.2" y2="257.6" stroke="#f68230" stroke-width="1.1"/>
<text x="176" y="260.7" font-size="8.8" textLength="26.4" lengthAdjust="spacingAndGlyphs" stroke="#222" stroke-width="0.14">1.22 µs</text>
<line x1="162" y1="267.6" x2="171.2" y2="267.6" stroke="#f99c22" stroke-width="1.1"/>
<text x="176" y="270.7" font-size="8.8" textLength="28.4" lengthAdjust="spacingAndGlyphs" stroke="#222" stroke-width="0.14">6.52 µs</text>
<line x1="162" y1="277.6" x2="171.2" y2="277.6" stroke="#fcc224" stroke-width="1.1"/>
<text x="176" y="280.7" font-size="8.8" textLength="29" lengthAdjust="spacingAndGlyphs" stroke="#222" stroke-width="0.14">34.9 µs</text>
<line x1="162" y1="287.6" x2="171.2" y2="287.6" stroke="#fff052" stroke-width="1.1"/>
<text x="176" y="290.7" font-size="8.8" textLength="27" lengthAdjust="spacingAndGlyphs" stroke="#222" stroke-width="0.14">200 µs</text>
<line x1="162" y1="297.6" x2="171.2" y2="297.6" stroke="#fff284" stroke-width="1.1"/>
<text x="176" y="300.7" font-size="8.8" textLength="27" lengthAdjust="spacingAndGlyphs" stroke="#222" stroke-width="0.14">350 µs</text>
<text x="229" y="11" font-size="14.3" font-weight="bold" fill="#000" stroke="#000" stroke-width="0.6">b</text>
<line x1="281.6" y1="58.25" x2="431" y2="58.25" stroke="#555" stroke-width="0.9"/>
<path d="M281.60 57.90 C282.03 59.38 283.25 63.40 284.20 66.80 C285.15 70.20 286.25 74.80 287.30 78.30 C288.35 81.80 289.45 84.65 290.50 87.80 C291.55 90.95 292.55 94.58 293.60 97.20 C294.65 99.82 295.57 101.40 296.80 103.50 C298.03 105.60 299.60 107.78 301.00 109.80 C302.40 111.82 303.80 113.93 305.20 115.60 C306.60 117.27 308.35 119.28 309.40 119.80 C310.45 120.32 310.63 119.85 311.50 118.70 C312.37 117.55 313.55 115.60 314.60 112.90 C315.65 110.20 316.75 106.17 317.80 102.50 C318.85 98.83 319.85 94.40 320.90 90.90 C321.95 87.40 323.05 84.47 324.10 81.50 C325.15 78.53 325.98 75.38 327.20 73.10 C328.42 70.82 330.00 69.32 331.40 67.80 C332.80 66.28 334.13 65.38 335.60 64.00 C337.07 62.62 338.55 60.93 340.20 59.50 C341.85 58.07 343.45 56.53 345.50 55.40 C347.55 54.27 349.87 53.52 352.50 52.70 C355.13 51.88 358.38 51.15 361.30 50.50 C364.22 49.85 367.08 49.30 370.00 48.80 C372.92 48.30 375.87 47.82 378.80 47.50 C381.73 47.18 384.13 47.07 387.60 46.90 C391.07 46.73 395.78 46.43 399.60 46.50 C403.42 46.57 405.30 47.12 410.50 47.30 C415.70 47.48 427.42 47.55 430.80 47.60" fill="none" stroke="#1a1a1a" stroke-width="1.1"/>
<path d="M281.60 57.30 C281.77 57.32 282.17 56.70 282.60 57.40 C283.03 58.10 283.42 58.53 284.20 61.50 C284.98 64.47 286.25 71.08 287.30 75.20 C288.35 79.32 289.45 82.88 290.50 86.20 C291.55 89.52 292.38 93.00 293.60 95.10 C294.82 97.20 296.40 97.48 297.80 98.80 C299.20 100.12 300.60 101.52 302.00 103.00 C303.40 104.48 305.07 106.60 306.20 107.70 C307.33 108.80 307.92 109.78 308.80 109.60 C309.68 109.42 310.53 108.83 311.50 106.60 C312.47 104.37 313.55 100.03 314.60 96.20 C315.65 92.37 316.75 87.80 317.80 83.60 C318.85 79.40 319.85 74.50 320.90 71.00 C321.95 67.50 323.13 64.73 324.10 62.60 C325.07 60.47 326.00 59.12 326.70 58.20 C327.40 57.28 327.52 56.90 328.30 57.10 C329.08 57.30 330.37 58.83 331.40 59.40 C332.43 59.97 333.07 60.50 334.50 60.50 C335.93 60.50 338.17 60.03 340.00 59.40 C341.83 58.77 343.42 57.45 345.50 56.70 C347.58 55.95 349.87 55.48 352.50 54.90 C355.13 54.32 358.38 53.78 361.30 53.20 C364.22 52.62 367.08 51.92 370.00 51.40 C372.92 50.88 375.87 50.47 378.80 50.10 C381.73 49.73 385.35 49.43 387.60 49.20 C389.85 48.97 389.08 48.83 392.30 48.70 C395.52 48.57 402.03 48.55 406.90 48.40 C411.77 48.25 417.52 47.83 421.50 47.80 C425.48 47.77 429.25 48.13 430.80 48.20" fill="none" stroke="#f7901e" stroke-width="1.1"/>
<path d="M281.60 60.00 C282.03 61.13 283.25 64.10 284.20 66.80 C285.15 69.50 286.25 73.23 287.30 76.20 C288.35 79.17 289.62 82.50 290.50 84.60 C291.38 86.70 291.73 88.62 292.60 88.80 C293.47 88.98 294.65 86.75 295.70 85.70 C296.75 84.65 297.85 83.20 298.90 82.50 C299.95 81.80 300.78 81.58 302.00 81.50 C303.22 81.42 304.97 82.53 306.20 82.00 C307.43 81.47 308.52 80.13 309.40 78.30 C310.28 76.47 310.82 74.05 311.50 71.00 C312.18 67.95 312.80 64.43 313.50 60.00 C314.20 55.57 314.75 49.92 315.70 44.40 C316.65 38.88 318.22 31.27 319.20 26.90 C320.18 22.53 320.73 20.47 321.60 18.20 C322.47 15.93 323.57 13.90 324.40 13.30 C325.23 12.70 325.87 13.80 326.60 14.60 C327.33 15.40 327.85 15.77 328.80 18.10 C329.75 20.43 331.13 25.38 332.30 28.60 C333.47 31.82 334.77 35.05 335.80 37.40 C336.83 39.75 337.17 40.95 338.50 42.70 C339.83 44.45 341.90 46.60 343.80 47.90 C345.70 49.20 347.72 49.77 349.90 50.50 C352.08 51.23 354.27 51.72 356.90 52.30 C359.53 52.88 362.78 53.35 365.70 54.00 C368.62 54.65 371.48 55.60 374.40 56.20 C377.32 56.80 379.77 57.25 383.20 57.60 C386.63 57.95 387.07 58.18 395.00 58.30 C402.93 58.42 424.83 58.30 430.80 58.30" fill="none" stroke="#2b2bff" stroke-width="1.1"/>
<path d="M281.9 32.2 L282.08 33.89 L282.33 36.21 L282.62 38.98 L282.94 41.99 L283.27 45.06 L283.6 48 L283.92 50.91 L284.25 53.95 L284.59 57.05 L284.95 60.14 L285.32 63.15 L285.7 66 L286.11 68.76 L286.54 71.49 L286.99 74.14 L287.44 76.64 L287.88 78.95 L288.3 81 L288.69 82.73 L289.07 84.19 L289.43 85.44 L289.79 86.58 L290.14 87.67 L290.5 88.8 L290.84 90 L291.17 91.2 L291.49 92.37 L291.83 93.44 L292.19 94.37 L292.6 95.1 L293.05 95.58 L293.52 95.84 L294.02 95.95 L294.55 96 L295.11 96.05 L295.7 96.2 L296.34 96.47 L297.02 96.82 L297.73 97.18 L298.46 97.49 L299.19 97.68 L299.9 97.7 L300.6 97.2 L301.3 97.25 L302 96.94 L302.7 96.03 L303.4 95.28 L304.1 95.08 L304.81 94.74 L305.54 94.42 L306.26 93.35 L306.97 92.81 L307.66 92.76 L308.3 92.12 L308.88 91.82 L309.4 91.16 L309.9 90.34 L310.4 89.64 L310.92 89.52 L311.5 87.73 L312.14 86.2 L312.83 84.42 L313.54 82.87 L314.26 80.95 L314.99 78.94 L315.7 77.28 L316.4 75.77 L317.1 74.31 L317.8 72.9 L318.5 71.21 L319.2 69.3 L319.9 68.58 L320.62 66.75 L321.35 65.81 L322.08 64.29 L322.8 63.53 L323.48 62.28 L324.1 61.55 L324.64 61.49 L325.11 59.95 L325.54 59.55 L325.97 58.4 L326.44 58 L327 57.47 L327.66 56.37 L328.39 55.5 L329.16 54.39 L329.94 53.07 L330.7 52.46 L331.4 51.2 L332.05 51.05 L332.66 49.69 L333.26 49.27 L333.84 48.4 L334.42 47.95 L335 46.85 L335.57 46.56 L336.11 45.65 L336.64 45.36 L337.2 44.52 L337.81 43.64 L338.5 42.5 L339.29 41.77 L340.17 40.36 L341.1 39.23 L342.04 37.33 L342.95 36.32 L343.8 35.33 L344.54 34.6 L345.21 34.13 L345.84 33.81 L346.5 33.39 L347.24 33.05 L348.1 32.9 L349.14 32.81 L350.33 32.74 L351.59 32.31 L352.86 31.99 L354.05 31.51 L355.1 30.97 L355.99 30.18 L356.77 29.54 L357.49 28.94 L358.16 27.53 L358.82 26.59 L359.5 26.49 L360.19 25.31 L360.87 24.7 L361.53 23.92 L362.19 22.76 L362.84 23.16 L363.5 22.74 L364.15 22.36 L364.79 22.75 L365.43 23 L366.07 23.28 L366.72 24.06 L367.4 24.79 L368.1 25.62 L368.83 26.25 L369.57 26.88 L370.31 28.05 L371.06 28.4 L371.8 29.7 L372.54 30.74 L373.3 31.43 L374.06 32.13 L374.8 33.43 L375.52 34.77 L376.2 35.83 L376.83 37.02 L377.4 37.29 L377.96 38.41 L378.51 39.43 L379.08 40.05 L379.7 40.31 L380.37 41.91 L381.06 43.11 L381.78 43.58 L382.51 43.84 L383.26 44.63 L384 45.36 L384.74 46.36 L385.49 46.23 L386.24 46.36 L387.01 46.93 L387.8 46.7 L388.6 47.37 L389.46 46.88 L390.37 47.01 L391.31 47.37 L392.21 47.62 L393.06 47.55 L393.8 47.68 L394.41 47.48 L394.91 48.18 L395.35 48.68 L395.77 49.19 L396.2 49.94 L396.7 50.12 L397.26 50.74 L397.84 50.87 L398.45 51.04 L399.07 51.43 L399.69 51.79 L400.3 52.21 L400.89 52.22 L401.47 52.62 L402.06 52.69 L402.66 53.8 L403.3 54.15 L404 54.16 L404.77 54.57 L405.6 54.95 L406.46 55.9 L407.35 56.46 L408.23 57.39 L409.1 57.16 L409.94 56.95 L410.77 56.42 L411.61 57.15 L412.45 56.56 L413.31 55.83 L414.2 56.05 L415.15 55.38 L416.16 56.38 L417.19 55.52 L418.2 55.17 L419.15 54.85 L420 54.37 L420.7 55.06 L421.26 55.07 L421.77 56.06 L422.29 55.84 L422.91 56.57 L423.7 57.4 L424.77 57.69 L426.08 57.09 L427.48 57.05 L428.83 57.68 L429.99 57.69 L430.8 57.25" fill="none" stroke="#ff22ff" stroke-width="1.1" stroke-linejoin="round"/>
<path d="M281.5 25.6 L281.67 27.76 L281.9 30.77 L282.17 34.33 L282.47 38.1 L282.79 41.77 L283.1 45 L283.41 47.81 L283.72 50.45 L284.05 52.98 L284.4 55.46 L284.78 57.95 L285.2 60.5 L285.67 63.15 L286.19 65.87 L286.74 68.59 L287.3 70.83 L287.86 73.95 L288.4 76.55 L288.93 78.28 L289.48 80.18 L290.02 82.7 L290.54 84.8 L291.04 86.73 L291.5 87.37 L291.9 88.52 L292.23 90.13 L292.54 90.76 L292.86 91.68 L293.2 91.94 L293.6 91.96 L294.06 92.2 L294.55 93.32 L295.07 92.35 L295.62 92.16 L296.2 92.03 L296.8 92.53 L297.43 92.72 L298.09 92.77 L298.77 93.1 L299.49 93.43 L300.23 93.71 L301 93.88 L301.82 93.48 L302.7 92.58 L303.6 93.19 L304.5 92.14 L305.38 92.25 L306.2 91.48 L306.96 91.71 L307.67 91.15 L308.36 91.19 L309.04 91.93 L309.71 90.36 L310.4 90.19 L311.09 88.87 L311.76 88.6 L312.43 88.23 L313.12 87.23 L313.84 86.62 L314.6 85.74 L315.42 84.54 L316.29 84.25 L317.19 82.9 L318.1 82.94 L319.01 81.18 L319.9 80.64 L320.77 79.4 L321.64 78.69 L322.5 77.06 L323.36 76.54 L324.23 75.08 L325.1 74.54 L325.98 73.32 L326.86 72.15 L327.75 70.85 L328.64 70.44 L329.52 69.42 L330.4 68.97 L331.29 67.46 L332.19 67.01 L333.09 66.27 L333.97 65.5 L334.82 64.85 L335.6 64.26 L336.31 63.49 L336.95 62.92 L337.55 62.75 L338.14 62.76 L338.75 62.76 L339.4 62.24 L340.05 61.95 L340.66 61.55 L341.29 61.23 L341.99 60.78 L342.81 60.72 L343.8 60.82 L344.9 59.83 L346.06 59.43 L347.33 60.1 L348.79 59.28 L350.49 59.35 L352.5 59.21 L354.82 58.46 L357.4 59.74 L360.23 59.58 L363.29 59.13 L366.55 59.45 L370 59.34 L373.61 59.13 L377.38 59.58 L381.36 59.94 L385.59 60.38 L390.12 60.37 L395 60.22 L400.76 60.67 L407.46 59.85 L414.46 60.28 L421.12 60.27 L426.78 59.67 L430.8 59.07" fill="none" stroke="#1f8f1f" stroke-width="1.1" stroke-linejoin="round"/>
<line x1="281.6" y1="6.1" x2="281.6" y2="126.4" stroke="#6a6a6a" stroke-width="0.9"/>
<line x1="279.3" y1="21.05" x2="281.6" y2="21.05" stroke="#6a6a6a" stroke-width="0.9"/>
<text x="274" y="24.05" font-size="9" text-anchor="end" textLength="21.87" lengthAdjust="spacingAndGlyphs" stroke="#222" stroke-width="0.14">0.012</text>
<line x1="279.3" y1="39.65" x2="281.6" y2="39.65" stroke="#6a6a6a" stroke-width="0.9"/>
<text x="274" y="42.65" font-size="9" text-anchor="end" textLength="23.67" lengthAdjust="spacingAndGlyphs" stroke="#222" stroke-width="0.14">0.006</text>
<line x1="279.3" y1="58.25" x2="281.6" y2="58.25" stroke="#6a6a6a" stroke-width="0.9"/>
<text x="274" y="61.25" font-size="9" text-anchor="end" textLength="5.4" lengthAdjust="spacingAndGlyphs" stroke="#222" stroke-width="0.14">0</text>
<line x1="279.3" y1="76.85" x2="281.6" y2="76.85" stroke="#6a6a6a" stroke-width="0.9"/>
<text x="274" y="79.85" font-size="9" text-anchor="end" textLength="28.89" lengthAdjust="spacingAndGlyphs" stroke="#222" stroke-width="0.14">−0.006</text>
<line x1="279.3" y1="95.45" x2="281.6" y2="95.45" stroke="#6a6a6a" stroke-width="0.9"/>
<text x="274" y="98.45" font-size="9" text-anchor="end" textLength="27.09" lengthAdjust="spacingAndGlyphs" stroke="#222" stroke-width="0.14">−0.012</text>
<line x1="279.3" y1="114.05" x2="281.6" y2="114.05" stroke="#6a6a6a" stroke-width="0.9"/>
<text x="274" y="117.05" font-size="9" text-anchor="end" textLength="27.09" lengthAdjust="spacingAndGlyphs" stroke="#222" stroke-width="0.14">−0.018</text>
<line x1="281.6" y1="126.4" x2="431.3" y2="126.4" stroke="#6a6a6a" stroke-width="0.9"/>
<line x1="281.6" y1="126.4" x2="281.6" y2="128.7" stroke="#6a6a6a" stroke-width="0.9"/>
<text x="281.6" y="140.8" font-size="9" text-anchor="middle" textLength="16.2" lengthAdjust="spacingAndGlyphs" stroke="#222" stroke-width="0.14">400</text>
<line x1="302.94" y1="126.4" x2="302.94" y2="128.7" stroke="#6a6a6a" stroke-width="0.9"/>
<text x="302.94" y="140.8" font-size="9" text-anchor="middle" textLength="16.02" lengthAdjust="spacingAndGlyphs" stroke="#222" stroke-width="0.14">450</text>
<line x1="324.28" y1="126.4" x2="324.28" y2="128.7" stroke="#6a6a6a" stroke-width="0.9"/>
<text x="324.28" y="140.8" font-size="9" text-anchor="middle" textLength="16.02" lengthAdjust="spacingAndGlyphs" stroke="#222" stroke-width="0.14">500</text>
<line x1="345.62" y1="126.4" x2="345.62" y2="128.7" stroke="#6a6a6a" stroke-width="0.9"/>
<text x="345.62" y="140.8" font-size="9" text-anchor="middle" textLength="15.84" lengthAdjust="spacingAndGlyphs" stroke="#222" stroke-width="0.14">550</text>
<line x1="366.96" y1="126.4" x2="366.96" y2="128.7" stroke="#6a6a6a" stroke-width="0.9"/>
<text x="366.96" y="140.8" font-size="9" text-anchor="middle" textLength="16.02" lengthAdjust="spacingAndGlyphs" stroke="#222" stroke-width="0.14">600</text>
<line x1="388.3" y1="126.4" x2="388.3" y2="128.7" stroke="#6a6a6a" stroke-width="0.9"/>
<text x="388.3" y="140.8" font-size="9" text-anchor="middle" textLength="15.84" lengthAdjust="spacingAndGlyphs" stroke="#222" stroke-width="0.14">650</text>
<line x1="409.64" y1="126.4" x2="409.64" y2="128.7" stroke="#6a6a6a" stroke-width="0.9"/>
<text x="409.64" y="140.8" font-size="9" text-anchor="middle" textLength="15.75" lengthAdjust="spacingAndGlyphs" stroke="#222" stroke-width="0.14">700</text>
<line x1="430.98" y1="126.4" x2="430.98" y2="128.7" stroke="#6a6a6a" stroke-width="0.9"/>
<text x="430.98" y="140.8" font-size="9" text-anchor="middle" textLength="15.57" lengthAdjust="spacingAndGlyphs" stroke="#222" stroke-width="0.14">750</text>
<text x="356.2" y="157.7" font-size="9.9" text-anchor="middle" textLength="81" lengthAdjust="spacingAndGlyphs" stroke="#222" stroke-width="0.14">Wavelength (nm)</text>
<text x="0" y="0" font-size="11.2" transform="translate(238 66.5) rotate(-90)" text-anchor="middle" textLength="18.8" lengthAdjust="spacingAndGlyphs" stroke="#222" stroke-width="0.14">SAS</text>
<line x1="338.2" y1="72.9" x2="348.1" y2="72.9" stroke="#1a1a1a" stroke-width="1" stroke-opacity="0.9"/>
<text x="0" y="0" font-size="8.5" transform="translate(353.9 75.8) scale(1.05 1)" stroke="#000" stroke-width="0.18"><tspan font-weight="bold">*[Ru-LH]</tspan><tspan dy="-3.4" font-weight="bold" font-size="5.4">2+</tspan></text>
<line x1="338.2" y1="84.08" x2="348.1" y2="84.08" stroke="#f7901e" stroke-width="1" stroke-opacity="0.9"/>
<text x="0" y="0" font-size="8.5" transform="translate(353.9 86.98) scale(1.05 1)" stroke="#000" stroke-width="0.18"><tspan font-weight="bold">*[Ru-L]</tspan><tspan dy="-3.4" font-weight="bold" font-size="5.4">+</tspan></text>
<line x1="338.2" y1="95.26" x2="348.1" y2="95.26" stroke="#2b2bff" stroke-width="1" stroke-opacity="0.9"/>
<text x="0" y="0" font-size="8.5" transform="translate(353.9 98.16) scale(1.05 1)" stroke="#000" stroke-width="0.18"><tspan font-weight="bold">[Ru-L]</tspan><tspan dy="-3.4" font-weight="bold" font-size="5.4">+</tspan><tspan dy="3.4"> + </tspan><tspan font-weight="bold">[Ru-L]</tspan><tspan dy="-3.4" font-weight="bold" font-size="5.4">2+</tspan><tspan dy="3.4"> + </tspan><tspan font-weight="bold">MQ</tspan><tspan dy="-3.4" font-weight="bold" font-size="5.4">•</tspan></text>
<line x1="338.2" y1="106.44" x2="348.1" y2="106.44" stroke="#ff22ff" stroke-width="1" stroke-opacity="0.9"/>
<text x="0" y="0" font-size="8.5" transform="translate(353.9 109.34) scale(1.05 1)" stroke="#000" stroke-width="0.18"><tspan font-weight="bold">[Ru-L]</tspan><tspan dy="-3.4" font-weight="bold" font-size="5.4">2+</tspan><tspan dy="3.4"> + </tspan><tspan font-weight="bold">HMQ</tspan><tspan dy="-3.4" font-weight="bold" font-size="5.4">•+</tspan></text>
<line x1="338.2" y1="117.62" x2="348.1" y2="117.62" stroke="#1f8f1f" stroke-width="1" stroke-opacity="0.9"/>
<text x="0" y="0" font-size="8.5" transform="translate(353.9 120.52) scale(1.05 1)" stroke="#000" stroke-width="0.18"><tspan font-weight="bold">[Ru-LH]</tspan><tspan dy="-3.4" font-weight="bold" font-size="5.4">2+</tspan></text>
<text x="229" y="189" font-size="14.3" font-weight="bold" fill="#000" stroke="#000" stroke-width="0.6">e</text>
<line x1="281.6" y1="234.6" x2="431" y2="234.6" stroke="#555" stroke-width="0.9"/>
<path d="M281.60 236.00 C282.20 238.33 284.02 245.33 285.20 250.00 C286.38 254.67 287.53 259.92 288.70 264.00 C289.87 268.08 290.73 271.30 292.20 274.50 C293.67 277.70 296.20 281.00 297.50 283.20 C298.80 285.40 298.83 286.12 300.00 287.70 C301.17 289.28 303.10 291.12 304.50 292.70 C305.90 294.28 307.28 296.82 308.40 297.20 C309.52 297.58 310.37 296.68 311.20 295.00 C312.03 293.32 312.65 290.28 313.40 287.10 C314.15 283.92 314.95 279.63 315.70 275.90 C316.45 272.17 317.17 268.23 317.90 264.70 C318.63 261.17 319.17 257.87 320.10 254.70 C321.03 251.53 322.18 248.22 323.50 245.70 C324.82 243.18 326.52 241.27 328.00 239.60 C329.48 237.93 330.92 236.92 332.40 235.70 C333.88 234.48 335.22 233.33 336.90 232.30 C338.58 231.27 340.45 230.33 342.50 229.50 C344.55 228.67 346.28 228.05 349.20 227.30 C352.12 226.55 354.87 225.62 360.00 225.00 C365.13 224.38 373.33 223.83 380.00 223.60 C386.67 223.37 393.33 223.37 400.00 223.60 C406.67 223.83 414.90 224.53 420.00 225.00 C425.10 225.47 428.83 226.17 430.60 226.40" fill="none" stroke="#1a1a1a" stroke-width="1.1"/>
<path d="M281.60 236.00 C282.20 238.03 284.02 244.42 285.20 248.20 C286.38 251.98 287.53 255.63 288.70 258.70 C289.87 261.77 291.03 265.43 292.20 266.60 C293.37 267.77 294.53 266.13 295.70 265.70 C296.87 265.27 297.18 264.25 299.20 264.00 C301.22 263.75 305.90 265.38 307.80 264.20 C309.70 263.02 309.75 260.17 310.60 256.90 C311.45 253.63 312.15 248.88 312.90 244.60 C313.65 240.32 314.37 235.63 315.10 231.20 C315.83 226.77 316.45 223.62 317.30 218.00 C318.15 212.38 319.33 201.92 320.20 197.50 C321.07 193.08 321.77 192.73 322.50 191.50 C323.23 190.27 323.67 189.68 324.60 190.10 C325.53 190.52 326.78 191.90 328.10 194.00 C329.42 196.10 330.90 200.22 332.50 202.70 C334.10 205.18 336.45 207.52 337.70 208.90 C338.95 210.28 337.95 209.75 340.00 211.00 C342.05 212.25 346.67 214.63 350.00 216.40 C353.33 218.17 356.67 220.00 360.00 221.60 C363.33 223.20 366.67 224.67 370.00 226.00 C373.33 227.33 376.67 228.67 380.00 229.60 C383.33 230.53 385.00 231.00 390.00 231.60 C395.00 232.20 403.23 232.87 410.00 233.20 C416.77 233.53 427.17 233.53 430.60 233.60" fill="none" stroke="#2b2bff" stroke-width="1.1"/>
<path d="M281.6 223.7 L281.99 225.86 L282.54 228.9 L283.18 232.47 L283.87 236.24 L284.56 239.87 L285.2 243 L285.79 245.71 L286.37 248.29 L286.96 250.72 L287.54 252.99 L288.12 255.09 L288.7 257 L289.26 258.72 L289.8 260.25 L290.34 261.3 L290.9 262.9 L291.51 264.12 L292.2 264.67 L293.01 265.24 L293.94 266.14 L294.91 266.72 L295.87 267.22 L296.76 266.93 L297.5 267.18 L298.03 267.9 L298.39 268 L298.66 268.35 L298.96 268.27 L299.37 268.03 L300 268.03 L300.9 268.82 L302 268.2 L303.23 268.15 L304.47 268.09 L305.66 268.33 L306.7 268.14 L307.59 267.71 L308.41 267.41 L309.16 267.02 L309.87 266.54 L310.54 265.9 L311.2 264.75 L311.82 263.11 L312.39 262.4 L312.92 260.38 L313.44 259.1 L313.96 257.11 L314.5 255.8 L315.06 253.85 L315.63 252.21 L316.19 251.03 L316.76 248.24 L317.33 246.57 L317.9 244.27 L318.47 242.89 L319.04 241.55 L319.61 239.85 L320.17 238.52 L320.74 237.06 L321.3 235.45 L321.84 234.57 L322.36 233.03 L322.88 232.56 L323.41 230.87 L323.98 230.11 L324.6 228.9 L325.29 228.13 L326.06 226.76 L326.85 226.22 L327.64 225.04 L328.41 224.52 L329.1 223.56 L329.67 222.75 L330.13 221.98 L330.56 221.87 L331.03 221.25 L331.62 220.85 L332.4 219.41 L333.45 218.39 L334.71 216.88 L336.09 215.18 L337.5 213.47 L338.83 211.83 L340 210.15 L340.98 208.67 L341.86 207.47 L342.66 206.41 L343.43 205.42 L344.2 204.19 L345 203.26 L345.82 202.43 L346.63 201.82 L347.44 201.21 L348.26 200.96 L349.11 200.84 L350 199.92 L350.97 199.45 L352 199.79 L353.06 199.06 L354.11 198.95 L355.1 198.6 L356 197.72 L356.78 198.19 L357.48 197.59 L358.12 196.73 L358.74 196.37 L359.36 195.66 L360 194.78 L360.68 194.18 L361.37 193.35 L362.06 192.53 L362.74 191.47 L363.39 190.52 L364 190.34 L364.56 189.58 L365.07 189.94 L365.56 190.15 L366.04 190.08 L366.51 190.08 L367 190.77 L367.47 191.6 L367.89 192.32 L368.31 193.32 L368.78 193.56 L369.33 194.83 L370 196.16 L370.83 197.34 L371.78 198.37 L372.81 200.89 L373.89 203.06 L374.97 204.53 L376 205.77 L377 207.64 L378 209.63 L379 212.02 L380 213.3 L381 214.73 L382 216.39 L383 216.97 L384 218.2 L385 218.13 L386 218.64 L387 219.35 L388 219.96 L389 220.16 L390 220.37 L391 220.09 L392 220.64 L393 220.99 L394 221.47 L395 222.35 L396 222.82 L397 223.87 L398 224.49 L399 225.18 L400 226.03 L400.98 226.82 L401.93 227.67 L402.88 228.06 L403.85 228.8 L404.88 229.14 L406 230.4 L407.22 230.78 L408.52 230.7 L409.88 230.88 L411.26 230.91 L412.64 231.45 L414 231.65 L415.33 232.32 L416.64 231.97 L417.96 231.83 L419.29 231.52 L420.63 232.61 L422 232.45 L423.5 232.19 L425.14 232.86 L426.8 232.65 L428.35 234.14 L429.66 233.74 L430.6 233.74" fill="none" stroke="#ff22ff" stroke-width="1.1" stroke-linejoin="round"/>
<path d="M281.6 232.5 L281.99 234.08 L282.54 236.33 L283.18 238.96 L283.87 241.71 L284.56 244.31 L285.2 246.5 L285.79 248.29 L286.37 249.89 L286.96 251.34 L287.54 252.69 L288.12 253.53 L288.7 255.33 L289.26 256.77 L289.8 257.41 L290.34 258.22 L290.9 259.66 L291.51 260.73 L292.2 261.68 L293.01 261.44 L293.94 261.83 L294.91 262.83 L295.87 262.96 L296.76 263.49 L297.5 263.44 L298.03 263.16 L298.39 263.12 L298.66 264.08 L298.96 263.03 L299.37 262.82 L300 262.7 L300.9 263.24 L302 263.44 L303.23 263.47 L304.47 263.72 L305.66 263.86 L306.7 263.84 L307.58 263.61 L308.36 262.78 L309.09 261.44 L309.78 261.57 L310.48 260.03 L311.2 259.64 L311.95 258.3 L312.7 257.86 L313.46 256.56 L314.21 255.84 L314.96 255.84 L315.7 253.58 L316.44 252.78 L317.17 250.86 L317.9 250.03 L318.63 249.19 L319.36 247.8 L320.1 246.93 L320.84 245.89 L321.59 244.61 L322.34 244.32 L323.1 243.03 L323.85 243.2 L324.6 241.62 L325.35 241.31 L326.1 240.38 L326.85 240.05 L327.6 238.87 L328.35 238.82 L329.1 237.86 L329.84 237.8 L330.56 237.06 L331.29 236.41 L332.03 235.64 L332.79 235.76 L333.6 235.26 L334.4 235.31 L335.16 234.28 L335.95 234.3 L336.83 234.01 L337.86 233.7 L339.1 233.47 L340.5 233.3 L342 232.89 L343.64 232.64 L345.49 232.79 L347.59 233.11 L350 233.43 L352.34 233.29 L354.49 233.41 L356.89 233.44 L359.99 233.56 L364.21 233.53 L370 233.87 L378.45 234.36 L389.44 233.77 L401.55 233.8 L413.39 234.87 L423.54 234.4 L430.6 234.74" fill="none" stroke="#1f8f1f" stroke-width="1.1" stroke-linejoin="round"/>
<line x1="281.6" y1="184" x2="281.6" y2="302.6" stroke="#6a6a6a" stroke-width="0.9"/>
<line x1="279.3" y1="197.8" x2="281.6" y2="197.8" stroke="#6a6a6a" stroke-width="0.9"/>
<text x="274" y="200.8" font-size="9" text-anchor="end" textLength="23.67" lengthAdjust="spacingAndGlyphs" stroke="#222" stroke-width="0.14">0.008</text>
<line x1="279.3" y1="216.2" x2="281.6" y2="216.2" stroke="#6a6a6a" stroke-width="0.9"/>
<text x="274" y="219.2" font-size="9" text-anchor="end" textLength="23.85" lengthAdjust="spacingAndGlyphs" stroke="#222" stroke-width="0.14">0.004</text>
<line x1="279.3" y1="234.6" x2="281.6" y2="234.6" stroke="#6a6a6a" stroke-width="0.9"/>
<text x="274" y="237.6" font-size="9" text-anchor="end" textLength="5.4" lengthAdjust="spacingAndGlyphs" stroke="#222" stroke-width="0.14">0</text>
<line x1="279.3" y1="253" x2="281.6" y2="253" stroke="#6a6a6a" stroke-width="0.9"/>
<text x="274" y="256" font-size="9" text-anchor="end" textLength="29.07" lengthAdjust="spacingAndGlyphs" stroke="#222" stroke-width="0.14">−0.004</text>
<line x1="279.3" y1="271.4" x2="281.6" y2="271.4" stroke="#6a6a6a" stroke-width="0.9"/>
<text x="274" y="274.4" font-size="9" text-anchor="end" textLength="28.89" lengthAdjust="spacingAndGlyphs" stroke="#222" stroke-width="0.14">−0.008</text>
<line x1="279.3" y1="289.8" x2="281.6" y2="289.8" stroke="#6a6a6a" stroke-width="0.9"/>
<text x="274" y="292.8" font-size="9" text-anchor="end" textLength="27.09" lengthAdjust="spacingAndGlyphs" stroke="#222" stroke-width="0.14">−0.012</text>
<line x1="281.6" y1="302.6" x2="431.3" y2="302.6" stroke="#6a6a6a" stroke-width="0.9"/>
<line x1="281.6" y1="302.6" x2="281.6" y2="304.9" stroke="#6a6a6a" stroke-width="0.9"/>
<text x="281.6" y="317" font-size="9" text-anchor="middle" textLength="16.2" lengthAdjust="spacingAndGlyphs" stroke="#222" stroke-width="0.14">400</text>
<line x1="302.94" y1="302.6" x2="302.94" y2="304.9" stroke="#6a6a6a" stroke-width="0.9"/>
<text x="302.94" y="317" font-size="9" text-anchor="middle" textLength="16.02" lengthAdjust="spacingAndGlyphs" stroke="#222" stroke-width="0.14">450</text>
<line x1="324.28" y1="302.6" x2="324.28" y2="304.9" stroke="#6a6a6a" stroke-width="0.9"/>
<text x="324.28" y="317" font-size="9" text-anchor="middle" textLength="16.02" lengthAdjust="spacingAndGlyphs" stroke="#222" stroke-width="0.14">500</text>
<line x1="345.62" y1="302.6" x2="345.62" y2="304.9" stroke="#6a6a6a" stroke-width="0.9"/>
<text x="345.62" y="317" font-size="9" text-anchor="middle" textLength="15.84" lengthAdjust="spacingAndGlyphs" stroke="#222" stroke-width="0.14">550</text>
<line x1="366.96" y1="302.6" x2="366.96" y2="304.9" stroke="#6a6a6a" stroke-width="0.9"/>
<text x="366.96" y="317" font-size="9" text-anchor="middle" textLength="16.02" lengthAdjust="spacingAndGlyphs" stroke="#222" stroke-width="0.14">600</text>
<line x1="388.3" y1="302.6" x2="388.3" y2="304.9" stroke="#6a6a6a" stroke-width="0.9"/>
<text x="388.3" y="317" font-size="9" text-anchor="middle" textLength="15.84" lengthAdjust="spacingAndGlyphs" stroke="#222" stroke-width="0.14">650</text>
<line x1="409.64" y1="302.6" x2="409.64" y2="304.9" stroke="#6a6a6a" stroke-width="0.9"/>
<text x="409.64" y="317" font-size="9" text-anchor="middle" textLength="15.75" lengthAdjust="spacingAndGlyphs" stroke="#222" stroke-width="0.14">700</text>
<line x1="430.98" y1="302.6" x2="430.98" y2="304.9" stroke="#6a6a6a" stroke-width="0.9"/>
<text x="430.98" y="317" font-size="9" text-anchor="middle" textLength="15.57" lengthAdjust="spacingAndGlyphs" stroke="#222" stroke-width="0.14">750</text>
<text x="356.2" y="334.3" font-size="9.9" text-anchor="middle" textLength="81" lengthAdjust="spacingAndGlyphs" stroke="#222" stroke-width="0.14">Wavelength (nm)</text>
<text x="0" y="0" font-size="11.2" transform="translate(238 244) rotate(-90)" text-anchor="middle" textLength="18.8" lengthAdjust="spacingAndGlyphs" stroke="#222" stroke-width="0.14">SAS</text>
<line x1="338.2" y1="256.4" x2="348.1" y2="256.4" stroke="#1a1a1a" stroke-width="1" stroke-opacity="0.9"/>
<text x="0" y="0" font-size="8.5" transform="translate(353.9 259.3) scale(1.05 1)" stroke="#000" stroke-width="0.18"><tspan font-weight="bold">*[Ru-LH]</tspan><tspan dy="-3.4" font-weight="bold" font-size="5.4">2+</tspan></text>
<line x1="338.2" y1="268.5" x2="348.1" y2="268.5" stroke="#2b2bff" stroke-width="1" stroke-opacity="0.9"/>
<text x="0" y="0" font-size="8.5" transform="translate(353.9 271.4) scale(1.05 1)" stroke="#000" stroke-width="0.18"><tspan font-weight="bold">[Ru-L]</tspan><tspan dy="-3.4" font-weight="bold" font-size="5.4">+</tspan><tspan dy="3.4"> + </tspan><tspan font-weight="bold">[Ru-L]</tspan><tspan dy="-3.4" font-weight="bold" font-size="5.4">2+</tspan><tspan dy="3.4"> + </tspan><tspan font-weight="bold">MQ</tspan><tspan dy="-3.4" font-weight="bold" font-size="5.4">•</tspan></text>
<line x1="338.2" y1="280.6" x2="348.1" y2="280.6" stroke="#ff22ff" stroke-width="1" stroke-opacity="0.9"/>
<text x="0" y="0" font-size="8.5" transform="translate(353.9 283.5) scale(1.05 1)" stroke="#000" stroke-width="0.18"><tspan font-weight="bold">[Ru-L]</tspan><tspan dy="-3.4" font-weight="bold" font-size="5.4">2+</tspan><tspan dy="3.4"> + </tspan><tspan font-weight="bold">HMQ</tspan><tspan dy="-3.4" font-weight="bold" font-size="5.4">•+</tspan></text>
<line x1="338.2" y1="292.7" x2="348.1" y2="292.7" stroke="#1f8f1f" stroke-width="1" stroke-opacity="0.9"/>
<text x="0" y="0" font-size="8.5" transform="translate(353.9 295.6) scale(1.05 1)" stroke="#000" stroke-width="0.18"><tspan font-weight="bold">[Ru-LH]</tspan><tspan dy="-3.4" font-weight="bold" font-size="5.4">2+</tspan></text>
<text x="468.5" y="11" font-size="14.3" font-weight="bold" fill="#000" stroke="#000" stroke-width="0.6">c</text>
<path d="M506.6 8.8 L507.85 8.94 L508.67 9.03 L509.6 9.14 L510.58 9.26 L511.57 9.41 L512.56 9.59 L513.54 9.8 L514.51 10.05 L515.46 10.34 L516.4 10.68 L517.33 11.06 L518.24 11.48 L519.13 11.94 L519.99 12.43 L520.85 12.96 L521.68 13.52 L522.49 14.1 L523.28 14.71 L524.05 15.35 L524.81 16.01 L525.54 16.7 L526.24 17.4 L526.93 18.13 L527.59 18.88 L528.24 19.65 L528.86 20.44 L529.46 21.24 L530.05 22.05 L530.61 22.88 L531.16 23.72 L531.68 24.57 L532.19 25.44 L532.68 26.31 L533.15 27.19 L533.62 28.08 L534.07 28.97 L534.52 29.87 L534.96 30.77 L535.39 31.68 L535.81 32.59 L536.22 33.5 L536.62 34.42 L537.02 35.34 L537.41 36.27 L537.79 37.19 L538.17 38.12 L538.54 39.05 L538.9 39.99 L539.26 40.93 L539.6 41.87 L539.94 42.81 L540.27 43.76 L540.59 44.71 L540.9 45.66 L541.2 46.62 L541.49 47.58 L541.77 48.54 L542.05 49.5 L542.32 50.47 L542.58 51.44 L542.84 52.41 L543.08 53.38 L543.32 54.35 L543.56 55.32 L543.78 56.3 L544 57.28 L544.21 58.26 L544.42 59.24 L544.62 60.22 L544.82 61.21 L545.01 62.19 L545.2 63.18 L545.38 64.16 L545.55 65.15 L545.72 66.14 L545.89 67.13 L546.06 68.11 L546.24 69.1 L546.42 70.09 L546.61 71.07 L546.81 72.05 L547 73.04 L547.2 74.02 L547.4 75 L547.6 75.98 L547.81 76.97 L548.01 77.95 L548.22 78.93 L548.43 79.91 L548.65 80.89 L548.86 81.87 L549.08 82.84 L549.31 83.82 L549.54 84.8 L549.77 85.77 L550 86.75 L550.24 87.72 L550.48 88.7 L550.72 89.67 L550.96 90.64 L551.21 91.61 L551.46 92.58 L551.71 93.56 L551.96 94.53 L552.21 95.5 L552.46 96.47 L552.72 97.44 L552.97 98.41 L553.23 99.37 L553.5 100.34 L553.76 101.31 L554.03 102.28 L554.3 103.24 L554.58 104.2 L554.86 105.17 L555.15 106.13 L555.44 107.09 L555.73 108.04 L556.04 109 L556.35 109.95 L556.66 110.9 L556.98 111.85 L557.32 112.8 L557.66 113.74 L558.02 114.68 L558.39 115.61 L558.78 116.53 L559.19 117.45 L559.62 118.35 L560.07 119.24 L560.55 120.12 L561.06 120.98 L561.61 121.82 L562.2 122.62 L562.85 123.38 L563.55 124.08 L564.31 124.69 L565.15 125.17 L566.06 125.53 L567.01 125.75 L567.99 125.88 L568.99 125.95 L569.99 125.99 L570.99 126 L571.98 126.01 L572.92 126.01 L573.75 126 L575 126" fill="none" stroke="#1a1a1a" stroke-width="1.1" stroke-linejoin="round"/>
<path d="M506.6 125.4 L507.79 125.01 L508.58 124.75 L509.47 124.45 L510.41 124.14 L511.36 123.81 L512.3 123.48 L513.25 123.14 L514.19 122.8 L515.13 122.44 L516.06 122.09 L517 121.72 L517.93 121.35 L518.85 120.96 L519.77 120.56 L520.68 120.14 L521.58 119.69 L522.46 119.22 L523.33 118.72 L524.18 118.19 L525.01 117.64 L525.84 117.07 L526.65 116.48 L527.44 115.87 L528.23 115.24 L528.99 114.6 L529.75 113.93 L530.48 113.25 L531.19 112.55 L531.88 111.82 L532.56 111.08 L533.21 110.32 L533.85 109.55 L534.47 108.76 L535.08 107.97 L535.69 107.17 L536.27 106.36 L536.85 105.54 L537.42 104.71 L537.97 103.87 L538.5 103.02 L539.03 102.17 L539.54 101.31 L540.04 100.44 L540.52 99.56 L540.99 98.67 L541.44 97.78 L541.89 96.88 L542.34 95.98 L542.77 95.08 L543.21 94.18 L543.65 93.27 L544.09 92.37 L544.52 91.47 L544.96 90.57 L545.4 89.67 L545.84 88.76 L546.27 87.86 L546.71 86.95 L547.14 86.05 L547.59 85.15 L548.05 84.27 L548.54 83.39 L549.07 82.55 L549.65 81.74 L550.3 80.99 L551.01 80.33 L551.81 79.79 L552.67 79.44 L553.57 79.32 L554.48 79.44 L555.36 79.76 L556.17 80.27 L556.87 80.93 L557.48 81.7 L558 82.53 L558.47 83.41 L558.89 84.32 L559.29 85.24 L559.66 86.17 L560 87.11 L560.33 88.06 L560.64 89.01 L560.93 89.97 L561.22 90.94 L561.49 91.9 L561.75 92.87 L562.01 93.84 L562.27 94.81 L562.52 95.78 L562.77 96.75 L563.02 97.72 L563.27 98.69 L563.51 99.66 L563.75 100.64 L563.99 101.61 L564.22 102.59 L564.45 103.56 L564.68 104.54 L564.91 105.52 L565.14 106.49 L565.37 107.47 L565.61 108.44 L565.86 109.41 L566.12 110.38 L566.38 111.35 L566.66 112.31 L566.94 113.28 L567.23 114.24 L567.53 115.19 L567.84 116.15 L568.17 117.09 L568.51 118.04 L568.88 118.97 L569.28 119.88 L569.73 120.78 L570.23 121.64 L570.79 122.45 L571.42 123.22 L572.12 123.93 L572.87 124.56 L573.69 125.09 L574.57 125.48 L575.51 125.74 L576.49 125.89 L577.48 125.98 L578.48 126.02 L579.48 126.03 L580.49 126.04 L581.48 126.03 L582.46 126.02 L583.35 126.01 L584.09 126.01" fill="none" stroke="#f7901e" stroke-width="1.1" stroke-linejoin="round"/>
<path d="M506.6 126 L507.85 126 L508.67 125.99 L509.62 125.99 L510.6 125.99 L511.6 125.99 L512.6 125.99 L513.6 125.98 L514.6 125.98 L515.6 125.98 L516.6 125.97 L517.6 125.97 L518.6 125.96 L519.6 125.96 L520.6 125.95 L521.6 125.94 L522.6 125.93 L523.6 125.91 L524.6 125.89 L525.6 125.87 L526.6 125.84 L527.6 125.81 L528.6 125.77 L529.6 125.73 L530.6 125.68 L531.6 125.62 L532.59 125.56 L533.59 125.49 L534.59 125.41 L535.59 125.33 L536.58 125.24 L537.57 125.12 L538.55 124.96 L539.51 124.72 L540.45 124.4 L541.34 123.99 L542.2 123.49 L543.02 122.93 L543.79 122.31 L544.53 121.64 L545.24 120.93 L545.91 120.2 L546.56 119.44 L547.17 118.65 L547.75 117.83 L548.3 117 L548.83 116.16 L549.35 115.3 L549.85 114.43 L550.34 113.56 L550.82 112.69 L551.29 111.81 L551.75 110.92 L552.21 110.03 L552.65 109.13 L553.08 108.23 L553.49 107.32 L553.9 106.4 L554.29 105.48 L554.67 104.56 L555.03 103.62 L555.37 102.69 L555.71 101.74 L556.04 100.8 L556.37 99.86 L556.71 98.91 L557.05 97.97 L557.39 97.04 L557.75 96.1 L558.1 95.17 L558.46 94.23 L558.82 93.3 L559.17 92.36 L559.52 91.43 L559.87 90.49 L560.21 89.55 L560.54 88.6 L560.86 87.66 L561.17 86.71 L561.49 85.76 L561.8 84.81 L562.11 83.86 L562.43 82.91 L562.75 81.96 L563.09 81.02 L563.42 80.08 L563.77 79.14 L564.11 78.2 L564.47 77.27 L564.85 76.34 L565.25 75.43 L565.69 74.54 L566.2 73.68 L566.77 72.89 L567.44 72.18 L568.19 71.6 L569.03 71.19 L569.94 71 L570.85 71.04 L571.73 71.32 L572.53 71.8 L573.22 72.45 L573.8 73.23 L574.29 74.08 L574.72 74.98 L575.11 75.9 L575.47 76.83 L575.8 77.77 L576.13 78.72 L576.44 79.67 L576.75 80.62 L577.06 81.57 L577.37 82.52 L577.67 83.47 L577.98 84.42 L578.3 85.37 L578.61 86.32 L578.93 87.27 L579.25 88.22 L579.58 89.16 L579.9 90.11 L580.22 91.06 L580.53 92.01 L580.85 92.96 L581.17 93.9 L581.48 94.85 L581.8 95.8 L582.12 96.75 L582.43 97.7 L582.75 98.65 L583.06 99.6 L583.37 100.55 L583.68 101.5 L583.99 102.45 L584.29 103.4 L584.6 104.36 L584.9 105.31 L585.21 106.26 L585.52 107.21 L585.83 108.16 L586.15 109.11 L586.48 110.06 L586.81 111 L587.16 111.93 L587.53 112.87 L587.9 113.79 L588.29 114.71 L588.69 115.63 L589.11 116.54 L589.54 117.44 L590 118.33 L590.47 119.21 L590.97 120.07 L591.51 120.91 L592.08 121.73 L592.69 122.51 L593.35 123.25 L594.05 123.93 L594.77 124.54 L595.47 125.07 L596.15 125.47 L596.85 125.75 L597.64 125.9 L598.54 125.96 L599.5 125.98 L600.49 125.99 L601.49 126 L602.49 126 L603.49 126.01 L604.49 126.02 L605.49 126.02 L606.49 126.03 L607.49 126.03 L608.49 126.03 L609.49 126.04 L610.49 126.04 L611.49 126.04 L612.49 126.04 L613.49 126.04 L614.49 126.04 L615.49 126.04 L616.5 126.04 L617.5 126.04 L618.5 126.04 L619.5 126.04 L620.5 126.04 L621.5 126.04 L622.5 126.04 L623.5 126.04 L624.5 126.04 L625.5 126.04 L626.5 126.04 L627.5 126.04 L628.5 126.04 L629.5 126.04 L630.5 126.04 L631.5 126.03 L632.5 126.03 L633.5 126.03 L634.5 126.03 L635.5 126.03 L636.5 126.03 L637.5 126.03 L638.5 126.02 L639.5 126.02 L640.5 126.02 L641.5 126.02 L642.5 126.02 L643.5 126.02 L644.5 126.01 L645.5 126.01 L646.5 126.01 L647.5 126.01 L648.5 126.01 L649.5 126.01 L650.5 126 L651.49 126 L652.46 126 L653.36 126 L654.09 126" fill="none" stroke="#2b2bff" stroke-width="1.1" stroke-linejoin="round"/>
<path d="M506.6 126 L507.85 126 L508.68 126 L509.62 126 L510.61 126 L511.61 126 L512.61 126 L513.61 126 L514.61 126 L515.61 126 L516.62 126 L517.62 126 L518.62 126 L519.62 126.01 L520.62 126.01 L521.62 126.01 L522.63 126.01 L523.63 126.01 L524.63 126.01 L525.63 126.01 L526.63 126.01 L527.63 126.01 L528.64 126.01 L529.64 126.01 L530.64 126.01 L531.64 126.01 L532.64 126.01 L533.64 126.01 L534.65 126.01 L535.65 126.01 L536.65 126 L537.65 126 L538.65 126 L539.65 126 L540.66 126 L541.66 126 L542.66 125.99 L543.66 125.99 L544.66 125.99 L545.66 125.98 L546.67 125.98 L547.67 125.98 L548.67 125.97 L549.67 125.96 L550.67 125.95 L551.67 125.94 L552.67 125.93 L553.68 125.92 L554.68 125.91 L555.68 125.89 L556.68 125.88 L557.68 125.86 L558.68 125.85 L559.69 125.82 L560.69 125.79 L561.69 125.75 L562.69 125.68 L563.68 125.6 L564.68 125.5 L565.67 125.38 L566.67 125.25 L567.66 125.1 L568.64 124.94 L569.63 124.77 L570.62 124.59 L571.6 124.41 L572.59 124.23 L573.57 124.05 L574.56 123.85 L575.54 123.66 L576.52 123.45 L577.5 123.25 L578.48 123.06 L579.46 122.87 L580.45 122.69 L581.44 122.52 L582.43 122.35 L583.41 122.2 L584.4 122.04 L585.39 121.89 L586.39 121.75 L587.38 121.62 L588.37 121.51 L589.37 121.43 L590.37 121.37 L591.37 121.36 L592.37 121.39 L593.36 121.46 L594.36 121.57 L595.35 121.72 L596.33 121.9 L597.31 122.09 L598.29 122.31 L599.27 122.53 L600.24 122.75 L601.22 122.98 L602.19 123.22 L603.16 123.47 L604.13 123.72 L605.1 123.98 L606.06 124.24 L607.04 124.48 L608.01 124.71 L608.99 124.91 L609.98 125.09 L610.96 125.25 L611.96 125.39 L612.95 125.51 L613.95 125.61 L614.94 125.7 L615.94 125.77 L616.94 125.83 L617.94 125.88 L618.94 125.93 L619.94 125.96 L620.94 125.98 L621.95 125.99 L622.95 126 L623.95 126 L624.95 126 L625.95 126 L626.95 126 L627.96 126 L628.96 126 L629.96 126 L630.96 126 L631.96 126 L632.96 126 L633.97 126.01 L634.97 126.01 L635.97 126.01 L636.97 126.01 L637.97 126.01 L638.97 126.01 L639.98 126.01 L640.98 126.01 L641.98 126.01 L642.98 126.01 L643.98 126.01 L644.98 126.01 L645.99 126 L646.99 126 L647.99 126 L648.99 126 L649.99 126 L650.99 126 L651.98 126 L652.92 126 L653.75 126 L655 126" fill="none" stroke="#ff22ff" stroke-width="1.1" stroke-linejoin="round"/>
<path d="M506.6 126 L507.85 126 L508.68 126 L509.62 126 L510.61 126 L511.61 126 L512.61 126 L513.62 126 L514.62 126 L515.62 126 L516.62 126 L517.62 126 L518.63 126 L519.63 126 L520.63 126 L521.63 126 L522.64 126 L523.64 126 L524.64 126 L525.64 126 L526.64 126 L527.65 126.01 L528.65 126.01 L529.65 126.01 L530.65 126.01 L531.66 126.01 L532.66 126.01 L533.66 126.01 L534.66 126.01 L535.66 126.01 L536.67 126.01 L537.67 126.01 L538.67 126.01 L539.67 126.01 L540.67 126.01 L541.68 126.01 L542.68 126.01 L543.68 126.01 L544.68 126.01 L545.69 126.01 L546.69 126.01 L547.69 126.01 L548.69 126.01 L549.69 126.01 L550.7 126.01 L551.7 126.01 L552.7 126.01 L553.7 126 L554.71 126 L555.71 126 L556.71 126 L557.71 126 L558.71 126 L559.72 126 L560.72 126 L561.72 126 L562.72 126 L563.73 125.99 L564.73 125.99 L565.73 125.99 L566.73 125.99 L567.73 125.99 L568.74 125.98 L569.74 125.98 L570.74 125.98 L571.74 125.97 L572.75 125.97 L573.75 125.96 L574.75 125.95 L575.75 125.95 L576.75 125.94 L577.76 125.93 L578.76 125.91 L579.76 125.9 L580.76 125.89 L581.76 125.87 L582.77 125.85 L583.77 125.83 L584.77 125.81 L585.77 125.78 L586.77 125.74 L587.78 125.7 L588.78 125.66 L589.78 125.6 L590.78 125.53 L591.78 125.46 L592.77 125.36 L593.77 125.26 L594.77 125.15 L595.76 125.03 L596.76 124.92 L597.75 124.8 L598.75 124.68 L599.74 124.55 L600.73 124.4 L601.72 124.23 L602.7 124.04 L603.68 123.83 L604.66 123.62 L605.64 123.4 L606.61 123.17 L607.59 122.95 L608.57 122.73 L609.55 122.52 L610.53 122.32 L611.52 122.14 L612.5 121.96 L613.49 121.8 L614.48 121.65 L615.47 121.5 L616.47 121.36 L617.46 121.23 L618.45 121.1 L619.45 120.99 L620.45 120.88 L621.44 120.79 L622.44 120.71 L623.44 120.65 L624.44 120.6 L625.44 120.58 L626.45 120.57 L627.45 120.58 L628.45 120.61 L629.45 120.66 L630.45 120.72 L631.45 120.79 L632.45 120.87 L633.45 120.96 L634.44 121.06 L635.44 121.17 L636.43 121.29 L637.43 121.42 L638.42 121.56 L639.41 121.71 L640.4 121.86 L641.39 122.02 L642.38 122.18 L643.37 122.35 L644.36 122.51 L645.34 122.68 L646.33 122.85 L647.32 123.03 L648.3 123.21 L649.29 123.39 L650.28 123.57 L651.26 123.76 L652.23 123.94 L653.16 124.12 L653.97 124.27 L655.2 124.5" fill="none" stroke="#1f8f1f" stroke-width="1.1" stroke-linejoin="round"/>
<line x1="506.4" y1="6.66" x2="506.4" y2="125.9" stroke="#6a6a6a" stroke-width="0.9"/>
<line x1="504.1" y1="125.9" x2="506.4" y2="125.9" stroke="#6a6a6a" stroke-width="0.9"/>
<text x="498.8" y="128.9" font-size="9" text-anchor="end" textLength="5.4" lengthAdjust="spacingAndGlyphs" stroke="#222" stroke-width="0.14">0</text>
<line x1="504.1" y1="102.05" x2="506.4" y2="102.05" stroke="#6a6a6a" stroke-width="0.9"/>
<text x="498.8" y="105.05" font-size="9" text-anchor="end" textLength="12.87" lengthAdjust="spacingAndGlyphs" stroke="#222" stroke-width="0.14">0.2</text>
<line x1="504.1" y1="78.2" x2="506.4" y2="78.2" stroke="#6a6a6a" stroke-width="0.9"/>
<text x="498.8" y="81.2" font-size="9" text-anchor="end" textLength="13.05" lengthAdjust="spacingAndGlyphs" stroke="#222" stroke-width="0.14">0.4</text>
<line x1="504.1" y1="54.35" x2="506.4" y2="54.35" stroke="#6a6a6a" stroke-width="0.9"/>
<text x="498.8" y="57.35" font-size="9" text-anchor="end" textLength="12.87" lengthAdjust="spacingAndGlyphs" stroke="#222" stroke-width="0.14">0.6</text>
<line x1="504.1" y1="30.5" x2="506.4" y2="30.5" stroke="#6a6a6a" stroke-width="0.9"/>
<text x="498.8" y="33.5" font-size="9" text-anchor="end" textLength="12.87" lengthAdjust="spacingAndGlyphs" stroke="#222" stroke-width="0.14">0.8</text>
<line x1="504.1" y1="6.65" x2="506.4" y2="6.65" stroke="#6a6a6a" stroke-width="0.9"/>
<text x="498.8" y="9.65" font-size="9" text-anchor="end" textLength="11.25" lengthAdjust="spacingAndGlyphs" stroke="#222" stroke-width="0.14">1.0</text>
<line x1="506.4" y1="125.9" x2="655.3" y2="125.9" stroke="#6a6a6a" stroke-width="0.9"/>
<line x1="506.29" y1="125.9" x2="506.29" y2="127.3" stroke="#6a6a6a" stroke-width="0.6"/>
<line x1="510.5" y1="125.9" x2="510.5" y2="127.3" stroke="#6a6a6a" stroke-width="0.6"/>
<line x1="513.49" y1="125.9" x2="513.49" y2="127.3" stroke="#6a6a6a" stroke-width="0.6"/>
<line x1="515.81" y1="125.9" x2="515.81" y2="127.3" stroke="#6a6a6a" stroke-width="0.6"/>
<line x1="517.7" y1="125.9" x2="517.7" y2="127.3" stroke="#6a6a6a" stroke-width="0.6"/>
<line x1="519.3" y1="125.9" x2="519.3" y2="127.3" stroke="#6a6a6a" stroke-width="0.6"/>
<line x1="520.68" y1="125.9" x2="520.68" y2="127.3" stroke="#6a6a6a" stroke-width="0.6"/>
<line x1="521.91" y1="125.9" x2="521.91" y2="127.3" stroke="#6a6a6a" stroke-width="0.6"/>
<line x1="523" y1="125.9" x2="523" y2="128.2" stroke="#6a6a6a" stroke-width="0.9"/>
<line x1="530.19" y1="125.9" x2="530.19" y2="127.3" stroke="#6a6a6a" stroke-width="0.6"/>
<line x1="534.4" y1="125.9" x2="534.4" y2="127.3" stroke="#6a6a6a" stroke-width="0.6"/>
<line x1="537.39" y1="125.9" x2="537.39" y2="127.3" stroke="#6a6a6a" stroke-width="0.6"/>
<line x1="539.71" y1="125.9" x2="539.71" y2="127.3" stroke="#6a6a6a" stroke-width="0.6"/>
<line x1="541.6" y1="125.9" x2="541.6" y2="127.3" stroke="#6a6a6a" stroke-width="0.6"/>
<line x1="543.2" y1="125.9" x2="543.2" y2="127.3" stroke="#6a6a6a" stroke-width="0.6"/>
<line x1="544.58" y1="125.9" x2="544.58" y2="127.3" stroke="#6a6a6a" stroke-width="0.6"/>
<line x1="545.81" y1="125.9" x2="545.81" y2="127.3" stroke="#6a6a6a" stroke-width="0.6"/>
<line x1="546.9" y1="125.9" x2="546.9" y2="128.2" stroke="#6a6a6a" stroke-width="0.9"/>
<line x1="554.09" y1="125.9" x2="554.09" y2="127.3" stroke="#6a6a6a" stroke-width="0.6"/>
<line x1="558.3" y1="125.9" x2="558.3" y2="127.3" stroke="#6a6a6a" stroke-width="0.6"/>
<line x1="561.29" y1="125.9" x2="561.29" y2="127.3" stroke="#6a6a6a" stroke-width="0.6"/>
<line x1="563.61" y1="125.9" x2="563.61" y2="127.3" stroke="#6a6a6a" stroke-width="0.6"/>
<line x1="565.5" y1="125.9" x2="565.5" y2="127.3" stroke="#6a6a6a" stroke-width="0.6"/>
<line x1="567.1" y1="125.9" x2="567.1" y2="127.3" stroke="#6a6a6a" stroke-width="0.6"/>
<line x1="568.48" y1="125.9" x2="568.48" y2="127.3" stroke="#6a6a6a" stroke-width="0.6"/>
<line x1="569.71" y1="125.9" x2="569.71" y2="127.3" stroke="#6a6a6a" stroke-width="0.6"/>
<line x1="570.8" y1="125.9" x2="570.8" y2="128.2" stroke="#6a6a6a" stroke-width="0.9"/>
<line x1="577.99" y1="125.9" x2="577.99" y2="127.3" stroke="#6a6a6a" stroke-width="0.6"/>
<line x1="582.2" y1="125.9" x2="582.2" y2="127.3" stroke="#6a6a6a" stroke-width="0.6"/>
<line x1="585.19" y1="125.9" x2="585.19" y2="127.3" stroke="#6a6a6a" stroke-width="0.6"/>
<line x1="587.51" y1="125.9" x2="587.51" y2="127.3" stroke="#6a6a6a" stroke-width="0.6"/>
<line x1="589.4" y1="125.9" x2="589.4" y2="127.3" stroke="#6a6a6a" stroke-width="0.6"/>
<line x1="591" y1="125.9" x2="591" y2="127.3" stroke="#6a6a6a" stroke-width="0.6"/>
<line x1="592.38" y1="125.9" x2="592.38" y2="127.3" stroke="#6a6a6a" stroke-width="0.6"/>
<line x1="593.61" y1="125.9" x2="593.61" y2="127.3" stroke="#6a6a6a" stroke-width="0.6"/>
<line x1="594.7" y1="125.9" x2="594.7" y2="128.2" stroke="#6a6a6a" stroke-width="0.9"/>
<line x1="601.89" y1="125.9" x2="601.89" y2="127.3" stroke="#6a6a6a" stroke-width="0.6"/>
<line x1="606.1" y1="125.9" x2="606.1" y2="127.3" stroke="#6a6a6a" stroke-width="0.6"/>
<line x1="609.09" y1="125.9" x2="609.09" y2="127.3" stroke="#6a6a6a" stroke-width="0.6"/>
<line x1="611.41" y1="125.9" x2="611.41" y2="127.3" stroke="#6a6a6a" stroke-width="0.6"/>
<line x1="613.3" y1="125.9" x2="613.3" y2="127.3" stroke="#6a6a6a" stroke-width="0.6"/>
<line x1="614.9" y1="125.9" x2="614.9" y2="127.3" stroke="#6a6a6a" stroke-width="0.6"/>
<line x1="616.28" y1="125.9" x2="616.28" y2="127.3" stroke="#6a6a6a" stroke-width="0.6"/>
<line x1="617.51" y1="125.9" x2="617.51" y2="127.3" stroke="#6a6a6a" stroke-width="0.6"/>
<line x1="618.6" y1="125.9" x2="618.6" y2="128.2" stroke="#6a6a6a" stroke-width="0.9"/>
<line x1="625.79" y1="125.9" x2="625.79" y2="127.3" stroke="#6a6a6a" stroke-width="0.6"/>
<line x1="630" y1="125.9" x2="630" y2="127.3" stroke="#6a6a6a" stroke-width="0.6"/>
<line x1="632.99" y1="125.9" x2="632.99" y2="127.3" stroke="#6a6a6a" stroke-width="0.6"/>
<line x1="635.31" y1="125.9" x2="635.31" y2="127.3" stroke="#6a6a6a" stroke-width="0.6"/>
<line x1="637.2" y1="125.9" x2="637.2" y2="127.3" stroke="#6a6a6a" stroke-width="0.6"/>
<line x1="638.8" y1="125.9" x2="638.8" y2="127.3" stroke="#6a6a6a" stroke-width="0.6"/>
<line x1="640.18" y1="125.9" x2="640.18" y2="127.3" stroke="#6a6a6a" stroke-width="0.6"/>
<line x1="641.41" y1="125.9" x2="641.41" y2="127.3" stroke="#6a6a6a" stroke-width="0.6"/>
<line x1="642.5" y1="125.9" x2="642.5" y2="128.2" stroke="#6a6a6a" stroke-width="0.9"/>
<line x1="649.69" y1="125.9" x2="649.69" y2="127.3" stroke="#6a6a6a" stroke-width="0.6"/>
<line x1="653.9" y1="125.9" x2="653.9" y2="127.3" stroke="#6a6a6a" stroke-width="0.6"/>
<line x1="656.89" y1="125.9" x2="656.89" y2="127.3" stroke="#6a6a6a" stroke-width="0.6"/>
<text x="523" y="140.3" font-size="9" text-anchor="middle" textLength="22.05" lengthAdjust="spacingAndGlyphs" stroke="#222" stroke-width="0.14">0.001</text>
<text x="546.9" y="140.3" font-size="9" text-anchor="middle" textLength="16.65" lengthAdjust="spacingAndGlyphs" stroke="#222" stroke-width="0.14">0.01</text>
<text x="570.8" y="140.3" font-size="9" text-anchor="middle" textLength="11.25" lengthAdjust="spacingAndGlyphs" stroke="#222" stroke-width="0.14">0.1</text>
<text x="594.7" y="140.3" font-size="9" text-anchor="middle" textLength="3.6" lengthAdjust="spacingAndGlyphs" stroke="#222" stroke-width="0.14">1</text>
<text x="618.6" y="140.3" font-size="9" text-anchor="middle" textLength="9" lengthAdjust="spacingAndGlyphs" stroke="#222" stroke-width="0.14">10</text>
<text x="642.5" y="140.3" font-size="9" text-anchor="middle" textLength="14.4" lengthAdjust="spacingAndGlyphs" stroke="#222" stroke-width="0.14">100</text>
<text x="580" y="157.7" font-size="9.9" text-anchor="middle" textLength="42.5" lengthAdjust="spacingAndGlyphs" stroke="#222" stroke-width="0.14">Time (µs)</text>
<text x="0" y="0" font-size="11" transform="translate(476.7 67) rotate(-90)" text-anchor="middle" textLength="49.8" lengthAdjust="spacingAndGlyphs" stroke="#222" stroke-width="0.14">Population</text>
<line x1="552.9" y1="12.4" x2="563" y2="12.4" stroke="#1a1a1a" stroke-width="1" stroke-opacity="0.9"/>
<text x="0" y="0" font-size="8.5" transform="translate(568.3 15.3) scale(1.05 1)" stroke="#000" stroke-width="0.18"><tspan font-weight="bold">*[Ru-LH]</tspan><tspan dy="-3.4" font-weight="bold" font-size="5.4">2+</tspan></text>
<line x1="552.9" y1="23.55" x2="563" y2="23.55" stroke="#f7901e" stroke-width="1" stroke-opacity="0.9"/>
<text x="0" y="0" font-size="8.5" transform="translate(568.3 26.45) scale(1.05 1)" stroke="#000" stroke-width="0.18"><tspan font-weight="bold">*[Ru-L]</tspan><tspan dy="-3.4" font-weight="bold" font-size="5.4">+</tspan></text>
<line x1="552.9" y1="34.7" x2="563" y2="34.7" stroke="#2b2bff" stroke-width="1" stroke-opacity="0.9"/>
<text x="0" y="0" font-size="8.5" transform="translate(568.3 37.6) scale(1.05 1)" stroke="#000" stroke-width="0.18"><tspan font-weight="bold">[Ru-L]</tspan><tspan dy="-3.4" font-weight="bold" font-size="5.4">+</tspan><tspan dy="3.4"> + </tspan><tspan font-weight="bold">[Ru-L]</tspan><tspan dy="-3.4" font-weight="bold" font-size="5.4">2+</tspan><tspan dy="3.4"> + </tspan><tspan font-weight="bold">MQ</tspan><tspan dy="-3.4" font-weight="bold" font-size="5.4">•</tspan></text>
<line x1="552.9" y1="45.85" x2="563" y2="45.85" stroke="#ff22ff" stroke-width="1" stroke-opacity="0.9"/>
<text x="0" y="0" font-size="8.5" transform="translate(568.3 48.75) scale(1.05 1)" stroke="#000" stroke-width="0.18"><tspan font-weight="bold">[Ru-L]</tspan><tspan dy="-3.4" font-weight="bold" font-size="5.4">2+</tspan><tspan dy="3.4"> + </tspan><tspan font-weight="bold">HMQ</tspan><tspan dy="-3.4" font-weight="bold" font-size="5.4">•+</tspan></text>
<line x1="552.9" y1="57" x2="563" y2="57" stroke="#1f8f1f" stroke-width="1" stroke-opacity="0.9"/>
<text x="0" y="0" font-size="8.5" transform="translate(568.3 59.9) scale(1.05 1)" stroke="#000" stroke-width="0.18"><tspan font-weight="bold">[Ru-LH]</tspan><tspan dy="-3.4" font-weight="bold" font-size="5.4">2+</tspan></text>
<text x="468.5" y="189" font-size="14.3" font-weight="bold" fill="#000" stroke="#000" stroke-width="0.6">f</text>
<path d="M506.6 186.8 L507.83 187 L508.65 187.14 L509.58 187.3 L510.55 187.47 L511.53 187.67 L512.5 187.89 L513.47 188.14 L514.42 188.44 L515.36 188.77 L516.29 189.15 L517.2 189.56 L518.08 190.02 L518.95 190.51 L519.8 191.04 L520.63 191.61 L521.43 192.19 L522.23 192.8 L523 193.44 L523.75 194.1 L524.47 194.79 L525.17 195.51 L525.82 196.26 L526.43 197.05 L526.99 197.87 L527.5 198.73 L527.98 199.6 L528.42 200.5 L528.83 201.41 L529.24 202.33 L529.64 203.24 L530.04 204.16 L530.45 205.07 L530.87 205.98 L531.29 206.89 L531.71 207.8 L532.12 208.71 L532.52 209.63 L532.91 210.55 L533.29 211.48 L533.66 212.41 L534.01 213.34 L534.36 214.28 L534.7 215.23 L535.03 216.17 L535.36 217.11 L535.69 218.06 L536.01 219.01 L536.34 219.95 L536.67 220.9 L536.99 221.85 L537.31 222.79 L537.64 223.74 L537.96 224.69 L538.27 225.64 L538.58 226.59 L538.89 227.54 L539.19 228.5 L539.5 229.45 L539.79 230.41 L540.09 231.37 L540.38 232.32 L540.67 233.28 L540.95 234.24 L541.22 235.21 L541.49 236.17 L541.75 237.14 L541.99 238.11 L542.23 239.08 L542.46 240.05 L542.69 241.03 L542.91 242 L543.13 242.98 L543.36 243.96 L543.59 244.93 L543.83 245.9 L544.07 246.87 L544.32 247.84 L544.56 248.81 L544.81 249.78 L545.06 250.75 L545.32 251.72 L545.57 252.69 L545.82 253.66 L546.08 254.63 L546.34 255.59 L546.59 256.56 L546.85 257.53 L547.11 258.49 L547.37 259.46 L547.62 260.43 L547.87 261.4 L548.11 262.37 L548.35 263.34 L548.59 264.32 L548.82 265.29 L549.06 266.26 L549.29 267.23 L549.53 268.21 L549.77 269.18 L550.02 270.15 L550.26 271.12 L550.51 272.09 L550.76 273.06 L551.02 274.03 L551.28 274.99 L551.54 275.96 L551.81 276.92 L552.09 277.89 L552.37 278.85 L552.65 279.81 L552.93 280.77 L553.22 281.73 L553.51 282.68 L553.81 283.64 L554.11 284.59 L554.42 285.55 L554.72 286.5 L555.04 287.45 L555.35 288.4 L555.67 289.35 L556 290.29 L556.34 291.24 L556.68 292.18 L557.03 293.12 L557.39 294.05 L557.76 294.98 L558.14 295.9 L558.55 296.81 L559 297.7 L559.51 298.56 L560.09 299.36 L560.75 300.09 L561.49 300.73 L562.3 301.29 L563.17 301.74 L564.09 302.1 L565.04 302.37 L566.02 302.58 L567 302.73 L568 302.84 L568.99 302.92 L569.99 302.97 L570.99 303.01 L571.99 303.03 L572.99 303.04 L573.99 303.04 L574.99 303.04 L575.99 303.03 L576.98 303.02 L577.92 303.02 L578.75 303.01 L580 303" fill="none" stroke="#1a1a1a" stroke-width="1.1" stroke-linejoin="round"/>
<path d="M506.6 302.4 L507.83 302.18 L508.64 302.03 L509.57 301.86 L510.54 301.68 L511.52 301.48 L512.5 301.28 L513.47 301.06 L514.45 300.82 L515.41 300.57 L516.38 300.31 L517.34 300.03 L518.3 299.75 L519.25 299.44 L520.2 299.12 L521.14 298.77 L522.07 298.4 L522.98 298 L523.88 297.57 L524.78 297.12 L525.65 296.64 L526.52 296.14 L527.37 295.61 L528.21 295.06 L529.03 294.49 L529.83 293.89 L530.61 293.27 L531.37 292.62 L532.11 291.96 L532.85 291.28 L533.58 290.59 L534.31 289.91 L535.06 289.25 L535.82 288.61 L536.6 287.99 L537.37 287.36 L538.11 286.71 L538.8 285.99 L539.45 285.24 L540.07 284.46 L540.68 283.66 L541.27 282.86 L541.85 282.04 L542.42 281.22 L542.97 280.39 L543.52 279.55 L544.06 278.7 L544.59 277.85 L545.1 277 L545.61 276.13 L546.11 275.27 L546.6 274.4 L547.1 273.53 L547.6 272.66 L548.12 271.8 L548.64 270.95 L549.17 270.1 L549.71 269.26 L550.27 268.43 L550.84 267.61 L551.43 266.8 L552.04 266.01 L552.67 265.23 L553.33 264.49 L554.04 263.79 L554.8 263.16 L555.62 262.61 L556.49 262.15 L557.4 261.8 L558.35 261.59 L559.31 261.52 L560.28 261.61 L561.22 261.85 L562.15 262.2 L563.04 262.62 L563.92 263.1 L564.76 263.63 L565.58 264.2 L566.35 264.82 L567.08 265.5 L567.76 266.23 L568.4 266.99 L569.01 267.78 L569.59 268.6 L570.16 269.42 L570.71 270.26 L571.25 271.1 L571.78 271.95 L572.3 272.8 L572.82 273.66 L573.33 274.52 L573.84 275.38 L574.34 276.25 L574.84 277.12 L575.32 277.99 L575.8 278.87 L576.27 279.75 L576.74 280.64 L577.2 281.52 L577.66 282.41 L578.12 283.3 L578.58 284.19 L579.04 285.08 L579.51 285.96 L579.98 286.85 L580.46 287.73 L580.94 288.6 L581.44 289.47 L581.95 290.33 L582.46 291.19 L582.98 292.05 L583.5 292.9 L584.04 293.75 L584.59 294.58 L585.15 295.41 L585.74 296.21 L586.36 297 L587 297.76 L587.69 298.48 L588.41 299.16 L589.19 299.79 L590 300.36 L590.84 300.88 L591.7 301.35 L592.55 301.79 L593.37 302.19 L594.19 302.51 L595.06 302.74 L595.99 302.86 L596.96 302.92 L597.96 302.96 L598.96 302.98 L599.96 302.99 L600.96 303.01 L601.96 303.02 L602.96 303.03 L603.96 303.04 L604.96 303.05 L605.96 303.05 L606.96 303.06 L607.96 303.06 L608.96 303.06 L609.96 303.07 L610.97 303.07 L611.97 303.07 L612.97 303.07 L613.97 303.07 L614.97 303.07 L615.97 303.07 L616.97 303.07 L617.97 303.07 L618.97 303.07 L619.97 303.07 L620.97 303.07 L621.97 303.07 L622.98 303.07 L623.98 303.07 L624.98 303.07 L625.98 303.06 L626.98 303.06 L627.98 303.06 L628.98 303.06 L629.98 303.06 L630.98 303.05 L631.98 303.05 L632.98 303.05 L633.98 303.05 L634.99 303.04 L635.99 303.04 L636.99 303.04 L637.99 303.04 L638.99 303.03 L639.99 303.03 L640.99 303.03 L641.99 303.02 L642.99 303.02 L643.99 303.02 L644.99 303.02 L645.99 303.01 L647 303.01 L648 303.01 L649 303.01 L649.98 303 L650.92 303 L651.75 303 L653 303" fill="none" stroke="#2b2bff" stroke-width="1.1" stroke-linejoin="round"/>
<path d="M506.6 303 L507.85 303 L508.68 303 L509.62 303 L510.61 303 L511.61 303 L512.61 303 L513.62 303 L514.62 303 L515.62 303 L516.62 303.01 L517.62 303.01 L518.63 303.01 L519.63 303.01 L520.63 303.01 L521.63 303.01 L522.63 303.01 L523.64 303.01 L524.64 303.01 L525.64 303.01 L526.64 303.01 L527.65 303.01 L528.65 303.01 L529.65 303.01 L530.65 303.01 L531.65 303.01 L532.66 303 L533.66 303 L534.66 303 L535.66 302.99 L536.66 302.99 L537.67 302.98 L538.67 302.97 L539.67 302.97 L540.67 302.96 L541.68 302.95 L542.68 302.93 L543.68 302.92 L544.68 302.9 L545.68 302.87 L546.68 302.84 L547.69 302.8 L548.69 302.74 L549.68 302.67 L550.68 302.57 L551.67 302.45 L552.66 302.3 L553.65 302.15 L554.64 301.99 L555.63 301.85 L556.63 301.72 L557.62 301.59 L558.62 301.46 L559.61 301.32 L560.6 301.17 L561.59 301 L562.57 300.81 L563.55 300.6 L564.52 300.36 L565.48 300.09 L566.44 299.79 L567.39 299.48 L568.34 299.17 L569.3 298.86 L570.25 298.55 L571.21 298.25 L572.16 297.94 L573.09 297.59 L574.01 297.2 L574.91 296.76 L575.79 296.28 L576.66 295.79 L577.53 295.3 L578.42 294.84 L579.31 294.39 L580.22 293.97 L581.13 293.56 L582.05 293.16 L582.98 292.78 L583.91 292.42 L584.86 292.08 L585.81 291.77 L586.77 291.48 L587.73 291.21 L588.71 290.98 L589.68 290.77 L590.67 290.6 L591.66 290.47 L592.66 290.39 L593.66 290.35 L594.65 290.37 L595.65 290.43 L596.65 290.53 L597.63 290.68 L598.62 290.87 L599.59 291.1 L600.55 291.38 L601.5 291.7 L602.43 292.06 L603.35 292.45 L604.25 292.88 L605.15 293.32 L606.04 293.78 L606.93 294.25 L607.81 294.73 L608.68 295.22 L609.55 295.72 L610.41 296.24 L611.26 296.76 L612.12 297.28 L612.98 297.79 L613.85 298.29 L614.73 298.77 L615.62 299.22 L616.52 299.66 L617.43 300.08 L618.35 300.47 L619.28 300.86 L620.21 301.22 L621.15 301.57 L622.1 301.9 L623.04 302.21 L624 302.48 L624.97 302.69 L625.95 302.84 L626.95 302.92 L627.95 302.97 L628.95 303.01 L629.95 303.03 L630.95 303.05 L631.96 303.06 L632.96 303.06 L633.96 303.07 L634.96 303.07 L635.96 303.07 L636.97 303.07 L637.97 303.07 L638.97 303.07 L639.97 303.06 L640.97 303.06 L641.98 303.06 L642.98 303.05 L643.98 303.05 L644.98 303.04 L645.99 303.04 L646.99 303.03 L647.99 303.02 L648.99 303.02 L649.98 303.01 L650.92 303.01 L651.75 303 L653 303" fill="none" stroke="#ff22ff" stroke-width="1.1" stroke-linejoin="round"/>
<path d="M506.6 303 L507.85 303 L508.67 303 L509.62 303 L510.6 303 L511.6 303 L512.6 303 L513.6 303 L514.6 303 L515.6 303 L516.6 303 L517.6 303.01 L518.6 303.01 L519.6 303.01 L520.6 303.01 L521.6 303.01 L522.6 303.01 L523.6 303.01 L524.6 303.01 L525.6 303.01 L526.6 303.01 L527.6 303.01 L528.6 303.01 L529.6 303.01 L530.6 303.01 L531.6 303.01 L532.6 303.01 L533.6 303.01 L534.6 303.01 L535.6 303.01 L536.6 303.01 L537.6 303.01 L538.6 303.01 L539.6 303.01 L540.6 303.01 L541.6 303.01 L542.6 303.01 L543.6 303.01 L544.6 303.01 L545.6 303.01 L546.6 303.01 L547.6 303.01 L548.6 303.01 L549.6 303.01 L550.6 303.01 L551.6 303.01 L552.6 303.01 L553.6 303.01 L554.6 303.01 L555.6 303.01 L556.6 303.01 L557.61 303 L558.61 303 L559.61 303 L560.61 303 L561.61 302.99 L562.61 302.99 L563.61 302.99 L564.61 302.98 L565.61 302.98 L566.61 302.97 L567.61 302.97 L568.61 302.96 L569.61 302.95 L570.61 302.95 L571.61 302.94 L572.61 302.93 L573.61 302.91 L574.61 302.9 L575.61 302.88 L576.61 302.87 L577.61 302.85 L578.61 302.83 L579.61 302.81 L580.61 302.78 L581.61 302.76 L582.6 302.72 L583.6 302.68 L584.6 302.64 L585.6 302.58 L586.6 302.51 L587.6 302.43 L588.59 302.35 L589.59 302.26 L590.58 302.15 L591.57 302.02 L592.56 301.86 L593.54 301.66 L594.51 301.43 L595.47 301.18 L596.43 300.9 L597.39 300.6 L598.34 300.29 L599.29 299.97 L600.23 299.64 L601.17 299.3 L602.11 298.95 L603.04 298.59 L603.97 298.23 L604.9 297.86 L605.83 297.48 L606.75 297.1 L607.67 296.71 L608.59 296.31 L609.51 295.91 L610.42 295.51 L611.33 295.09 L612.23 294.66 L613.13 294.22 L614.02 293.77 L614.92 293.32 L615.82 292.88 L616.72 292.46 L617.64 292.06 L618.56 291.69 L619.5 291.35 L620.46 291.05 L621.42 290.79 L622.39 290.55 L623.37 290.35 L624.35 290.18 L625.34 290.04 L626.33 289.94 L627.33 289.88 L628.33 289.85 L629.33 289.86 L630.32 289.91 L631.32 290 L632.31 290.12 L633.3 290.27 L634.28 290.44 L635.26 290.64 L636.24 290.85 L637.21 291.07 L638.18 291.31 L639.15 291.57 L640.11 291.85 L641.07 292.14 L642.02 292.45 L642.96 292.78 L643.89 293.14 L644.82 293.51 L645.73 293.92 L646.63 294.36 L647.51 294.83 L648.37 295.33 L649.23 295.85 L650.07 296.38 L650.88 296.91 L651.63 297.4 L652.24 297.8" fill="none" stroke="#1f8f1f" stroke-width="1.1" stroke-linejoin="round"/>
<line x1="506.4" y1="184.5" x2="506.4" y2="303" stroke="#6a6a6a" stroke-width="0.9"/>
<line x1="504.1" y1="303" x2="506.4" y2="303" stroke="#6a6a6a" stroke-width="0.9"/>
<text x="498.8" y="306" font-size="9" text-anchor="end" textLength="5.4" lengthAdjust="spacingAndGlyphs" stroke="#222" stroke-width="0.14">0</text>
<line x1="504.1" y1="279.3" x2="506.4" y2="279.3" stroke="#6a6a6a" stroke-width="0.9"/>
<text x="498.8" y="282.3" font-size="9" text-anchor="end" textLength="12.87" lengthAdjust="spacingAndGlyphs" stroke="#222" stroke-width="0.14">0.2</text>
<line x1="504.1" y1="255.6" x2="506.4" y2="255.6" stroke="#6a6a6a" stroke-width="0.9"/>
<text x="498.8" y="258.6" font-size="9" text-anchor="end" textLength="13.05" lengthAdjust="spacingAndGlyphs" stroke="#222" stroke-width="0.14">0.4</text>
<line x1="504.1" y1="231.9" x2="506.4" y2="231.9" stroke="#6a6a6a" stroke-width="0.9"/>
<text x="498.8" y="234.9" font-size="9" text-anchor="end" textLength="12.87" lengthAdjust="spacingAndGlyphs" stroke="#222" stroke-width="0.14">0.6</text>
<line x1="504.1" y1="208.2" x2="506.4" y2="208.2" stroke="#6a6a6a" stroke-width="0.9"/>
<text x="498.8" y="211.2" font-size="9" text-anchor="end" textLength="12.87" lengthAdjust="spacingAndGlyphs" stroke="#222" stroke-width="0.14">0.8</text>
<line x1="504.1" y1="184.5" x2="506.4" y2="184.5" stroke="#6a6a6a" stroke-width="0.9"/>
<text x="498.8" y="187.5" font-size="9" text-anchor="end" textLength="11.25" lengthAdjust="spacingAndGlyphs" stroke="#222" stroke-width="0.14">1.0</text>
<line x1="506.4" y1="303" x2="653.3" y2="303" stroke="#6a6a6a" stroke-width="0.9"/>
<line x1="506.29" y1="303" x2="506.29" y2="304.4" stroke="#6a6a6a" stroke-width="0.6"/>
<line x1="510.5" y1="303" x2="510.5" y2="304.4" stroke="#6a6a6a" stroke-width="0.6"/>
<line x1="513.49" y1="303" x2="513.49" y2="304.4" stroke="#6a6a6a" stroke-width="0.6"/>
<line x1="515.81" y1="303" x2="515.81" y2="304.4" stroke="#6a6a6a" stroke-width="0.6"/>
<line x1="517.7" y1="303" x2="517.7" y2="304.4" stroke="#6a6a6a" stroke-width="0.6"/>
<line x1="519.3" y1="303" x2="519.3" y2="304.4" stroke="#6a6a6a" stroke-width="0.6"/>
<line x1="520.68" y1="303" x2="520.68" y2="304.4" stroke="#6a6a6a" stroke-width="0.6"/>
<line x1="521.91" y1="303" x2="521.91" y2="304.4" stroke="#6a6a6a" stroke-width="0.6"/>
<line x1="523" y1="303" x2="523" y2="305.3" stroke="#6a6a6a" stroke-width="0.9"/>
<line x1="530.19" y1="303" x2="530.19" y2="304.4" stroke="#6a6a6a" stroke-width="0.6"/>
<line x1="534.4" y1="303" x2="534.4" y2="304.4" stroke="#6a6a6a" stroke-width="0.6"/>
<line x1="537.39" y1="303" x2="537.39" y2="304.4" stroke="#6a6a6a" stroke-width="0.6"/>
<line x1="539.71" y1="303" x2="539.71" y2="304.4" stroke="#6a6a6a" stroke-width="0.6"/>
<line x1="541.6" y1="303" x2="541.6" y2="304.4" stroke="#6a6a6a" stroke-width="0.6"/>
<line x1="543.2" y1="303" x2="543.2" y2="304.4" stroke="#6a6a6a" stroke-width="0.6"/>
<line x1="544.58" y1="303" x2="544.58" y2="304.4" stroke="#6a6a6a" stroke-width="0.6"/>
<line x1="545.81" y1="303" x2="545.81" y2="304.4" stroke="#6a6a6a" stroke-width="0.6"/>
<line x1="546.9" y1="303" x2="546.9" y2="305.3" stroke="#6a6a6a" stroke-width="0.9"/>
<line x1="554.09" y1="303" x2="554.09" y2="304.4" stroke="#6a6a6a" stroke-width="0.6"/>
<line x1="558.3" y1="303" x2="558.3" y2="304.4" stroke="#6a6a6a" stroke-width="0.6"/>
<line x1="561.29" y1="303" x2="561.29" y2="304.4" stroke="#6a6a6a" stroke-width="0.6"/>
<line x1="563.61" y1="303" x2="563.61" y2="304.4" stroke="#6a6a6a" stroke-width="0.6"/>
<line x1="565.5" y1="303" x2="565.5" y2="304.4" stroke="#6a6a6a" stroke-width="0.6"/>
<line x1="567.1" y1="303" x2="567.1" y2="304.4" stroke="#6a6a6a" stroke-width="0.6"/>
<line x1="568.48" y1="303" x2="568.48" y2="304.4" stroke="#6a6a6a" stroke-width="0.6"/>
<line x1="569.71" y1="303" x2="569.71" y2="304.4" stroke="#6a6a6a" stroke-width="0.6"/>
<line x1="570.8" y1="303" x2="570.8" y2="305.3" stroke="#6a6a6a" stroke-width="0.9"/>
<line x1="577.99" y1="303" x2="577.99" y2="304.4" stroke="#6a6a6a" stroke-width="0.6"/>
<line x1="582.2" y1="303" x2="582.2" y2="304.4" stroke="#6a6a6a" stroke-width="0.6"/>
<line x1="585.19" y1="303" x2="585.19" y2="304.4" stroke="#6a6a6a" stroke-width="0.6"/>
<line x1="587.51" y1="303" x2="587.51" y2="304.4" stroke="#6a6a6a" stroke-width="0.6"/>
<line x1="589.4" y1="303" x2="589.4" y2="304.4" stroke="#6a6a6a" stroke-width="0.6"/>
<line x1="591" y1="303" x2="591" y2="304.4" stroke="#6a6a6a" stroke-width="0.6"/>
<line x1="592.38" y1="303" x2="592.38" y2="304.4" stroke="#6a6a6a" stroke-width="0.6"/>
<line x1="593.61" y1="303" x2="593.61" y2="304.4" stroke="#6a6a6a" stroke-width="0.6"/>
<line x1="594.7" y1="303" x2="594.7" y2="305.3" stroke="#6a6a6a" stroke-width="0.9"/>
<line x1="601.89" y1="303" x2="601.89" y2="304.4" stroke="#6a6a6a" stroke-width="0.6"/>
<line x1="606.1" y1="303" x2="606.1" y2="304.4" stroke="#6a6a6a" stroke-width="0.6"/>
<line x1="609.09" y1="303" x2="609.09" y2="304.4" stroke="#6a6a6a" stroke-width="0.6"/>
<line x1="611.41" y1="303" x2="611.41" y2="304.4" stroke="#6a6a6a" stroke-width="0.6"/>
<line x1="613.3" y1="303" x2="613.3" y2="304.4" stroke="#6a6a6a" stroke-width="0.6"/>
<line x1="614.9" y1="303" x2="614.9" y2="304.4" stroke="#6a6a6a" stroke-width="0.6"/>
<line x1="616.28" y1="303" x2="616.28" y2="304.4" stroke="#6a6a6a" stroke-width="0.6"/>
<line x1="617.51" y1="303" x2="617.51" y2="304.4" stroke="#6a6a6a" stroke-width="0.6"/>
<line x1="618.6" y1="303" x2="618.6" y2="305.3" stroke="#6a6a6a" stroke-width="0.9"/>
<line x1="625.79" y1="303" x2="625.79" y2="304.4" stroke="#6a6a6a" stroke-width="0.6"/>
<line x1="630" y1="303" x2="630" y2="304.4" stroke="#6a6a6a" stroke-width="0.6"/>
<line x1="632.99" y1="303" x2="632.99" y2="304.4" stroke="#6a6a6a" stroke-width="0.6"/>
<line x1="635.31" y1="303" x2="635.31" y2="304.4" stroke="#6a6a6a" stroke-width="0.6"/>
<line x1="637.2" y1="303" x2="637.2" y2="304.4" stroke="#6a6a6a" stroke-width="0.6"/>
<line x1="638.8" y1="303" x2="638.8" y2="304.4" stroke="#6a6a6a" stroke-width="0.6"/>
<line x1="640.18" y1="303" x2="640.18" y2="304.4" stroke="#6a6a6a" stroke-width="0.6"/>
<line x1="641.41" y1="303" x2="641.41" y2="304.4" stroke="#6a6a6a" stroke-width="0.6"/>
<line x1="642.5" y1="303" x2="642.5" y2="305.3" stroke="#6a6a6a" stroke-width="0.9"/>
<line x1="649.69" y1="303" x2="649.69" y2="304.4" stroke="#6a6a6a" stroke-width="0.6"/>
<line x1="653.9" y1="303" x2="653.9" y2="304.4" stroke="#6a6a6a" stroke-width="0.6"/>
<line x1="656.89" y1="303" x2="656.89" y2="304.4" stroke="#6a6a6a" stroke-width="0.6"/>
<text x="523" y="317.4" font-size="9" text-anchor="middle" textLength="22.05" lengthAdjust="spacingAndGlyphs" stroke="#222" stroke-width="0.14">0.001</text>
<text x="546.9" y="317.4" font-size="9" text-anchor="middle" textLength="16.65" lengthAdjust="spacingAndGlyphs" stroke="#222" stroke-width="0.14">0.01</text>
<text x="570.8" y="317.4" font-size="9" text-anchor="middle" textLength="11.25" lengthAdjust="spacingAndGlyphs" stroke="#222" stroke-width="0.14">0.1</text>
<text x="594.7" y="317.4" font-size="9" text-anchor="middle" textLength="3.6" lengthAdjust="spacingAndGlyphs" stroke="#222" stroke-width="0.14">1</text>
<text x="618.6" y="317.4" font-size="9" text-anchor="middle" textLength="9" lengthAdjust="spacingAndGlyphs" stroke="#222" stroke-width="0.14">10</text>
<text x="642.5" y="317.4" font-size="9" text-anchor="middle" textLength="14.4" lengthAdjust="spacingAndGlyphs" stroke="#222" stroke-width="0.14">100</text>
<text x="580" y="334.3" font-size="9.9" text-anchor="middle" textLength="42.5" lengthAdjust="spacingAndGlyphs" stroke="#222" stroke-width="0.14">Time (µs)</text>
<text x="0" y="0" font-size="11" transform="translate(476.7 244) rotate(-90)" text-anchor="middle" textLength="49.8" lengthAdjust="spacingAndGlyphs" stroke="#222" stroke-width="0.14">Population</text>
<line x1="552.9" y1="183.4" x2="563" y2="183.4" stroke="#1a1a1a" stroke-width="1" stroke-opacity="0.9"/>
<text x="0" y="0" font-size="8.5" transform="translate(568.3 186.3) scale(1.05 1)" stroke="#000" stroke-width="0.18"><tspan font-weight="bold">*[Ru-LH]</tspan><tspan dy="-3.4" font-weight="bold" font-size="5.4">2+</tspan></text>
<line x1="552.9" y1="195.7" x2="563" y2="195.7" stroke="#2b2bff" stroke-width="1" stroke-opacity="0.9"/>
<text x="0" y="0" font-size="8.5" transform="translate(568.3 198.6) scale(1.05 1)" stroke="#000" stroke-width="0.18"><tspan font-weight="bold">[Ru-L]</tspan><tspan dy="-3.4" font-weight="bold" font-size="5.4">+</tspan><tspan dy="3.4"> + </tspan><tspan font-weight="bold">[Ru-L]</tspan><tspan dy="-3.4" font-weight="bold" font-size="5.4">2+</tspan><tspan dy="3.4"> + </tspan><tspan font-weight="bold">MQ</tspan><tspan dy="-3.4" font-weight="bold" font-size="5.4">•</tspan></text>
<line x1="552.9" y1="208" x2="563" y2="208" stroke="#ff22ff" stroke-width="1" stroke-opacity="0.9"/>
<text x="0" y="0" font-size="8.5" transform="translate(568.3 210.9) scale(1.05 1)" stroke="#000" stroke-width="0.18"><tspan font-weight="bold">[Ru-L]</tspan><tspan dy="-3.4" font-weight="bold" font-size="5.4">2+</tspan><tspan dy="3.4"> + </tspan><tspan font-weight="bold">HMQ</tspan><tspan dy="-3.4" font-weight="bold" font-size="5.4">•+</tspan></text>
<line x1="552.9" y1="220.3" x2="563" y2="220.3" stroke="#1f8f1f" stroke-width="1" stroke-opacity="0.9"/>
<text x="0" y="0" font-size="8.5" transform="translate(568.3 223.2) scale(1.05 1)" stroke="#000" stroke-width="0.18"><tspan font-weight="bold">[Ru-LH]</tspan><tspan dy="-3.4" font-weight="bold" font-size="5.4">2+</tspan></text>
<text x="0.8" y="363.9" font-size="14.3" font-weight="bold" fill="#000" stroke="#000" stroke-width="0.6">g</text>
<path d="M56.10 419.00 C56.25 417.83 56.55 414.33 57.00 412.00 C57.45 409.67 58.07 407.47 58.80 405.00 C59.53 402.53 60.53 399.45 61.40 397.20 C62.27 394.95 62.98 393.18 64.00 391.50 C65.02 389.82 66.18 388.27 67.50 387.10 C68.82 385.93 70.58 385.02 71.90 384.50 C73.22 383.98 74.23 383.93 75.40 384.00 C76.57 384.07 77.73 384.47 78.90 384.90 C80.07 385.33 81.08 386.08 82.40 386.60 C83.72 387.12 86.07 387.77 86.80 388.00" fill="none" stroke="#0a0aff" stroke-width="3.3" stroke-linecap="round" stroke-linejoin="round"/>
<circle cx="88" cy="388.37" r="1.7" fill="#0a0aff"/>
<circle cx="90.6" cy="389.14" r="1.7" fill="#0a0aff"/>
<circle cx="93.2" cy="389.76" r="1.7" fill="#0a0aff"/>
<circle cx="95.8" cy="390.41" r="1.7" fill="#0a0aff"/>
<circle cx="98.4" cy="391.22" r="1.7" fill="#0a0aff"/>
<circle cx="101" cy="392" r="1.7" fill="#0a0aff"/>
<circle cx="106" cy="393" r="1.7" fill="#0a0aff"/>
<circle cx="111" cy="395" r="1.7" fill="#0a0aff"/>
<circle cx="116" cy="396.4" r="1.7" fill="#0a0aff"/>
<circle cx="121" cy="397.4" r="1.7" fill="#0a0aff"/>
<circle cx="126" cy="398.6" r="1.7" fill="#0a0aff"/>
<circle cx="131" cy="400" r="1.7" fill="#0a0aff"/>
<circle cx="136" cy="401.6" r="1.7" fill="#0a0aff"/>
<circle cx="141" cy="403.05" r="1.7" fill="#0a0aff"/>
<circle cx="147.4" cy="404.28" r="1.7" fill="#0a0aff"/>
<circle cx="153.8" cy="405.67" r="1.7" fill="#0a0aff"/>
<circle cx="160.2" cy="407.03" r="1.7" fill="#0a0aff"/>
<circle cx="168.8" cy="408.78" r="1.7" fill="#0a0aff"/>
<circle cx="177.4" cy="410.25" r="1.7" fill="#0a0aff"/>
<circle cx="186" cy="411.42" r="1.7" fill="#0a0aff"/>
<circle cx="196.4" cy="412.73" r="1.7" fill="#0a0aff"/>
<circle cx="206.8" cy="413.91" r="1.7" fill="#0a0aff"/>
<path d="M55.60 467.30 C55.88 467.98 56.57 470.20 57.30 471.40 C58.03 472.60 58.95 473.75 60.00 474.50 C61.05 475.25 62.38 475.82 63.60 475.90 C64.82 475.98 66.08 475.60 67.30 475.00 C68.52 474.40 69.53 473.22 70.90 472.30 C72.27 471.38 73.98 470.33 75.50 469.50 C77.02 468.67 78.50 467.97 80.00 467.30 C81.50 466.63 83.75 465.80 84.50 465.50" fill="none" stroke="#ff1010" stroke-width="3.1" stroke-linecap="round" stroke-linejoin="round"/>
<circle cx="86" cy="465" r="1.6" fill="#ff1010"/>
<circle cx="88.6" cy="464.24" r="1.6" fill="#ff1010"/>
<circle cx="91.2" cy="463.54" r="1.6" fill="#ff1010"/>
<circle cx="93.8" cy="462.96" r="1.6" fill="#ff1010"/>
<circle cx="96.4" cy="462.54" r="1.6" fill="#ff1010"/>
<circle cx="99" cy="462.2" r="1.6" fill="#ff1010"/>
<circle cx="101.6" cy="461.97" r="1.6" fill="#ff1010"/>
<circle cx="106.6" cy="461.84" r="1.6" fill="#ff1010"/>
<circle cx="111.6" cy="462.34" r="1.6" fill="#ff1010"/>
<circle cx="116.6" cy="463.44" r="1.6" fill="#ff1010"/>
<circle cx="121.6" cy="463.93" r="1.6" fill="#ff1010"/>
<circle cx="126.6" cy="464.09" r="1.6" fill="#ff1010"/>
<circle cx="131.6" cy="464.26" r="1.6" fill="#ff1010"/>
<circle cx="136.6" cy="464.86" r="1.6" fill="#ff1010"/>
<circle cx="141.6" cy="465.12" r="1.6" fill="#ff1010"/>
<circle cx="148" cy="465.72" r="1.6" fill="#ff1010"/>
<circle cx="154.4" cy="466.27" r="1.6" fill="#ff1010"/>
<circle cx="160.8" cy="466.57" r="1.6" fill="#ff1010"/>
<circle cx="169.4" cy="466.6" r="1.6" fill="#ff1010"/>
<circle cx="178" cy="466.6" r="1.6" fill="#ff1010"/>
<circle cx="186.6" cy="466.6" r="1.6" fill="#ff1010"/>
<circle cx="197" cy="466.6" r="1.6" fill="#ff1010"/>
<circle cx="207.4" cy="466.9" r="1.6" fill="#ff1010"/>
<path d="M56.00 419.50 C56.03 420.42 56.07 422.58 56.20 425.00 C56.33 427.42 56.47 430.22 56.80 434.00 C57.13 437.78 57.67 443.90 58.20 447.70 C58.73 451.50 59.25 453.92 60.00 456.80 C60.75 459.68 61.78 462.72 62.70 465.00 C63.62 467.28 64.58 469.07 65.50 470.50 C66.42 471.93 67.15 472.62 68.20 473.60 C69.25 474.58 70.58 475.75 71.80 476.40 C73.02 477.05 74.13 477.28 75.50 477.50 C76.87 477.72 78.50 477.73 80.00 477.70 C81.50 477.67 83.75 477.37 84.50 477.30" fill="none" stroke="#000" stroke-width="3.1" stroke-linecap="round" stroke-linejoin="round"/>
<circle cx="88" cy="476.64" r="1.45" fill="#000"/>
<circle cx="90.6" cy="476.05" r="1.45" fill="#000"/>
<circle cx="93.2" cy="475.4" r="1.45" fill="#000"/>
<circle cx="95.8" cy="474.73" r="1.45" fill="#000"/>
<circle cx="98.4" cy="474.05" r="1.45" fill="#000"/>
<circle cx="101" cy="473.3" r="1.45" fill="#000"/>
<circle cx="106" cy="472.1" r="1.45" fill="#000"/>
<circle cx="111" cy="471.08" r="1.45" fill="#000"/>
<circle cx="116" cy="470.27" r="1.45" fill="#000"/>
<circle cx="121" cy="470.05" r="1.45" fill="#000"/>
<circle cx="126" cy="469.87" r="1.45" fill="#000"/>
<circle cx="131" cy="469.8" r="1.45" fill="#000"/>
<circle cx="136" cy="469.79" r="1.45" fill="#000"/>
<circle cx="141" cy="469.52" r="1.45" fill="#000"/>
<circle cx="147.4" cy="469.22" r="1.45" fill="#000"/>
<circle cx="153.8" cy="468.91" r="1.45" fill="#000"/>
<circle cx="160.2" cy="469.13" r="1.45" fill="#000"/>
<circle cx="168.8" cy="469.18" r="1.45" fill="#000"/>
<circle cx="177.4" cy="469.55" r="1.45" fill="#000"/>
<circle cx="186" cy="470.11" r="1.45" fill="#000"/>
<circle cx="196.4" cy="470.68" r="1.45" fill="#000"/>
<circle cx="206.8" cy="470.89" r="1.45" fill="#000"/>
<line x1="55.6" y1="366" x2="55.6" y2="489.3" stroke="#6a6a6a" stroke-width="0.9"/>
<line x1="53.3" y1="384" x2="55.6" y2="384" stroke="#6a6a6a" stroke-width="0.9"/>
<text x="48" y="387" font-size="9" text-anchor="end" textLength="29.07" lengthAdjust="spacingAndGlyphs" stroke="#222" stroke-width="0.14">0.0020</text>
<line x1="53.3" y1="409.65" x2="55.6" y2="409.65" stroke="#6a6a6a" stroke-width="0.9"/>
<text x="48" y="412.65" font-size="9" text-anchor="end" textLength="27.27" lengthAdjust="spacingAndGlyphs" stroke="#222" stroke-width="0.14">0.0015</text>
<line x1="53.3" y1="435.3" x2="55.6" y2="435.3" stroke="#6a6a6a" stroke-width="0.9"/>
<text x="48" y="438.3" font-size="9" text-anchor="end" textLength="27.45" lengthAdjust="spacingAndGlyphs" stroke="#222" stroke-width="0.14">0.0010</text>
<line x1="53.3" y1="460.95" x2="55.6" y2="460.95" stroke="#6a6a6a" stroke-width="0.9"/>
<text x="48" y="463.95" font-size="9" text-anchor="end" textLength="29.07" lengthAdjust="spacingAndGlyphs" stroke="#222" stroke-width="0.14">0.0005</text>
<line x1="53.3" y1="486.6" x2="55.6" y2="486.6" stroke="#6a6a6a" stroke-width="0.9"/>
<text x="48" y="489.6" font-size="9" text-anchor="end" textLength="5.4" lengthAdjust="spacingAndGlyphs" stroke="#222" stroke-width="0.14">0</text>
<line x1="55.6" y1="489.3" x2="208.8" y2="489.3" stroke="#6a6a6a" stroke-width="0.9"/>
<line x1="80.5" y1="489.3" x2="80.5" y2="491.6" stroke="#6a6a6a" stroke-width="0.9"/>
<text x="80.5" y="502.6" font-size="9" text-anchor="middle" textLength="18.27" lengthAdjust="spacingAndGlyphs" stroke="#222" stroke-width="0.14">0.03</text>
<line x1="105.4" y1="489.3" x2="105.4" y2="491.6" stroke="#6a6a6a" stroke-width="0.9"/>
<text x="105.4" y="502.6" font-size="9" text-anchor="middle" textLength="18.27" lengthAdjust="spacingAndGlyphs" stroke="#222" stroke-width="0.14">0.06</text>
<line x1="130.3" y1="489.3" x2="130.3" y2="491.6" stroke="#6a6a6a" stroke-width="0.9"/>
<text x="130.3" y="502.6" font-size="9" text-anchor="middle" textLength="18.27" lengthAdjust="spacingAndGlyphs" stroke="#222" stroke-width="0.14">0.09</text>
<line x1="155.2" y1="489.3" x2="155.2" y2="491.6" stroke="#6a6a6a" stroke-width="0.9"/>
<text x="155.2" y="502.6" font-size="9" text-anchor="middle" textLength="16.47" lengthAdjust="spacingAndGlyphs" stroke="#222" stroke-width="0.14">0.12</text>
<line x1="180.1" y1="489.3" x2="180.1" y2="491.6" stroke="#6a6a6a" stroke-width="0.9"/>
<text x="180.1" y="502.6" font-size="9" text-anchor="middle" textLength="16.47" lengthAdjust="spacingAndGlyphs" stroke="#222" stroke-width="0.14">0.15</text>
<line x1="205" y1="489.3" x2="205" y2="491.6" stroke="#6a6a6a" stroke-width="0.9"/>
<text x="205" y="502.6" font-size="9" text-anchor="middle" textLength="16.47" lengthAdjust="spacingAndGlyphs" stroke="#222" stroke-width="0.14">0.18</text>
<text x="131.5" y="520.4" font-size="9.9" text-anchor="middle" textLength="43" lengthAdjust="spacingAndGlyphs" stroke="#222" stroke-width="0.14">Time (µs)</text>
<text x="0" y="0" font-size="10.2" transform="translate(9.2 424.8) rotate(-90)" text-anchor="middle" textLength="102" lengthAdjust="spacingAndGlyphs" stroke="#222" stroke-width="0.14">ΔO.D. at 550 nm (a.u.)</text>
<circle cx="148.2" cy="363.2" r="1.4" fill="#1010ff"/>
<text x="0" y="0" font-size="8" transform="translate(154.6 365.8) scale(1.12 1)">100 mM <tspan font-weight="bold">MQ</tspan><tspan dy="-3.3" font-size="5.2" font-weight="bold">+</tspan></text>
<circle cx="148.2" cy="374.45" r="1.4" fill="#ff1010"/>
<text x="0" y="0" font-size="8" transform="translate(154.6 377.05) scale(1.12 1)">10 mM <tspan font-weight="bold">MQ</tspan><tspan dy="-3.3" font-size="5.2" font-weight="bold">+</tspan></text>
<circle cx="148.2" cy="385.7" r="1.4" fill="#000"/>
<text x="0" y="0" font-size="8" transform="translate(154.6 388.3) scale(1.12 1)">1 mM <tspan font-weight="bold">MQ</tspan><tspan dy="-3.3" font-size="5.2" font-weight="bold">+</tspan></text>
<text x="64.4" y="381.2" font-size="8.2" fill="#2b2bff" textLength="17.4" lengthAdjust="spacingAndGlyphs" stroke="#2b2bff" stroke-width="0.14">CPET</text>
<text x="0" y="0" font-size="8.2" transform="translate(77.8 406) scale(1.1 1)"><tspan font-weight="bold">MQ</tspan><tspan dy="-3.3" font-size="5.2" font-weight="bold">•</tspan></text>
<line x1="75.8" y1="401.5" x2="69.06" y2="398.56" stroke="#3f4f68" stroke-width="0.9"/>
<path d="M66.4 397.4 L70.12 397.38 L68.92 400.13 Z" fill="#3f4f68"/>
<text x="59.8" y="429.4" font-size="8.4" fill="#555" textLength="9.2" lengthAdjust="spacingAndGlyphs" stroke="#555" stroke-width="0.14">PT</text>
<text x="0" y="0" font-size="8.2" transform="translate(73.8 439.2) scale(1.1 1)"><tspan font-weight="bold">*[Ru-L]</tspan><tspan dy="-3.3" font-size="5.2" font-weight="bold">+</tspan></text>
<line x1="71.8" y1="435.3" x2="63.5" y2="435.3" stroke="#3f4f68" stroke-width="0.9"/>
<path d="M60.6 435.3 L64 433.8 L64 436.8 Z" fill="#3f4f68"/>
<line x1="72.4" y1="439.3" x2="59.37" y2="463.64" stroke="#3f4f68" stroke-width="0.9"/>
<path d="M58 466.2 L58.28 462.49 L60.93 463.91 Z" fill="#3f4f68"/>
<text x="100.3" y="458.9" font-size="8.4" fill="#ff1010" textLength="8.9" lengthAdjust="spacingAndGlyphs" stroke="#ff1010" stroke-width="0.14">ET</text>
<text x="58.9" y="485.8" font-size="8.4" fill="#ff1010" textLength="9" lengthAdjust="spacingAndGlyphs" stroke="#ff1010" stroke-width="0.14">PT</text>
<text x="83.4" y="486.2" font-size="8.4" fill="#555" textLength="9" lengthAdjust="spacingAndGlyphs" stroke="#555" stroke-width="0.14">ET</text>
<text x="0" y="0" font-size="8.2" transform="translate(108.6 486.6) scale(1.1 1)"><tspan font-weight="bold">MQ</tspan><tspan dy="-3.3" font-size="5.2" font-weight="bold">•</tspan></text>
<line x1="107" y1="481.3" x2="92.49" y2="469.98" stroke="#3f4f68" stroke-width="0.9"/>
<path d="M90.2 468.2 L93.8 469.11 L91.96 471.47 Z" fill="#3f4f68"/>
<line x1="109.2" y1="479.6" x2="107.65" y2="478.33" stroke="#3f4f68" stroke-width="0.9"/>
<path d="M105.4 476.5 L108.98 477.49 L107.09 479.81 Z" fill="#3f4f68"/>
<text x="0" y="0" font-size="8.2" transform="translate(154.2 436) scale(1.1 1)"><tspan font-weight="bold">HMQ</tspan><tspan dy="-3.3" font-size="5.2" font-weight="bold">•+</tspan></text>
<line x1="153.2" y1="429" x2="143.67" y2="405" stroke="#3f4f68" stroke-width="0.9"/>
<path d="M142.6 402.3 L145.25 404.91 L142.46 406.01 Z" fill="#3f4f68"/>
<line x1="153.2" y1="438.6" x2="146.55" y2="457.86" stroke="#3f4f68" stroke-width="0.9"/>
<path d="M145.6 460.6 L145.29 456.9 L148.13 457.88 Z" fill="#3f4f68"/>
<text x="229" y="364.7" font-size="14.3" font-weight="bold" fill="#000" stroke="#000" stroke-width="0.6">h</text>
<line x1="278.13" y1="466.05" x2="416.8" y2="386.12" stroke="#ff1a1a" stroke-width="1.25"/>
<line x1="278.1" y1="488.8" x2="278.1" y2="469.5" stroke="#2b2bff" stroke-width="0.9"/>
<line x1="276.6" y1="488.8" x2="279.6" y2="488.8" stroke="#2b2bff" stroke-width="0.8"/>
<path d="M278.1 466.6 L276.7 470.2 L279.5 470.2 Z" fill="#2b2bff"/>
<circle cx="278.13" cy="466.3" r="1.75" fill="#000"/>
<circle cx="290.77" cy="456.03" r="1.75" fill="#000"/>
<circle cx="416.1" cy="386.12" r="1.75" fill="#000"/>
<path d="M320.4 442.4 L342.4 442.4 L342.4 430.8" fill="none" stroke="#4a4a4a" stroke-width="0.8"/>
<line x1="275.6" y1="365" x2="275.6" y2="489.3" stroke="#6a6a6a" stroke-width="0.9"/>
<line x1="273.3" y1="489.3" x2="275.6" y2="489.3" stroke="#6a6a6a" stroke-width="0.9"/>
<text x="268.2" y="492.3" font-size="9" text-anchor="end" textLength="5.4" lengthAdjust="spacingAndGlyphs" stroke="#222" stroke-width="0.14">0</text>
<line x1="273.3" y1="472.87" x2="275.6" y2="472.87" stroke="#6a6a6a" stroke-width="0.9"/>
<text x="268.2" y="475.87" font-size="9" text-anchor="end" textLength="10.62" lengthAdjust="spacingAndGlyphs" stroke="#222" stroke-width="0.14">20</text>
<line x1="273.3" y1="456.44" x2="275.6" y2="456.44" stroke="#6a6a6a" stroke-width="0.9"/>
<text x="268.2" y="459.44" font-size="9" text-anchor="end" textLength="10.8" lengthAdjust="spacingAndGlyphs" stroke="#222" stroke-width="0.14">40</text>
<line x1="273.3" y1="440.01" x2="275.6" y2="440.01" stroke="#6a6a6a" stroke-width="0.9"/>
<text x="268.2" y="443.01" font-size="9" text-anchor="end" textLength="10.62" lengthAdjust="spacingAndGlyphs" stroke="#222" stroke-width="0.14">60</text>
<line x1="273.3" y1="423.58" x2="275.6" y2="423.58" stroke="#6a6a6a" stroke-width="0.9"/>
<text x="268.2" y="426.58" font-size="9" text-anchor="end" textLength="10.62" lengthAdjust="spacingAndGlyphs" stroke="#222" stroke-width="0.14">80</text>
<line x1="273.3" y1="407.15" x2="275.6" y2="407.15" stroke="#6a6a6a" stroke-width="0.9"/>
<text x="268.2" y="410.15" font-size="9" text-anchor="end" textLength="14.4" lengthAdjust="spacingAndGlyphs" stroke="#222" stroke-width="0.14">100</text>
<line x1="273.3" y1="390.72" x2="275.6" y2="390.72" stroke="#6a6a6a" stroke-width="0.9"/>
<text x="268.2" y="393.72" font-size="9" text-anchor="end" textLength="14.22" lengthAdjust="spacingAndGlyphs" stroke="#222" stroke-width="0.14">120</text>
<line x1="273.3" y1="374.29" x2="275.6" y2="374.29" stroke="#6a6a6a" stroke-width="0.9"/>
<text x="268.2" y="377.29" font-size="9" text-anchor="end" textLength="14.4" lengthAdjust="spacingAndGlyphs" stroke="#222" stroke-width="0.14">140</text>
<line x1="275.6" y1="489.3" x2="429.4" y2="489.3" stroke="#6a6a6a" stroke-width="0.9"/>
<line x1="276.3" y1="489.3" x2="276.3" y2="491.6" stroke="#6a6a6a" stroke-width="0.9"/>
<text x="276.3" y="502.5" font-size="9" text-anchor="middle" textLength="5.4" lengthAdjust="spacingAndGlyphs" stroke="#222" stroke-width="0.14">0</text>
<line x1="304.4" y1="489.3" x2="304.4" y2="491.6" stroke="#6a6a6a" stroke-width="0.9"/>
<text x="304.4" y="502.5" font-size="9" text-anchor="middle" textLength="18.27" lengthAdjust="spacingAndGlyphs" stroke="#222" stroke-width="0.14">0.02</text>
<line x1="332.5" y1="489.3" x2="332.5" y2="491.6" stroke="#6a6a6a" stroke-width="0.9"/>
<text x="332.5" y="502.5" font-size="9" text-anchor="middle" textLength="18.45" lengthAdjust="spacingAndGlyphs" stroke="#222" stroke-width="0.14">0.04</text>
<line x1="360.6" y1="489.3" x2="360.6" y2="491.6" stroke="#6a6a6a" stroke-width="0.9"/>
<text x="360.6" y="502.5" font-size="9" text-anchor="middle" textLength="18.27" lengthAdjust="spacingAndGlyphs" stroke="#222" stroke-width="0.14">0.06</text>
<line x1="388.7" y1="489.3" x2="388.7" y2="491.6" stroke="#6a6a6a" stroke-width="0.9"/>
<text x="388.7" y="502.5" font-size="9" text-anchor="middle" textLength="18.27" lengthAdjust="spacingAndGlyphs" stroke="#222" stroke-width="0.14">0.08</text>
<line x1="416.8" y1="489.3" x2="416.8" y2="491.6" stroke="#6a6a6a" stroke-width="0.9"/>
<text x="416.8" y="502.5" font-size="9" text-anchor="middle" textLength="16.65" lengthAdjust="spacingAndGlyphs" stroke="#222" stroke-width="0.14">0.10</text>
<text x="0" y="0" font-size="9.9" transform="translate(294.4 520.6) scale(1.22 1)">Concentration [MQ<tspan dy="-3.4" font-size="5.6">+</tspan><tspan dy="3.4">] (M)</tspan></text>
<text transform="translate(242.8 457.6) rotate(-90) scale(1.12 1)" font-size="9.9" x="0" y="0"><tspan font-style="italic">k</tspan><tspan font-size="6.2" dy="2.6">obs-MQ</tspan><tspan dy="-2.6"> (µs</tspan><tspan dy="-3.6" font-size="6.2">−1</tspan><tspan dy="3.6">)</tspan></text>
<text transform="translate(280.2 483.2) scale(0.98 1)" font-size="8.4" fill="#2b2bff" x="0" y="0"><tspan font-style="italic">k</tspan><tspan font-size="6" dy="2.2">4-p</tspan><tspan dy="-2.2"> = </tspan><tspan font-style="italic">k</tspan><tspan font-size="6" dy="2.2">2</tspan></text>
<line x1="311.2" y1="479.8" x2="317.9" y2="479.8" stroke="#2b2bff" stroke-width="0.9"/>
<path d="M320.8 479.8 L317.4 481.4 L317.4 478.2 Z" fill="#2b2bff"/>
<text transform="translate(345.2 438.6) scale(1.08 1)" font-size="8.4" fill="#4a4a4a" x="0" y="0"><tspan font-style="italic">k</tspan><tspan font-size="6" dy="2.2">4</tspan></text>
<line x1="354.4" y1="436" x2="362.1" y2="436" stroke="#3f4f68" stroke-width="0.8"/>
<path d="M364.8 436 L361.6 437.4 L361.6 434.6 Z" fill="#3f4f68"/>
<text x="366.8" y="428" font-size="8.4" textLength="71.4" lengthAdjust="spacingAndGlyphs" stroke="#222" stroke-width="0.14">Intermolecular ET</text>
<text x="366.8" y="438.2" font-size="8.4" textLength="53" lengthAdjust="spacingAndGlyphs" stroke="#222" stroke-width="0.14">quenching to</text>
<text x="0" y="0" font-size="8.4" transform="translate(366.8 448.6) scale(1.08 1)"><tspan font-weight="bold">[Ru-L]</tspan><tspan dy="-3.3" font-size="5.4" font-weight="bold">2+</tspan></text>
<text x="323.8" y="476.6" font-size="8.4" textLength="90.6" lengthAdjust="spacingAndGlyphs" stroke="#222" stroke-width="0.14">Parallel intramolecular</text>
<text x="0" y="0" font-size="8.4" transform="translate(323.8 486.4) scale(1.08 1)">quenching to <tspan font-weight="bold">[Ru-L]</tspan><tspan dy="-3.3" font-size="5.4" font-weight="bold">+</tspan></text>
<text x="468.5" y="364.5" font-size="14.3" font-weight="bold" fill="#000" stroke="#000" stroke-width="0.6">i</text>
<line x1="506.3" y1="427.2" x2="660.6" y2="427.2" stroke="#333" stroke-width="0.8"/>
<path d="M506.2 371.3 L508.5 378.9 L510.4 386.4 L512.3 395.8 L513.6 405.3 L515.1 424.2 L516 421.3 L516.79 423.29 L517.4 418.5 L518.57 440.24 L519.2 449.6 L520.38 431.96 L521.1 402.5 L521.6 427.92 L523 454.3 L524.52 439.89 L525.1 421.3 L526.43 417.78 L527 425.1 L528.07 439.95 L529.2 461.9 L530.04 439.34 L530.8 414.7 L531.13 420.18 L532.1 433.6 L532.84 432.83 L534 420.4 L535.14 425.03 L535.8 439.2 L536.71 418.59 L537.2 408.1 L538.04 409.97 L538.7 422.3 L538.83 419.95 L539.2 407.2 L539.48 421.62 L540 444 L541.41 435.51 L541.9 416.6 L542.33 419.76 L543 410 L543.88 422.39 L544.7 429.8 L545.58 423.42 L547.2 404.7 L547.68 412.38 L548 407 L549.39 420.18 L550 439 L550.86 448.32 L552 467 L552.65 439.91 L554 425 L554.96 415.44 L556.4 403 L556.8 411.49 L558 415 L558.84 410.34 L560 411 L561.32 415.73 L562 421 L562.65 412.74 L563.6 405 L564.44 413.8 L565 435 L566.03 414.82 L566.4 408 L567.4 441.83 L568 466 L568.41 445.03 L569.6 416 L570.47 433.6 L571.6 449 L572.11 429.65 L573.6 423 L574.28 428.37 L575.6 421 L576.44 418.58 L578 409 L579.43 439.69 L580 458 L581.01 424.97 L582.4 396 L583.22 431.36 L584 459 L584.61 432.98 L586 400 L587.3 422.54 L588 435 L588.64 431.24 L590.4 415 L590.99 432.27 L592.4 454 L593.51 438.85 L594.4 412 L595.24 425.44 L596.4 427 L597.24 417.87 L598 414 L598.65 423.98 L599.6 443 L600 420.58 L601 408 L601.83 433.45 L602.4 445 L603.06 422.18 L604.4 412 L605.89 417.97 L606.4 423 L607.58 411.32 L609 407 L610.09 423.57 L611 431 L611.96 443.4 L613 458 L613.56 445.32 L615 421 L615.53 418.91 L617 417 L618.34 427.83 L619 449 L620.23 438.3 L621 415 L621.79 409.53 L622.4 396 L622.76 429.58 L623.6 465 L624.25 444.33 L625.6 414 L626.16 431.84 L627 451 L628.5 436.93 L629 413 L630.48 417.35 L631 423 L631.99 424.21 L633 419 L633.98 405.57 L635 398 L635.9 408.55 L637 429 L637.88 423.84 L639 405 L640.46 399.78 L641 391 L641.7 406.74 L642.4 427 L642.87 441.81 L644 463 L645.03 473.14 L645.6 473 L646.2 475 L647 469 L648.02 457.72 L648.6 441 L649.41 452.63 L650 457 L650.69 447.86 L651.6 433 L652.15 434.8 L653 437 L653.63 430.67 L654 419 L654.56 419.24 L655.4 407 L655.86 422.13 L656.2 435 L656.4 417.66 L657 399 L657.53 398.9 L658.4 394 L659.17 392.93 L660 383" fill="none" stroke="#000" stroke-width="0.95" stroke-linejoin="round"/>
<line x1="506.3" y1="365.2" x2="506.3" y2="489.6" stroke="#6a6a6a" stroke-width="0.9"/>
<line x1="505" y1="365.2" x2="506.3" y2="365.2" stroke="#6a6a6a" stroke-width="0.55"/>
<line x1="505" y1="371.4" x2="506.3" y2="371.4" stroke="#6a6a6a" stroke-width="0.55"/>
<line x1="505" y1="377.6" x2="506.3" y2="377.6" stroke="#6a6a6a" stroke-width="0.55"/>
<line x1="505" y1="383.8" x2="506.3" y2="383.8" stroke="#6a6a6a" stroke-width="0.55"/>
<line x1="505" y1="390" x2="506.3" y2="390" stroke="#6a6a6a" stroke-width="0.55"/>
<line x1="505" y1="396.2" x2="506.3" y2="396.2" stroke="#6a6a6a" stroke-width="0.55"/>
<line x1="505" y1="402.4" x2="506.3" y2="402.4" stroke="#6a6a6a" stroke-width="0.55"/>
<line x1="505" y1="408.6" x2="506.3" y2="408.6" stroke="#6a6a6a" stroke-width="0.55"/>
<line x1="505" y1="414.8" x2="506.3" y2="414.8" stroke="#6a6a6a" stroke-width="0.55"/>
<line x1="505" y1="421" x2="506.3" y2="421" stroke="#6a6a6a" stroke-width="0.55"/>
<line x1="505" y1="427.2" x2="506.3" y2="427.2" stroke="#6a6a6a" stroke-width="0.55"/>
<line x1="505" y1="433.4" x2="506.3" y2="433.4" stroke="#6a6a6a" stroke-width="0.55"/>
<line x1="505" y1="439.6" x2="506.3" y2="439.6" stroke="#6a6a6a" stroke-width="0.55"/>
<line x1="505" y1="445.8" x2="506.3" y2="445.8" stroke="#6a6a6a" stroke-width="0.55"/>
<line x1="505" y1="452" x2="506.3" y2="452" stroke="#6a6a6a" stroke-width="0.55"/>
<line x1="505" y1="458.2" x2="506.3" y2="458.2" stroke="#6a6a6a" stroke-width="0.55"/>
<line x1="505" y1="464.4" x2="506.3" y2="464.4" stroke="#6a6a6a" stroke-width="0.55"/>
<line x1="505" y1="470.6" x2="506.3" y2="470.6" stroke="#6a6a6a" stroke-width="0.55"/>
<line x1="505" y1="476.8" x2="506.3" y2="476.8" stroke="#6a6a6a" stroke-width="0.55"/>
<line x1="505" y1="483" x2="506.3" y2="483" stroke="#6a6a6a" stroke-width="0.55"/>
<line x1="505" y1="489.2" x2="506.3" y2="489.2" stroke="#6a6a6a" stroke-width="0.55"/>
<line x1="504" y1="365.2" x2="506.3" y2="365.2" stroke="#6a6a6a" stroke-width="0.9"/>
<text x="498.9" y="368.2" font-size="9" text-anchor="end" textLength="12.87" lengthAdjust="spacingAndGlyphs" stroke="#222" stroke-width="0.14">0.2</text>
<line x1="504" y1="396.2" x2="506.3" y2="396.2" stroke="#6a6a6a" stroke-width="0.9"/>
<text x="498.9" y="399.2" font-size="9" text-anchor="end" textLength="11.25" lengthAdjust="spacingAndGlyphs" stroke="#222" stroke-width="0.14">0.1</text>
<line x1="504" y1="427.2" x2="506.3" y2="427.2" stroke="#6a6a6a" stroke-width="0.9"/>
<text x="498.9" y="430.2" font-size="9" text-anchor="end" textLength="5.4" lengthAdjust="spacingAndGlyphs" stroke="#222" stroke-width="0.14">0</text>
<line x1="504" y1="458.2" x2="506.3" y2="458.2" stroke="#6a6a6a" stroke-width="0.9"/>
<text x="498.9" y="461.2" font-size="9" text-anchor="end" textLength="16.47" lengthAdjust="spacingAndGlyphs" stroke="#222" stroke-width="0.14">−0.1</text>
<line x1="504" y1="489.2" x2="506.3" y2="489.2" stroke="#6a6a6a" stroke-width="0.9"/>
<text x="498.9" y="492.2" font-size="9" text-anchor="end" textLength="18.09" lengthAdjust="spacingAndGlyphs" stroke="#222" stroke-width="0.14">−0.2</text>
<line x1="506.3" y1="489.6" x2="660.6" y2="489.6" stroke="#6a6a6a" stroke-width="0.9"/>
<line x1="513.79" y1="489.6" x2="513.79" y2="491" stroke="#6a6a6a" stroke-width="0.6"/>
<line x1="515.48" y1="489.6" x2="515.48" y2="491" stroke="#6a6a6a" stroke-width="0.6"/>
<line x1="516.95" y1="489.6" x2="516.95" y2="491" stroke="#6a6a6a" stroke-width="0.6"/>
<line x1="518.24" y1="489.6" x2="518.24" y2="491" stroke="#6a6a6a" stroke-width="0.6"/>
<line x1="519.4" y1="489.6" x2="519.4" y2="491.9" stroke="#6a6a6a" stroke-width="0.9"/>
<line x1="527.02" y1="489.6" x2="527.02" y2="491" stroke="#6a6a6a" stroke-width="0.6"/>
<line x1="531.47" y1="489.6" x2="531.47" y2="491" stroke="#6a6a6a" stroke-width="0.6"/>
<line x1="534.63" y1="489.6" x2="534.63" y2="491" stroke="#6a6a6a" stroke-width="0.6"/>
<line x1="537.08" y1="489.6" x2="537.08" y2="491" stroke="#6a6a6a" stroke-width="0.6"/>
<line x1="539.09" y1="489.6" x2="539.09" y2="491" stroke="#6a6a6a" stroke-width="0.6"/>
<line x1="540.78" y1="489.6" x2="540.78" y2="491" stroke="#6a6a6a" stroke-width="0.6"/>
<line x1="542.25" y1="489.6" x2="542.25" y2="491" stroke="#6a6a6a" stroke-width="0.6"/>
<line x1="543.54" y1="489.6" x2="543.54" y2="491" stroke="#6a6a6a" stroke-width="0.6"/>
<line x1="544.7" y1="489.6" x2="544.7" y2="491.9" stroke="#6a6a6a" stroke-width="0.9"/>
<line x1="552.32" y1="489.6" x2="552.32" y2="491" stroke="#6a6a6a" stroke-width="0.6"/>
<line x1="556.77" y1="489.6" x2="556.77" y2="491" stroke="#6a6a6a" stroke-width="0.6"/>
<line x1="559.93" y1="489.6" x2="559.93" y2="491" stroke="#6a6a6a" stroke-width="0.6"/>
<line x1="562.38" y1="489.6" x2="562.38" y2="491" stroke="#6a6a6a" stroke-width="0.6"/>
<line x1="564.39" y1="489.6" x2="564.39" y2="491" stroke="#6a6a6a" stroke-width="0.6"/>
<line x1="566.08" y1="489.6" x2="566.08" y2="491" stroke="#6a6a6a" stroke-width="0.6"/>
<line x1="567.55" y1="489.6" x2="567.55" y2="491" stroke="#6a6a6a" stroke-width="0.6"/>
<line x1="568.84" y1="489.6" x2="568.84" y2="491" stroke="#6a6a6a" stroke-width="0.6"/>
<line x1="570" y1="489.6" x2="570" y2="491.9" stroke="#6a6a6a" stroke-width="0.9"/>
<line x1="577.62" y1="489.6" x2="577.62" y2="491" stroke="#6a6a6a" stroke-width="0.6"/>
<line x1="582.07" y1="489.6" x2="582.07" y2="491" stroke="#6a6a6a" stroke-width="0.6"/>
<line x1="585.23" y1="489.6" x2="585.23" y2="491" stroke="#6a6a6a" stroke-width="0.6"/>
<line x1="587.68" y1="489.6" x2="587.68" y2="491" stroke="#6a6a6a" stroke-width="0.6"/>
<line x1="589.69" y1="489.6" x2="589.69" y2="491" stroke="#6a6a6a" stroke-width="0.6"/>
<line x1="591.38" y1="489.6" x2="591.38" y2="491" stroke="#6a6a6a" stroke-width="0.6"/>
<line x1="592.85" y1="489.6" x2="592.85" y2="491" stroke="#6a6a6a" stroke-width="0.6"/>
<line x1="594.14" y1="489.6" x2="594.14" y2="491" stroke="#6a6a6a" stroke-width="0.6"/>
<line x1="595.3" y1="489.6" x2="595.3" y2="491.9" stroke="#6a6a6a" stroke-width="0.9"/>
<line x1="602.92" y1="489.6" x2="602.92" y2="491" stroke="#6a6a6a" stroke-width="0.6"/>
<line x1="607.37" y1="489.6" x2="607.37" y2="491" stroke="#6a6a6a" stroke-width="0.6"/>
<line x1="610.53" y1="489.6" x2="610.53" y2="491" stroke="#6a6a6a" stroke-width="0.6"/>
<line x1="612.98" y1="489.6" x2="612.98" y2="491" stroke="#6a6a6a" stroke-width="0.6"/>
<line x1="614.99" y1="489.6" x2="614.99" y2="491" stroke="#6a6a6a" stroke-width="0.6"/>
<line x1="616.68" y1="489.6" x2="616.68" y2="491" stroke="#6a6a6a" stroke-width="0.6"/>
<line x1="618.15" y1="489.6" x2="618.15" y2="491" stroke="#6a6a6a" stroke-width="0.6"/>
<line x1="619.44" y1="489.6" x2="619.44" y2="491" stroke="#6a6a6a" stroke-width="0.6"/>
<line x1="620.6" y1="489.6" x2="620.6" y2="491.9" stroke="#6a6a6a" stroke-width="0.9"/>
<line x1="628.22" y1="489.6" x2="628.22" y2="491" stroke="#6a6a6a" stroke-width="0.6"/>
<line x1="632.67" y1="489.6" x2="632.67" y2="491" stroke="#6a6a6a" stroke-width="0.6"/>
<line x1="635.83" y1="489.6" x2="635.83" y2="491" stroke="#6a6a6a" stroke-width="0.6"/>
<line x1="638.28" y1="489.6" x2="638.28" y2="491" stroke="#6a6a6a" stroke-width="0.6"/>
<line x1="640.29" y1="489.6" x2="640.29" y2="491" stroke="#6a6a6a" stroke-width="0.6"/>
<line x1="641.98" y1="489.6" x2="641.98" y2="491" stroke="#6a6a6a" stroke-width="0.6"/>
<line x1="643.45" y1="489.6" x2="643.45" y2="491" stroke="#6a6a6a" stroke-width="0.6"/>
<line x1="644.74" y1="489.6" x2="644.74" y2="491" stroke="#6a6a6a" stroke-width="0.6"/>
<line x1="645.9" y1="489.6" x2="645.9" y2="491.9" stroke="#6a6a6a" stroke-width="0.9"/>
<line x1="653.52" y1="489.6" x2="653.52" y2="491" stroke="#6a6a6a" stroke-width="0.6"/>
<line x1="657.97" y1="489.6" x2="657.97" y2="491" stroke="#6a6a6a" stroke-width="0.6"/>
<line x1="661.13" y1="489.6" x2="661.13" y2="491" stroke="#6a6a6a" stroke-width="0.6"/>
<text x="519.4" y="503.2" font-size="9" text-anchor="middle" textLength="22.05" lengthAdjust="spacingAndGlyphs" stroke="#222" stroke-width="0.14">0.001</text>
<text x="544.7" y="503.2" font-size="9" text-anchor="middle" textLength="16.65" lengthAdjust="spacingAndGlyphs" stroke="#222" stroke-width="0.14">0.01</text>
<text x="570" y="503.2" font-size="9" text-anchor="middle" textLength="11.25" lengthAdjust="spacingAndGlyphs" stroke="#222" stroke-width="0.14">0.1</text>
<text x="595.3" y="503.2" font-size="9" text-anchor="middle" textLength="3.6" lengthAdjust="spacingAndGlyphs" stroke="#222" stroke-width="0.14">1</text>
<text x="620.6" y="503.2" font-size="9" text-anchor="middle" textLength="9" lengthAdjust="spacingAndGlyphs" stroke="#222" stroke-width="0.14">10</text>
<text x="645.9" y="503.2" font-size="9" text-anchor="middle" textLength="14.4" lengthAdjust="spacingAndGlyphs" stroke="#222" stroke-width="0.14">100</text>
<text x="583.4" y="520.2" font-size="9.9" text-anchor="middle" textLength="42.5" lengthAdjust="spacingAndGlyphs" stroke="#222" stroke-width="0.14">Time (µs)</text>
<text x="0" y="0" font-size="10.69" transform="translate(477.4 427.2) rotate(-90)" text-anchor="middle" textLength="40.5" lengthAdjust="spacingAndGlyphs" stroke="#222" stroke-width="0.14">Residual</text>
<text x="251" y="549.9" font-size="14.3" font-weight="bold" fill="#000" stroke="#000" stroke-width="0.6">k</text>
<line x1="289.2" y1="614.3" x2="434.4" y2="614.3" stroke="#333" stroke-width="0.8"/>
<path d="M289.2 588.5 L291.7 587.2 L294.2 588.2 L295.9 589.4 L297.6 610.3 L298.66 621.98 L299.8 637.2 L300.31 634.33 L301.4 621.2 L301.83 619.14 L303.1 617 L304.29 598.58 L304.8 591.9 L305.43 602.73 L306 610.3 L306.35 605.26 L307.3 603.6 L308.32 613.83 L309 625.4 L309.92 606.4 L310.5 597 L311.16 606.2 L312.3 626.3 L313.36 623.43 L314.4 608.7 L315.54 612.09 L316.5 607.8 L317.03 622.15 L317.7 629.6 L318.21 612.03 L319.4 600.3 L320.1 613.51 L320.6 620.4 L321.06 604.98 L321.6 601.1 L322.21 605.84 L323.2 618.7 L323.86 626.38 L324.9 625.4 L325.49 622.86 L326.6 609.5 L327.98 614.17 L328.6 631.3 L329.17 624.03 L329.9 617 L330.21 599.65 L331.1 584.4 L331.94 601.17 L332.3 628.8 L333.01 614.25 L333.6 610.3 L334.25 601.18 L334.8 581 L335.08 594.67 L335.6 622.1 L335.92 603.81 L336.7 584.4 L336.98 596.59 L337.8 620.4 L338.25 615.79 L338.7 599.4 L339.3 610.97 L340 625.4 L340.68 630.61 L341.2 647.2 L342.12 627.52 L342.9 617 L343.51 630.97 L344 632.1 L344.39 624.07 L345.4 614.5 L346.06 591.99 L346.6 579.3 L346.98 600.93 L347.6 608.7 L348.72 602.15 L349.1 606.2 L349.88 602.41 L350.4 586 L350.77 583.36 L351.4 577.6 L351.73 591.27 L352.6 608.7 L353.07 629.66 L353.4 648.1 L354.16 629.31 L354.6 622.1 L354.94 637.65 L355.4 643 L356.16 623.47 L356.8 605.3 L357.34 622.16 L358 625.4 L358.59 611.11 L359.1 610.3 L359.68 629.75 L360 654 L360.37 621.49 L360.8 597 L361.41 621.35 L362.1 650.6 L362.45 629.36 L363.3 604.5 L363.72 627.33 L364.7 642.2 L364.78 634.03 L365 618 L366.31 633.96 L367 650 L367.85 621.48 L368.4 600 L369.39 609.95 L370 622 L370.58 610.5 L371.6 586 L372.23 574.22 L373 566 L373.68 602.17 L374 642 L374.93 601.39 L375.6 570 L376.54 605.62 L377 648 L377.39 631.65 L378.4 602 L378.94 614.25 L380 614 L381.04 601.49 L381.4 586 L381.71 575.85 L382.6 578 L383.1 596.44 L384 618 L384.78 629.53 L385.4 628 L385.91 611.97 L386.6 606 L387.34 602.92 L388 610 L388.47 636.78 L389.6 662 L390.44 629.92 L391 610 L391.67 626.85 L392.4 638 L393.41 627.36 L394 620 L395.11 623.37 L395.6 636 L396.45 628.8 L397 614 L398.1 609.92 L398.6 606 L399.02 601.68 L400 610 L401.03 598.43 L402 596 L402.9 598.18 L403.6 612 L404.5 603.11 L405 602 L405.36 611.46 L406.4 630 L407.17 606.83 L408 582 L408.62 581.42 L409.4 590 L409.99 594.25 L410.6 586 L411.32 597.18 L412 596 L412.37 598.9 L413.4 588 L414.23 591.62 L414.6 594 L415.32 588.52 L416 582 L416.99 589.92 L417.4 610 L418.09 636.59 L418.6 662 L419.16 647.15 L420 626 L420.85 632.44 L421.4 650 L422.12 645.35 L422.6 642 L423.29 655.91 L424 666 L424.39 648.44 L425.4 628 L425.92 626.3 L426.6 614 L427.11 616.52 L428 610 L428.98 589.75 L429.6 566 L430.29 565.5 L430.6 578 L431.15 587.59 L431.6 594 L432.19 606.69 L432.6 622 L432.88 596.65 L433.6 580 L434.04 581.54 L434.4 592" fill="none" stroke="#000" stroke-width="0.95" stroke-linejoin="round"/>
<line x1="289.2" y1="555.4" x2="289.2" y2="672.6" stroke="#6a6a6a" stroke-width="0.9"/>
<line x1="287.9" y1="556" x2="289.2" y2="556" stroke="#6a6a6a" stroke-width="0.55"/>
<line x1="287.9" y1="561.79" x2="289.2" y2="561.79" stroke="#6a6a6a" stroke-width="0.55"/>
<line x1="287.9" y1="567.58" x2="289.2" y2="567.58" stroke="#6a6a6a" stroke-width="0.55"/>
<line x1="287.9" y1="573.37" x2="289.2" y2="573.37" stroke="#6a6a6a" stroke-width="0.55"/>
<line x1="287.9" y1="579.16" x2="289.2" y2="579.16" stroke="#6a6a6a" stroke-width="0.55"/>
<line x1="287.9" y1="584.95" x2="289.2" y2="584.95" stroke="#6a6a6a" stroke-width="0.55"/>
<line x1="287.9" y1="590.74" x2="289.2" y2="590.74" stroke="#6a6a6a" stroke-width="0.55"/>
<line x1="287.9" y1="596.53" x2="289.2" y2="596.53" stroke="#6a6a6a" stroke-width="0.55"/>
<line x1="287.9" y1="602.32" x2="289.2" y2="602.32" stroke="#6a6a6a" stroke-width="0.55"/>
<line x1="287.9" y1="608.11" x2="289.2" y2="608.11" stroke="#6a6a6a" stroke-width="0.55"/>
<line x1="287.9" y1="613.9" x2="289.2" y2="613.9" stroke="#6a6a6a" stroke-width="0.55"/>
<line x1="287.9" y1="619.69" x2="289.2" y2="619.69" stroke="#6a6a6a" stroke-width="0.55"/>
<line x1="287.9" y1="625.48" x2="289.2" y2="625.48" stroke="#6a6a6a" stroke-width="0.55"/>
<line x1="287.9" y1="631.27" x2="289.2" y2="631.27" stroke="#6a6a6a" stroke-width="0.55"/>
<line x1="287.9" y1="637.06" x2="289.2" y2="637.06" stroke="#6a6a6a" stroke-width="0.55"/>
<line x1="287.9" y1="642.85" x2="289.2" y2="642.85" stroke="#6a6a6a" stroke-width="0.55"/>
<line x1="287.9" y1="648.64" x2="289.2" y2="648.64" stroke="#6a6a6a" stroke-width="0.55"/>
<line x1="287.9" y1="654.43" x2="289.2" y2="654.43" stroke="#6a6a6a" stroke-width="0.55"/>
<line x1="287.9" y1="660.22" x2="289.2" y2="660.22" stroke="#6a6a6a" stroke-width="0.55"/>
<line x1="287.9" y1="666.01" x2="289.2" y2="666.01" stroke="#6a6a6a" stroke-width="0.55"/>
<line x1="287.9" y1="671.8" x2="289.2" y2="671.8" stroke="#6a6a6a" stroke-width="0.55"/>
<line x1="286.9" y1="556.4" x2="289.2" y2="556.4" stroke="#6a6a6a" stroke-width="0.9"/>
<text x="281.8" y="559.4" font-size="9" text-anchor="end" textLength="12.87" lengthAdjust="spacingAndGlyphs" stroke="#222" stroke-width="0.14">0.2</text>
<line x1="286.9" y1="585.35" x2="289.2" y2="585.35" stroke="#6a6a6a" stroke-width="0.9"/>
<text x="281.8" y="588.35" font-size="9" text-anchor="end" textLength="11.25" lengthAdjust="spacingAndGlyphs" stroke="#222" stroke-width="0.14">0.1</text>
<line x1="286.9" y1="614.3" x2="289.2" y2="614.3" stroke="#6a6a6a" stroke-width="0.9"/>
<text x="281.8" y="617.3" font-size="9" text-anchor="end" textLength="5.4" lengthAdjust="spacingAndGlyphs" stroke="#222" stroke-width="0.14">0</text>
<line x1="286.9" y1="643.25" x2="289.2" y2="643.25" stroke="#6a6a6a" stroke-width="0.9"/>
<text x="281.8" y="646.25" font-size="9" text-anchor="end" textLength="16.47" lengthAdjust="spacingAndGlyphs" stroke="#222" stroke-width="0.14">−0.1</text>
<line x1="286.9" y1="672.2" x2="289.2" y2="672.2" stroke="#6a6a6a" stroke-width="0.9"/>
<text x="281.8" y="675.2" font-size="9" text-anchor="end" textLength="18.09" lengthAdjust="spacingAndGlyphs" stroke="#222" stroke-width="0.14">−0.2</text>
<line x1="289.2" y1="672.6" x2="434.6" y2="672.6" stroke="#6a6a6a" stroke-width="0.9"/>
<line x1="295.1" y1="672.6" x2="295.1" y2="674" stroke="#6a6a6a" stroke-width="0.6"/>
<line x1="296.96" y1="672.6" x2="296.96" y2="674" stroke="#6a6a6a" stroke-width="0.6"/>
<line x1="298.54" y1="672.6" x2="298.54" y2="674" stroke="#6a6a6a" stroke-width="0.6"/>
<line x1="299.91" y1="672.6" x2="299.91" y2="674" stroke="#6a6a6a" stroke-width="0.6"/>
<line x1="301.12" y1="672.6" x2="301.12" y2="674" stroke="#6a6a6a" stroke-width="0.6"/>
<line x1="302.2" y1="672.6" x2="302.2" y2="674.9" stroke="#6a6a6a" stroke-width="0.9"/>
<line x1="309.3" y1="672.6" x2="309.3" y2="674" stroke="#6a6a6a" stroke-width="0.6"/>
<line x1="313.46" y1="672.6" x2="313.46" y2="674" stroke="#6a6a6a" stroke-width="0.6"/>
<line x1="316.41" y1="672.6" x2="316.41" y2="674" stroke="#6a6a6a" stroke-width="0.6"/>
<line x1="318.7" y1="672.6" x2="318.7" y2="674" stroke="#6a6a6a" stroke-width="0.6"/>
<line x1="320.56" y1="672.6" x2="320.56" y2="674" stroke="#6a6a6a" stroke-width="0.6"/>
<line x1="322.14" y1="672.6" x2="322.14" y2="674" stroke="#6a6a6a" stroke-width="0.6"/>
<line x1="323.51" y1="672.6" x2="323.51" y2="674" stroke="#6a6a6a" stroke-width="0.6"/>
<line x1="324.72" y1="672.6" x2="324.72" y2="674" stroke="#6a6a6a" stroke-width="0.6"/>
<line x1="325.8" y1="672.6" x2="325.8" y2="674.9" stroke="#6a6a6a" stroke-width="0.9"/>
<line x1="332.9" y1="672.6" x2="332.9" y2="674" stroke="#6a6a6a" stroke-width="0.6"/>
<line x1="337.06" y1="672.6" x2="337.06" y2="674" stroke="#6a6a6a" stroke-width="0.6"/>
<line x1="340.01" y1="672.6" x2="340.01" y2="674" stroke="#6a6a6a" stroke-width="0.6"/>
<line x1="342.3" y1="672.6" x2="342.3" y2="674" stroke="#6a6a6a" stroke-width="0.6"/>
<line x1="344.16" y1="672.6" x2="344.16" y2="674" stroke="#6a6a6a" stroke-width="0.6"/>
<line x1="345.74" y1="672.6" x2="345.74" y2="674" stroke="#6a6a6a" stroke-width="0.6"/>
<line x1="347.11" y1="672.6" x2="347.11" y2="674" stroke="#6a6a6a" stroke-width="0.6"/>
<line x1="348.32" y1="672.6" x2="348.32" y2="674" stroke="#6a6a6a" stroke-width="0.6"/>
<line x1="349.4" y1="672.6" x2="349.4" y2="674.9" stroke="#6a6a6a" stroke-width="0.9"/>
<line x1="356.5" y1="672.6" x2="356.5" y2="674" stroke="#6a6a6a" stroke-width="0.6"/>
<line x1="360.66" y1="672.6" x2="360.66" y2="674" stroke="#6a6a6a" stroke-width="0.6"/>
<line x1="363.61" y1="672.6" x2="363.61" y2="674" stroke="#6a6a6a" stroke-width="0.6"/>
<line x1="365.9" y1="672.6" x2="365.9" y2="674" stroke="#6a6a6a" stroke-width="0.6"/>
<line x1="367.76" y1="672.6" x2="367.76" y2="674" stroke="#6a6a6a" stroke-width="0.6"/>
<line x1="369.34" y1="672.6" x2="369.34" y2="674" stroke="#6a6a6a" stroke-width="0.6"/>
<line x1="370.71" y1="672.6" x2="370.71" y2="674" stroke="#6a6a6a" stroke-width="0.6"/>
<line x1="371.92" y1="672.6" x2="371.92" y2="674" stroke="#6a6a6a" stroke-width="0.6"/>
<line x1="373" y1="672.6" x2="373" y2="674.9" stroke="#6a6a6a" stroke-width="0.9"/>
<line x1="380.1" y1="672.6" x2="380.1" y2="674" stroke="#6a6a6a" stroke-width="0.6"/>
<line x1="384.26" y1="672.6" x2="384.26" y2="674" stroke="#6a6a6a" stroke-width="0.6"/>
<line x1="387.21" y1="672.6" x2="387.21" y2="674" stroke="#6a6a6a" stroke-width="0.6"/>
<line x1="389.5" y1="672.6" x2="389.5" y2="674" stroke="#6a6a6a" stroke-width="0.6"/>
<line x1="391.36" y1="672.6" x2="391.36" y2="674" stroke="#6a6a6a" stroke-width="0.6"/>
<line x1="392.94" y1="672.6" x2="392.94" y2="674" stroke="#6a6a6a" stroke-width="0.6"/>
<line x1="394.31" y1="672.6" x2="394.31" y2="674" stroke="#6a6a6a" stroke-width="0.6"/>
<line x1="395.52" y1="672.6" x2="395.52" y2="674" stroke="#6a6a6a" stroke-width="0.6"/>
<line x1="396.6" y1="672.6" x2="396.6" y2="674.9" stroke="#6a6a6a" stroke-width="0.9"/>
<line x1="403.7" y1="672.6" x2="403.7" y2="674" stroke="#6a6a6a" stroke-width="0.6"/>
<line x1="407.86" y1="672.6" x2="407.86" y2="674" stroke="#6a6a6a" stroke-width="0.6"/>
<line x1="410.81" y1="672.6" x2="410.81" y2="674" stroke="#6a6a6a" stroke-width="0.6"/>
<line x1="413.1" y1="672.6" x2="413.1" y2="674" stroke="#6a6a6a" stroke-width="0.6"/>
<line x1="414.96" y1="672.6" x2="414.96" y2="674" stroke="#6a6a6a" stroke-width="0.6"/>
<line x1="416.54" y1="672.6" x2="416.54" y2="674" stroke="#6a6a6a" stroke-width="0.6"/>
<line x1="417.91" y1="672.6" x2="417.91" y2="674" stroke="#6a6a6a" stroke-width="0.6"/>
<line x1="419.12" y1="672.6" x2="419.12" y2="674" stroke="#6a6a6a" stroke-width="0.6"/>
<line x1="420.2" y1="672.6" x2="420.2" y2="674.9" stroke="#6a6a6a" stroke-width="0.9"/>
<line x1="427.3" y1="672.6" x2="427.3" y2="674" stroke="#6a6a6a" stroke-width="0.6"/>
<line x1="431.46" y1="672.6" x2="431.46" y2="674" stroke="#6a6a6a" stroke-width="0.6"/>
<line x1="434.41" y1="672.6" x2="434.41" y2="674" stroke="#6a6a6a" stroke-width="0.6"/>
<text x="0" y="0" font-size="9" transform="translate(305.2 679.6) rotate(-90)" text-anchor="end" textLength="22.05" lengthAdjust="spacingAndGlyphs" stroke="#222" stroke-width="0.14">0.001</text>
<text x="0" y="0" font-size="9" transform="translate(328.8 679.6) rotate(-90)" text-anchor="end" textLength="16.65" lengthAdjust="spacingAndGlyphs" stroke="#222" stroke-width="0.14">0.01</text>
<text x="0" y="0" font-size="9" transform="translate(352.4 679.6) rotate(-90)" text-anchor="end" textLength="11.25" lengthAdjust="spacingAndGlyphs" stroke="#222" stroke-width="0.14">0.1</text>
<text x="0" y="0" font-size="9" transform="translate(376 679.6) rotate(-90)" text-anchor="end" textLength="3.6" lengthAdjust="spacingAndGlyphs" stroke="#222" stroke-width="0.14">1</text>
<text x="0" y="0" font-size="9" transform="translate(399.6 679.6) rotate(-90)" text-anchor="end" textLength="9" lengthAdjust="spacingAndGlyphs" stroke="#222" stroke-width="0.14">10</text>
<text x="0" y="0" font-size="9" transform="translate(423.2 679.6) rotate(-90)" text-anchor="end" textLength="14.4" lengthAdjust="spacingAndGlyphs" stroke="#222" stroke-width="0.14">100</text>
<text x="361.7" y="711.8" font-size="9.9" text-anchor="middle" textLength="42.5" lengthAdjust="spacingAndGlyphs" stroke="#222" stroke-width="0.14">Time (µs)</text>
<text x="0" y="0" font-size="10.69" transform="translate(260.2 614) rotate(-90)" text-anchor="middle" textLength="40.5" lengthAdjust="spacingAndGlyphs" stroke="#222" stroke-width="0.14">Residual</text>
<defs>
<filter id="hj" x="0" y="0" width="1" height="1" filterUnits="objectBoundingBox" color-interpolation-filters="sRGB">
<feTurbulence type="fractalNoise" baseFrequency="0.55 0.85" numOctaves="2" seed="11" result="t1"/>
<feColorMatrix in="t1" type="matrix" values="1 0 0 0 0  1 0 0 0 0  1 0 0 0 0  0 0 0 0 1" result="f1"/>
<feTurbulence type="fractalNoise" baseFrequency="0.03 0.12" numOctaves="2" seed="16" result="t2"/>
<feColorMatrix in="t2" type="matrix" values="1 0 0 0 0  1 0 0 0 0  1 0 0 0 0  0 0 0 0 1" result="f2"/>
<feComposite in="f1" in2="f2" operator="arithmetic" k1="0" k2="1" k3="0.22" k4="-0.110"/>
<feComponentTransfer><feFuncR type="table" tableValues="0.400 0.460 0.520 0.580 0.640 0.700 0.760 0.820 0.880 0.940 1.000 1.000 1.000 1.000 1.000 1.000 1.000 1.000 1.000 1.000 1.000"/><feFuncG type="table" tableValues="0.400 0.460 0.520 0.580 0.640 0.700 0.760 0.820 0.880 0.940 1.000 0.940 0.880 0.820 0.760 0.700 0.640 0.580 0.520 0.460 0.400"/><feFuncB type="table" tableValues="1.000 1.000 1.000 1.000 1.000 1.000 1.000 1.000 1.000 1.000 1.000 0.940 0.880 0.820 0.760 0.700 0.640 0.580 0.520 0.460 0.400"/><feFuncA type="linear" slope="0" intercept="1"/></feComponentTransfer><feConvolveMatrix order="3" kernelMatrix="0.03 0.11 0.03 0.11 0.44 0.11 0.03 0.11 0.03" edgeMode="duplicate"/>
</filter>
<filter id="hl2" x="0" y="0" width="1" height="1" filterUnits="objectBoundingBox" color-interpolation-filters="sRGB">
<feTurbulence type="fractalNoise" baseFrequency="0.45 0.2" numOctaves="2" seed="31" result="t1"/>
<feColorMatrix in="t1" type="matrix" values="1 0 0 0 0  1 0 0 0 0  1 0 0 0 0  0 0 0 0 1" result="f1"/>
<feTurbulence type="fractalNoise" baseFrequency="0.12 0.05" numOctaves="2" seed="36" result="t2"/>
<feColorMatrix in="t2" type="matrix" values="1 0 0 0 0  1 0 0 0 0  1 0 0 0 0  0 0 0 0 1" result="f2"/>
<feComposite in="f1" in2="f2" operator="arithmetic" k1="0" k2="0.8" k3="0.5" k4="-0.150"/>
<feComponentTransfer><feFuncR type="table" tableValues="0.000 0.100 0.200 0.300 0.400 0.500 0.600 0.700 0.800 0.900 1.000 1.000 1.000 1.000 1.000 1.000 1.000 1.000 1.000 1.000 1.000"/><feFuncG type="table" tableValues="0.000 0.100 0.200 0.300 0.400 0.500 0.600 0.700 0.800 0.900 1.000 0.900 0.800 0.700 0.600 0.500 0.400 0.300 0.200 0.100 0.000"/><feFuncB type="table" tableValues="1.000 1.000 1.000 1.000 1.000 1.000 1.000 1.000 1.000 1.000 1.000 0.900 0.800 0.700 0.600 0.500 0.400 0.300 0.200 0.100 0.000"/><feFuncA type="linear" slope="0" intercept="1"/></feComponentTransfer><feConvolveMatrix order="3" kernelMatrix="0.03 0.11 0.03 0.11 0.44 0.11 0.03 0.11 0.03" edgeMode="duplicate"/>
</filter>
<filter id="hl" x="0" y="0" width="1" height="1" filterUnits="objectBoundingBox" color-interpolation-filters="sRGB">
<feTurbulence type="fractalNoise" baseFrequency="0.55 0.85" numOctaves="2" seed="23" result="t1"/>
<feColorMatrix in="t1" type="matrix" values="1 0 0 0 0  1 0 0 0 0  1 0 0 0 0  0 0 0 0 1" result="f1"/>
<feTurbulence type="fractalNoise" baseFrequency="0.03 0.12" numOctaves="2" seed="28" result="t2"/>
<feColorMatrix in="t2" type="matrix" values="1 0 0 0 0  1 0 0 0 0  1 0 0 0 0  0 0 0 0 1" result="f2"/>
<feComposite in="f1" in2="f2" operator="arithmetic" k1="0" k2="1" k3="0.28" k4="-0.140"/>
<feComponentTransfer><feFuncR type="table" tableValues="0.400 0.460 0.520 0.580 0.640 0.700 0.760 0.820 0.880 0.940 1.000 1.000 1.000 1.000 1.000 1.000 1.000 1.000 1.000 1.000 1.000"/><feFuncG type="table" tableValues="0.400 0.460 0.520 0.580 0.640 0.700 0.760 0.820 0.880 0.940 1.000 0.940 0.880 0.820 0.760 0.700 0.640 0.580 0.520 0.460 0.400"/><feFuncB type="table" tableValues="1.000 1.000 1.000 1.000 1.000 1.000 1.000 1.000 1.000 1.000 1.000 0.940 0.880 0.820 0.760 0.700 0.640 0.580 0.520 0.460 0.400"/><feFuncA type="linear" slope="0" intercept="1"/></feComponentTransfer><feConvolveMatrix order="3" kernelMatrix="0.03 0.11 0.03 0.11 0.44 0.11 0.03 0.11 0.03" edgeMode="duplicate"/>
</filter>
<linearGradient id="cbar" x1="0" y1="0" x2="0" y2="1"><stop offset="0" stop-color="#ff0000"/><stop offset="0.5" stop-color="#ffffff"/><stop offset="1" stop-color="#0000ff"/></linearGradient>
</defs>
<text x="-0.4" y="549.7" font-size="14.3" font-weight="bold" fill="#000" stroke="#000" stroke-width="0.6">j</text>
<rect x="36.2" y="544.6" width="133.8" height="127.6" fill="#fff" filter="url(#hj)"/>
<rect x="36.6" y="544.6" width="29.4" height="127.6" fill="#fff" filter="url(#hl2)" opacity="0.35"/>
<rect x="37" y="548.5" width="42" height="9" fill="#ff4040" opacity="0.1"/>
<rect x="37" y="558.2" width="50" height="1.4" fill="#4040ff" opacity="0.14"/>
<rect x="37" y="611.5" width="45" height="1.2" fill="#4040ff" opacity="0.1"/>
<rect x="70" y="626.5" width="30" height="1.6" fill="#ff4040" opacity="0.1"/>
<rect x="36.2" y="544.6" width="133.8" height="127.6" fill="none" stroke="#666" stroke-width="0.8"/>
<rect x="170.9" y="544.6" width="5.5" height="127.6" fill="url(#cbar)" stroke="#777" stroke-width="0.6"/>
<line x1="176.4" y1="547.2" x2="178.2" y2="547.2" stroke="#6a6a6a" stroke-width="0.6"/>
<text x="0" y="0" font-size="9" transform="translate(183 550.1) scale(1.09 1)">5.0<tspan dx="0.5">×</tspan><tspan dx="0.5">10</tspan><tspan dy="-3.4" font-size="5.6">−4</tspan></text>
<line x1="176.4" y1="578" x2="178.2" y2="578" stroke="#6a6a6a" stroke-width="0.6"/>
<text x="0" y="0" font-size="9" transform="translate(183 580.9) scale(1.09 1)">2.5<tspan dx="0.5">×</tspan><tspan dx="0.5">10</tspan><tspan dy="-3.4" font-size="5.6">−4</tspan></text>
<line x1="176.4" y1="608.9" x2="178.2" y2="608.9" stroke="#6a6a6a" stroke-width="0.6"/>
<text x="0" y="0" font-size="9" transform="translate(183 611.8) scale(1.09 1)">0</text>
<line x1="176.4" y1="639.8" x2="178.2" y2="639.8" stroke="#6a6a6a" stroke-width="0.6"/>
<text x="0" y="0" font-size="9" transform="translate(183 642.7) scale(1.09 1)">−2.5<tspan dx="0.5">×</tspan><tspan dx="0.5">10</tspan><tspan dy="-3.4" font-size="5.6">−4</tspan></text>
<line x1="176.4" y1="669.6" x2="178.2" y2="669.6" stroke="#6a6a6a" stroke-width="0.6"/>
<text x="0" y="0" font-size="9" transform="translate(183 672.5) scale(1.09 1)">−5.0<tspan dx="0.5">×</tspan><tspan dx="0.5">10</tspan><tspan dy="-3.4" font-size="5.6">−4</tspan></text>
<line x1="34.9" y1="671.48" x2="36.2" y2="671.48" stroke="#6a6a6a" stroke-width="0.55"/>
<line x1="34.9" y1="670.01" x2="36.2" y2="670.01" stroke="#6a6a6a" stroke-width="0.55"/>
<line x1="34.9" y1="668.73" x2="36.2" y2="668.73" stroke="#6a6a6a" stroke-width="0.55"/>
<line x1="34.9" y1="667.61" x2="36.2" y2="667.61" stroke="#6a6a6a" stroke-width="0.55"/>
<line x1="33.9" y1="666.6" x2="36.2" y2="666.6" stroke="#6a6a6a" stroke-width="0.9"/>
<line x1="34.9" y1="659.98" x2="36.2" y2="659.98" stroke="#6a6a6a" stroke-width="0.55"/>
<line x1="34.9" y1="656.1" x2="36.2" y2="656.1" stroke="#6a6a6a" stroke-width="0.55"/>
<line x1="34.9" y1="653.35" x2="36.2" y2="653.35" stroke="#6a6a6a" stroke-width="0.55"/>
<line x1="34.9" y1="651.22" x2="36.2" y2="651.22" stroke="#6a6a6a" stroke-width="0.55"/>
<line x1="34.9" y1="649.48" x2="36.2" y2="649.48" stroke="#6a6a6a" stroke-width="0.55"/>
<line x1="34.9" y1="648.01" x2="36.2" y2="648.01" stroke="#6a6a6a" stroke-width="0.55"/>
<line x1="34.9" y1="646.73" x2="36.2" y2="646.73" stroke="#6a6a6a" stroke-width="0.55"/>
<line x1="34.9" y1="645.61" x2="36.2" y2="645.61" stroke="#6a6a6a" stroke-width="0.55"/>
<line x1="33.9" y1="644.6" x2="36.2" y2="644.6" stroke="#6a6a6a" stroke-width="0.9"/>
<line x1="34.9" y1="637.98" x2="36.2" y2="637.98" stroke="#6a6a6a" stroke-width="0.55"/>
<line x1="34.9" y1="634.1" x2="36.2" y2="634.1" stroke="#6a6a6a" stroke-width="0.55"/>
<line x1="34.9" y1="631.35" x2="36.2" y2="631.35" stroke="#6a6a6a" stroke-width="0.55"/>
<line x1="34.9" y1="629.22" x2="36.2" y2="629.22" stroke="#6a6a6a" stroke-width="0.55"/>
<line x1="34.9" y1="627.48" x2="36.2" y2="627.48" stroke="#6a6a6a" stroke-width="0.55"/>
<line x1="34.9" y1="626.01" x2="36.2" y2="626.01" stroke="#6a6a6a" stroke-width="0.55"/>
<line x1="34.9" y1="624.73" x2="36.2" y2="624.73" stroke="#6a6a6a" stroke-width="0.55"/>
<line x1="34.9" y1="623.61" x2="36.2" y2="623.61" stroke="#6a6a6a" stroke-width="0.55"/>
<line x1="33.9" y1="622.6" x2="36.2" y2="622.6" stroke="#6a6a6a" stroke-width="0.9"/>
<line x1="34.9" y1="615.98" x2="36.2" y2="615.98" stroke="#6a6a6a" stroke-width="0.55"/>
<line x1="34.9" y1="612.1" x2="36.2" y2="612.1" stroke="#6a6a6a" stroke-width="0.55"/>
<line x1="34.9" y1="609.35" x2="36.2" y2="609.35" stroke="#6a6a6a" stroke-width="0.55"/>
<line x1="34.9" y1="607.22" x2="36.2" y2="607.22" stroke="#6a6a6a" stroke-width="0.55"/>
<line x1="34.9" y1="605.48" x2="36.2" y2="605.48" stroke="#6a6a6a" stroke-width="0.55"/>
<line x1="34.9" y1="604.01" x2="36.2" y2="604.01" stroke="#6a6a6a" stroke-width="0.55"/>
<line x1="34.9" y1="602.73" x2="36.2" y2="602.73" stroke="#6a6a6a" stroke-width="0.55"/>
<line x1="34.9" y1="601.61" x2="36.2" y2="601.61" stroke="#6a6a6a" stroke-width="0.55"/>
<line x1="33.9" y1="600.6" x2="36.2" y2="600.6" stroke="#6a6a6a" stroke-width="0.9"/>
<line x1="34.9" y1="593.98" x2="36.2" y2="593.98" stroke="#6a6a6a" stroke-width="0.55"/>
<line x1="34.9" y1="590.1" x2="36.2" y2="590.1" stroke="#6a6a6a" stroke-width="0.55"/>
<line x1="34.9" y1="587.35" x2="36.2" y2="587.35" stroke="#6a6a6a" stroke-width="0.55"/>
<line x1="34.9" y1="585.22" x2="36.2" y2="585.22" stroke="#6a6a6a" stroke-width="0.55"/>
<line x1="34.9" y1="583.48" x2="36.2" y2="583.48" stroke="#6a6a6a" stroke-width="0.55"/>
<line x1="34.9" y1="582.01" x2="36.2" y2="582.01" stroke="#6a6a6a" stroke-width="0.55"/>
<line x1="34.9" y1="580.73" x2="36.2" y2="580.73" stroke="#6a6a6a" stroke-width="0.55"/>
<line x1="34.9" y1="579.61" x2="36.2" y2="579.61" stroke="#6a6a6a" stroke-width="0.55"/>
<line x1="33.9" y1="578.6" x2="36.2" y2="578.6" stroke="#6a6a6a" stroke-width="0.9"/>
<line x1="34.9" y1="571.98" x2="36.2" y2="571.98" stroke="#6a6a6a" stroke-width="0.55"/>
<line x1="34.9" y1="568.1" x2="36.2" y2="568.1" stroke="#6a6a6a" stroke-width="0.55"/>
<line x1="34.9" y1="565.35" x2="36.2" y2="565.35" stroke="#6a6a6a" stroke-width="0.55"/>
<line x1="34.9" y1="563.22" x2="36.2" y2="563.22" stroke="#6a6a6a" stroke-width="0.55"/>
<line x1="34.9" y1="561.48" x2="36.2" y2="561.48" stroke="#6a6a6a" stroke-width="0.55"/>
<line x1="34.9" y1="560.01" x2="36.2" y2="560.01" stroke="#6a6a6a" stroke-width="0.55"/>
<line x1="34.9" y1="558.73" x2="36.2" y2="558.73" stroke="#6a6a6a" stroke-width="0.55"/>
<line x1="34.9" y1="557.61" x2="36.2" y2="557.61" stroke="#6a6a6a" stroke-width="0.55"/>
<line x1="33.9" y1="556.6" x2="36.2" y2="556.6" stroke="#6a6a6a" stroke-width="0.9"/>
<line x1="34.9" y1="549.98" x2="36.2" y2="549.98" stroke="#6a6a6a" stroke-width="0.55"/>
<line x1="34.9" y1="546.1" x2="36.2" y2="546.1" stroke="#6a6a6a" stroke-width="0.55"/>
<text x="29.6" y="669.6" font-size="9" text-anchor="end" textLength="22.05" lengthAdjust="spacingAndGlyphs" stroke="#222" stroke-width="0.14">0.001</text>
<text x="29.6" y="647.6" font-size="9" text-anchor="end" textLength="16.65" lengthAdjust="spacingAndGlyphs" stroke="#222" stroke-width="0.14">0.01</text>
<text x="29.6" y="625.6" font-size="9" text-anchor="end" textLength="11.25" lengthAdjust="spacingAndGlyphs" stroke="#222" stroke-width="0.14">0.1</text>
<text x="29.6" y="603.6" font-size="9" text-anchor="end" textLength="3.6" lengthAdjust="spacingAndGlyphs" stroke="#222" stroke-width="0.14">1</text>
<text x="29.6" y="581.6" font-size="9" text-anchor="end" textLength="9" lengthAdjust="spacingAndGlyphs" stroke="#222" stroke-width="0.14">10</text>
<text x="29.6" y="559.6" font-size="9" text-anchor="end" textLength="14.4" lengthAdjust="spacingAndGlyphs" stroke="#222" stroke-width="0.14">100</text>
<line x1="36.8" y1="672.2" x2="36.8" y2="674.5" stroke="#6a6a6a" stroke-width="0.9"/>
<text x="0" y="0" font-size="9" transform="translate(39.8 679.2) rotate(-90)" text-anchor="end" textLength="16.2" lengthAdjust="spacingAndGlyphs" stroke="#222" stroke-width="0.14">400</text>
<line x1="55.8" y1="672.2" x2="55.8" y2="674.5" stroke="#6a6a6a" stroke-width="0.9"/>
<text x="0" y="0" font-size="9" transform="translate(58.8 679.2) rotate(-90)" text-anchor="end" textLength="16.02" lengthAdjust="spacingAndGlyphs" stroke="#222" stroke-width="0.14">450</text>
<line x1="74.8" y1="672.2" x2="74.8" y2="674.5" stroke="#6a6a6a" stroke-width="0.9"/>
<text x="0" y="0" font-size="9" transform="translate(77.8 679.2) rotate(-90)" text-anchor="end" textLength="16.02" lengthAdjust="spacingAndGlyphs" stroke="#222" stroke-width="0.14">500</text>
<line x1="93.8" y1="672.2" x2="93.8" y2="674.5" stroke="#6a6a6a" stroke-width="0.9"/>
<text x="0" y="0" font-size="9" transform="translate(96.8 679.2) rotate(-90)" text-anchor="end" textLength="15.84" lengthAdjust="spacingAndGlyphs" stroke="#222" stroke-width="0.14">550</text>
<line x1="112.8" y1="672.2" x2="112.8" y2="674.5" stroke="#6a6a6a" stroke-width="0.9"/>
<text x="0" y="0" font-size="9" transform="translate(115.8 679.2) rotate(-90)" text-anchor="end" textLength="16.02" lengthAdjust="spacingAndGlyphs" stroke="#222" stroke-width="0.14">600</text>
<line x1="131.8" y1="672.2" x2="131.8" y2="674.5" stroke="#6a6a6a" stroke-width="0.9"/>
<text x="0" y="0" font-size="9" transform="translate(134.8 679.2) rotate(-90)" text-anchor="end" textLength="15.84" lengthAdjust="spacingAndGlyphs" stroke="#222" stroke-width="0.14">650</text>
<line x1="150.8" y1="672.2" x2="150.8" y2="674.5" stroke="#6a6a6a" stroke-width="0.9"/>
<text x="0" y="0" font-size="9" transform="translate(153.8 679.2) rotate(-90)" text-anchor="end" textLength="15.75" lengthAdjust="spacingAndGlyphs" stroke="#222" stroke-width="0.14">700</text>
<line x1="169.8" y1="672.2" x2="169.8" y2="674.5" stroke="#6a6a6a" stroke-width="0.9"/>
<text x="0" y="0" font-size="9" transform="translate(172.8 679.2) rotate(-90)" text-anchor="end" textLength="15.57" lengthAdjust="spacingAndGlyphs" stroke="#222" stroke-width="0.14">750</text>
<text x="103" y="712.8" font-size="9.9" text-anchor="middle" textLength="80" lengthAdjust="spacingAndGlyphs" stroke="#222" stroke-width="0.14">Wavelength (nm)</text>
<text x="0" y="0" font-size="10.69" transform="translate(8.3 608.5) rotate(-90)" text-anchor="middle" textLength="42.5" lengthAdjust="spacingAndGlyphs" stroke="#222" stroke-width="0.14">Time (µs)</text>
<text x="0" y="0" font-size="10" transform="translate(230.6 609) rotate(90)" text-anchor="middle" textLength="60" lengthAdjust="spacingAndGlyphs" stroke="#222" stroke-width="0.14">ΔΔO.D. (a.u.)</text>
<path d="M451.1 539.6 L451.1 547.2 Q451.1 549.5 454.0 549.5" fill="none" stroke="#000" stroke-width="3.0"/>
<rect x="484.6" y="545" width="133.4" height="127.2" fill="#fff" filter="url(#hl)"/>
<rect x="485" y="545" width="28" height="127.2" fill="#fff" filter="url(#hl2)" opacity="0.55"/>
<rect x="494" y="550" width="22" height="8" fill="#ff4040" opacity="0.09"/>
<rect x="486" y="559" width="26" height="3" fill="#4040ff" opacity="0.06"/>
<rect x="486" y="592" width="28" height="2" fill="#4040ff" opacity="0.07"/>
<rect x="484.6" y="545" width="133.4" height="127.2" fill="none" stroke="#666" stroke-width="0.8"/>
<rect x="618.9" y="545" width="5.5" height="127.2" fill="url(#cbar)" stroke="#777" stroke-width="0.6"/>
<line x1="624.4" y1="556" x2="626.2" y2="556" stroke="#6a6a6a" stroke-width="0.6"/>
<text x="0" y="0" font-size="9" transform="translate(630.6 558.9) scale(1.09 1)">5.0<tspan dx="0.5">×</tspan><tspan dx="0.5">10</tspan><tspan dy="-3.4" font-size="5.6">−4</tspan></text>
<line x1="624.4" y1="582.8" x2="626.2" y2="582.8" stroke="#6a6a6a" stroke-width="0.6"/>
<text x="0" y="0" font-size="9" transform="translate(630.6 585.7) scale(1.09 1)">2.5<tspan dx="0.5">×</tspan><tspan dx="0.5">10</tspan><tspan dy="-3.4" font-size="5.6">−4</tspan></text>
<line x1="624.4" y1="609.2" x2="626.2" y2="609.2" stroke="#6a6a6a" stroke-width="0.6"/>
<text x="0" y="0" font-size="9" transform="translate(630.6 612.1) scale(1.09 1)">0</text>
<line x1="624.4" y1="635.6" x2="626.2" y2="635.6" stroke="#6a6a6a" stroke-width="0.6"/>
<text x="0" y="0" font-size="9" transform="translate(630.6 638.5) scale(1.09 1)">−2.5<tspan dx="0.5">×</tspan><tspan dx="0.5">10</tspan><tspan dy="-3.4" font-size="5.6">−4</tspan></text>
<line x1="624.4" y1="661.8" x2="626.2" y2="661.8" stroke="#6a6a6a" stroke-width="0.6"/>
<text x="0" y="0" font-size="9" transform="translate(630.6 664.7) scale(1.09 1)">−5.0<tspan dx="0.5">×</tspan><tspan dx="0.5">10</tspan><tspan dy="-3.4" font-size="5.6">−4</tspan></text>
<line x1="483.3" y1="671.88" x2="484.6" y2="671.88" stroke="#6a6a6a" stroke-width="0.55"/>
<line x1="483.3" y1="670.41" x2="484.6" y2="670.41" stroke="#6a6a6a" stroke-width="0.55"/>
<line x1="483.3" y1="669.13" x2="484.6" y2="669.13" stroke="#6a6a6a" stroke-width="0.55"/>
<line x1="483.3" y1="668.01" x2="484.6" y2="668.01" stroke="#6a6a6a" stroke-width="0.55"/>
<line x1="482.3" y1="667" x2="484.6" y2="667" stroke="#6a6a6a" stroke-width="0.9"/>
<line x1="483.3" y1="660.38" x2="484.6" y2="660.38" stroke="#6a6a6a" stroke-width="0.55"/>
<line x1="483.3" y1="656.5" x2="484.6" y2="656.5" stroke="#6a6a6a" stroke-width="0.55"/>
<line x1="483.3" y1="653.75" x2="484.6" y2="653.75" stroke="#6a6a6a" stroke-width="0.55"/>
<line x1="483.3" y1="651.62" x2="484.6" y2="651.62" stroke="#6a6a6a" stroke-width="0.55"/>
<line x1="483.3" y1="649.88" x2="484.6" y2="649.88" stroke="#6a6a6a" stroke-width="0.55"/>
<line x1="483.3" y1="648.41" x2="484.6" y2="648.41" stroke="#6a6a6a" stroke-width="0.55"/>
<line x1="483.3" y1="647.13" x2="484.6" y2="647.13" stroke="#6a6a6a" stroke-width="0.55"/>
<line x1="483.3" y1="646.01" x2="484.6" y2="646.01" stroke="#6a6a6a" stroke-width="0.55"/>
<line x1="482.3" y1="645" x2="484.6" y2="645" stroke="#6a6a6a" stroke-width="0.9"/>
<line x1="483.3" y1="638.38" x2="484.6" y2="638.38" stroke="#6a6a6a" stroke-width="0.55"/>
<line x1="483.3" y1="634.5" x2="484.6" y2="634.5" stroke="#6a6a6a" stroke-width="0.55"/>
<line x1="483.3" y1="631.75" x2="484.6" y2="631.75" stroke="#6a6a6a" stroke-width="0.55"/>
<line x1="483.3" y1="629.62" x2="484.6" y2="629.62" stroke="#6a6a6a" stroke-width="0.55"/>
<line x1="483.3" y1="627.88" x2="484.6" y2="627.88" stroke="#6a6a6a" stroke-width="0.55"/>
<line x1="483.3" y1="626.41" x2="484.6" y2="626.41" stroke="#6a6a6a" stroke-width="0.55"/>
<line x1="483.3" y1="625.13" x2="484.6" y2="625.13" stroke="#6a6a6a" stroke-width="0.55"/>
<line x1="483.3" y1="624.01" x2="484.6" y2="624.01" stroke="#6a6a6a" stroke-width="0.55"/>
<line x1="482.3" y1="623" x2="484.6" y2="623" stroke="#6a6a6a" stroke-width="0.9"/>
<line x1="483.3" y1="616.38" x2="484.6" y2="616.38" stroke="#6a6a6a" stroke-width="0.55"/>
<line x1="483.3" y1="612.5" x2="484.6" y2="612.5" stroke="#6a6a6a" stroke-width="0.55"/>
<line x1="483.3" y1="609.75" x2="484.6" y2="609.75" stroke="#6a6a6a" stroke-width="0.55"/>
<line x1="483.3" y1="607.62" x2="484.6" y2="607.62" stroke="#6a6a6a" stroke-width="0.55"/>
<line x1="483.3" y1="605.88" x2="484.6" y2="605.88" stroke="#6a6a6a" stroke-width="0.55"/>
<line x1="483.3" y1="604.41" x2="484.6" y2="604.41" stroke="#6a6a6a" stroke-width="0.55"/>
<line x1="483.3" y1="603.13" x2="484.6" y2="603.13" stroke="#6a6a6a" stroke-width="0.55"/>
<line x1="483.3" y1="602.01" x2="484.6" y2="602.01" stroke="#6a6a6a" stroke-width="0.55"/>
<line x1="482.3" y1="601" x2="484.6" y2="601" stroke="#6a6a6a" stroke-width="0.9"/>
<line x1="483.3" y1="594.38" x2="484.6" y2="594.38" stroke="#6a6a6a" stroke-width="0.55"/>
<line x1="483.3" y1="590.5" x2="484.6" y2="590.5" stroke="#6a6a6a" stroke-width="0.55"/>
<line x1="483.3" y1="587.75" x2="484.6" y2="587.75" stroke="#6a6a6a" stroke-width="0.55"/>
<line x1="483.3" y1="585.62" x2="484.6" y2="585.62" stroke="#6a6a6a" stroke-width="0.55"/>
<line x1="483.3" y1="583.88" x2="484.6" y2="583.88" stroke="#6a6a6a" stroke-width="0.55"/>
<line x1="483.3" y1="582.41" x2="484.6" y2="582.41" stroke="#6a6a6a" stroke-width="0.55"/>
<line x1="483.3" y1="581.13" x2="484.6" y2="581.13" stroke="#6a6a6a" stroke-width="0.55"/>
<line x1="483.3" y1="580.01" x2="484.6" y2="580.01" stroke="#6a6a6a" stroke-width="0.55"/>
<line x1="482.3" y1="579" x2="484.6" y2="579" stroke="#6a6a6a" stroke-width="0.9"/>
<line x1="483.3" y1="572.38" x2="484.6" y2="572.38" stroke="#6a6a6a" stroke-width="0.55"/>
<line x1="483.3" y1="568.5" x2="484.6" y2="568.5" stroke="#6a6a6a" stroke-width="0.55"/>
<line x1="483.3" y1="565.75" x2="484.6" y2="565.75" stroke="#6a6a6a" stroke-width="0.55"/>
<line x1="483.3" y1="563.62" x2="484.6" y2="563.62" stroke="#6a6a6a" stroke-width="0.55"/>
<line x1="483.3" y1="561.88" x2="484.6" y2="561.88" stroke="#6a6a6a" stroke-width="0.55"/>
<line x1="483.3" y1="560.41" x2="484.6" y2="560.41" stroke="#6a6a6a" stroke-width="0.55"/>
<line x1="483.3" y1="559.13" x2="484.6" y2="559.13" stroke="#6a6a6a" stroke-width="0.55"/>
<line x1="483.3" y1="558.01" x2="484.6" y2="558.01" stroke="#6a6a6a" stroke-width="0.55"/>
<line x1="482.3" y1="557" x2="484.6" y2="557" stroke="#6a6a6a" stroke-width="0.9"/>
<line x1="483.3" y1="550.38" x2="484.6" y2="550.38" stroke="#6a6a6a" stroke-width="0.55"/>
<line x1="483.3" y1="546.5" x2="484.6" y2="546.5" stroke="#6a6a6a" stroke-width="0.55"/>
<text x="478" y="670" font-size="9" text-anchor="end" textLength="22.05" lengthAdjust="spacingAndGlyphs" stroke="#222" stroke-width="0.14">0.001</text>
<text x="478" y="648" font-size="9" text-anchor="end" textLength="16.65" lengthAdjust="spacingAndGlyphs" stroke="#222" stroke-width="0.14">0.01</text>
<text x="478" y="626" font-size="9" text-anchor="end" textLength="11.25" lengthAdjust="spacingAndGlyphs" stroke="#222" stroke-width="0.14">0.1</text>
<text x="478" y="604" font-size="9" text-anchor="end" textLength="3.6" lengthAdjust="spacingAndGlyphs" stroke="#222" stroke-width="0.14">1</text>
<text x="478" y="582" font-size="9" text-anchor="end" textLength="9" lengthAdjust="spacingAndGlyphs" stroke="#222" stroke-width="0.14">10</text>
<text x="478" y="560" font-size="9" text-anchor="end" textLength="14.4" lengthAdjust="spacingAndGlyphs" stroke="#222" stroke-width="0.14">100</text>
<line x1="485.2" y1="672.2" x2="485.2" y2="674.5" stroke="#6a6a6a" stroke-width="0.9"/>
<text x="0" y="0" font-size="9" transform="translate(488.2 679.2) rotate(-90)" text-anchor="end" textLength="16.2" lengthAdjust="spacingAndGlyphs" stroke="#222" stroke-width="0.14">400</text>
<line x1="504.14" y1="672.2" x2="504.14" y2="674.5" stroke="#6a6a6a" stroke-width="0.9"/>
<text x="0" y="0" font-size="9" transform="translate(507.14 679.2) rotate(-90)" text-anchor="end" textLength="16.02" lengthAdjust="spacingAndGlyphs" stroke="#222" stroke-width="0.14">450</text>
<line x1="523.09" y1="672.2" x2="523.09" y2="674.5" stroke="#6a6a6a" stroke-width="0.9"/>
<text x="0" y="0" font-size="9" transform="translate(526.09 679.2) rotate(-90)" text-anchor="end" textLength="16.02" lengthAdjust="spacingAndGlyphs" stroke="#222" stroke-width="0.14">500</text>
<line x1="542.03" y1="672.2" x2="542.03" y2="674.5" stroke="#6a6a6a" stroke-width="0.9"/>
<text x="0" y="0" font-size="9" transform="translate(545.03 679.2) rotate(-90)" text-anchor="end" textLength="15.84" lengthAdjust="spacingAndGlyphs" stroke="#222" stroke-width="0.14">550</text>
<line x1="560.97" y1="672.2" x2="560.97" y2="674.5" stroke="#6a6a6a" stroke-width="0.9"/>
<text x="0" y="0" font-size="9" transform="translate(563.97 679.2) rotate(-90)" text-anchor="end" textLength="16.02" lengthAdjust="spacingAndGlyphs" stroke="#222" stroke-width="0.14">600</text>
<line x1="579.91" y1="672.2" x2="579.91" y2="674.5" stroke="#6a6a6a" stroke-width="0.9"/>
<text x="0" y="0" font-size="9" transform="translate(582.91 679.2) rotate(-90)" text-anchor="end" textLength="15.84" lengthAdjust="spacingAndGlyphs" stroke="#222" stroke-width="0.14">650</text>
<line x1="598.86" y1="672.2" x2="598.86" y2="674.5" stroke="#6a6a6a" stroke-width="0.9"/>
<text x="0" y="0" font-size="9" transform="translate(601.86 679.2) rotate(-90)" text-anchor="end" textLength="15.75" lengthAdjust="spacingAndGlyphs" stroke="#222" stroke-width="0.14">700</text>
<line x1="617.8" y1="672.2" x2="617.8" y2="674.5" stroke="#6a6a6a" stroke-width="0.9"/>
<text x="0" y="0" font-size="9" transform="translate(620.8 679.2) rotate(-90)" text-anchor="end" textLength="15.57" lengthAdjust="spacingAndGlyphs" stroke="#222" stroke-width="0.14">750</text>
<text x="554.4" y="712.8" font-size="9.9" text-anchor="middle" textLength="80" lengthAdjust="spacingAndGlyphs" stroke="#222" stroke-width="0.14">Wavelength (nm)</text>
<text x="0" y="0" font-size="10.69" transform="translate(458 608.5) rotate(-90)" text-anchor="middle" textLength="42.5" lengthAdjust="spacingAndGlyphs" stroke="#222" stroke-width="0.14">Time (µs)</text>
<text x="0" y="0" font-size="10" transform="translate(677 609) rotate(90)" text-anchor="middle" textLength="60" lengthAdjust="spacingAndGlyphs" stroke="#222" stroke-width="0.14">ΔΔO.D. (a.u.)</text>
</svg></body></html>
